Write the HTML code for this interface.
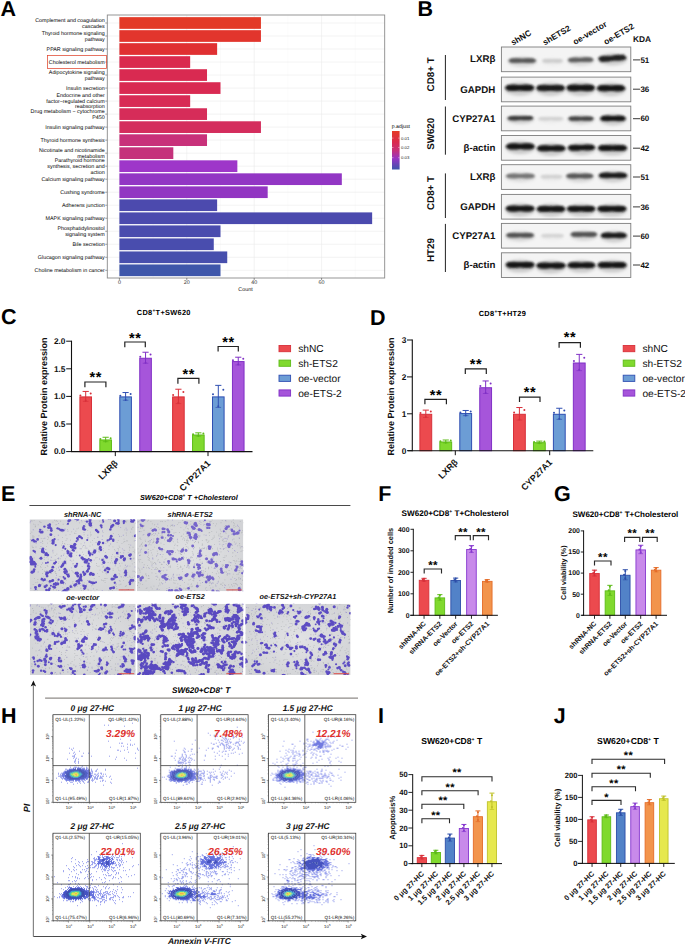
<!DOCTYPE html><html><head><meta charset="utf-8"><title>Figure</title><style>html,body{margin:0;padding:0;background:#fff;}svg{display:block;}text{font-family:"Liberation Sans",sans-serif;text-rendering:geometricPrecision;}</style></head><body>
<svg width="685" height="946" viewBox="0 0 685 946" font-family="Liberation Sans, sans-serif">
<defs><filter id="blur1" x="-20%" y="-100%" width="140%" height="300%"><feGaussianBlur stdDeviation="1.1"/></filter><filter id="blur2" x="-20%" y="-100%" width="140%" height="300%"><feGaussianBlur stdDeviation="1.0"/></filter><filter id="blurh" x="-20%" y="-100%" width="140%" height="300%"><feGaussianBlur stdDeviation="1.8"/></filter><filter id="blurf" x="-5%" y="-5%" width="110%" height="110%"><feGaussianBlur stdDeviation="0.3"/></filter><filter id="blurm" x="-10%" y="-10%" width="120%" height="120%"><feGaussianBlur stdDeviation="2"/></filter><filter id="blurc" x="-50%" y="-50%" width="200%" height="200%"><feGaussianBlur stdDeviation="0.4"/></filter><linearGradient id="padj" x1="0" y1="0" x2="0" y2="1"><stop offset="0" stop-color="#E53A26"/><stop offset="0.3" stop-color="#D92A4F"/><stop offset="0.5" stop-color="#C73178"/><stop offset="0.72" stop-color="#9535C4"/><stop offset="1" stop-color="#3D55AA"/></linearGradient><radialGradient id="mbg" cx="0.5" cy="0.5" r="0.6"><stop offset="0" stop-color="#e1e2e4"/><stop offset="1" stop-color="#d2d3d6"/></radialGradient><radialGradient id="core"><stop offset="0" stop-color="#f0e040"/><stop offset="0.25" stop-color="#90e040"/><stop offset="0.5" stop-color="#20c0a0"/><stop offset="0.75" stop-color="#2050e0"/><stop offset="1" stop-color="#3040e0" stop-opacity="0"/></radialGradient><radialGradient id="core2"><stop offset="0" stop-color="#40b0c0"/><stop offset="0.4" stop-color="#2848d8"/><stop offset="1" stop-color="#3040e0" stop-opacity="0"/></radialGradient></defs>
<text x="0.5" y="15.8" font-size="21.5" font-weight="bold">A</text>
<rect x="107.3" y="15" width="277.4" height="263" fill="#fff"/>
<line x1="119.4" y1="15" x2="119.4" y2="278" stroke="#ebebeb" stroke-width="0.6"/>
<line x1="153.1" y1="15" x2="153.1" y2="278" stroke="#f4f4f4" stroke-width="0.4"/>
<line x1="186.8" y1="15" x2="186.8" y2="278" stroke="#ebebeb" stroke-width="0.6"/>
<line x1="220.5" y1="15" x2="220.5" y2="278" stroke="#f4f4f4" stroke-width="0.4"/>
<line x1="254.2" y1="15" x2="254.2" y2="278" stroke="#ebebeb" stroke-width="0.6"/>
<line x1="287.9" y1="15" x2="287.9" y2="278" stroke="#f4f4f4" stroke-width="0.4"/>
<line x1="321.6" y1="15" x2="321.6" y2="278" stroke="#ebebeb" stroke-width="0.6"/>
<line x1="355.3" y1="15" x2="355.3" y2="278" stroke="#f4f4f4" stroke-width="0.4"/>
<line x1="107.3" y1="23" x2="384.7" y2="23" stroke="#ebebeb" stroke-width="0.6"/>
<line x1="107.3" y1="36.02" x2="384.7" y2="36.02" stroke="#ebebeb" stroke-width="0.6"/>
<line x1="107.3" y1="49.03" x2="384.7" y2="49.03" stroke="#ebebeb" stroke-width="0.6"/>
<line x1="107.3" y1="62.05" x2="384.7" y2="62.05" stroke="#ebebeb" stroke-width="0.6"/>
<line x1="107.3" y1="75.06" x2="384.7" y2="75.06" stroke="#ebebeb" stroke-width="0.6"/>
<line x1="107.3" y1="88.08" x2="384.7" y2="88.08" stroke="#ebebeb" stroke-width="0.6"/>
<line x1="107.3" y1="101.1" x2="384.7" y2="101.1" stroke="#ebebeb" stroke-width="0.6"/>
<line x1="107.3" y1="114.11" x2="384.7" y2="114.11" stroke="#ebebeb" stroke-width="0.6"/>
<line x1="107.3" y1="127.13" x2="384.7" y2="127.13" stroke="#ebebeb" stroke-width="0.6"/>
<line x1="107.3" y1="140.14" x2="384.7" y2="140.14" stroke="#ebebeb" stroke-width="0.6"/>
<line x1="107.3" y1="153.16" x2="384.7" y2="153.16" stroke="#ebebeb" stroke-width="0.6"/>
<line x1="107.3" y1="166.18" x2="384.7" y2="166.18" stroke="#ebebeb" stroke-width="0.6"/>
<line x1="107.3" y1="179.19" x2="384.7" y2="179.19" stroke="#ebebeb" stroke-width="0.6"/>
<line x1="107.3" y1="192.21" x2="384.7" y2="192.21" stroke="#ebebeb" stroke-width="0.6"/>
<line x1="107.3" y1="205.22" x2="384.7" y2="205.22" stroke="#ebebeb" stroke-width="0.6"/>
<line x1="107.3" y1="218.24" x2="384.7" y2="218.24" stroke="#ebebeb" stroke-width="0.6"/>
<line x1="107.3" y1="231.26" x2="384.7" y2="231.26" stroke="#ebebeb" stroke-width="0.6"/>
<line x1="107.3" y1="244.27" x2="384.7" y2="244.27" stroke="#ebebeb" stroke-width="0.6"/>
<line x1="107.3" y1="257.29" x2="384.7" y2="257.29" stroke="#ebebeb" stroke-width="0.6"/>
<line x1="107.3" y1="270.3" x2="384.7" y2="270.3" stroke="#ebebeb" stroke-width="0.6"/>
<rect x="119.4" y="17.15" width="141.54" height="11.7" fill="#E33A27"/>
<line x1="105.3" y1="23" x2="107.3" y2="23" stroke="#333" stroke-width="0.5"/>
<text x="104.7" y="22.07" font-size="5.35" text-anchor="end">Complement and coagulation</text>
<text x="104.7" y="27.62" font-size="5.35" text-anchor="end">cascades</text>
<rect x="119.4" y="30.17" width="141.54" height="11.7" fill="#E2352D"/>
<line x1="105.3" y1="36.02" x2="107.3" y2="36.02" stroke="#333" stroke-width="0.5"/>
<text x="104.7" y="35.09" font-size="5.35" text-anchor="end">Thyroid hormone signaling</text>
<text x="104.7" y="40.64" font-size="5.35" text-anchor="end">pathway</text>
<rect x="119.4" y="43.18" width="97.73" height="11.7" fill="#E03032"/>
<line x1="105.3" y1="49.03" x2="107.3" y2="49.03" stroke="#333" stroke-width="0.5"/>
<text x="104.7" y="50.88" font-size="5.35" text-anchor="end">PPAR signaling pathway</text>
<rect x="119.4" y="56.2" width="70.77" height="11.7" fill="#DA2A4E"/>
<line x1="105.3" y1="62.05" x2="107.3" y2="62.05" stroke="#333" stroke-width="0.5"/>
<text x="104.7" y="63.89" font-size="5.35" text-anchor="end">Cholesterol metabolism</text>
<rect x="119.4" y="69.21" width="87.62" height="11.7" fill="#D92A51"/>
<line x1="105.3" y1="75.06" x2="107.3" y2="75.06" stroke="#333" stroke-width="0.5"/>
<text x="104.7" y="74.13" font-size="5.35" text-anchor="end">Adipocytokine signaling</text>
<text x="104.7" y="79.68" font-size="5.35" text-anchor="end">pathway</text>
<rect x="119.4" y="82.23" width="101.1" height="11.7" fill="#D92A52"/>
<line x1="105.3" y1="88.08" x2="107.3" y2="88.08" stroke="#333" stroke-width="0.5"/>
<text x="104.7" y="89.93" font-size="5.35" text-anchor="end">Insulin secretion</text>
<rect x="119.4" y="95.25" width="70.77" height="11.7" fill="#D82B55"/>
<line x1="105.3" y1="101.1" x2="107.3" y2="101.1" stroke="#333" stroke-width="0.5"/>
<text x="104.7" y="97.39" font-size="5.35" text-anchor="end">Endocrine and other</text>
<text x="104.7" y="102.94" font-size="5.35" text-anchor="end">factor−regulated calcium</text>
<text x="104.7" y="108.49" font-size="5.35" text-anchor="end">reabsorption</text>
<rect x="119.4" y="108.26" width="87.62" height="11.7" fill="#D62C59"/>
<line x1="105.3" y1="114.11" x2="107.3" y2="114.11" stroke="#333" stroke-width="0.5"/>
<text x="104.7" y="113.18" font-size="5.35" text-anchor="end">Drug metabolism − cytochrome</text>
<text x="104.7" y="118.73" font-size="5.35" text-anchor="end">P450</text>
<rect x="119.4" y="121.28" width="141.54" height="11.7" fill="#D42D5D"/>
<line x1="105.3" y1="127.13" x2="107.3" y2="127.13" stroke="#333" stroke-width="0.5"/>
<text x="104.7" y="128.97" font-size="5.35" text-anchor="end">Insulin signaling pathway</text>
<rect x="119.4" y="134.29" width="87.62" height="11.7" fill="#C8317A"/>
<line x1="105.3" y1="140.14" x2="107.3" y2="140.14" stroke="#333" stroke-width="0.5"/>
<text x="104.7" y="141.99" font-size="5.35" text-anchor="end">Thyroid hormone synthesis</text>
<rect x="119.4" y="147.31" width="53.92" height="11.7" fill="#C5327B"/>
<line x1="105.3" y1="153.16" x2="107.3" y2="153.16" stroke="#333" stroke-width="0.5"/>
<text x="104.7" y="152.23" font-size="5.35" text-anchor="end">Nicotinate and nicotinamide</text>
<text x="104.7" y="157.78" font-size="5.35" text-anchor="end">metabolism</text>
<rect x="119.4" y="160.33" width="117.95" height="11.7" fill="#9E36C9"/>
<line x1="105.3" y1="166.18" x2="107.3" y2="166.18" stroke="#333" stroke-width="0.5"/>
<text x="104.7" y="162.47" font-size="5.35" text-anchor="end">Parathyroid hormone</text>
<text x="104.7" y="168.02" font-size="5.35" text-anchor="end">synthesis, secretion and</text>
<text x="104.7" y="173.57" font-size="5.35" text-anchor="end">action</text>
<rect x="119.4" y="173.34" width="222.42" height="11.7" fill="#9236C4"/>
<line x1="105.3" y1="179.19" x2="107.3" y2="179.19" stroke="#333" stroke-width="0.5"/>
<text x="104.7" y="181.04" font-size="5.35" text-anchor="end">Calcium signaling pathway</text>
<rect x="119.4" y="186.36" width="148.28" height="11.7" fill="#9236C2"/>
<line x1="105.3" y1="192.21" x2="107.3" y2="192.21" stroke="#333" stroke-width="0.5"/>
<text x="104.7" y="194.05" font-size="5.35" text-anchor="end">Cushing syndrome</text>
<rect x="119.4" y="199.37" width="97.73" height="11.7" fill="#4C4AAE"/>
<line x1="105.3" y1="205.22" x2="107.3" y2="205.22" stroke="#333" stroke-width="0.5"/>
<text x="104.7" y="207.07" font-size="5.35" text-anchor="end">Adherens junction</text>
<rect x="119.4" y="212.39" width="252.75" height="11.7" fill="#4B4AAE"/>
<line x1="105.3" y1="218.24" x2="107.3" y2="218.24" stroke="#333" stroke-width="0.5"/>
<text x="104.7" y="220.09" font-size="5.35" text-anchor="end">MAPK signaling pathway</text>
<rect x="119.4" y="225.41" width="101.1" height="11.7" fill="#4A4CAE"/>
<line x1="105.3" y1="231.26" x2="107.3" y2="231.26" stroke="#333" stroke-width="0.5"/>
<text x="104.7" y="230.33" font-size="5.35" text-anchor="end">Phosphatidylinositol</text>
<text x="104.7" y="235.88" font-size="5.35" text-anchor="end">signaling system</text>
<rect x="119.4" y="238.42" width="94.36" height="11.7" fill="#494DAE"/>
<line x1="105.3" y1="244.27" x2="107.3" y2="244.27" stroke="#333" stroke-width="0.5"/>
<text x="104.7" y="246.12" font-size="5.35" text-anchor="end">Bile secretion</text>
<rect x="119.4" y="251.44" width="107.84" height="11.7" fill="#474FAD"/>
<line x1="105.3" y1="257.29" x2="107.3" y2="257.29" stroke="#333" stroke-width="0.5"/>
<text x="104.7" y="259.13" font-size="5.35" text-anchor="end">Glucagon signaling pathway</text>
<rect x="119.4" y="264.45" width="101.1" height="11.7" fill="#3E56AA"/>
<line x1="105.3" y1="270.3" x2="107.3" y2="270.3" stroke="#333" stroke-width="0.5"/>
<text x="104.7" y="272.15" font-size="5.35" text-anchor="end">Choline metabolism in cancer</text>
<rect x="107.3" y="15" width="277.4" height="263" fill="none" stroke="#8a8a8a" stroke-width="0.9"/>
<line x1="119.4" y1="278" x2="119.4" y2="280" stroke="#333" stroke-width="0.5"/>
<text x="119.4" y="284.45" font-size="5.35" text-anchor="middle" fill="#333">0</text>
<line x1="186.8" y1="278" x2="186.8" y2="280" stroke="#333" stroke-width="0.5"/>
<text x="186.8" y="284.45" font-size="5.35" text-anchor="middle" fill="#333">20</text>
<line x1="254.2" y1="278" x2="254.2" y2="280" stroke="#333" stroke-width="0.5"/>
<text x="254.2" y="284.45" font-size="5.35" text-anchor="middle" fill="#333">40</text>
<line x1="321.6" y1="278" x2="321.6" y2="280" stroke="#333" stroke-width="0.5"/>
<text x="321.6" y="284.45" font-size="5.35" text-anchor="middle" fill="#333">60</text>
<text x="245.5" y="291.45" font-size="5.35" text-anchor="middle" fill="#111">Count</text>
<text x="391.8" y="128.19" font-size="5.2">p.adjust</text>
<rect x="392" y="131" width="7.6" height="38.5" fill="url(#padj)"/>
<line x1="392" y1="138.1" x2="393.5" y2="138.1" stroke="#fff" stroke-width="0.4"/>
<line x1="398.1" y1="138.1" x2="399.6" y2="138.1" stroke="#fff" stroke-width="0.4"/>
<text x="401" y="139.58" font-size="4.3" fill="#222">0.01</text>
<line x1="392" y1="147.5" x2="393.5" y2="147.5" stroke="#fff" stroke-width="0.4"/>
<line x1="398.1" y1="147.5" x2="399.6" y2="147.5" stroke="#fff" stroke-width="0.4"/>
<text x="401" y="148.98" font-size="4.3" fill="#222">0.02</text>
<line x1="392" y1="157.7" x2="393.5" y2="157.7" stroke="#fff" stroke-width="0.4"/>
<line x1="398.1" y1="157.7" x2="399.6" y2="157.7" stroke="#fff" stroke-width="0.4"/>
<text x="401" y="159.18" font-size="4.3" fill="#222">0.03</text>
<rect x="47.4" y="55.6" width="59.2" height="13" fill="none" stroke="#E0452F" stroke-width="0.75"/>
<text x="417.6" y="15.8" font-size="21.5" font-weight="bold">B</text>
<text transform="translate(513 45.6) rotate(-30.5)" x="0" y="0" font-size="8.4" font-weight="bold" fill="#111">shNC</text>
<text transform="translate(544.8 45.4) rotate(-30.5)" x="0" y="0" font-size="8.4" font-weight="bold" fill="#111">shETS2</text>
<text transform="translate(575 45) rotate(-30.5)" x="0" y="0" font-size="8.4" font-weight="bold" fill="#111">oe-vector</text>
<text transform="translate(605.8 45) rotate(-30.5)" x="0" y="0" font-size="8.4" font-weight="bold" fill="#111">oe-ETS2</text>
<text x="633" y="42.1" font-size="8.4" font-weight="bold" fill="#111">KDA</text>
<rect x="501.4" y="47" width="129.4" height="24.7" fill="#f4f4f4"/>
<g filter="url(#blurh)">
<ellipse cx="522.3" cy="61.8" rx="14.5" ry="5.06" fill="#d7d7d7"/>
<ellipse cx="552.5" cy="62" rx="11" ry="3.96" fill="#ececec"/>
<ellipse cx="580.7" cy="61" rx="13.4" ry="5.06" fill="#d9d9d9"/>
<ellipse cx="612.45" cy="59.4" rx="14.65" ry="6.16" fill="#cdcdcd"/>
</g>
<g filter="url(#blur2)">
<ellipse cx="516.14" cy="60.6" rx="7.84" ry="2.42" fill="#585858"/>
<ellipse cx="528.46" cy="60.6" rx="7.84" ry="2.42" fill="#585858"/>
<path d="M510.54 58.48L534.06 58.48L534.06 62.72L510.54 62.72Z" fill="#585858"/>
<ellipse cx="547.88" cy="60.8" rx="5.88" ry="1.89" fill="#cdcdcd"/>
<ellipse cx="557.12" cy="60.8" rx="5.88" ry="1.89" fill="#cdcdcd"/>
<path d="M543.68 59.14L561.32 59.14L561.32 62.46L543.68 62.46Z" fill="#cdcdcd"/>
<ellipse cx="575.02" cy="59.93" rx="7.22" ry="2.42" fill="#5f5f5f"/>
<ellipse cx="586.38" cy="59.67" rx="7.22" ry="2.42" fill="#5f5f5f"/>
<path d="M569.86 57.98L591.54 57.38L591.54 61.62L569.86 62.22Z" fill="#5f5f5f"/>
<ellipse cx="606.22" cy="58.68" rx="7.92" ry="2.94" fill="#202020"/>
<ellipse cx="618.68" cy="57.72" rx="7.92" ry="2.94" fill="#202020"/>
<path d="M600.56 56.72L624.34 54.52L624.34 59.68L600.56 61.88Z" fill="#202020"/>
</g>
<rect x="501.4" y="47" width="129.4" height="24.7" fill="none" stroke="#7d7d7d" stroke-width="0.9"/>
<rect x="501.4" y="77.1" width="129.4" height="24.7" fill="#f4f4f4"/>
<g filter="url(#blurh)">
<ellipse cx="519.7" cy="89" rx="15.2" ry="6.82" fill="#cccccc"/>
<ellipse cx="550.6" cy="89.2" rx="14.9" ry="6.82" fill="#cccccc"/>
<ellipse cx="580.7" cy="89" rx="14.8" ry="7.04" fill="#cbcbcb"/>
<ellipse cx="611.1" cy="89.4" rx="14.8" ry="6.82" fill="#cccccc"/>
</g>
<g filter="url(#blur2)">
<ellipse cx="513.23" cy="87.8" rx="8.23" ry="3.26" fill="#161616"/>
<ellipse cx="526.17" cy="87.8" rx="8.23" ry="3.26" fill="#161616"/>
<path d="M507.35 84.95L532.05 84.95L532.05 90.65L507.35 90.65Z" fill="#161616"/>
<ellipse cx="544.26" cy="88" rx="8.06" ry="3.26" fill="#1a1a1a"/>
<ellipse cx="556.94" cy="88" rx="8.06" ry="3.26" fill="#1a1a1a"/>
<path d="M538.5 85.15L562.7 85.15L562.7 90.85L538.5 90.85Z" fill="#1a1a1a"/>
<ellipse cx="574.41" cy="87.8" rx="8.01" ry="3.36" fill="#121212"/>
<ellipse cx="586.99" cy="87.8" rx="8.01" ry="3.36" fill="#121212"/>
<path d="M568.69 84.86L592.71 84.86L592.71 90.74L568.69 90.74Z" fill="#121212"/>
<ellipse cx="604.81" cy="88.2" rx="8.01" ry="3.26" fill="#181818"/>
<ellipse cx="617.39" cy="88.2" rx="8.01" ry="3.26" fill="#181818"/>
<path d="M599.09 85.35L623.11 85.35L623.11 91.05L599.09 91.05Z" fill="#181818"/>
</g>
<rect x="501.4" y="77.1" width="129.4" height="24.7" fill="none" stroke="#7d7d7d" stroke-width="0.9"/>
<rect x="501.4" y="106.1" width="129.4" height="24.7" fill="#f4f4f4"/>
<g filter="url(#blurh)">
<ellipse cx="520.4" cy="119.4" rx="13.7" ry="4.62" fill="#d2d2d2"/>
<ellipse cx="550.75" cy="119.9" rx="13.25" ry="3.74" fill="#ededed"/>
<ellipse cx="581" cy="119.8" rx="13.5" ry="4.62" fill="#d4d4d4"/>
<ellipse cx="613" cy="119.6" rx="13.5" ry="5.94" fill="#cccccc"/>
</g>
<g filter="url(#blur2)">
<ellipse cx="514.59" cy="118.29" rx="7.39" ry="2.21" fill="#3a3a3a"/>
<ellipse cx="526.21" cy="118.11" rx="7.39" ry="2.21" fill="#3a3a3a"/>
<path d="M509.31 116.47L531.49 116.07L531.49 119.93L509.31 120.33Z" fill="#3a3a3a"/>
<ellipse cx="545.14" cy="118.7" rx="7.14" ry="1.78" fill="#d2d2d2"/>
<ellipse cx="556.36" cy="118.7" rx="7.14" ry="1.78" fill="#d2d2d2"/>
<path d="M540.04 117.14L561.46 117.14L561.46 120.26L540.04 120.26Z" fill="#d2d2d2"/>
<ellipse cx="575.28" cy="118.6" rx="7.28" ry="2.21" fill="#444444"/>
<ellipse cx="586.72" cy="118.6" rx="7.28" ry="2.21" fill="#444444"/>
<path d="M570.08 116.67L591.92 116.67L591.92 120.53L570.08 120.53Z" fill="#444444"/>
<ellipse cx="607.28" cy="118.4" rx="7.28" ry="2.84" fill="#181818"/>
<ellipse cx="618.72" cy="118.4" rx="7.28" ry="2.84" fill="#181818"/>
<path d="M602.08 115.92L623.92 115.92L623.92 120.88L602.08 120.88Z" fill="#181818"/>
</g>
<rect x="501.4" y="106.1" width="129.4" height="24.7" fill="none" stroke="#7d7d7d" stroke-width="0.9"/>
<rect x="501.4" y="135.5" width="129.4" height="24.7" fill="#f4f4f4"/>
<g filter="url(#blurh)">
<ellipse cx="520.3" cy="147.6" rx="15" ry="6.6" fill="#cbcbcb"/>
<ellipse cx="551.2" cy="149.5" rx="14.9" ry="6.38" fill="#cbcbcb"/>
<ellipse cx="581.5" cy="148.8" rx="14.2" ry="6.38" fill="#cbcbcb"/>
<ellipse cx="612.5" cy="149.2" rx="15.2" ry="6.38" fill="#cbcbcb"/>
</g>
<g filter="url(#blur2)">
<ellipse cx="513.92" cy="146.4" rx="8.12" ry="3.15" fill="#141414"/>
<ellipse cx="526.68" cy="146.4" rx="8.12" ry="3.15" fill="#141414"/>
<path d="M508.12 143.64L532.48 143.64L532.48 149.16L508.12 149.16Z" fill="#141414"/>
<ellipse cx="544.86" cy="148.3" rx="8.06" ry="3.04" fill="#121212"/>
<ellipse cx="557.54" cy="148.3" rx="8.06" ry="3.04" fill="#121212"/>
<path d="M539.1 145.63L563.3 145.63L563.3 150.97L539.1 150.97Z" fill="#121212"/>
<ellipse cx="575.47" cy="147.73" rx="7.67" ry="3.04" fill="#141414"/>
<ellipse cx="587.53" cy="147.47" rx="7.67" ry="3.04" fill="#141414"/>
<path d="M569.99 145.23L593.01 144.63L593.01 149.97L569.99 150.57Z" fill="#141414"/>
<ellipse cx="606.03" cy="148" rx="8.23" ry="3.04" fill="#141414"/>
<ellipse cx="618.97" cy="148" rx="8.23" ry="3.04" fill="#141414"/>
<path d="M600.15 145.33L624.85 145.33L624.85 150.67L600.15 150.67Z" fill="#141414"/>
</g>
<rect x="501.4" y="135.5" width="129.4" height="24.7" fill="none" stroke="#7d7d7d" stroke-width="0.9"/>
<rect x="501.4" y="164.7" width="129.4" height="24.7" fill="#f4f4f4"/>
<g filter="url(#blurh)">
<ellipse cx="520.4" cy="177.2" rx="15.1" ry="5.06" fill="#dddddd"/>
<ellipse cx="551.5" cy="177.9" rx="11.5" ry="3.96" fill="#ededed"/>
<ellipse cx="579.75" cy="177.2" rx="14.25" ry="5.28" fill="#d7d7d7"/>
<ellipse cx="613" cy="176.6" rx="15" ry="5.94" fill="#cdcdcd"/>
</g>
<g filter="url(#blur2)">
<ellipse cx="513.98" cy="176" rx="8.18" ry="2.42" fill="#767676"/>
<ellipse cx="526.82" cy="176" rx="8.18" ry="2.42" fill="#767676"/>
<path d="M508.14 173.88L532.66 173.88L532.66 178.12L508.14 178.12Z" fill="#767676"/>
<ellipse cx="546.66" cy="176.7" rx="6.16" ry="1.89" fill="#d2d2d2"/>
<ellipse cx="556.34" cy="176.7" rx="6.16" ry="1.89" fill="#d2d2d2"/>
<path d="M542.26 175.04L560.74 175.04L560.74 178.36L542.26 178.36Z" fill="#d2d2d2"/>
<ellipse cx="573.7" cy="176" rx="7.7" ry="2.52" fill="#585858"/>
<ellipse cx="585.8" cy="176" rx="7.7" ry="2.52" fill="#585858"/>
<path d="M568.2 173.79L591.3 173.79L591.3 178.21L568.2 178.21Z" fill="#585858"/>
<ellipse cx="606.62" cy="175.4" rx="8.12" ry="2.84" fill="#1e1e1e"/>
<ellipse cx="619.38" cy="175.4" rx="8.12" ry="2.84" fill="#1e1e1e"/>
<path d="M600.82 172.92L625.18 172.92L625.18 177.88L600.82 177.88Z" fill="#1e1e1e"/>
</g>
<rect x="501.4" y="164.7" width="129.4" height="24.7" fill="none" stroke="#7d7d7d" stroke-width="0.9"/>
<rect x="501.4" y="194.4" width="129.4" height="24.7" fill="#f4f4f4"/>
<g filter="url(#blurh)">
<ellipse cx="520.1" cy="209.8" rx="15" ry="6.6" fill="#cbcbcb"/>
<ellipse cx="551" cy="210.1" rx="14.9" ry="6.6" fill="#cbcbcb"/>
<ellipse cx="581.1" cy="210" rx="14.8" ry="6.6" fill="#cccccc"/>
<ellipse cx="611.9" cy="210" rx="15.2" ry="6.6" fill="#cccccc"/>
</g>
<g filter="url(#blur2)">
<ellipse cx="513.72" cy="208.6" rx="8.12" ry="3.15" fill="#141414"/>
<ellipse cx="526.48" cy="208.6" rx="8.12" ry="3.15" fill="#141414"/>
<path d="M507.92 205.84L532.28 205.84L532.28 211.36L507.92 211.36Z" fill="#141414"/>
<ellipse cx="544.66" cy="208.9" rx="8.06" ry="3.15" fill="#141414"/>
<ellipse cx="557.34" cy="208.9" rx="8.06" ry="3.15" fill="#141414"/>
<path d="M538.9 206.14L563.1 206.14L563.1 211.66L538.9 211.66Z" fill="#141414"/>
<ellipse cx="574.81" cy="208.8" rx="8.01" ry="3.15" fill="#161616"/>
<ellipse cx="587.39" cy="208.8" rx="8.01" ry="3.15" fill="#161616"/>
<path d="M569.09 206.04L593.11 206.04L593.11 211.56L569.09 211.56Z" fill="#161616"/>
<ellipse cx="605.43" cy="208.8" rx="8.23" ry="3.15" fill="#161616"/>
<ellipse cx="618.37" cy="208.8" rx="8.23" ry="3.15" fill="#161616"/>
<path d="M599.55 206.04L624.25 206.04L624.25 211.56L599.55 211.56Z" fill="#161616"/>
</g>
<rect x="501.4" y="194.4" width="129.4" height="24.7" fill="none" stroke="#7d7d7d" stroke-width="0.9"/>
<rect x="501.4" y="223.4" width="129.4" height="24.7" fill="#f4f4f4"/>
<g filter="url(#blurh)">
<ellipse cx="520.1" cy="236.4" rx="14.6" ry="5.06" fill="#d6d6d6"/>
<ellipse cx="552.5" cy="237" rx="12" ry="3.74" fill="#eeeeee"/>
<ellipse cx="583.9" cy="235.6" rx="13.8" ry="5.28" fill="#d6d6d6"/>
<ellipse cx="613.8" cy="236.6" rx="13.7" ry="5.94" fill="#cdcdcd"/>
</g>
<g filter="url(#blur2)">
<ellipse cx="513.9" cy="235.2" rx="7.9" ry="2.42" fill="#525252"/>
<ellipse cx="526.3" cy="235.2" rx="7.9" ry="2.42" fill="#525252"/>
<path d="M508.26 233.08L531.94 233.08L531.94 237.32L508.26 237.32Z" fill="#525252"/>
<ellipse cx="547.44" cy="235.8" rx="6.44" ry="1.78" fill="#d4d4d4"/>
<ellipse cx="557.56" cy="235.8" rx="6.44" ry="1.78" fill="#d4d4d4"/>
<path d="M542.84 234.24L562.16 234.24L562.16 237.36L542.84 237.36Z" fill="#d4d4d4"/>
<ellipse cx="578.05" cy="234.4" rx="7.45" ry="2.52" fill="#525252"/>
<ellipse cx="589.75" cy="234.4" rx="7.45" ry="2.52" fill="#525252"/>
<path d="M572.73 232.19L595.07 232.19L595.07 236.61L572.73 236.61Z" fill="#525252"/>
<ellipse cx="607.99" cy="235.4" rx="7.39" ry="2.84" fill="#1e1e1e"/>
<ellipse cx="619.61" cy="235.4" rx="7.39" ry="2.84" fill="#1e1e1e"/>
<path d="M602.71 232.92L624.89 232.92L624.89 237.88L602.71 237.88Z" fill="#1e1e1e"/>
</g>
<rect x="501.4" y="223.4" width="129.4" height="24.7" fill="none" stroke="#7d7d7d" stroke-width="0.9"/>
<rect x="501.4" y="252.8" width="129.4" height="24.7" fill="#f4f4f4"/>
<g filter="url(#blurh)">
<ellipse cx="520.1" cy="266" rx="15" ry="6.6" fill="#cbcbcb"/>
<ellipse cx="551" cy="266.8" rx="15.1" ry="6.6" fill="#cbcbcb"/>
<ellipse cx="581.4" cy="266.4" rx="14.5" ry="6.38" fill="#cbcbcb"/>
<ellipse cx="612.1" cy="266.2" rx="15.2" ry="6.38" fill="#cbcbcb"/>
</g>
<g filter="url(#blur2)">
<ellipse cx="513.72" cy="264.8" rx="8.12" ry="3.15" fill="#141414"/>
<ellipse cx="526.48" cy="264.8" rx="8.12" ry="3.15" fill="#141414"/>
<path d="M507.92 262.04L532.28 262.04L532.28 267.56L507.92 267.56Z" fill="#141414"/>
<ellipse cx="544.58" cy="265.6" rx="8.18" ry="3.15" fill="#121212"/>
<ellipse cx="557.42" cy="265.6" rx="8.18" ry="3.15" fill="#121212"/>
<path d="M538.74 262.84L563.26 262.84L563.26 268.36L538.74 268.36Z" fill="#121212"/>
<ellipse cx="575.24" cy="265.2" rx="7.84" ry="3.04" fill="#141414"/>
<ellipse cx="587.56" cy="265.2" rx="7.84" ry="3.04" fill="#141414"/>
<path d="M569.64 262.53L593.16 262.53L593.16 267.87L569.64 267.87Z" fill="#141414"/>
<ellipse cx="605.63" cy="265" rx="8.23" ry="3.04" fill="#141414"/>
<ellipse cx="618.57" cy="265" rx="8.23" ry="3.04" fill="#141414"/>
<path d="M599.75 262.33L624.45 262.33L624.45 267.67L599.75 267.67Z" fill="#141414"/>
</g>
<rect x="501.4" y="252.8" width="129.4" height="24.7" fill="none" stroke="#7d7d7d" stroke-width="0.9"/>
<text x="495.3" y="62.4" font-size="9.7" font-weight="bold" text-anchor="end" fill="#111">LXRβ</text>
<line x1="633" y1="59.9" x2="640.2" y2="59.9" stroke="#222" stroke-width="0.9"/>
<text x="640.4" y="62.66" font-size="8" font-weight="bold" fill="#111">51</text>
<text x="495.3" y="92.5" font-size="9.7" font-weight="bold" text-anchor="end" fill="#111">GAPDH</text>
<line x1="633" y1="89.2" x2="640.2" y2="89.2" stroke="#222" stroke-width="0.9"/>
<text x="640.4" y="91.96" font-size="8" font-weight="bold" fill="#111">36</text>
<text x="495.3" y="121.5" font-size="9.7" font-weight="bold" text-anchor="end" fill="#111">CYP27A1</text>
<line x1="633" y1="118.7" x2="640.2" y2="118.7" stroke="#222" stroke-width="0.9"/>
<text x="640.4" y="121.46" font-size="8" font-weight="bold" fill="#111">60</text>
<text x="495.3" y="150.9" font-size="9.7" font-weight="bold" text-anchor="end" fill="#111">β-actin</text>
<line x1="633" y1="148.2" x2="640.2" y2="148.2" stroke="#222" stroke-width="0.9"/>
<text x="640.4" y="150.96" font-size="8" font-weight="bold" fill="#111">42</text>
<text x="495.3" y="180.1" font-size="9.7" font-weight="bold" text-anchor="end" fill="#111">LXRβ</text>
<line x1="633" y1="177" x2="640.2" y2="177" stroke="#222" stroke-width="0.9"/>
<text x="640.4" y="179.76" font-size="8" font-weight="bold" fill="#111">51</text>
<text x="495.3" y="209.8" font-size="9.7" font-weight="bold" text-anchor="end" fill="#111">GAPDH</text>
<line x1="633" y1="206.9" x2="640.2" y2="206.9" stroke="#222" stroke-width="0.9"/>
<text x="640.4" y="209.66" font-size="8" font-weight="bold" fill="#111">36</text>
<text x="495.3" y="238.8" font-size="9.7" font-weight="bold" text-anchor="end" fill="#111">CYP27A1</text>
<line x1="633" y1="236.1" x2="640.2" y2="236.1" stroke="#222" stroke-width="0.9"/>
<text x="640.4" y="238.86" font-size="8" font-weight="bold" fill="#111">60</text>
<text x="495.3" y="268.2" font-size="9.7" font-weight="bold" text-anchor="end" fill="#111">β-actin</text>
<line x1="633" y1="265" x2="640.2" y2="265" stroke="#222" stroke-width="0.9"/>
<text x="640.4" y="267.76" font-size="8" font-weight="bold" fill="#111">42</text>
<line x1="445.4" y1="55" x2="445.4" y2="100" stroke="#222" stroke-width="1"/>
<line x1="445.4" y1="106.5" x2="445.4" y2="154.7" stroke="#222" stroke-width="1"/>
<line x1="445.4" y1="173.4" x2="445.4" y2="218" stroke="#222" stroke-width="1"/>
<line x1="445.4" y1="223.9" x2="445.4" y2="272" stroke="#222" stroke-width="1"/>
<text transform="translate(430.2 74.4) rotate(-90)" x="0" y="3.38" font-size="9.8" font-weight="bold" text-anchor="middle" fill="#111">CD8+ T</text>
<text transform="translate(430.2 133.8) rotate(-90)" x="0" y="3.38" font-size="9.8" font-weight="bold" text-anchor="middle" fill="#111">SW620</text>
<text transform="translate(430.2 193) rotate(-90)" x="0" y="3.38" font-size="9.8" font-weight="bold" text-anchor="middle" fill="#111">CD8+ T</text>
<text transform="translate(430.2 250) rotate(-90)" x="0" y="3.38" font-size="9.8" font-weight="bold" text-anchor="middle" fill="#111">HT29</text>
<text x="1.1" y="324.4" font-size="21.5" font-weight="bold">C</text>
<text x="136.8" y="315.15" font-size="7.4" font-weight="bold" letter-spacing="0.3">CD8<tspan font-size="4.8" dy="-2.7">+</tspan><tspan dy="2.7">T+SW620</tspan></text>
<rect x="79.9" y="396.9" width="11.6" height="54.7" fill="#EC4A4E" stroke="#D8303A" stroke-width="1"/>
<line x1="85.7" y1="391.43" x2="85.7" y2="401.37" stroke="#D8303A" stroke-width="1"/>
<line x1="82.6" y1="391.43" x2="88.8" y2="391.43" stroke="#D8303A" stroke-width="1"/>
<line x1="82.91" y1="401.37" x2="88.49" y2="401.37" stroke="#D8303A" stroke-width="0.9" stroke-opacity="0.75"/>
<circle cx="80.4" cy="395.41" r="1" fill="#D8303A"/>
<circle cx="90.7" cy="393.42" r="1" fill="#D8303A"/>
<circle cx="85.7" cy="400.87" r="1" fill="#D8303A"/>
<rect x="99.85" y="439.96" width="11.6" height="11.64" fill="#80D92E" stroke="#5DBB17" stroke-width="1"/>
<line x1="105.65" y1="437.25" x2="105.65" y2="441.66" stroke="#5DBB17" stroke-width="1"/>
<line x1="102.55" y1="437.25" x2="108.75" y2="437.25" stroke="#5DBB17" stroke-width="1"/>
<line x1="102.86" y1="441.66" x2="108.44" y2="441.66" stroke="#5DBB17" stroke-width="0.9" stroke-opacity="0.75"/>
<circle cx="100.35" cy="439.01" r="1" fill="#5DBB17"/>
<circle cx="110.65" cy="438.13" r="1" fill="#5DBB17"/>
<circle cx="105.65" cy="441.44" r="1" fill="#5DBB17"/>
<rect x="119.8" y="396.9" width="11.6" height="54.7" fill="#6C9DD5" stroke="#2F4FB2" stroke-width="1"/>
<line x1="125.6" y1="392.54" x2="125.6" y2="400.26" stroke="#2F4FB2" stroke-width="1"/>
<line x1="122.5" y1="392.54" x2="128.7" y2="392.54" stroke="#2F4FB2" stroke-width="1"/>
<line x1="122.81" y1="400.26" x2="128.39" y2="400.26" stroke="#2F4FB2" stroke-width="0.9" stroke-opacity="0.75"/>
<circle cx="120.3" cy="395.63" r="1" fill="#2F4FB2"/>
<circle cx="130.6" cy="394.08" r="1" fill="#2F4FB2"/>
<circle cx="125.6" cy="399.88" r="1" fill="#2F4FB2"/>
<rect x="139.75" y="358.26" width="11.6" height="93.34" fill="#A655DA" stroke="#8030C6" stroke-width="1"/>
<line x1="145.55" y1="352.24" x2="145.55" y2="363.28" stroke="#8030C6" stroke-width="1"/>
<line x1="142.45" y1="352.24" x2="148.65" y2="352.24" stroke="#8030C6" stroke-width="1"/>
<line x1="142.76" y1="363.28" x2="148.34" y2="363.28" stroke="#8030C6" stroke-width="0.9" stroke-opacity="0.75"/>
<circle cx="140.25" cy="356.66" r="1" fill="#8030C6"/>
<circle cx="150.55" cy="354.45" r="1" fill="#8030C6"/>
<circle cx="145.55" cy="362.73" r="1" fill="#8030C6"/>
<rect x="172.6" y="396.9" width="11.6" height="54.7" fill="#EC4A4E" stroke="#D8303A" stroke-width="1"/>
<line x1="178.4" y1="389.22" x2="178.4" y2="403.58" stroke="#D8303A" stroke-width="1"/>
<line x1="175.3" y1="389.22" x2="181.5" y2="389.22" stroke="#D8303A" stroke-width="1"/>
<line x1="175.61" y1="403.58" x2="181.19" y2="403.58" stroke="#D8303A" stroke-width="0.9" stroke-opacity="0.75"/>
<circle cx="173.1" cy="394.96" r="1" fill="#D8303A"/>
<circle cx="183.4" cy="392.09" r="1" fill="#D8303A"/>
<circle cx="178.4" cy="402.86" r="1" fill="#D8303A"/>
<rect x="192.55" y="434.99" width="11.6" height="16.61" fill="#80D92E" stroke="#5DBB17" stroke-width="1"/>
<line x1="198.35" y1="432.83" x2="198.35" y2="436.14" stroke="#5DBB17" stroke-width="1"/>
<line x1="195.25" y1="432.83" x2="201.45" y2="432.83" stroke="#5DBB17" stroke-width="1"/>
<line x1="195.56" y1="436.14" x2="201.14" y2="436.14" stroke="#5DBB17" stroke-width="0.9" stroke-opacity="0.75"/>
<circle cx="193.05" cy="434.16" r="1" fill="#5DBB17"/>
<circle cx="203.35" cy="433.49" r="1" fill="#5DBB17"/>
<circle cx="198.35" cy="435.98" r="1" fill="#5DBB17"/>
<rect x="212.5" y="396.9" width="11.6" height="54.7" fill="#6C9DD5" stroke="#2F4FB2" stroke-width="1"/>
<line x1="218.3" y1="385.36" x2="218.3" y2="407.44" stroke="#2F4FB2" stroke-width="1"/>
<line x1="215.2" y1="385.36" x2="221.4" y2="385.36" stroke="#2F4FB2" stroke-width="1"/>
<line x1="215.51" y1="407.44" x2="221.09" y2="407.44" stroke="#2F4FB2" stroke-width="0.9" stroke-opacity="0.75"/>
<circle cx="213" cy="394.19" r="1" fill="#2F4FB2"/>
<circle cx="223.3" cy="389.78" r="1" fill="#2F4FB2"/>
<circle cx="218.3" cy="406.34" r="1" fill="#2F4FB2"/>
<rect x="232.45" y="361.57" width="11.6" height="90.03" fill="#A655DA" stroke="#8030C6" stroke-width="1"/>
<line x1="238.25" y1="357.21" x2="238.25" y2="364.94" stroke="#8030C6" stroke-width="1"/>
<line x1="235.15" y1="357.21" x2="241.35" y2="357.21" stroke="#8030C6" stroke-width="1"/>
<line x1="235.46" y1="364.94" x2="241.04" y2="364.94" stroke="#8030C6" stroke-width="0.9" stroke-opacity="0.75"/>
<circle cx="232.95" cy="360.3" r="1" fill="#8030C6"/>
<circle cx="243.25" cy="358.75" r="1" fill="#8030C6"/>
<circle cx="238.25" cy="364.55" r="1" fill="#8030C6"/>
<line x1="71.5" y1="452.1" x2="71.5" y2="340.7" stroke="#111" stroke-width="1.1"/>
<line x1="71.5" y1="451.6" x2="252.5" y2="451.6" stroke="#111" stroke-width="1.1"/>
<line x1="66.2" y1="451.6" x2="71.5" y2="451.6" stroke="#111" stroke-width="1"/>
<text x="65.5" y="454.46" font-size="8.3" font-weight="bold" text-anchor="end" fill="#111">0.0</text>
<line x1="66.2" y1="424" x2="71.5" y2="424" stroke="#111" stroke-width="1"/>
<text x="65.5" y="426.86" font-size="8.3" font-weight="bold" text-anchor="end" fill="#111">0.5</text>
<line x1="66.2" y1="396.4" x2="71.5" y2="396.4" stroke="#111" stroke-width="1"/>
<text x="65.5" y="399.26" font-size="8.3" font-weight="bold" text-anchor="end" fill="#111">1.0</text>
<line x1="66.2" y1="368.8" x2="71.5" y2="368.8" stroke="#111" stroke-width="1"/>
<text x="65.5" y="371.66" font-size="8.3" font-weight="bold" text-anchor="end" fill="#111">1.5</text>
<line x1="66.2" y1="341.2" x2="71.5" y2="341.2" stroke="#111" stroke-width="1"/>
<text x="65.5" y="344.06" font-size="8.3" font-weight="bold" text-anchor="end" fill="#111">2.0</text>
<line x1="115.3" y1="451.6" x2="115.3" y2="456.1" stroke="#111" stroke-width="1"/>
<line x1="208" y1="451.6" x2="208" y2="456.1" stroke="#111" stroke-width="1"/>
<text transform="translate(118.3 463.9) rotate(-45)" x="0" y="0" font-size="8.9" font-weight="bold" text-anchor="end" fill="#111">LXRβ</text>
<text transform="translate(211 463.9) rotate(-45)" x="0" y="0" font-size="8.9" font-weight="bold" text-anchor="end" fill="#111">CYP27A1</text>
<text transform="translate(44 396.5) rotate(-90)" x="0" y="3.1" font-size="9" font-weight="bold" text-anchor="middle" fill="#111">Relative Protein expression</text>
<path d="M84.9 387.2V382H105.9V387.2" stroke="#222" stroke-width="1.2" fill="none"/>
<text x="95.7" y="382.29" font-size="14.5" font-weight="bold" text-anchor="middle" letter-spacing="0.6">**</text>
<path d="M124.8 347.3V342H145.3V347.3" stroke="#222" stroke-width="1.2" fill="none"/>
<text x="135.35" y="342.89" font-size="14.5" font-weight="bold" text-anchor="middle" letter-spacing="0.6">**</text>
<path d="M177.9 383.8V378.3H198.9V383.8" stroke="#222" stroke-width="1.2" fill="none"/>
<text x="188.7" y="379.39" font-size="14.5" font-weight="bold" text-anchor="middle" letter-spacing="0.6">**</text>
<path d="M218.1 351.4V346.5H238.3V351.4" stroke="#222" stroke-width="1.2" fill="none"/>
<text x="228.5" y="346.79" font-size="14.5" font-weight="bold" text-anchor="middle" letter-spacing="0.6">**</text>
<rect x="279" y="345.5" width="11.6" height="6.2" fill="#EC4A4E" stroke="#D8303A" stroke-width="0.9"/>
<text x="298.2" y="352.12" font-size="10.2" fill="#111">shNC</text>
<rect x="279" y="360.1" width="11.6" height="6.2" fill="#80D92E" stroke="#5DBB17" stroke-width="0.9"/>
<text x="298.2" y="366.72" font-size="10.2" fill="#111">sh-ETS2</text>
<rect x="279" y="375.2" width="11.6" height="6.2" fill="#6C9DD5" stroke="#2F4FB2" stroke-width="0.9"/>
<text x="298.2" y="381.82" font-size="10.2" fill="#111">oe-vector</text>
<rect x="279" y="389.9" width="11.6" height="6.2" fill="#A655DA" stroke="#8030C6" stroke-width="0.9"/>
<text x="298.2" y="396.52" font-size="10.2" fill="#111">oe-ETS-2</text>
<text x="370" y="324.5" font-size="21.5" font-weight="bold">D</text>
<text x="478.7" y="315.55" font-size="7.4" font-weight="bold" letter-spacing="0.3">CD8<tspan font-size="4.8" dy="-2.7">+</tspan><tspan dy="2.7">T+HT29</tspan></text>
<rect x="419.9" y="414.3" width="11.8" height="36.4" fill="#EC4A4E" stroke="#D8303A" stroke-width="1"/>
<line x1="425.8" y1="410.11" x2="425.8" y2="417.49" stroke="#D8303A" stroke-width="1"/>
<line x1="422.7" y1="410.11" x2="428.9" y2="410.11" stroke="#D8303A" stroke-width="1"/>
<line x1="423.01" y1="417.49" x2="428.59" y2="417.49" stroke="#D8303A" stroke-width="0.9" stroke-opacity="0.75"/>
<circle cx="420.5" cy="413.06" r="1" fill="#D8303A"/>
<circle cx="430.8" cy="411.59" r="1" fill="#D8303A"/>
<circle cx="425.8" cy="417.12" r="1" fill="#D8303A"/>
<rect x="439.85" y="441.97" width="11.8" height="8.73" fill="#80D92E" stroke="#5DBB17" stroke-width="1"/>
<line x1="445.75" y1="440" x2="445.75" y2="442.95" stroke="#5DBB17" stroke-width="1"/>
<line x1="442.65" y1="440" x2="448.85" y2="440" stroke="#5DBB17" stroke-width="1"/>
<line x1="442.96" y1="442.95" x2="448.54" y2="442.95" stroke="#5DBB17" stroke-width="0.9" stroke-opacity="0.75"/>
<circle cx="440.45" cy="441.18" r="1" fill="#5DBB17"/>
<circle cx="450.75" cy="440.59" r="1" fill="#5DBB17"/>
<circle cx="445.75" cy="442.8" r="1" fill="#5DBB17"/>
<rect x="459.8" y="413.56" width="11.8" height="37.14" fill="#6C9DD5" stroke="#2F4FB2" stroke-width="1"/>
<line x1="465.7" y1="410.48" x2="465.7" y2="415.64" stroke="#2F4FB2" stroke-width="1"/>
<line x1="462.6" y1="410.48" x2="468.8" y2="410.48" stroke="#2F4FB2" stroke-width="1"/>
<line x1="462.91" y1="415.64" x2="468.49" y2="415.64" stroke="#2F4FB2" stroke-width="0.9" stroke-opacity="0.75"/>
<circle cx="460.4" cy="412.55" r="1" fill="#2F4FB2"/>
<circle cx="470.7" cy="411.51" r="1" fill="#2F4FB2"/>
<circle cx="465.7" cy="415.39" r="1" fill="#2F4FB2"/>
<rect x="479.75" y="387.73" width="11.8" height="62.97" fill="#A655DA" stroke="#8030C6" stroke-width="1"/>
<line x1="485.65" y1="380.96" x2="485.65" y2="393.5" stroke="#8030C6" stroke-width="1"/>
<line x1="482.55" y1="380.96" x2="488.75" y2="380.96" stroke="#8030C6" stroke-width="1"/>
<line x1="482.86" y1="393.5" x2="488.44" y2="393.5" stroke="#8030C6" stroke-width="0.9" stroke-opacity="0.75"/>
<circle cx="480.35" cy="385.98" r="1" fill="#8030C6"/>
<circle cx="490.65" cy="383.47" r="1" fill="#8030C6"/>
<circle cx="485.65" cy="392.88" r="1" fill="#8030C6"/>
<rect x="513.5" y="414.3" width="11.8" height="36.4" fill="#EC4A4E" stroke="#D8303A" stroke-width="1"/>
<line x1="519.4" y1="407.53" x2="519.4" y2="420.07" stroke="#D8303A" stroke-width="1"/>
<line x1="516.3" y1="407.53" x2="522.5" y2="407.53" stroke="#D8303A" stroke-width="1"/>
<line x1="516.61" y1="420.07" x2="522.19" y2="420.07" stroke="#D8303A" stroke-width="0.9" stroke-opacity="0.75"/>
<circle cx="514.1" cy="412.55" r="1" fill="#D8303A"/>
<circle cx="524.4" cy="410.04" r="1" fill="#D8303A"/>
<circle cx="519.4" cy="419.45" r="1" fill="#D8303A"/>
<rect x="533.45" y="442.71" width="11.8" height="7.99" fill="#80D92E" stroke="#5DBB17" stroke-width="1"/>
<line x1="539.35" y1="441.11" x2="539.35" y2="443.32" stroke="#5DBB17" stroke-width="1"/>
<line x1="536.25" y1="441.11" x2="542.45" y2="441.11" stroke="#5DBB17" stroke-width="1"/>
<line x1="536.56" y1="443.32" x2="542.14" y2="443.32" stroke="#5DBB17" stroke-width="0.9" stroke-opacity="0.75"/>
<circle cx="534.05" cy="441.99" r="1" fill="#5DBB17"/>
<circle cx="544.35" cy="441.55" r="1" fill="#5DBB17"/>
<circle cx="539.35" cy="443.21" r="1" fill="#5DBB17"/>
<rect x="553.4" y="414.3" width="11.8" height="36.4" fill="#6C9DD5" stroke="#2F4FB2" stroke-width="1"/>
<line x1="559.3" y1="408.26" x2="559.3" y2="419.33" stroke="#2F4FB2" stroke-width="1"/>
<line x1="556.2" y1="408.26" x2="562.4" y2="408.26" stroke="#2F4FB2" stroke-width="1"/>
<line x1="556.51" y1="419.33" x2="562.09" y2="419.33" stroke="#2F4FB2" stroke-width="0.9" stroke-opacity="0.75"/>
<circle cx="554" cy="412.69" r="1" fill="#2F4FB2"/>
<circle cx="564.3" cy="410.48" r="1" fill="#2F4FB2"/>
<circle cx="559.3" cy="418.78" r="1" fill="#2F4FB2"/>
<rect x="573.35" y="363.01" width="11.8" height="87.69" fill="#A655DA" stroke="#8030C6" stroke-width="1"/>
<line x1="579.25" y1="354.39" x2="579.25" y2="370.63" stroke="#8030C6" stroke-width="1"/>
<line x1="576.15" y1="354.39" x2="582.35" y2="354.39" stroke="#8030C6" stroke-width="1"/>
<line x1="576.46" y1="370.63" x2="582.04" y2="370.63" stroke="#8030C6" stroke-width="0.9" stroke-opacity="0.75"/>
<circle cx="573.95" cy="360.89" r="1" fill="#8030C6"/>
<circle cx="584.25" cy="357.64" r="1" fill="#8030C6"/>
<circle cx="579.25" cy="369.82" r="1" fill="#8030C6"/>
<line x1="412.3" y1="451.2" x2="412.3" y2="339.5" stroke="#111" stroke-width="1.1"/>
<line x1="408" y1="450.7" x2="593.3" y2="450.7" stroke="#111" stroke-width="1.1"/>
<line x1="407" y1="450.7" x2="412.3" y2="450.7" stroke="#111" stroke-width="1"/>
<text x="406.3" y="453.56" font-size="8.3" font-weight="bold" text-anchor="end" fill="#111">0</text>
<line x1="407" y1="413.8" x2="412.3" y2="413.8" stroke="#111" stroke-width="1"/>
<text x="406.3" y="416.66" font-size="8.3" font-weight="bold" text-anchor="end" fill="#111">1</text>
<line x1="407" y1="376.9" x2="412.3" y2="376.9" stroke="#111" stroke-width="1"/>
<text x="406.3" y="379.76" font-size="8.3" font-weight="bold" text-anchor="end" fill="#111">2</text>
<line x1="407" y1="340" x2="412.3" y2="340" stroke="#111" stroke-width="1"/>
<text x="406.3" y="342.86" font-size="8.3" font-weight="bold" text-anchor="end" fill="#111">3</text>
<line x1="455.3" y1="450.7" x2="455.3" y2="455.2" stroke="#111" stroke-width="1"/>
<line x1="549.7" y1="450.7" x2="549.7" y2="455.2" stroke="#111" stroke-width="1"/>
<text transform="translate(458.3 463) rotate(-45)" x="0" y="0" font-size="8.9" font-weight="bold" text-anchor="end" fill="#111">LXRβ</text>
<text transform="translate(552.7 463) rotate(-45)" x="0" y="0" font-size="8.9" font-weight="bold" text-anchor="end" fill="#111">CYP27A1</text>
<text transform="translate(391.2 396.5) rotate(-90)" x="0" y="3.1" font-size="9" font-weight="bold" text-anchor="middle" fill="#111">Relative Protein expression</text>
<path d="M424.9 404.3V399.3H446.4V404.3" stroke="#222" stroke-width="1.2" fill="none"/>
<text x="435.95" y="399.89" font-size="14.5" font-weight="bold" text-anchor="middle" letter-spacing="0.6">**</text>
<path d="M465.3 374V368.8H486.3V374" stroke="#222" stroke-width="1.2" fill="none"/>
<text x="476.1" y="369.09" font-size="14.5" font-weight="bold" text-anchor="middle" letter-spacing="0.6">**</text>
<path d="M519.5 402V397.2H540V402" stroke="#222" stroke-width="1.2" fill="none"/>
<text x="530.05" y="396.69" font-size="14.5" font-weight="bold" text-anchor="middle" letter-spacing="0.6">**</text>
<path d="M559.1 347.8V342.6H580.4V347.8" stroke="#222" stroke-width="1.2" fill="none"/>
<text x="570.05" y="342.39" font-size="14.5" font-weight="bold" text-anchor="middle" letter-spacing="0.6">**</text>
<rect x="623.2" y="345.5" width="11.6" height="6.2" fill="#EC4A4E" stroke="#D8303A" stroke-width="0.9"/>
<text x="642.4" y="352.12" font-size="10.2" fill="#111">shNC</text>
<rect x="623.2" y="360.1" width="11.6" height="6.2" fill="#80D92E" stroke="#5DBB17" stroke-width="0.9"/>
<text x="642.4" y="366.72" font-size="10.2" fill="#111">sh-ETS2</text>
<rect x="623.2" y="375.2" width="11.6" height="6.2" fill="#6C9DD5" stroke="#2F4FB2" stroke-width="0.9"/>
<text x="642.4" y="381.82" font-size="10.2" fill="#111">oe-vector</text>
<rect x="623.2" y="389.9" width="11.6" height="6.2" fill="#A655DA" stroke="#8030C6" stroke-width="0.9"/>
<text x="642.4" y="396.52" font-size="10.2" fill="#111">oe-ETS-2</text>
<text x="0.9" y="500.8" font-size="21.5" font-weight="bold">E</text>
<text x="188.9" y="500" font-size="7.25" font-weight="bold" font-style="italic" text-anchor="middle">SW620+CD8<tspan font-size="4.6" dy="-2.6">+</tspan><tspan dy="2.6"> T +Cholesterol</tspan></text>
<line x1="29.4" y1="505.5" x2="350.4" y2="505.5" stroke="#4a4a4a" stroke-width="1.1"/>
<text x="82.6" y="516.72" font-size="7.3" font-weight="bold" font-style="italic" text-anchor="middle" fill="#111">shRNA-NC</text>
<text x="190.1" y="516.72" font-size="7.3" font-weight="bold" font-style="italic" text-anchor="middle" fill="#111">shRNA-ETS2</text>
<text x="82.8" y="599.52" font-size="7.3" font-weight="bold" font-style="italic" text-anchor="middle" fill="#111">oe-vector</text>
<text x="190.2" y="599.02" font-size="7.3" font-weight="bold" font-style="italic" text-anchor="middle" fill="#111">oe-ETS2</text>
<text x="298" y="598.82" font-size="7.3" font-weight="bold" font-style="italic" text-anchor="middle" fill="#111">oe-ETS2+sh-CYP27A1</text>
<svg x="29.5" y="519.3" width="106.2" height="72" viewBox="0 0 106.2 72">
<rect width="106.2" height="72" fill="url(#mbg)"/>
<path d="M14.27 61.02h0.8v0.8h-0.8zM81.11 18.36h0.8v0.8h-0.8zM52.62 32.36h0.8v0.8h-0.8zM69.2 56.79h0.8v0.8h-0.8zM9.97 2.04h0.8v0.8h-0.8zM88.76 31.16h0.8v0.8h-0.8zM80.95 0.15h0.8v0.8h-0.8zM47.3 51.95h0.8v0.8h-0.8zM24.29 68.06h0.8v0.8h-0.8zM95.73 2.2h0.8v0.8h-0.8zM2.7 38.98h0.8v0.8h-0.8zM99.74 27.45h0.8v0.8h-0.8zM23 30.39h0.8v0.8h-0.8zM3.08 15.96h0.8v0.8h-0.8zM46.5 35.7h0.8v0.8h-0.8zM24.75 16.62h0.8v0.8h-0.8zM23.23 33.09h0.8v0.8h-0.8zM30.77 1.55h0.8v0.8h-0.8zM88.95 40.06h0.8v0.8h-0.8zM68.21 13.39h0.8v0.8h-0.8zM105.41 61.92h0.8v0.8h-0.8zM12.84 23.95h0.8v0.8h-0.8zM76.62 51.21h0.8v0.8h-0.8zM99.45 30.39h0.8v0.8h-0.8zM88.15 48.26h0.8v0.8h-0.8zM32.22 42.31h0.8v0.8h-0.8zM93.72 60.93h0.8v0.8h-0.8zM53.66 42.41h0.8v0.8h-0.8zM3.67 17.48h0.8v0.8h-0.8zM84.68 29.83h0.8v0.8h-0.8zM18.37 39.51h0.8v0.8h-0.8zM74.66 48.56h0.8v0.8h-0.8zM39.79 31.61h0.8v0.8h-0.8zM53.99 56.05h0.8v0.8h-0.8zM55.32 28.31h0.8v0.8h-0.8zM52.01 2.13h0.8v0.8h-0.8zM4.62 50.64h0.8v0.8h-0.8zM104.41 42.71h0.8v0.8h-0.8zM41.8 12.27h0.8v0.8h-0.8zM53.34 70.71h0.8v0.8h-0.8zM81.83 38.85h0.8v0.8h-0.8zM91.36 16.72h0.8v0.8h-0.8zM54.56 68.58h0.8v0.8h-0.8zM61.36 33.06h0.8v0.8h-0.8zM28.6 39.46h0.8v0.8h-0.8zM101.65 0.41h0.8v0.8h-0.8zM83.22 59.07h0.8v0.8h-0.8zM94.11 53.32h0.8v0.8h-0.8zM85.93 37.34h0.8v0.8h-0.8zM59.62 30.68h0.8v0.8h-0.8zM5.96 62.64h0.8v0.8h-0.8zM60.53 14.39h0.8v0.8h-0.8zM53.6 34.91h0.8v0.8h-0.8zM37.89 24.92h0.8v0.8h-0.8zM57.19 44.89h0.8v0.8h-0.8zM65.04 32.99h0.8v0.8h-0.8zM2.97 16.53h0.8v0.8h-0.8zM18.82 42.08h0.8v0.8h-0.8zM91.44 57.49h0.8v0.8h-0.8zM84.65 58.78h0.8v0.8h-0.8zM27.11 60.61h0.8v0.8h-0.8zM71.48 5.99h0.8v0.8h-0.8zM1.77 1.05h0.8v0.8h-0.8zM80.24 17.97h0.8v0.8h-0.8zM11.63 44.99h0.8v0.8h-0.8zM36.58 5.01h0.8v0.8h-0.8zM16.95 37.97h0.8v0.8h-0.8zM17.86 19.65h0.8v0.8h-0.8zM75.57 32.74h0.8v0.8h-0.8zM34.2 34.11h0.8v0.8h-0.8zM2.51 27.83h0.8v0.8h-0.8zM44.7 13.54h0.8v0.8h-0.8zM11.55 64.79h0.8v0.8h-0.8zM54.17 15.05h0.8v0.8h-0.8zM64.32 58.83h0.8v0.8h-0.8zM2.21 1.29h0.8v0.8h-0.8zM15.55 51.76h0.8v0.8h-0.8zM17.02 50.73h0.8v0.8h-0.8zM72.02 39.22h0.8v0.8h-0.8zM23.43 70.24h0.8v0.8h-0.8zM84.73 37.2h0.8v0.8h-0.8zM23.7 46.69h0.8v0.8h-0.8zM41.94 41.46h0.8v0.8h-0.8zM34.12 45.43h0.8v0.8h-0.8zM6.24 21.5h0.8v0.8h-0.8zM102.79 63.04h0.8v0.8h-0.8zM32.54 61.81h0.8v0.8h-0.8zM32.96 67.63h0.8v0.8h-0.8zM79 29.96h0.8v0.8h-0.8zM26.8 0.61h0.8v0.8h-0.8zM93.32 2.73h0.8v0.8h-0.8zM87.02 69.28h0.8v0.8h-0.8zM60.56 12.35h0.8v0.8h-0.8zM92.16 70.11h0.8v0.8h-0.8zM74.77 36.64h0.8v0.8h-0.8zM40.14 24.98h0.8v0.8h-0.8zM21.85 48.54h0.8v0.8h-0.8zM45.98 13.98h0.8v0.8h-0.8zM11.09 47.95h0.8v0.8h-0.8zM31.44 35.99h0.8v0.8h-0.8zM34.55 62.76h0.8v0.8h-0.8zM95.55 1.3h0.8v0.8h-0.8zM21.33 23.6h0.8v0.8h-0.8zM104.82 56.35h0.8v0.8h-0.8zM36.01 15.34h0.8v0.8h-0.8zM71.63 60.31h0.8v0.8h-0.8zM99 24.76h0.8v0.8h-0.8zM93.71 49.47h0.8v0.8h-0.8zM51.45 70.96h0.8v0.8h-0.8zM24.92 52.23h0.8v0.8h-0.8zM8.99 12.22h0.8v0.8h-0.8zM96.75 15.33h0.8v0.8h-0.8zM80.62 43.22h0.8v0.8h-0.8zM89.33 26.5h0.8v0.8h-0.8zM36.14 20.97h0.8v0.8h-0.8zM92.12 43.49h0.8v0.8h-0.8zM101.35 63.88h0.8v0.8h-0.8zM14.37 39.68h0.8v0.8h-0.8zM11.07 2.82h0.8v0.8h-0.8zM7.77 62.36h0.8v0.8h-0.8zM83.7 59.65h0.8v0.8h-0.8zM36.2 44.29h0.8v0.8h-0.8zM83.04 27.22h0.8v0.8h-0.8zM60.62 16.11h0.8v0.8h-0.8zM8.68 19.2h0.8v0.8h-0.8zM94.6 40.64h0.8v0.8h-0.8zM98.24 32.96h0.8v0.8h-0.8zM29.44 56.67h0.8v0.8h-0.8zM87.91 0.89h0.8v0.8h-0.8zM71.2 6.6h0.8v0.8h-0.8zM12.22 63.72h0.8v0.8h-0.8zM4.25 17.25h0.8v0.8h-0.8zM104.94 30.31h0.8v0.8h-0.8zM12.27 12.05h0.8v0.8h-0.8zM25.64 53.57h0.8v0.8h-0.8zM10.92 65.58h0.8v0.8h-0.8zM40.17 69.86h0.8v0.8h-0.8zM96.56 21.17h0.8v0.8h-0.8zM26.91 34.34h0.8v0.8h-0.8zM10.63 46.95h0.8v0.8h-0.8zM4.21 0.76h0.8v0.8h-0.8zM104.35 21.28h0.8v0.8h-0.8zM63.36 32.39h0.8v0.8h-0.8zM33.27 4.53h0.8v0.8h-0.8zM97 69.83h0.8v0.8h-0.8zM102.99 8.02h0.8v0.8h-0.8zM22.85 44.48h0.8v0.8h-0.8zM104.07 39.09h0.8v0.8h-0.8zM73.09 47.65h0.8v0.8h-0.8zM27.51 39h0.8v0.8h-0.8zM32.64 17.74h0.8v0.8h-0.8zM8.64 20.22h0.8v0.8h-0.8zM104.43 32.25h0.8v0.8h-0.8zM69.24 46.33h0.8v0.8h-0.8zM99.91 28.11h0.8v0.8h-0.8zM32.58 23.56h0.8v0.8h-0.8zM33.64 60.99h0.8v0.8h-0.8zM94.89 21.8h0.8v0.8h-0.8zM35.51 39.18h0.8v0.8h-0.8zM61.49 42.91h0.8v0.8h-0.8zM26.03 1.47h0.8v0.8h-0.8zM25.89 5.21h0.8v0.8h-0.8zM58.54 5.11h0.8v0.8h-0.8zM7.98 45.75h0.8v0.8h-0.8zM30.89 57.04h0.8v0.8h-0.8zM52.38 62.11h0.8v0.8h-0.8zM16.37 36.1h0.8v0.8h-0.8zM84.43 5.55h0.8v0.8h-0.8zM100.81 12.47h0.8v0.8h-0.8zM82.43 70.91h0.8v0.8h-0.8zM87.25 23.02h0.8v0.8h-0.8zM11.35 37.03h0.8v0.8h-0.8zM97.64 21.13h0.8v0.8h-0.8zM94.92 10.2h0.8v0.8h-0.8zM96.69 2.29h0.8v0.8h-0.8zM33.57 65.02h0.8v0.8h-0.8zM85.37 65.32h0.8v0.8h-0.8zM89.28 53.73h0.8v0.8h-0.8zM73.24 12.83h0.8v0.8h-0.8zM45.95 11.37h0.8v0.8h-0.8zM75.91 48.08h0.8v0.8h-0.8zM26.82 4.64h0.8v0.8h-0.8zM102.31 58.19h0.8v0.8h-0.8zM58.33 38.98h0.8v0.8h-0.8zM90.41 32.64h0.8v0.8h-0.8zM42.02 24.38h0.8v0.8h-0.8zM27.4 1.76h0.8v0.8h-0.8zM68.65 30h0.8v0.8h-0.8zM60.6 4.49h0.8v0.8h-0.8zM37.69 9.96h0.8v0.8h-0.8zM13.29 18.66h0.8v0.8h-0.8zM88.03 28.64h0.8v0.8h-0.8zM42.59 44.1h0.8v0.8h-0.8zM24.8 0.54h0.8v0.8h-0.8zM56.15 36.06h0.8v0.8h-0.8zM68.91 31.56h0.8v0.8h-0.8zM72.91 52.66h0.8v0.8h-0.8zM25.32 35.65h0.8v0.8h-0.8zM50.85 16.2h0.8v0.8h-0.8zM43.78 40.35h0.8v0.8h-0.8zM96.32 66.07h0.8v0.8h-0.8zM29.23 46.54h0.8v0.8h-0.8zM5.12 5.15h0.8v0.8h-0.8zM54.34 63.17h0.8v0.8h-0.8zM16.94 55.15h0.8v0.8h-0.8zM93.78 22.45h0.8v0.8h-0.8zM73.55 61.13h0.8v0.8h-0.8zM39.47 50.49h0.8v0.8h-0.8zM78.21 42.81h0.8v0.8h-0.8zM90.94 64.56h0.8v0.8h-0.8zM101.96 41.13h0.8v0.8h-0.8zM18.72 18.04h0.8v0.8h-0.8zM23.11 41.01h0.8v0.8h-0.8zM80.47 3.75h0.8v0.8h-0.8zM72.39 51.64h0.8v0.8h-0.8zM36.96 37.08h0.8v0.8h-0.8zM17.5 52.55h0.8v0.8h-0.8zM4.32 70.65h0.8v0.8h-0.8zM85.8 45.25h0.8v0.8h-0.8zM28.41 65.73h0.8v0.8h-0.8zM101.89 10.02h0.8v0.8h-0.8zM82.39 60.62h0.8v0.8h-0.8zM70.06 50.43h0.8v0.8h-0.8zM47.27 66.55h0.8v0.8h-0.8zM103.14 27.53h0.8v0.8h-0.8zM85.25 31.17h0.8v0.8h-0.8zM17.5 23.43h0.8v0.8h-0.8zM13.42 65.44h0.8v0.8h-0.8zM101.89 8.58h0.8v0.8h-0.8zM63.79 29.39h0.8v0.8h-0.8zM12.54 21.27h0.8v0.8h-0.8zM26.36 53.97h0.8v0.8h-0.8zM0.43 13.67h0.8v0.8h-0.8zM46.6 1.51h0.8v0.8h-0.8zM66.64 43.61h0.8v0.8h-0.8zM88.71 14.88h0.8v0.8h-0.8zM30.24 39.05h0.8v0.8h-0.8zM29.02 42.17h0.8v0.8h-0.8zM26.64 49.21h0.8v0.8h-0.8zM84.01 58.22h0.8v0.8h-0.8zM103.4 39.27h0.8v0.8h-0.8zM52.12 61.61h0.8v0.8h-0.8zM81.67 41.08h0.8v0.8h-0.8zM40.7 20.45h0.8v0.8h-0.8zM11.48 58.14h0.8v0.8h-0.8zM12.54 53.8h0.8v0.8h-0.8zM57.91 69.48h0.8v0.8h-0.8zM80.83 70.09h0.8v0.8h-0.8zM14.51 36.03h0.8v0.8h-0.8zM60.81 22.41h0.8v0.8h-0.8zM53.42 25.69h0.8v0.8h-0.8zM56.12 0.06h0.8v0.8h-0.8zM46.97 32.37h0.8v0.8h-0.8zM32.37 28.76h0.8v0.8h-0.8zM83.16 49.21h0.8v0.8h-0.8zM52.28 46.63h0.8v0.8h-0.8zM40.1 14.68h0.8v0.8h-0.8zM0.41 19.99h0.8v0.8h-0.8zM63.53 63.48h0.8v0.8h-0.8zM88.08 36.79h0.8v0.8h-0.8zM104.82 33.23h0.8v0.8h-0.8zM88.63 29.45h0.8v0.8h-0.8zM79.08 71.11h0.8v0.8h-0.8zM32.43 12.26h0.8v0.8h-0.8zM65.85 38.23h0.8v0.8h-0.8zM38.17 0.25h0.8v0.8h-0.8zM41.33 30.66h0.8v0.8h-0.8zM43.04 62.01h0.8v0.8h-0.8zM62.07 52.84h0.8v0.8h-0.8zM95.36 53.91h0.8v0.8h-0.8zM52.32 53.7h0.8v0.8h-0.8zM68.01 46.71h0.8v0.8h-0.8zM66.87 29.3h0.8v0.8h-0.8zM66.83 45.63h0.8v0.8h-0.8zM99.52 56.34h0.8v0.8h-0.8zM89.87 55.26h0.8v0.8h-0.8zM86.59 43.59h0.8v0.8h-0.8zM37.11 19.05h0.8v0.8h-0.8zM75.19 62.92h0.8v0.8h-0.8zM57.8 10.95h0.8v0.8h-0.8zM88.46 34.89h0.8v0.8h-0.8zM49.61 3.27h0.8v0.8h-0.8zM54.19 53.62h0.8v0.8h-0.8zM44.88 25.57h0.8v0.8h-0.8zM69.76 1.42h0.8v0.8h-0.8zM53.86 68.12h0.8v0.8h-0.8zM73.33 28.94h0.8v0.8h-0.8zM73.16 43.56h0.8v0.8h-0.8zM22.18 14.95h0.8v0.8h-0.8zM94.1 19.37h0.8v0.8h-0.8zM7.95 59.81h0.8v0.8h-0.8zM55.56 26.51h0.8v0.8h-0.8zM54.32 53.04h0.8v0.8h-0.8zM17.9 47.02h0.8v0.8h-0.8zM75.77 58.68h0.8v0.8h-0.8zM28.65 43.9h0.8v0.8h-0.8zM24.65 40.4h0.8v0.8h-0.8zM18.3 56.86h0.8v0.8h-0.8zM92.05 23.73h0.8v0.8h-0.8zM23.61 69.39h0.8v0.8h-0.8zM75.05 60.75h0.8v0.8h-0.8zM3.24 64.76h0.8v0.8h-0.8zM66.1 22.79h0.8v0.8h-0.8zM45.85 54.83h0.8v0.8h-0.8zM83.41 13.67h0.8v0.8h-0.8zM66.47 11.93h0.8v0.8h-0.8zM103.34 31.94h0.8v0.8h-0.8zM96.98 52.43h0.8v0.8h-0.8zM64.38 18.86h0.8v0.8h-0.8zM55.92 9.98h0.8v0.8h-0.8zM14.67 51.53h0.8v0.8h-0.8zM38.35 54.1h0.8v0.8h-0.8zM25.54 51.71h0.8v0.8h-0.8zM76.3 22h0.8v0.8h-0.8zM11.3 28.58h0.8v0.8h-0.8zM52.29 7.2h0.8v0.8h-0.8zM19.83 3.98h0.8v0.8h-0.8zM63.46 64h0.8v0.8h-0.8zM23 2.5h0.8v0.8h-0.8zM74.76 58.67h0.8v0.8h-0.8zM102.39 44.15h0.8v0.8h-0.8zM36.37 60.33h0.8v0.8h-0.8zM12.54 49.87h0.8v0.8h-0.8zM10.11 28.78h0.8v0.8h-0.8zM52.57 27.21h0.8v0.8h-0.8zM17.91 16.68h0.8v0.8h-0.8zM87.1 33.31h0.8v0.8h-0.8zM61.59 15.26h0.8v0.8h-0.8zM75.93 23.77h0.8v0.8h-0.8zM63.04 65.48h0.8v0.8h-0.8zM105.6 3.33h0.8v0.8h-0.8zM84.69 61.75h0.8v0.8h-0.8zM33.94 27.59h0.8v0.8h-0.8zM61.62 66.16h0.8v0.8h-0.8zM42.47 63.36h0.8v0.8h-0.8zM80.56 10.96h0.8v0.8h-0.8zM97.03 1.09h0.8v0.8h-0.8zM15.42 47.87h0.8v0.8h-0.8zM6.07 27.32h0.8v0.8h-0.8zM13.8 33.33h0.8v0.8h-0.8zM89.21 65.24h0.8v0.8h-0.8zM3.77 4.38h0.8v0.8h-0.8zM89.27 3.08h0.8v0.8h-0.8zM29.06 8.46h0.8v0.8h-0.8zM9.67 1.99h0.8v0.8h-0.8zM67.7 53.61h0.8v0.8h-0.8zM72.94 60.88h0.8v0.8h-0.8zM70.41 28.06h0.8v0.8h-0.8zM67.02 69.81h0.8v0.8h-0.8zM68.14 17.5h0.8v0.8h-0.8zM6.39 67.33h0.8v0.8h-0.8zM62.71 25.17h0.8v0.8h-0.8zM64.29 40.34h0.8v0.8h-0.8zM55.45 4.38h0.8v0.8h-0.8zM37.51 29.71h0.8v0.8h-0.8zM21.17 63.37h0.8v0.8h-0.8zM45.04 47.69h0.8v0.8h-0.8zM75.78 53.52h0.8v0.8h-0.8zM76.58 54.16h0.8v0.8h-0.8zM26.72 70.3h0.8v0.8h-0.8zM16.04 66.14h0.8v0.8h-0.8zM90.76 61.36h0.8v0.8h-0.8zM5.61 6.57h0.8v0.8h-0.8zM86.35 33.78h0.8v0.8h-0.8zM39.32 70.9h0.8v0.8h-0.8zM4.26 38.27h0.8v0.8h-0.8zM47.08 9.23h0.8v0.8h-0.8zM41.97 50.95h0.8v0.8h-0.8zM93.7 1.77h0.8v0.8h-0.8zM55.7 6.51h0.8v0.8h-0.8zM85 6.18h0.8v0.8h-0.8zM3.63 27.67h0.8v0.8h-0.8zM77.8 22.55h0.8v0.8h-0.8zM13.81 57.21h0.8v0.8h-0.8zM85.69 61.62h0.8v0.8h-0.8zM32.26 30.59h0.8v0.8h-0.8zM26.06 40.12h0.8v0.8h-0.8zM35.06 24.38h0.8v0.8h-0.8zM83.22 68.85h0.8v0.8h-0.8zM62.04 7.54h0.8v0.8h-0.8zM69.3 32.3h0.8v0.8h-0.8zM104.93 51.8h0.8v0.8h-0.8zM88.65 50.49h0.8v0.8h-0.8zM56.88 64.57h0.8v0.8h-0.8zM88.32 20.98h0.8v0.8h-0.8zM16.68 26.67h0.8v0.8h-0.8zM55.34 7.01h0.8v0.8h-0.8zM36.68 41.39h0.8v0.8h-0.8zM4.63 58.68h0.8v0.8h-0.8zM69.15 22.58h0.8v0.8h-0.8zM31.68 25.39h0.8v0.8h-0.8zM34.55 53.89h0.8v0.8h-0.8zM53.21 37.88h0.8v0.8h-0.8zM15.8 65.84h0.8v0.8h-0.8zM34.58 23.58h0.8v0.8h-0.8zM7.31 70.52h0.8v0.8h-0.8zM50.94 65.73h0.8v0.8h-0.8zM98.51 69.82h0.8v0.8h-0.8zM86.62 66.63h0.8v0.8h-0.8zM97.95 57.7h0.8v0.8h-0.8zM14.29 37.71h0.8v0.8h-0.8zM61.13 71.46h0.8v0.8h-0.8zM83.26 50.61h0.8v0.8h-0.8zM79.29 26.03h0.8v0.8h-0.8zM100.07 46.33h0.8v0.8h-0.8zM42.75 33.45h0.8v0.8h-0.8zM104.05 38.31h0.8v0.8h-0.8zM17.82 10.68h0.8v0.8h-0.8zM72.99 40.52h0.8v0.8h-0.8zM96.3 13.29h0.8v0.8h-0.8zM43.66 52.41h0.8v0.8h-0.8zM5.32 7.14h0.8v0.8h-0.8zM57.95 19.13h0.8v0.8h-0.8zM11.36 18.84h0.8v0.8h-0.8zM67.13 37.9h0.8v0.8h-0.8zM8.34 5.24h0.8v0.8h-0.8zM90.34 46.31h0.8v0.8h-0.8zM18.41 62.05h0.8v0.8h-0.8zM2.32 26.5h0.8v0.8h-0.8zM90.02 51.14h0.8v0.8h-0.8zM30.13 64.17h0.8v0.8h-0.8zM63.52 62.32h0.8v0.8h-0.8zM94.81 30.63h0.8v0.8h-0.8zM71.75 39.2h0.8v0.8h-0.8zM100.33 57.47h0.8v0.8h-0.8zM77.08 58.61h0.8v0.8h-0.8zM106 18.47h0.8v0.8h-0.8zM21.38 53.77h0.8v0.8h-0.8zM81.81 37.03h0.8v0.8h-0.8zM51.73 29.07h0.8v0.8h-0.8zM93.74 57.33h0.8v0.8h-0.8zM62.08 2.89h0.8v0.8h-0.8zM90.39 33.01h0.8v0.8h-0.8zM20.15 21.55h0.8v0.8h-0.8zM73.42 0.4h0.8v0.8h-0.8zM12.75 21.79h0.8v0.8h-0.8zM94.22 53.77h0.8v0.8h-0.8zM103.1 39.1h0.8v0.8h-0.8zM60.74 39.7h0.8v0.8h-0.8zM55.82 39.03h0.8v0.8h-0.8zM86.93 68.64h0.8v0.8h-0.8zM43.36 45.36h0.8v0.8h-0.8zM32.68 21.74h0.8v0.8h-0.8zM53.77 42.21h0.8v0.8h-0.8zM58.41 70.31h0.8v0.8h-0.8zM17.31 45.84h0.8v0.8h-0.8zM105.62 53h0.8v0.8h-0.8zM60.1 26.52h0.8v0.8h-0.8zM42.71 67.43h0.8v0.8h-0.8zM95.08 48.22h0.8v0.8h-0.8zM95.45 66.61h0.8v0.8h-0.8zM89.88 27.61h0.8v0.8h-0.8zM49.32 57.31h0.8v0.8h-0.8zM39.57 53.95h0.8v0.8h-0.8zM51.13 24.23h0.8v0.8h-0.8zM48.44 8.39h0.8v0.8h-0.8zM37.65 29.89h0.8v0.8h-0.8zM1.93 12.39h0.8v0.8h-0.8zM27.64 61.77h0.8v0.8h-0.8zM62.61 20.67h0.8v0.8h-0.8zM105.96 18.57h0.8v0.8h-0.8zM54.56 53.25h0.8v0.8h-0.8zM73.42 31.21h0.8v0.8h-0.8zM82.52 34.98h0.8v0.8h-0.8zM75.98 35.38h0.8v0.8h-0.8zM103.17 51.56h0.8v0.8h-0.8zM9.7 9.32h0.8v0.8h-0.8zM102.64 16.5h0.8v0.8h-0.8zM2.78 18.23h0.8v0.8h-0.8zM50.95 68.56h0.8v0.8h-0.8zM42.39 52.09h0.8v0.8h-0.8zM88.61 6.42h0.8v0.8h-0.8zM64.98 71.7h0.8v0.8h-0.8zM58.37 38.48h0.8v0.8h-0.8zM36.82 68.12h0.8v0.8h-0.8zM102.97 7.43h0.8v0.8h-0.8zM58.71 30.21h0.8v0.8h-0.8z" fill="#8e9298" opacity="0.5"/>
<path d="M71.33 8.54h0.9v0.9h-0.9zM28.18 20.07h0.9v0.9h-0.9zM50.95 57.12h0.9v0.9h-0.9zM91.1 56.62h0.9v0.9h-0.9zM71.88 6.28h0.9v0.9h-0.9zM41.39 48.15h0.9v0.9h-0.9zM31.25 36.56h0.9v0.9h-0.9zM96.12 8.36h0.9v0.9h-0.9zM90.68 7.62h0.9v0.9h-0.9zM41.03 65.19h0.9v0.9h-0.9zM21.37 37.49h0.9v0.9h-0.9zM44.24 63.93h0.9v0.9h-0.9zM105.36 20.78h0.9v0.9h-0.9zM52.3 64.44h0.9v0.9h-0.9zM57.86 15.45h0.9v0.9h-0.9zM80.68 24.27h0.9v0.9h-0.9zM51.61 0.62h0.9v0.9h-0.9zM105.03 47.32h0.9v0.9h-0.9zM98.32 69.75h0.9v0.9h-0.9zM28.41 38.92h0.9v0.9h-0.9zM46.75 54.71h0.9v0.9h-0.9zM89.46 16.46h0.9v0.9h-0.9zM29.16 50.85h0.9v0.9h-0.9zM43.72 9.37h0.9v0.9h-0.9zM20.74 40.38h0.9v0.9h-0.9zM63.56 69.13h0.9v0.9h-0.9zM56.58 43.85h0.9v0.9h-0.9zM15.81 29.79h0.9v0.9h-0.9zM29.71 50.07h0.9v0.9h-0.9zM28.36 15.44h0.9v0.9h-0.9zM39.05 33.88h0.9v0.9h-0.9zM35.94 43.61h0.9v0.9h-0.9zM19.24 63.35h0.9v0.9h-0.9zM73.72 38.5h0.9v0.9h-0.9zM6.18 23.47h0.9v0.9h-0.9zM73.29 46.44h0.9v0.9h-0.9zM86.23 64.19h0.9v0.9h-0.9zM33.49 35.55h0.9v0.9h-0.9zM35.05 9.21h0.9v0.9h-0.9zM14.88 18.47h0.9v0.9h-0.9zM9.35 38.8h0.9v0.9h-0.9zM74.65 40.54h0.9v0.9h-0.9zM72.72 16.29h0.9v0.9h-0.9zM21.18 40.87h0.9v0.9h-0.9zM93.91 30.4h0.9v0.9h-0.9zM0.45 1.44h0.9v0.9h-0.9zM32.42 44.31h0.9v0.9h-0.9zM8.98 16.16h0.9v0.9h-0.9zM72.29 70.92h0.9v0.9h-0.9zM36.22 43.28h0.9v0.9h-0.9zM55.06 1.66h0.9v0.9h-0.9zM35.03 10.04h0.9v0.9h-0.9zM26.64 55.44h0.9v0.9h-0.9zM72.34 2.95h0.9v0.9h-0.9zM8.22 52.19h0.9v0.9h-0.9zM10.96 22.83h0.9v0.9h-0.9zM28.6 3.58h0.9v0.9h-0.9zM3.31 10.01h0.9v0.9h-0.9zM42.41 67.23h0.9v0.9h-0.9zM67.8 17.43h0.9v0.9h-0.9zM72.18 19.7h0.9v0.9h-0.9zM54.72 23.17h0.9v0.9h-0.9zM100.75 25.37h0.9v0.9h-0.9zM85.34 46.17h0.9v0.9h-0.9zM89.56 43.64h0.9v0.9h-0.9zM92.43 29.17h0.9v0.9h-0.9zM72.11 44.69h0.9v0.9h-0.9zM56.05 40.64h0.9v0.9h-0.9zM56.9 28.35h0.9v0.9h-0.9zM95.4 45.56h0.9v0.9h-0.9zM58.32 3.88h0.9v0.9h-0.9zM54.01 12.61h0.9v0.9h-0.9zM22.84 31.29h0.9v0.9h-0.9zM57.98 18.03h0.9v0.9h-0.9zM28.77 38.17h0.9v0.9h-0.9zM50.26 29.04h0.9v0.9h-0.9zM11.02 26.89h0.9v0.9h-0.9zM69.5 39.18h0.9v0.9h-0.9zM57.85 60.75h0.9v0.9h-0.9zM76.8 49.29h0.9v0.9h-0.9zM3.23 22.19h0.9v0.9h-0.9zM72.47 11.22h0.9v0.9h-0.9zM97.01 10.22h0.9v0.9h-0.9zM93.36 15.57h0.9v0.9h-0.9zM89.38 61.07h0.9v0.9h-0.9zM35.63 63.98h0.9v0.9h-0.9zM16.97 61.14h0.9v0.9h-0.9zM40.54 31.66h0.9v0.9h-0.9zM12.52 43.27h0.9v0.9h-0.9zM28.65 48.02h0.9v0.9h-0.9zM84.89 43.47h0.9v0.9h-0.9zM0.87 68.57h0.9v0.9h-0.9zM97.67 46.29h0.9v0.9h-0.9zM40.3 40.46h0.9v0.9h-0.9zM93.75 33.09h0.9v0.9h-0.9zM82.75 43.1h0.9v0.9h-0.9zM44.85 67.21h0.9v0.9h-0.9zM43.38 43.62h0.9v0.9h-0.9zM5.66 33.89h0.9v0.9h-0.9zM3.97 50.7h0.9v0.9h-0.9zM0.06 3.03h0.9v0.9h-0.9zM11.8 10.05h0.9v0.9h-0.9zM53.96 25.65h0.9v0.9h-0.9zM28.77 70.82h0.9v0.9h-0.9zM96.54 47.15h0.9v0.9h-0.9zM85.18 59.02h0.9v0.9h-0.9zM26.04 58.2h0.9v0.9h-0.9zM25.47 40.49h0.9v0.9h-0.9zM37.99 11.42h0.9v0.9h-0.9z" fill="#8478cc" opacity="0.6"/>
<g fill="#5d4dc3" filter="url(#blurc)"><circle cx="84.16" cy="68.47" r="1.42"/><circle cx="82.3" cy="68.63" r="1.11"/><circle cx="80.92" cy="69.15" r="1.35"/><circle cx="35.29" cy="59.26" r="1.29"/><circle cx="33.99" cy="57.63" r="0.99"/><circle cx="35.26" cy="52.41" r="1.53"/><circle cx="35.74" cy="53.66" r="1.2"/><circle cx="37.24" cy="54.87" r="1.01"/><circle cx="38.56" cy="55.68" r="1.46"/><circle cx="38.96" cy="56.97" r="1.45"/><circle cx="57.82" cy="41.57" r="1.05"/><circle cx="59.07" cy="44.37" r="1.19"/><circle cx="61.13" cy="40.98" r="1.38"/><circle cx="103.23" cy="-1.53" r="1.41"/><circle cx="102.42" cy="-3.06" r="1.47"/><circle cx="104.37" cy="0.86" r="1.3"/><circle cx="102.96" cy="-1.27" r="1"/><circle cx="21.33" cy="15.38" r="1.42"/><circle cx="75.57" cy="50.87" r="1.21"/><circle cx="78.31" cy="52.72" r="1.25"/><circle cx="76.85" cy="49.31" r="0.98"/><circle cx="78.09" cy="48.91" r="1.42"/><circle cx="79.51" cy="49.8" r="1.49"/><circle cx="87.1" cy="40.2" r="1.48"/><circle cx="86.9" cy="41.3" r="1.27"/><circle cx="85.87" cy="42.34" r="1.42"/><circle cx="85.89" cy="43.83" r="1.12"/><circle cx="-1.49" cy="71.4" r="1"/><circle cx="-1.85" cy="72.97" r="1.33"/><circle cx="-0.62" cy="73.89" r="1.11"/><circle cx="6.26" cy="69.91" r="0.99"/><circle cx="6.01" cy="68.22" r="1.44"/><circle cx="11.49" cy="39" r="1.5"/><circle cx="12.64" cy="12.79" r="1.5"/><circle cx="11.22" cy="13.12" r="1.1"/><circle cx="10.29" cy="12.13" r="1.01"/><circle cx="10.68" cy="10.53" r="1.14"/><circle cx="81.68" cy="16.88" r="1.46"/><circle cx="14.94" cy="7.32" r="1.23"/><circle cx="62.81" cy="55.08" r="1.03"/><circle cx="61.43" cy="53.9" r="1.54"/><circle cx="63.72" cy="55.11" r="1.55"/><circle cx="62.34" cy="54.55" r="1.08"/><circle cx="60.77" cy="55.14" r="1.35"/><circle cx="100.38" cy="36.22" r="1.45"/><circle cx="101.14" cy="35.2" r="1.22"/><circle cx="101.12" cy="39.49" r="1.03"/><circle cx="100.15" cy="35.75" r="1.3"/><circle cx="44.42" cy="31.46" r="1.07"/><circle cx="43.37" cy="30.62" r="1.28"/><circle cx="95.45" cy="73.55" r="0.98"/><circle cx="1.96" cy="44.63" r="1.56"/><circle cx="2.95" cy="43.87" r="1.25"/><circle cx="60.44" cy="4.17" r="1.5"/><circle cx="60.36" cy="2.3" r="1.37"/><circle cx="60.59" cy="0.43" r="1.56"/><circle cx="57.47" cy="2.31" r="1.23"/><circle cx="28.17" cy="64.47" r="1.6"/><circle cx="26.94" cy="64.84" r="1.46"/><circle cx="26.15" cy="63.62" r="0.96"/><circle cx="58.81" cy="46.72" r="1.53"/><circle cx="60.01" cy="47.53" r="1"/><circle cx="59.32" cy="49.28" r="1.3"/><circle cx="58.36" cy="50.61" r="1.04"/><circle cx="57.81" cy="51.98" r="1.51"/><circle cx="26.15" cy="25.74" r="1.11"/><circle cx="85.69" cy="55.86" r="1.32"/><circle cx="85.02" cy="57.01" r="1.35"/><circle cx="86.04" cy="57.98" r="1.12"/><circle cx="87.43" cy="57.76" r="1.12"/><circle cx="79.75" cy="20.5" r="1"/><circle cx="78.15" cy="21.11" r="1.16"/><circle cx="80.87" cy="-0.76" r="1.06"/><circle cx="79.16" cy="-1.01" r="1.31"/><circle cx="76.72" cy="-3.3" r="1.29"/><circle cx="53.8" cy="53.28" r="0.99"/><circle cx="55.26" cy="54.53" r="1.58"/><circle cx="54.67" cy="55.58" r="1.09"/><circle cx="53.87" cy="52.53" r="0.97"/><circle cx="88.68" cy="-0.26" r="1.24"/><circle cx="89.1" cy="1.12" r="1.11"/><circle cx="89.08" cy="2.46" r="1"/><circle cx="88.64" cy="4.06" r="1.57"/><circle cx="86.95" cy="3.94" r="1.27"/><circle cx="66.54" cy="62.98" r="1"/><circle cx="64.84" cy="63.58" r="1.22"/><circle cx="63.24" cy="63.79" r="1.49"/><circle cx="61.76" cy="63.09" r="1.26"/><circle cx="60.05" cy="62.47" r="1.24"/><circle cx="55.84" cy="40.95" r="1.12"/><circle cx="55.19" cy="39.9" r="1.15"/><circle cx="53.67" cy="39.67" r="1.53"/><circle cx="52.48" cy="38.5" r="1.55"/><circle cx="46.07" cy="47.07" r="1.55"/><circle cx="47.04" cy="46.3" r="1.12"/><circle cx="47.56" cy="44.51" r="1.16"/><circle cx="2.58" cy="52.89" r="1.59"/><circle cx="4.14" cy="52.17" r="1.37"/><circle cx="4.67" cy="50.32" r="1.34"/><circle cx="17.53" cy="56.76" r="1.37"/><circle cx="16.81" cy="55.01" r="1.15"/><circle cx="18.11" cy="53.62" r="1.48"/><circle cx="17.13" cy="55.05" r="1.1"/><circle cx="17.12" cy="53.63" r="1.35"/><circle cx="37.4" cy="52.59" r="1.06"/><circle cx="36.88" cy="51.15" r="1.05"/><circle cx="35.4" cy="49.98" r="1.47"/><circle cx="71.35" cy="30.5" r="1.37"/><circle cx="70.08" cy="29.45" r="1.02"/><circle cx="70.79" cy="28.1" r="1.58"/><circle cx="3.08" cy="43.56" r="1.03"/><circle cx="5.78" cy="44.67" r="1.55"/><circle cx="4.61" cy="44.41" r="1.5"/><circle cx="3.55" cy="44.99" r="1.17"/><circle cx="4.09" cy="42.69" r="1.31"/><circle cx="59.31" cy="32.31" r="1.03"/><circle cx="59.55" cy="33.82" r="1.32"/><circle cx="60.68" cy="34.7" r="1.47"/><circle cx="4.05" cy="31.57" r="1.14"/><circle cx="5.35" cy="32.38" r="1.17"/><circle cx="71.59" cy="6.3" r="1.42"/><circle cx="72.13" cy="7.97" r="1.01"/><circle cx="77.12" cy="38.12" r="1.42"/><circle cx="76.14" cy="37.03" r="1.45"/><circle cx="100.49" cy="64.65" r="1.2"/><circle cx="100.31" cy="62.83" r="1.23"/><circle cx="101.6" cy="61.06" r="1.54"/><circle cx="103.49" cy="61.09" r="1.3"/><circle cx="38.58" cy="32.59" r="1.57"/><circle cx="38.58" cy="34.02" r="1.28"/><circle cx="37.94" cy="31.78" r="1.03"/><circle cx="15.08" cy="60.39" r="1.37"/><circle cx="13.84" cy="61.1" r="1.06"/><circle cx="12.41" cy="59.87" r="1.31"/><circle cx="73.8" cy="2.4" r="0.97"/><circle cx="73.4" cy="0.76" r="0.98"/><circle cx="38.07" cy="69.88" r="1.46"/><circle cx="38.51" cy="69.74" r="1.36"/><circle cx="38.14" cy="73.38" r="1.13"/><circle cx="33.7" cy="28.43" r="1.1"/><circle cx="34.17" cy="27.17" r="1.14"/><circle cx="35.79" cy="29.5" r="1.09"/><circle cx="54.14" cy="66.39" r="1.3"/><circle cx="55.51" cy="67.29" r="1.23"/><circle cx="54.99" cy="69.32" r="1.28"/><circle cx="55.9" cy="68.36" r="1.04"/><circle cx="56.4" cy="66.79" r="0.98"/><circle cx="94.32" cy="3.79" r="1.06"/><circle cx="94.56" cy="2.08" r="1.4"/><circle cx="21.41" cy="66.39" r="0.98"/><circle cx="20.17" cy="69.08" r="1.19"/><circle cx="19.47" cy="70.58" r="1.32"/><circle cx="23.85" cy="67.41" r="1.32"/><circle cx="25.07" cy="67.94" r="1.51"/><circle cx="32.13" cy="62.07" r="1.57"/><circle cx="33.55" cy="63.34" r="1.22"/><circle cx="31.78" cy="63.25" r="1.35"/><circle cx="52.44" cy="18.94" r="1.16"/><circle cx="51.3" cy="17.83" r="1.18"/><circle cx="49.91" cy="17.18" r="1.52"/><circle cx="105.95" cy="15.95" r="1"/><circle cx="107.39" cy="16.56" r="1.29"/><circle cx="55.39" cy="10.29" r="1.2"/><circle cx="53.98" cy="9.67" r="1.42"/><circle cx="53.89" cy="8.2" r="1.19"/><circle cx="54.51" cy="6.72" r="1.1"/><circle cx="46.58" cy="64.99" r="1.24"/><circle cx="45.31" cy="66" r="1.49"/><circle cx="16.46" cy="35.25" r="1.52"/><circle cx="65.38" cy="31.64" r="1.59"/><circle cx="64.8" cy="32.91" r="1.6"/><circle cx="34.02" cy="11.08" r="1.1"/><circle cx="32.44" cy="10.94" r="1.41"/><circle cx="31.02" cy="10.78" r="1.29"/><circle cx="29.67" cy="9.72" r="1.08"/><circle cx="28.1" cy="9" r="1.17"/><circle cx="17.07" cy="66.22" r="1.24"/><circle cx="15.59" cy="67.49" r="1.49"/><circle cx="18.77" cy="70.83" r="1.07"/><circle cx="16.88" cy="70.76" r="1.24"/><circle cx="16.47" cy="43.64" r="0.97"/><circle cx="18.35" cy="43.21" r="0.99"/><circle cx="47" cy="21.88" r="1.02"/><circle cx="48.33" cy="20.52" r="0.98"/><circle cx="47.84" cy="18.99" r="1.28"/><circle cx="96.62" cy="54.79" r="1.16"/><circle cx="96.05" cy="56.01" r="1.18"/><circle cx="96.03" cy="53" r="1.59"/><circle cx="96.2" cy="51.38" r="1.24"/><circle cx="41.66" cy="27.23" r="1.41"/><circle cx="42.57" cy="27.9" r="1.37"/><circle cx="43.82" cy="28.24" r="1.05"/><circle cx="45.47" cy="28.67" r="1.6"/><circle cx="35.26" cy="42.35" r="1.25"/><circle cx="35.33" cy="43.55" r="1.26"/><circle cx="33.83" cy="44.52" r="1.34"/><circle cx="33.01" cy="46.24" r="1.44"/><circle cx="31.85" cy="47.47" r="1.19"/><circle cx="85.26" cy="63.57" r="1.15"/><circle cx="82.52" cy="59.72" r="1.6"/><circle cx="84.18" cy="59.65" r="1.18"/><circle cx="23.24" cy="61.18" r="1.41"/><circle cx="22.38" cy="61.75" r="1.14"/><circle cx="20.47" cy="62.12" r="1.3"/><circle cx="13.18" cy="31.09" r="1.56"/><circle cx="14.33" cy="33.01" r="1.29"/><circle cx="12.97" cy="32.29" r="1.58"/><circle cx="13.04" cy="30.64" r="1.23"/><circle cx="13.44" cy="29.49" r="1.39"/><circle cx="22.39" cy="51.06" r="1.55"/><circle cx="21.76" cy="51.81" r="1.01"/><circle cx="20.64" cy="52.35" r="1.53"/><circle cx="22.54" cy="50.96" r="1.29"/><circle cx="23.36" cy="47.9" r="1.4"/><circle cx="83.56" cy="5.59" r="1.24"/><circle cx="82.37" cy="6.85" r="1.55"/><circle cx="81.5" cy="8.29" r="1.13"/><circle cx="80.87" cy="10.11" r="1.2"/><circle cx="18.95" cy="8.3" r="1.39"/><circle cx="20.27" cy="5.24" r="1.25"/><circle cx="-2.15" cy="30.55" r="1.51"/><circle cx="-4.03" cy="30.59" r="1.4"/><circle cx="-4.19" cy="32.12" r="1.33"/><circle cx="55.7" cy="42.61" r="1.51"/><circle cx="57.41" cy="41.75" r="1.36"/><circle cx="57.39" cy="40.53" r="1.19"/><circle cx="51.2" cy="55.52" r="1.26"/><circle cx="51.45" cy="57.1" r="1.34"/><circle cx="50.96" cy="58.64" r="1.56"/><circle cx="50.38" cy="60.08" r="1.54"/><circle cx="51.77" cy="60.96" r="1.23"/><circle cx="38.44" cy="4.5" r="1.08"/><circle cx="74.38" cy="43.09" r="1.54"/><circle cx="23.31" cy="20.98" r="1.23"/><circle cx="25.03" cy="19.86" r="1.14"/><circle cx="24.09" cy="21.45" r="1.09"/><circle cx="23.66" cy="22.62" r="1.57"/><circle cx="23.45" cy="24.03" r="1.43"/><circle cx="33.01" cy="72.93" r="1.38"/><circle cx="34.02" cy="71.62" r="1.22"/><circle cx="36.76" cy="72.28" r="1.36"/><circle cx="35.53" cy="70.93" r="1.49"/><circle cx="57.72" cy="20.63" r="1.04"/><circle cx="48.06" cy="-0.04" r="1.54"/><circle cx="46.19" cy="-0.5" r="1.3"/><circle cx="45.18" cy="-1.24" r="1.45"/><circle cx="43.28" cy="-1.02" r="0.96"/><circle cx="60.47" cy="5.74" r="1.36"/><circle cx="61.15" cy="4.36" r="1.4"/><circle cx="61.31" cy="6.05" r="1.29"/><circle cx="1.79" cy="40.3" r="1.08"/><circle cx="0.77" cy="39.4" r="1.3"/><circle cx="1.13" cy="37.92" r="1.53"/><circle cx="29.08" cy="60.36" r="1.12"/><circle cx="101.69" cy="-1.3" r="1.5"/><circle cx="99.9" cy="-5.06" r="1.22"/><circle cx="99.66" cy="-3.16" r="1.59"/><circle cx="102.19" cy="1.94" r="1.56"/><circle cx="103.63" cy="2.46" r="0.99"/><circle cx="21.58" cy="9.09" r="1.26"/><circle cx="20.24" cy="8.11" r="1.43"/><circle cx="20.23" cy="6.69" r="1.12"/><circle cx="18.68" cy="6.05" r="1.09"/><circle cx="21.82" cy="11.17" r="1.46"/><circle cx="8.12" cy="20.09" r="1.29"/><circle cx="6.49" cy="22.1" r="1.01"/><circle cx="4.97" cy="22.04" r="1.34"/><circle cx="3.86" cy="20.79" r="1.22"/><circle cx="2.53" cy="21.27" r="1.04"/><circle cx="68.64" cy="12.72" r="1.22"/><circle cx="67.56" cy="11.77" r="1.28"/><circle cx="66.63" cy="10.73" r="1.31"/><circle cx="73" cy="40.8" r="1.25"/><circle cx="81.18" cy="19.16" r="1.58"/><circle cx="0.13" cy="42.45" r="1.31"/><circle cx="1.73" cy="41.68" r="1.2"/><circle cx="39.19" cy="1.82" r="1.39"/><circle cx="40.34" cy="0.63" r="1.54"/><circle cx="39.64" cy="-0.39" r="0.98"/><circle cx="38.87" cy="-1.87" r="1.15"/><circle cx="37.2" cy="-1.93" r="1.51"/><circle cx="25.04" cy="44.03" r="1.41"/><circle cx="26.41" cy="42.83" r="1.15"/><circle cx="30.86" cy="-2.63" r="1.38"/><circle cx="30.07" cy="-2.04" r="1.1"/><circle cx="29.85" cy="-3.83" r="1.48"/><circle cx="29.14" cy="-2.02" r="1"/><circle cx="9.64" cy="66.93" r="1.14"/><circle cx="10.04" cy="66.11" r="1.59"/><circle cx="49.01" cy="61.59" r="1.57"/><circle cx="49.56" cy="63.98" r="1.25"/><circle cx="49.27" cy="61.63" r="1.54"/><circle cx="47.55" cy="62.04" r="1.46"/><circle cx="24.67" cy="64.84" r="1.36"/><circle cx="26.31" cy="65.73" r="1.04"/><circle cx="46.39" cy="53.83" r="1.26"/><circle cx="47.37" cy="53.93" r="1.49"/><circle cx="47.85" cy="53.91" r="1.54"/><circle cx="47.66" cy="55.75" r="1.12"/><circle cx="48.41" cy="56.85" r="1.3"/><circle cx="41.2" cy="67.33" r="1.29"/><circle cx="38.34" cy="69.19" r="1.5"/><circle cx="50.27" cy="36.2" r="0.97"/><circle cx="59.31" cy="39.58" r="0.98"/><circle cx="57.94" cy="40.92" r="1.08"/><circle cx="56.8" cy="41.63" r="0.96"/><circle cx="56.88" cy="42.89" r="1.3"/><circle cx="60.39" cy="36.32" r="0.98"/><circle cx="1.46" cy="42.8" r="1.56"/><circle cx="2.66" cy="41.42" r="1.09"/><circle cx="2.66" cy="39.84" r="1.1"/><circle cx="2.79" cy="42.38" r="1.38"/><circle cx="42.34" cy="27.13" r="1.54"/><circle cx="44.03" cy="27.88" r="1.51"/><circle cx="44.87" cy="26.22" r="1.17"/><circle cx="45.3" cy="25.01" r="1.59"/><circle cx="42.09" cy="27.55" r="1.57"/><circle cx="91.54" cy="37.87" r="1.03"/><circle cx="93.15" cy="37.23" r="1.06"/><circle cx="91.45" cy="38.26" r="1.27"/><circle cx="91.47" cy="36.77" r="1"/><circle cx="93.25" cy="36.93" r="1.19"/><circle cx="87.7" cy="33.82" r="1.32"/><circle cx="101.67" cy="-0.35" r="1.12"/><circle cx="16.78" cy="34.23" r="1.52"/><circle cx="16.74" cy="35.69" r="1.1"/><circle cx="18.32" cy="35.81" r="1.41"/><circle cx="108.46" cy="15.09" r="1.16"/><circle cx="105.53" cy="16.64" r="1.25"/><circle cx="111.81" cy="15.97" r="1.12"/><circle cx="112.63" cy="17.25" r="1.2"/><circle cx="60.37" cy="-1.13" r="1.44"/><circle cx="60.9" cy="-2.88" r="1.06"/><circle cx="61.3" cy="-4.15" r="1.28"/><circle cx="60.75" cy="-5.51" r="1.44"/><circle cx="94.63" cy="40.02" r="1.3"/><circle cx="95.05" cy="39.46" r="1.48"/><circle cx="94.66" cy="40.8" r="1.41"/><circle cx="62.96" cy="35.27" r="1.02"/><circle cx="60.46" cy="34.47" r="1.05"/><circle cx="85.11" cy="1.52" r="1.53"/><circle cx="68.99" cy="24.75" r="1.53"/><circle cx="69.79" cy="22.98" r="1.52"/><circle cx="69.3" cy="24.64" r="1.18"/><circle cx="73.57" cy="23.64" r="1.23"/><circle cx="4.55" cy="43.25" r="1.58"/><circle cx="5.78" cy="47.43" r="1.04"/><circle cx="5.75" cy="45.55" r="1.1"/><circle cx="83.74" cy="20.33" r="1.23"/><circle cx="83.75" cy="21.57" r="1.18"/><circle cx="41.45" cy="36.79" r="1.51"/><circle cx="40.59" cy="35.87" r="1.55"/><circle cx="41.48" cy="34.52" r="1.46"/></g>
<line x1="89.2" y1="70.6" x2="104.7" y2="70.6" stroke="#e0403a" stroke-width="0.9"/>
</svg>
<svg x="137" y="519.3" width="106.3" height="72" viewBox="0 0 106.3 72">
<rect width="106.3" height="72" fill="url(#mbg)"/>
<path d="M101.63 68.24h0.8v0.8h-0.8zM6.01 6.11h0.8v0.8h-0.8zM88.81 52.99h0.8v0.8h-0.8zM71.19 22.19h0.8v0.8h-0.8zM64.41 43.69h0.8v0.8h-0.8zM61.78 11.4h0.8v0.8h-0.8zM45.78 28.33h0.8v0.8h-0.8zM76.86 71.63h0.8v0.8h-0.8zM100.92 39.18h0.8v0.8h-0.8zM47.29 19.31h0.8v0.8h-0.8zM3.82 1.98h0.8v0.8h-0.8zM49.42 22.93h0.8v0.8h-0.8zM40.4 64.21h0.8v0.8h-0.8zM55.89 40.36h0.8v0.8h-0.8zM25.1 1.72h0.8v0.8h-0.8zM34.56 9.84h0.8v0.8h-0.8zM54.24 71.91h0.8v0.8h-0.8zM71.7 13.09h0.8v0.8h-0.8zM94.99 57.37h0.8v0.8h-0.8zM78.07 65.27h0.8v0.8h-0.8zM81.09 56.86h0.8v0.8h-0.8zM37.61 70.63h0.8v0.8h-0.8zM102.25 11.61h0.8v0.8h-0.8zM80.15 51.49h0.8v0.8h-0.8zM49.05 38.19h0.8v0.8h-0.8zM52.09 66.59h0.8v0.8h-0.8zM53.24 59.87h0.8v0.8h-0.8zM37.62 63.57h0.8v0.8h-0.8zM95.64 33.19h0.8v0.8h-0.8zM60.35 66.26h0.8v0.8h-0.8zM76.94 35.04h0.8v0.8h-0.8zM23.58 23.38h0.8v0.8h-0.8zM74.36 11.96h0.8v0.8h-0.8zM96.51 19.31h0.8v0.8h-0.8zM96.88 22.29h0.8v0.8h-0.8zM101.77 50.85h0.8v0.8h-0.8zM53.6 37.28h0.8v0.8h-0.8zM69.25 42.33h0.8v0.8h-0.8zM33.15 14.96h0.8v0.8h-0.8zM54.41 67.26h0.8v0.8h-0.8zM66.25 5.43h0.8v0.8h-0.8zM87.21 52.27h0.8v0.8h-0.8zM96.48 13.78h0.8v0.8h-0.8zM79.17 4.23h0.8v0.8h-0.8zM69.4 19.66h0.8v0.8h-0.8zM24.09 63.04h0.8v0.8h-0.8zM11.3 37.61h0.8v0.8h-0.8zM90.77 17.63h0.8v0.8h-0.8zM22.37 63.4h0.8v0.8h-0.8zM44.96 51.62h0.8v0.8h-0.8zM3.39 26.09h0.8v0.8h-0.8zM18.27 48.44h0.8v0.8h-0.8zM8.81 68.73h0.8v0.8h-0.8zM2.69 52.52h0.8v0.8h-0.8zM2.25 18.41h0.8v0.8h-0.8zM86.46 11.31h0.8v0.8h-0.8zM19.53 49.79h0.8v0.8h-0.8zM40.99 3.11h0.8v0.8h-0.8zM105.24 10.9h0.8v0.8h-0.8zM3.86 24.78h0.8v0.8h-0.8zM65.4 53.46h0.8v0.8h-0.8zM12.02 24.28h0.8v0.8h-0.8zM3.28 32.3h0.8v0.8h-0.8zM81.42 53.28h0.8v0.8h-0.8zM95.88 54.41h0.8v0.8h-0.8zM91.68 50.78h0.8v0.8h-0.8zM50.26 16.24h0.8v0.8h-0.8zM70.25 22.77h0.8v0.8h-0.8zM10.85 32.24h0.8v0.8h-0.8zM92.99 9.18h0.8v0.8h-0.8zM62.18 28.29h0.8v0.8h-0.8zM54.72 10.36h0.8v0.8h-0.8zM102.02 18.65h0.8v0.8h-0.8zM64.43 30.22h0.8v0.8h-0.8zM1.92 40.17h0.8v0.8h-0.8zM14.94 4.09h0.8v0.8h-0.8zM3.57 11.6h0.8v0.8h-0.8zM10.19 45.73h0.8v0.8h-0.8zM54.03 70.81h0.8v0.8h-0.8zM99.3 71.61h0.8v0.8h-0.8zM24.71 32.02h0.8v0.8h-0.8zM26.66 42.57h0.8v0.8h-0.8zM66.35 57.61h0.8v0.8h-0.8zM75.42 18.48h0.8v0.8h-0.8zM44.97 37.89h0.8v0.8h-0.8zM0.51 2.56h0.8v0.8h-0.8zM43.45 8h0.8v0.8h-0.8zM76.94 17.34h0.8v0.8h-0.8zM10.61 13.09h0.8v0.8h-0.8zM24.61 15.65h0.8v0.8h-0.8zM55.35 33.44h0.8v0.8h-0.8zM32.92 46.21h0.8v0.8h-0.8zM22.58 65.27h0.8v0.8h-0.8zM102.38 52.48h0.8v0.8h-0.8zM46.11 36.83h0.8v0.8h-0.8zM61.77 3.69h0.8v0.8h-0.8zM44.44 37.8h0.8v0.8h-0.8zM19.26 6.75h0.8v0.8h-0.8zM85.32 26.37h0.8v0.8h-0.8zM55.19 66.34h0.8v0.8h-0.8zM64.9 20.85h0.8v0.8h-0.8zM104.55 26.8h0.8v0.8h-0.8zM2.03 49.34h0.8v0.8h-0.8zM10.75 22.03h0.8v0.8h-0.8zM89.36 48.43h0.8v0.8h-0.8zM1.67 32.5h0.8v0.8h-0.8zM43.65 34.98h0.8v0.8h-0.8zM22.14 42.39h0.8v0.8h-0.8zM7.84 20.47h0.8v0.8h-0.8zM39.64 67.34h0.8v0.8h-0.8zM8.14 54.36h0.8v0.8h-0.8zM20.45 41.15h0.8v0.8h-0.8zM41.65 33.35h0.8v0.8h-0.8zM80.11 28.44h0.8v0.8h-0.8zM12.94 8.77h0.8v0.8h-0.8zM8.56 61.21h0.8v0.8h-0.8zM68.14 69.1h0.8v0.8h-0.8zM73.63 1.78h0.8v0.8h-0.8zM70.07 55.96h0.8v0.8h-0.8zM76.91 35.85h0.8v0.8h-0.8zM38.01 32.91h0.8v0.8h-0.8zM84.9 19.36h0.8v0.8h-0.8zM55.95 34.38h0.8v0.8h-0.8zM101.48 57.91h0.8v0.8h-0.8zM99.08 60.19h0.8v0.8h-0.8zM31.55 16.68h0.8v0.8h-0.8zM51.96 18.68h0.8v0.8h-0.8zM45.46 48.9h0.8v0.8h-0.8zM97.65 42.18h0.8v0.8h-0.8zM86.94 6.91h0.8v0.8h-0.8zM37.85 71.84h0.8v0.8h-0.8zM15.57 30.01h0.8v0.8h-0.8zM7.11 6.2h0.8v0.8h-0.8zM95.19 71.18h0.8v0.8h-0.8zM68.89 9.25h0.8v0.8h-0.8zM31.51 16.68h0.8v0.8h-0.8zM71.3 49.04h0.8v0.8h-0.8zM46.65 37.73h0.8v0.8h-0.8zM11.91 38.94h0.8v0.8h-0.8zM100.98 54.42h0.8v0.8h-0.8zM10.22 37.19h0.8v0.8h-0.8zM76.04 18.52h0.8v0.8h-0.8zM95.13 33.19h0.8v0.8h-0.8zM74.75 29.1h0.8v0.8h-0.8zM105.78 56.36h0.8v0.8h-0.8zM60.96 10.42h0.8v0.8h-0.8zM46.9 2.12h0.8v0.8h-0.8zM63.27 63.49h0.8v0.8h-0.8zM19.18 36.73h0.8v0.8h-0.8zM51.29 29.15h0.8v0.8h-0.8zM75.52 67.44h0.8v0.8h-0.8zM74.98 34.02h0.8v0.8h-0.8zM102.26 23.81h0.8v0.8h-0.8zM79.26 47.41h0.8v0.8h-0.8zM80.96 61.35h0.8v0.8h-0.8zM23.92 44.73h0.8v0.8h-0.8zM42.81 48.02h0.8v0.8h-0.8zM103.88 45.71h0.8v0.8h-0.8zM1.23 33.45h0.8v0.8h-0.8zM75.64 63.59h0.8v0.8h-0.8zM69.1 58.76h0.8v0.8h-0.8zM1.82 67.91h0.8v0.8h-0.8zM77.54 43.66h0.8v0.8h-0.8zM96.24 63.7h0.8v0.8h-0.8zM10.68 58.72h0.8v0.8h-0.8zM81.53 14.37h0.8v0.8h-0.8zM79.11 42.21h0.8v0.8h-0.8zM20.36 57.9h0.8v0.8h-0.8zM14.66 44.09h0.8v0.8h-0.8zM46.18 18.27h0.8v0.8h-0.8zM60.18 33.63h0.8v0.8h-0.8zM21.79 69.61h0.8v0.8h-0.8zM7.74 0.22h0.8v0.8h-0.8zM51.6 60.28h0.8v0.8h-0.8zM69.99 54.34h0.8v0.8h-0.8zM51.56 48.59h0.8v0.8h-0.8zM35.6 19.22h0.8v0.8h-0.8zM53.46 1.98h0.8v0.8h-0.8zM8.48 54.29h0.8v0.8h-0.8zM18.46 54.02h0.8v0.8h-0.8zM83.38 29.12h0.8v0.8h-0.8zM71.75 56.69h0.8v0.8h-0.8zM91.85 9.71h0.8v0.8h-0.8zM17.28 27.48h0.8v0.8h-0.8zM49.39 21.23h0.8v0.8h-0.8zM1.11 40.13h0.8v0.8h-0.8zM102.78 26.39h0.8v0.8h-0.8zM57.19 27.53h0.8v0.8h-0.8zM47.07 62.68h0.8v0.8h-0.8zM32.79 46.73h0.8v0.8h-0.8zM51.43 38.78h0.8v0.8h-0.8zM97.23 5.52h0.8v0.8h-0.8zM87.63 21.9h0.8v0.8h-0.8zM68.7 57.3h0.8v0.8h-0.8zM69.46 28.29h0.8v0.8h-0.8zM89.37 6.69h0.8v0.8h-0.8zM67.32 28.16h0.8v0.8h-0.8zM56.39 61.27h0.8v0.8h-0.8zM84.81 45.28h0.8v0.8h-0.8zM32.75 16.77h0.8v0.8h-0.8zM48.64 16.71h0.8v0.8h-0.8zM29.5 68.96h0.8v0.8h-0.8zM11.9 58.94h0.8v0.8h-0.8zM40.31 26.25h0.8v0.8h-0.8zM33.85 5.57h0.8v0.8h-0.8zM48.62 11.99h0.8v0.8h-0.8zM46.99 21.02h0.8v0.8h-0.8zM95.09 66.37h0.8v0.8h-0.8zM46.98 46.05h0.8v0.8h-0.8zM98.82 23.49h0.8v0.8h-0.8zM10.58 17.12h0.8v0.8h-0.8zM20.15 48.85h0.8v0.8h-0.8zM39.73 25.64h0.8v0.8h-0.8zM84.52 16.79h0.8v0.8h-0.8zM85.95 45.57h0.8v0.8h-0.8zM42.55 59.29h0.8v0.8h-0.8zM36.38 63.26h0.8v0.8h-0.8zM98.43 36.19h0.8v0.8h-0.8zM73.35 68.31h0.8v0.8h-0.8zM78.93 54.07h0.8v0.8h-0.8zM92.41 67.36h0.8v0.8h-0.8zM80.1 70.49h0.8v0.8h-0.8zM31 44.82h0.8v0.8h-0.8zM71.29 26.46h0.8v0.8h-0.8zM42.01 12.58h0.8v0.8h-0.8zM101.8 25.49h0.8v0.8h-0.8zM50.67 64.34h0.8v0.8h-0.8zM19.82 69.17h0.8v0.8h-0.8zM13.51 2.02h0.8v0.8h-0.8zM37.29 25.86h0.8v0.8h-0.8zM97.55 63.59h0.8v0.8h-0.8zM80.95 31.42h0.8v0.8h-0.8zM57.69 17.05h0.8v0.8h-0.8zM88.6 28.07h0.8v0.8h-0.8zM30.26 45.92h0.8v0.8h-0.8zM16.01 22.78h0.8v0.8h-0.8zM98.45 6.84h0.8v0.8h-0.8zM15.12 14.71h0.8v0.8h-0.8zM26.68 30.27h0.8v0.8h-0.8zM26.59 24.67h0.8v0.8h-0.8zM26.2 17.29h0.8v0.8h-0.8zM64.91 24.22h0.8v0.8h-0.8zM39.63 55.28h0.8v0.8h-0.8zM6.56 10.37h0.8v0.8h-0.8zM90.44 30.94h0.8v0.8h-0.8zM82.79 9.56h0.8v0.8h-0.8zM55.59 60.87h0.8v0.8h-0.8zM35.93 55.31h0.8v0.8h-0.8zM64.88 28.41h0.8v0.8h-0.8zM106.02 28.25h0.8v0.8h-0.8zM50.36 44.6h0.8v0.8h-0.8zM33.68 60.31h0.8v0.8h-0.8zM63.52 42.34h0.8v0.8h-0.8zM57.25 70.92h0.8v0.8h-0.8zM105.12 60.54h0.8v0.8h-0.8zM48.32 29.65h0.8v0.8h-0.8zM55.78 3.32h0.8v0.8h-0.8zM11.51 71.66h0.8v0.8h-0.8zM13.63 67.49h0.8v0.8h-0.8zM72.26 65.89h0.8v0.8h-0.8zM8.22 22.02h0.8v0.8h-0.8zM84.82 0.64h0.8v0.8h-0.8zM11.26 25.25h0.8v0.8h-0.8zM18.4 10.57h0.8v0.8h-0.8zM71.2 6.62h0.8v0.8h-0.8zM103.27 46.75h0.8v0.8h-0.8zM5.29 64.71h0.8v0.8h-0.8zM25.67 34.67h0.8v0.8h-0.8zM59.4 9.98h0.8v0.8h-0.8zM53.38 4.34h0.8v0.8h-0.8zM21.22 66.14h0.8v0.8h-0.8zM87.38 37.65h0.8v0.8h-0.8zM72.48 63.04h0.8v0.8h-0.8zM14.88 35.43h0.8v0.8h-0.8zM14.01 8.39h0.8v0.8h-0.8zM11.51 15.25h0.8v0.8h-0.8zM5.65 15.5h0.8v0.8h-0.8zM40.3 44.83h0.8v0.8h-0.8zM91.27 65.1h0.8v0.8h-0.8zM76.28 36.51h0.8v0.8h-0.8zM97.48 11.74h0.8v0.8h-0.8zM11.21 58.88h0.8v0.8h-0.8zM66.66 15.14h0.8v0.8h-0.8zM40.11 21.41h0.8v0.8h-0.8zM45.8 30.8h0.8v0.8h-0.8zM42.32 57.44h0.8v0.8h-0.8zM86.26 40.5h0.8v0.8h-0.8zM50.26 20.48h0.8v0.8h-0.8zM81.36 71.06h0.8v0.8h-0.8zM24.35 50.62h0.8v0.8h-0.8zM74.31 47.39h0.8v0.8h-0.8zM3.25 39.72h0.8v0.8h-0.8zM21.47 13.99h0.8v0.8h-0.8zM61.63 46.45h0.8v0.8h-0.8zM66.48 53.44h0.8v0.8h-0.8zM74.69 34.21h0.8v0.8h-0.8zM5.08 55.6h0.8v0.8h-0.8zM87.49 60.15h0.8v0.8h-0.8zM63.58 2.75h0.8v0.8h-0.8zM20.82 7.8h0.8v0.8h-0.8zM67.59 39.19h0.8v0.8h-0.8zM19.82 68.82h0.8v0.8h-0.8zM103.96 64.75h0.8v0.8h-0.8zM49.31 21.01h0.8v0.8h-0.8zM22.2 59.34h0.8v0.8h-0.8zM74.51 19.97h0.8v0.8h-0.8zM95.93 40.96h0.8v0.8h-0.8zM43.87 29.91h0.8v0.8h-0.8zM76.58 32.79h0.8v0.8h-0.8zM70.08 8.79h0.8v0.8h-0.8zM74.66 19.6h0.8v0.8h-0.8zM96.78 15.44h0.8v0.8h-0.8zM35.42 38.74h0.8v0.8h-0.8zM41.71 37.83h0.8v0.8h-0.8zM98.2 14.48h0.8v0.8h-0.8zM82.08 49.92h0.8v0.8h-0.8zM83.58 32.23h0.8v0.8h-0.8zM48.31 24.9h0.8v0.8h-0.8zM50.31 18.33h0.8v0.8h-0.8zM20.29 34.28h0.8v0.8h-0.8zM20.42 33.79h0.8v0.8h-0.8zM60.94 22.28h0.8v0.8h-0.8zM18.12 43.57h0.8v0.8h-0.8zM91.44 16h0.8v0.8h-0.8zM65.45 47.43h0.8v0.8h-0.8zM94.06 49.11h0.8v0.8h-0.8zM32.72 14.93h0.8v0.8h-0.8zM88.96 21.54h0.8v0.8h-0.8zM1.34 62.67h0.8v0.8h-0.8zM21.04 22.54h0.8v0.8h-0.8zM33.9 18.42h0.8v0.8h-0.8zM76.98 24.68h0.8v0.8h-0.8zM46.83 30.19h0.8v0.8h-0.8zM88.6 1.31h0.8v0.8h-0.8zM61.63 9.49h0.8v0.8h-0.8zM16 43.69h0.8v0.8h-0.8zM39.94 4.67h0.8v0.8h-0.8zM62.52 65.83h0.8v0.8h-0.8zM68.58 35.68h0.8v0.8h-0.8zM85.12 65.94h0.8v0.8h-0.8zM16.08 21.55h0.8v0.8h-0.8zM102.56 66.67h0.8v0.8h-0.8zM21.57 50.66h0.8v0.8h-0.8zM92.94 42.58h0.8v0.8h-0.8zM74.65 37.73h0.8v0.8h-0.8zM24.95 15.34h0.8v0.8h-0.8zM6.58 47.93h0.8v0.8h-0.8zM14.71 44.74h0.8v0.8h-0.8zM41.59 31.4h0.8v0.8h-0.8zM103.16 28.21h0.8v0.8h-0.8zM50.47 27.35h0.8v0.8h-0.8zM22.87 16.13h0.8v0.8h-0.8zM56.62 58.85h0.8v0.8h-0.8zM9.62 68.09h0.8v0.8h-0.8zM71.7 3.88h0.8v0.8h-0.8zM75.16 28.91h0.8v0.8h-0.8zM54.71 7.27h0.8v0.8h-0.8zM54.24 37.43h0.8v0.8h-0.8zM83.17 41.82h0.8v0.8h-0.8zM74.92 52.89h0.8v0.8h-0.8zM23.51 1.78h0.8v0.8h-0.8zM50.87 9.31h0.8v0.8h-0.8zM15.07 23.16h0.8v0.8h-0.8zM57.16 44.33h0.8v0.8h-0.8zM68.71 67.87h0.8v0.8h-0.8zM10.85 40.17h0.8v0.8h-0.8zM9.21 48.24h0.8v0.8h-0.8zM46.49 10.09h0.8v0.8h-0.8zM33.01 47.56h0.8v0.8h-0.8zM50.3 68h0.8v0.8h-0.8zM37.76 24.48h0.8v0.8h-0.8zM98.07 43.63h0.8v0.8h-0.8zM11.38 56.46h0.8v0.8h-0.8zM38.63 68.22h0.8v0.8h-0.8zM67.59 57.95h0.8v0.8h-0.8zM95.24 36.67h0.8v0.8h-0.8zM102.82 1.84h0.8v0.8h-0.8zM36.18 60.32h0.8v0.8h-0.8zM0.87 48.42h0.8v0.8h-0.8zM106.21 51.5h0.8v0.8h-0.8zM91.65 5.52h0.8v0.8h-0.8zM57.44 43.89h0.8v0.8h-0.8zM46.3 30.2h0.8v0.8h-0.8zM84.04 11.71h0.8v0.8h-0.8zM4.78 42.7h0.8v0.8h-0.8zM102.74 59.55h0.8v0.8h-0.8zM71.56 21.22h0.8v0.8h-0.8zM96.13 2.9h0.8v0.8h-0.8zM26.22 56.74h0.8v0.8h-0.8zM95.11 29h0.8v0.8h-0.8zM96.65 7.98h0.8v0.8h-0.8zM63.46 4.87h0.8v0.8h-0.8zM24.81 13.67h0.8v0.8h-0.8zM0.67 29.18h0.8v0.8h-0.8zM53.17 20.23h0.8v0.8h-0.8zM69.27 3.77h0.8v0.8h-0.8zM55 38h0.8v0.8h-0.8zM42.85 65.87h0.8v0.8h-0.8zM13.46 30.74h0.8v0.8h-0.8zM48.88 26.84h0.8v0.8h-0.8zM103.5 41.17h0.8v0.8h-0.8zM54.89 31.68h0.8v0.8h-0.8zM46.5 68.47h0.8v0.8h-0.8zM84.95 46.62h0.8v0.8h-0.8zM17.26 42.81h0.8v0.8h-0.8zM13.59 25.27h0.8v0.8h-0.8zM2.45 50.77h0.8v0.8h-0.8zM103.9 45.92h0.8v0.8h-0.8zM60.57 18.03h0.8v0.8h-0.8zM47.03 33.44h0.8v0.8h-0.8zM44.96 19.4h0.8v0.8h-0.8zM23.32 54.05h0.8v0.8h-0.8zM101.25 59.13h0.8v0.8h-0.8zM66.07 2.01h0.8v0.8h-0.8zM32.13 60.48h0.8v0.8h-0.8zM103.4 39.45h0.8v0.8h-0.8zM60.48 49.42h0.8v0.8h-0.8zM26.27 51.27h0.8v0.8h-0.8zM38.8 60.99h0.8v0.8h-0.8zM49.08 47.76h0.8v0.8h-0.8zM59.11 38.5h0.8v0.8h-0.8zM48.99 68.56h0.8v0.8h-0.8zM80.24 30.23h0.8v0.8h-0.8zM53.72 64.64h0.8v0.8h-0.8zM79.41 47.02h0.8v0.8h-0.8zM101.92 8.44h0.8v0.8h-0.8zM63.57 44.94h0.8v0.8h-0.8zM48.33 69.35h0.8v0.8h-0.8zM102.84 28.12h0.8v0.8h-0.8zM65.51 55.13h0.8v0.8h-0.8zM74 26.12h0.8v0.8h-0.8zM84.85 25.11h0.8v0.8h-0.8zM15.62 47.85h0.8v0.8h-0.8zM69.01 29.41h0.8v0.8h-0.8zM53.03 71.13h0.8v0.8h-0.8zM85.9 29.3h0.8v0.8h-0.8zM96.91 41.06h0.8v0.8h-0.8zM43.04 46.57h0.8v0.8h-0.8zM83.29 64.53h0.8v0.8h-0.8zM71.25 48.05h0.8v0.8h-0.8zM42.61 2.9h0.8v0.8h-0.8zM48.34 8.23h0.8v0.8h-0.8zM100.16 26.1h0.8v0.8h-0.8zM64.31 52.79h0.8v0.8h-0.8zM18.99 60.01h0.8v0.8h-0.8zM34.62 5.79h0.8v0.8h-0.8zM63.76 28.97h0.8v0.8h-0.8zM97.7 32.02h0.8v0.8h-0.8zM10.04 1.33h0.8v0.8h-0.8zM3.23 35.53h0.8v0.8h-0.8zM75.92 3.69h0.8v0.8h-0.8zM35.06 34.45h0.8v0.8h-0.8zM95.41 69.88h0.8v0.8h-0.8zM93.02 46h0.8v0.8h-0.8zM61.13 16.05h0.8v0.8h-0.8zM65.08 11.95h0.8v0.8h-0.8zM32.23 59.77h0.8v0.8h-0.8zM60.39 52.29h0.8v0.8h-0.8zM49.47 20.12h0.8v0.8h-0.8zM53.54 41.27h0.8v0.8h-0.8zM25.7 60.87h0.8v0.8h-0.8zM104.3 13.05h0.8v0.8h-0.8zM25.74 58.42h0.8v0.8h-0.8zM76.73 16.2h0.8v0.8h-0.8zM62.29 17.15h0.8v0.8h-0.8zM91.72 42.3h0.8v0.8h-0.8zM54.3 11.64h0.8v0.8h-0.8zM43.13 34.05h0.8v0.8h-0.8zM38.46 12.95h0.8v0.8h-0.8zM21.07 50.42h0.8v0.8h-0.8zM98.32 60.76h0.8v0.8h-0.8zM65.4 56.95h0.8v0.8h-0.8zM14.2 15.12h0.8v0.8h-0.8zM74.81 0.1h0.8v0.8h-0.8zM8.92 56.07h0.8v0.8h-0.8zM20.93 13.31h0.8v0.8h-0.8zM42.04 60.25h0.8v0.8h-0.8zM1.11 63.18h0.8v0.8h-0.8zM32.41 41.11h0.8v0.8h-0.8zM50.24 8.76h0.8v0.8h-0.8zM101.87 12.66h0.8v0.8h-0.8zM85.57 63.28h0.8v0.8h-0.8zM48.25 69.13h0.8v0.8h-0.8zM6.68 10.64h0.8v0.8h-0.8zM51.42 5.38h0.8v0.8h-0.8zM85.87 37.91h0.8v0.8h-0.8zM84.92 20.63h0.8v0.8h-0.8zM2.89 64.1h0.8v0.8h-0.8zM22.15 30.02h0.8v0.8h-0.8zM13.36 42.25h0.8v0.8h-0.8zM49.32 14.26h0.8v0.8h-0.8zM4.16 24.31h0.8v0.8h-0.8zM83.29 11.09h0.8v0.8h-0.8zM24.28 44.54h0.8v0.8h-0.8zM67.51 57.91h0.8v0.8h-0.8zM68.57 61.19h0.8v0.8h-0.8zM16.52 66.39h0.8v0.8h-0.8zM3.06 8.57h0.8v0.8h-0.8zM11.01 55.8h0.8v0.8h-0.8zM53.64 66.34h0.8v0.8h-0.8zM103.63 68.56h0.8v0.8h-0.8zM65.28 25.3h0.8v0.8h-0.8zM101.74 52.75h0.8v0.8h-0.8zM20.84 39.83h0.8v0.8h-0.8zM2.16 1.26h0.8v0.8h-0.8zM67.91 51.8h0.8v0.8h-0.8zM91.53 54.23h0.8v0.8h-0.8zM14.55 53.14h0.8v0.8h-0.8zM104.3 48.73h0.8v0.8h-0.8zM51.09 21.23h0.8v0.8h-0.8zM6.77 45.03h0.8v0.8h-0.8zM102.24 8.27h0.8v0.8h-0.8zM87.26 64.64h0.8v0.8h-0.8zM37.44 60.9h0.8v0.8h-0.8zM16.56 21.65h0.8v0.8h-0.8zM60.21 63.32h0.8v0.8h-0.8zM56.95 6.43h0.8v0.8h-0.8zM98.85 41.15h0.8v0.8h-0.8zM82.8 16.54h0.8v0.8h-0.8zM35.59 6.49h0.8v0.8h-0.8zM19.85 31.47h0.8v0.8h-0.8zM43.69 47.29h0.8v0.8h-0.8zM88.61 24.06h0.8v0.8h-0.8zM98.38 47.03h0.8v0.8h-0.8zM36.66 13.3h0.8v0.8h-0.8zM101.62 47.29h0.8v0.8h-0.8zM4.57 49.29h0.8v0.8h-0.8zM40.18 30.32h0.8v0.8h-0.8zM81.38 16.07h0.8v0.8h-0.8zM28.52 38.9h0.8v0.8h-0.8zM96.16 6.2h0.8v0.8h-0.8zM88.66 51.88h0.8v0.8h-0.8zM18.85 47.65h0.8v0.8h-0.8zM66.03 51.1h0.8v0.8h-0.8zM57.1 22.59h0.8v0.8h-0.8zM53.43 17.12h0.8v0.8h-0.8zM48.4 29.24h0.8v0.8h-0.8zM11.34 16.71h0.8v0.8h-0.8zM36.61 28.34h0.8v0.8h-0.8zM59.88 53.77h0.8v0.8h-0.8zM27.54 39.94h0.8v0.8h-0.8zM35.91 16.32h0.8v0.8h-0.8zM14.86 69.11h0.8v0.8h-0.8zM99.1 59.82h0.8v0.8h-0.8zM18.24 10.87h0.8v0.8h-0.8zM11.09 21.63h0.8v0.8h-0.8zM45.31 0.53h0.8v0.8h-0.8zM44.87 49.62h0.8v0.8h-0.8zM88.65 13.67h0.8v0.8h-0.8zM0.19 57.24h0.8v0.8h-0.8zM40.41 22.59h0.8v0.8h-0.8zM16.44 19.32h0.8v0.8h-0.8zM28.3 18.5h0.8v0.8h-0.8zM24.75 37.26h0.8v0.8h-0.8zM86.45 22.25h0.8v0.8h-0.8zM44.26 34.82h0.8v0.8h-0.8zM89.54 55.19h0.8v0.8h-0.8zM104.75 12.47h0.8v0.8h-0.8zM85.62 21.21h0.8v0.8h-0.8zM61.29 37.95h0.8v0.8h-0.8zM61.09 23.17h0.8v0.8h-0.8zM7.66 0.57h0.8v0.8h-0.8zM98.59 63.82h0.8v0.8h-0.8zM48.9 6.46h0.8v0.8h-0.8zM89.09 36.12h0.8v0.8h-0.8zM49.99 46.01h0.8v0.8h-0.8zM16.75 15.73h0.8v0.8h-0.8zM86.61 52.89h0.8v0.8h-0.8zM104.57 31.2h0.8v0.8h-0.8zM103.29 64.01h0.8v0.8h-0.8zM53.96 64.23h0.8v0.8h-0.8zM17.28 5.06h0.8v0.8h-0.8zM86.54 10.18h0.8v0.8h-0.8zM54.79 53.06h0.8v0.8h-0.8zM72.21 15.85h0.8v0.8h-0.8zM83.65 3.07h0.8v0.8h-0.8zM59.74 64.63h0.8v0.8h-0.8zM58.08 21.78h0.8v0.8h-0.8zM106.01 52.34h0.8v0.8h-0.8zM84.14 64.52h0.8v0.8h-0.8zM99.39 41.33h0.8v0.8h-0.8zM87.63 36.14h0.8v0.8h-0.8zM27.11 20.03h0.8v0.8h-0.8zM27.83 1.84h0.8v0.8h-0.8zM65.9 28.82h0.8v0.8h-0.8zM96.77 3.68h0.8v0.8h-0.8zM83.24 14.04h0.8v0.8h-0.8zM34.43 21.07h0.8v0.8h-0.8zM101.76 46.51h0.8v0.8h-0.8zM49.69 13.27h0.8v0.8h-0.8zM5.07 26.45h0.8v0.8h-0.8zM103.54 32h0.8v0.8h-0.8zM71.8 63.39h0.8v0.8h-0.8zM5.05 23.11h0.8v0.8h-0.8zM44.42 16.28h0.8v0.8h-0.8zM40.71 49.07h0.8v0.8h-0.8zM14.32 49.99h0.8v0.8h-0.8zM31.53 47.32h0.8v0.8h-0.8zM18.46 56.83h0.8v0.8h-0.8zM44.56 59.93h0.8v0.8h-0.8zM102.85 41.85h0.8v0.8h-0.8zM2.26 26.36h0.8v0.8h-0.8zM103.74 46.95h0.8v0.8h-0.8zM80.63 34.29h0.8v0.8h-0.8zM99.98 65.3h0.8v0.8h-0.8zM65.13 42.46h0.8v0.8h-0.8zM10.96 0.53h0.8v0.8h-0.8zM21.84 51.89h0.8v0.8h-0.8zM90.07 55.42h0.8v0.8h-0.8zM94.29 2.19h0.8v0.8h-0.8zM3.04 18.38h0.8v0.8h-0.8zM1.92 42.19h0.8v0.8h-0.8zM98.82 64.72h0.8v0.8h-0.8zM11.3 47.82h0.8v0.8h-0.8zM71.33 47.33h0.8v0.8h-0.8zM43.75 17.02h0.8v0.8h-0.8zM94.2 65.06h0.8v0.8h-0.8zM76.16 39.15h0.8v0.8h-0.8zM3.5 19.92h0.8v0.8h-0.8zM25.47 17.47h0.8v0.8h-0.8zM22.96 48.1h0.8v0.8h-0.8zM72.27 12.67h0.8v0.8h-0.8zM95.86 0.04h0.8v0.8h-0.8zM101.58 41.98h0.8v0.8h-0.8zM68.59 20.27h0.8v0.8h-0.8zM73.5 63.1h0.8v0.8h-0.8zM21.82 9.49h0.8v0.8h-0.8zM83.75 17.95h0.8v0.8h-0.8zM11.22 35.42h0.8v0.8h-0.8zM19.86 15.37h0.8v0.8h-0.8zM30.16 6.08h0.8v0.8h-0.8zM87.05 40.7h0.8v0.8h-0.8zM69.44 21.03h0.8v0.8h-0.8zM82.41 69.19h0.8v0.8h-0.8zM106.26 3.06h0.8v0.8h-0.8zM33 6.45h0.8v0.8h-0.8zM50.47 47.34h0.8v0.8h-0.8zM64.66 25.52h0.8v0.8h-0.8zM102.43 44.91h0.8v0.8h-0.8zM105.94 30.64h0.8v0.8h-0.8zM68.54 7.14h0.8v0.8h-0.8zM56.96 46.54h0.8v0.8h-0.8zM24.76 44.95h0.8v0.8h-0.8zM14.06 33.23h0.8v0.8h-0.8zM64.53 34.55h0.8v0.8h-0.8zM16.09 13.69h0.8v0.8h-0.8zM39.86 46.95h0.8v0.8h-0.8zM46.03 14.46h0.8v0.8h-0.8zM35.92 22.21h0.8v0.8h-0.8zM14.63 42.41h0.8v0.8h-0.8zM50.07 23.44h0.8v0.8h-0.8zM0.17 65.8h0.8v0.8h-0.8zM4.82 8.29h0.8v0.8h-0.8zM31.23 56.83h0.8v0.8h-0.8zM99.55 54.66h0.8v0.8h-0.8zM21.93 60.43h0.8v0.8h-0.8zM3.45 8.08h0.8v0.8h-0.8zM11.88 40.56h0.8v0.8h-0.8zM63.1 45.12h0.8v0.8h-0.8zM100.78 54.16h0.8v0.8h-0.8zM79.06 12.45h0.8v0.8h-0.8zM96.78 66.16h0.8v0.8h-0.8zM88.05 5.81h0.8v0.8h-0.8zM75.9 37.4h0.8v0.8h-0.8zM57.09 19.28h0.8v0.8h-0.8zM82.17 58.08h0.8v0.8h-0.8zM81.82 21.74h0.8v0.8h-0.8zM78.26 6.22h0.8v0.8h-0.8zM72.35 2.19h0.8v0.8h-0.8z" fill="#8e9298" opacity="0.5"/>
<path d="M0.65 7.51h0.9v0.9h-0.9zM69.39 70.83h0.9v0.9h-0.9zM49.7 46.4h0.9v0.9h-0.9zM62.32 60.58h0.9v0.9h-0.9zM103.07 58.89h0.9v0.9h-0.9zM35.25 5.18h0.9v0.9h-0.9zM94.95 20.09h0.9v0.9h-0.9zM80.65 62.28h0.9v0.9h-0.9zM17.86 13.97h0.9v0.9h-0.9zM44.92 60.78h0.9v0.9h-0.9zM90.56 71.49h0.9v0.9h-0.9zM29.03 44.85h0.9v0.9h-0.9zM92.8 27.12h0.9v0.9h-0.9zM62.4 16.17h0.9v0.9h-0.9zM91.07 31.88h0.9v0.9h-0.9zM51.69 47.23h0.9v0.9h-0.9zM33.92 58.53h0.9v0.9h-0.9zM48.82 30.93h0.9v0.9h-0.9zM77.14 48.01h0.9v0.9h-0.9zM75.44 63h0.9v0.9h-0.9zM86.01 29.35h0.9v0.9h-0.9zM68.44 62.19h0.9v0.9h-0.9zM5.92 47.46h0.9v0.9h-0.9zM56.07 29.03h0.9v0.9h-0.9zM12.65 20.75h0.9v0.9h-0.9zM79.72 63.67h0.9v0.9h-0.9zM104.88 54.32h0.9v0.9h-0.9zM93.56 59.48h0.9v0.9h-0.9zM17.52 49.71h0.9v0.9h-0.9zM92.39 54.15h0.9v0.9h-0.9zM29.39 50.4h0.9v0.9h-0.9zM41.44 31.15h0.9v0.9h-0.9zM77.68 48.68h0.9v0.9h-0.9zM14.46 46.14h0.9v0.9h-0.9zM6.35 14.9h0.9v0.9h-0.9zM87.68 65.73h0.9v0.9h-0.9zM27.02 55.04h0.9v0.9h-0.9zM19.39 35.86h0.9v0.9h-0.9zM37.04 6.05h0.9v0.9h-0.9zM46.05 39.74h0.9v0.9h-0.9zM90.49 7.4h0.9v0.9h-0.9zM30.57 0.29h0.9v0.9h-0.9zM22.17 19.18h0.9v0.9h-0.9zM87.17 67.59h0.9v0.9h-0.9zM22.86 34.73h0.9v0.9h-0.9zM55.67 35.34h0.9v0.9h-0.9zM101.97 68.41h0.9v0.9h-0.9zM4.09 29.38h0.9v0.9h-0.9zM56.14 46.8h0.9v0.9h-0.9zM56.37 59.05h0.9v0.9h-0.9zM10.48 33.21h0.9v0.9h-0.9zM88.27 12.29h0.9v0.9h-0.9zM18.46 44.39h0.9v0.9h-0.9zM15.42 39.26h0.9v0.9h-0.9zM13.22 13.45h0.9v0.9h-0.9zM35.53 56.38h0.9v0.9h-0.9zM64.97 43.8h0.9v0.9h-0.9zM66.73 28.57h0.9v0.9h-0.9zM103.77 42.86h0.9v0.9h-0.9zM66.82 4.84h0.9v0.9h-0.9zM26.55 42.18h0.9v0.9h-0.9zM101.61 50.66h0.9v0.9h-0.9zM5.78 58.16h0.9v0.9h-0.9zM22.57 42.87h0.9v0.9h-0.9zM20.31 4.42h0.9v0.9h-0.9zM82.14 34.98h0.9v0.9h-0.9zM64.3 50.74h0.9v0.9h-0.9zM63.13 29.99h0.9v0.9h-0.9zM34.21 38.16h0.9v0.9h-0.9zM26.15 18.89h0.9v0.9h-0.9zM86.19 24.64h0.9v0.9h-0.9zM76.64 48.92h0.9v0.9h-0.9zM49.47 56.56h0.9v0.9h-0.9zM35.12 0.26h0.9v0.9h-0.9zM90.19 53.96h0.9v0.9h-0.9zM78.48 66.24h0.9v0.9h-0.9zM43.39 30.69h0.9v0.9h-0.9zM65.12 62.8h0.9v0.9h-0.9zM29.88 54.61h0.9v0.9h-0.9zM101.74 18.31h0.9v0.9h-0.9zM1.85 11.68h0.9v0.9h-0.9zM68.6 15.56h0.9v0.9h-0.9zM100.8 6.64h0.9v0.9h-0.9zM95.12 25.49h0.9v0.9h-0.9zM97.81 24.41h0.9v0.9h-0.9zM11.8 48.63h0.9v0.9h-0.9zM31.8 67.67h0.9v0.9h-0.9zM87.45 18.45h0.9v0.9h-0.9zM52.11 39.63h0.9v0.9h-0.9zM82.16 19h0.9v0.9h-0.9zM60.18 37.35h0.9v0.9h-0.9zM62.5 39.99h0.9v0.9h-0.9zM45.95 27.87h0.9v0.9h-0.9zM42 71.6h0.9v0.9h-0.9zM55.52 7.67h0.9v0.9h-0.9zM41.85 55.15h0.9v0.9h-0.9zM72.52 5.81h0.9v0.9h-0.9zM43.93 32.54h0.9v0.9h-0.9zM89.86 19.25h0.9v0.9h-0.9zM97.39 58.59h0.9v0.9h-0.9zM2.1 35.82h0.9v0.9h-0.9zM56.63 45.43h0.9v0.9h-0.9zM94.35 14.52h0.9v0.9h-0.9zM88.06 0.64h0.9v0.9h-0.9zM88.56 18.85h0.9v0.9h-0.9zM2.79 58.53h0.9v0.9h-0.9zM103.21 47.35h0.9v0.9h-0.9zM82.72 28.59h0.9v0.9h-0.9zM26.34 47.85h0.9v0.9h-0.9zM85.95 19.33h0.9v0.9h-0.9zM39.92 19.48h0.9v0.9h-0.9zM28.15 62.37h0.9v0.9h-0.9zM0.73 1.58h0.9v0.9h-0.9zM19.56 56.5h0.9v0.9h-0.9zM60.6 54.53h0.9v0.9h-0.9zM73.96 63.95h0.9v0.9h-0.9zM62.37 1.57h0.9v0.9h-0.9zM10.88 29.65h0.9v0.9h-0.9zM12.59 22.32h0.9v0.9h-0.9zM29.2 70.8h0.9v0.9h-0.9zM102.54 48.45h0.9v0.9h-0.9zM44.77 29.74h0.9v0.9h-0.9zM7.48 32.6h0.9v0.9h-0.9zM15.25 38.31h0.9v0.9h-0.9zM86.78 28.86h0.9v0.9h-0.9zM75.08 58.64h0.9v0.9h-0.9zM97.24 30.74h0.9v0.9h-0.9zM25.2 64.05h0.9v0.9h-0.9zM53.06 19.65h0.9v0.9h-0.9zM72.64 62.16h0.9v0.9h-0.9zM104.52 27.12h0.9v0.9h-0.9zM28.16 18.01h0.9v0.9h-0.9zM31.71 15.66h0.9v0.9h-0.9zM97.75 45.66h0.9v0.9h-0.9zM5.33 6.77h0.9v0.9h-0.9zM19.68 69.72h0.9v0.9h-0.9zM36.38 58.06h0.9v0.9h-0.9zM23.89 14.09h0.9v0.9h-0.9zM100.17 5.43h0.9v0.9h-0.9zM53.23 38.11h0.9v0.9h-0.9zM35.89 54.44h0.9v0.9h-0.9zM90.81 16.51h0.9v0.9h-0.9zM32.07 35.01h0.9v0.9h-0.9zM50.99 45.53h0.9v0.9h-0.9zM82.31 24.42h0.9v0.9h-0.9zM99.98 32.86h0.9v0.9h-0.9zM3.03 30.38h0.9v0.9h-0.9zM56.32 13.17h0.9v0.9h-0.9zM93.5 42.95h0.9v0.9h-0.9zM55.29 20.48h0.9v0.9h-0.9zM14.14 19.86h0.9v0.9h-0.9zM68.18 49.16h0.9v0.9h-0.9zM72.65 2.3h0.9v0.9h-0.9z" fill="#8478cc" opacity="0.6"/>
<g fill="#7666cb" filter="url(#blurc)"><circle cx="84.37" cy="51.2" r="1.3"/><circle cx="84.22" cy="49.5" r="1.38"/><circle cx="31.71" cy="43.96" r="1.05"/><circle cx="31.56" cy="42.15" r="1.48"/><circle cx="-2.16" cy="39.41" r="1.45"/><circle cx="16.07" cy="11.02" r="1.23"/><circle cx="17.62" cy="10.28" r="1.41"/><circle cx="18.66" cy="10.9" r="1.33"/><circle cx="15.76" cy="11.21" r="1.24"/><circle cx="5.79" cy="1.01" r="1.68"/><circle cx="4.48" cy="0.68" r="1.07"/><circle cx="6.2" cy="0.39" r="1.17"/><circle cx="96.96" cy="12.13" r="1.25"/><circle cx="95.22" cy="11.82" r="1.2"/><circle cx="94.83" cy="10.66" r="1.38"/><circle cx="33.91" cy="16.01" r="1.29"/><circle cx="31.37" cy="16.01" r="1.3"/><circle cx="109.27" cy="71.82" r="1.41"/><circle cx="109.19" cy="70.1" r="1.65"/><circle cx="110.29" cy="68.52" r="1.26"/><circle cx="106.77" cy="72.89" r="1.33"/><circle cx="75.24" cy="58.49" r="1.52"/><circle cx="76.24" cy="59.82" r="1.28"/><circle cx="63.66" cy="55.7" r="1.29"/><circle cx="62.21" cy="56.77" r="1.49"/><circle cx="64.34" cy="55.92" r="1.13"/><circle cx="65.49" cy="55.75" r="1.38"/><circle cx="64.57" cy="11.54" r="1.07"/><circle cx="63.63" cy="10.58" r="1.13"/><circle cx="62.11" cy="10.15" r="1.55"/><circle cx="72.26" cy="8.62" r="1.2"/><circle cx="11.7" cy="15.53" r="1.69"/><circle cx="12.62" cy="14.44" r="1.03"/><circle cx="102.45" cy="11.24" r="1.02"/><circle cx="101.07" cy="13.65" r="1.55"/><circle cx="8.61" cy="33.16" r="1.45"/><circle cx="57.06" cy="9.06" r="1.66"/><circle cx="55.23" cy="7.55" r="1.43"/><circle cx="59.23" cy="6.08" r="1.65"/><circle cx="56.15" cy="8.59" r="1.52"/><circle cx="69.21" cy="62.75" r="1.43"/><circle cx="71.69" cy="60.51" r="1.58"/><circle cx="63.45" cy="52.73" r="1.06"/><circle cx="62.82" cy="53.9" r="1.35"/><circle cx="61.48" cy="54.23" r="1.41"/><circle cx="60.4" cy="53.44" r="1.49"/><circle cx="48.23" cy="3.27" r="1.61"/><circle cx="49.41" cy="4.51" r="1.05"/><circle cx="49.97" cy="3.44" r="1.2"/><circle cx="107.42" cy="51.95" r="1.64"/><circle cx="105.17" cy="53.92" r="1.1"/><circle cx="107.12" cy="46.02" r="1.67"/><circle cx="109.94" cy="47.35" r="1.18"/><circle cx="104.88" cy="42.47" r="1.46"/><circle cx="59.55" cy="17.52" r="1.44"/><circle cx="57.56" cy="18.16" r="1.52"/><circle cx="57.5" cy="16.55" r="1.01"/><circle cx="58.77" cy="15.33" r="1.68"/><circle cx="55.96" cy="56.89" r="1.58"/><circle cx="56.16" cy="55.36" r="1.14"/><circle cx="57.42" cy="55.36" r="1.2"/><circle cx="25.07" cy="18.24" r="1.4"/><circle cx="55.65" cy="26.62" r="1.47"/><circle cx="35.94" cy="16.75" r="1.01"/><circle cx="108.09" cy="15.6" r="1.32"/><circle cx="74.6" cy="40.36" r="1.31"/><circle cx="74.84" cy="42.14" r="1.54"/><circle cx="74.82" cy="43.76" r="1.11"/><circle cx="73.24" cy="43.7" r="1.19"/><circle cx="44.15" cy="39.91" r="1.05"/><circle cx="42.55" cy="40.17" r="1.64"/><circle cx="45.19" cy="38.86" r="1.35"/><circle cx="72.79" cy="59.18" r="1.61"/><circle cx="72.8" cy="57.33" r="1.42"/><circle cx="70.64" cy="57.86" r="1.69"/><circle cx="33.17" cy="72.33" r="1.33"/><circle cx="32.41" cy="71.4" r="1.68"/><circle cx="34.79" cy="71.22" r="1.46"/><circle cx="103.96" cy="44.86" r="1.27"/><circle cx="105.35" cy="45.38" r="1.37"/><circle cx="73.35" cy="27.71" r="1.27"/><circle cx="72.12" cy="27.37" r="1.44"/><circle cx="72.51" cy="29.23" r="1.52"/><circle cx="98.78" cy="50.84" r="1.53"/><circle cx="99.59" cy="49.42" r="1.16"/><circle cx="100.22" cy="47.69" r="1.35"/><circle cx="99.7" cy="47.25" r="1.14"/><circle cx="45.74" cy="30.5" r="1.44"/><circle cx="45.18" cy="31.66" r="1.51"/><circle cx="44.07" cy="32.27" r="1.01"/><circle cx="71.93" cy="42.64" r="1.57"/><circle cx="36.22" cy="39.61" r="1.69"/><circle cx="38.05" cy="39.95" r="1.14"/><circle cx="39.56" cy="40.32" r="1.1"/><circle cx="39.83" cy="42.1" r="1.12"/><circle cx="3.84" cy="60.81" r="1.36"/><circle cx="3.88" cy="59.21" r="1.39"/><circle cx="75.93" cy="71.64" r="1.61"/><circle cx="106.98" cy="72.76" r="1.41"/><circle cx="49.06" cy="31.2" r="1.41"/><circle cx="32.95" cy="34.89" r="1.37"/><circle cx="31.91" cy="33.76" r="1.14"/><circle cx="30.32" cy="32.94" r="1.13"/><circle cx="76.61" cy="42.38" r="1.02"/><circle cx="31.23" cy="21.36" r="1.46"/><circle cx="32.59" cy="21.44" r="1.54"/><circle cx="33.41" cy="20.14" r="1.69"/><circle cx="33.97" cy="18.96" r="1.6"/><circle cx="69.59" cy="39.51" r="1.51"/><circle cx="60.33" cy="66.97" r="1.43"/><circle cx="7.32" cy="-1.39" r="1.01"/><circle cx="6.88" cy="0.1" r="1.39"/><circle cx="22.3" cy="28.69" r="1.29"/><circle cx="23.08" cy="29.89" r="1.11"/><circle cx="24.88" cy="29.9" r="1.3"/><circle cx="81.55" cy="72.72" r="1.51"/><circle cx="79.81" cy="72.11" r="1.15"/><circle cx="51.56" cy="69.05" r="1.34"/><circle cx="70.36" cy="8.48" r="1.24"/><circle cx="72.16" cy="5.35" r="1.64"/><circle cx="70.53" cy="5.08" r="1.63"/><circle cx="61.46" cy="49.8" r="1.06"/><circle cx="61.07" cy="48.05" r="1.15"/><circle cx="61.94" cy="47.16" r="1.1"/><circle cx="62.82" cy="48.65" r="1.28"/><circle cx="102.07" cy="70.41" r="1.23"/><circle cx="102.26" cy="69.07" r="1.42"/><circle cx="102.85" cy="70.92" r="1.28"/><circle cx="39.57" cy="74.56" r="1.21"/><circle cx="40.74" cy="75.9" r="1.34"/><circle cx="41.95" cy="76.04" r="1.2"/><circle cx="25.87" cy="57.46" r="1.67"/><circle cx="27.91" cy="58.76" r="1.47"/><circle cx="29.14" cy="59.78" r="1.57"/><circle cx="30.44" cy="59.82" r="1.08"/><circle cx="58.41" cy="4.1" r="1.65"/><circle cx="57.34" cy="5.33" r="1.11"/><circle cx="5.31" cy="58.31" r="1.67"/><circle cx="1.52" cy="57.15" r="1.43"/><circle cx="-0.08" cy="57.19" r="1.58"/><circle cx="-1.37" cy="58.62" r="1.55"/><circle cx="51.81" cy="43.69" r="1.37"/><circle cx="20.5" cy="21.92" r="1.25"/><circle cx="19.84" cy="23.28" r="1.31"/><circle cx="20.56" cy="19.77" r="1.5"/><circle cx="63.35" cy="31.59" r="1.4"/><circle cx="62.75" cy="33.1" r="1.04"/><circle cx="62.88" cy="34.66" r="1.44"/><circle cx="86.8" cy="11.97" r="1.13"/><circle cx="89.12" cy="9.22" r="1.64"/><circle cx="89.9" cy="7.63" r="1.39"/><circle cx="91.71" cy="7.16" r="1.23"/><circle cx="93.51" cy="25.19" r="1.3"/><circle cx="92.18" cy="24.79" r="1.55"/><circle cx="91.78" cy="26.09" r="1.56"/><circle cx="91.96" cy="27.57" r="1.49"/><circle cx="50.86" cy="40.86" r="1.08"/><circle cx="51.92" cy="41.66" r="1.69"/><circle cx="84.72" cy="52.91" r="1.42"/><circle cx="85.84" cy="53.36" r="1.03"/><circle cx="62.18" cy="45.94" r="1.57"/><circle cx="60.35" cy="45.37" r="1.43"/><circle cx="25.52" cy="12.84" r="1.13"/><circle cx="27.26" cy="12.7" r="1.27"/><circle cx="26.02" cy="9.55" r="1.51"/><circle cx="27.54" cy="9.65" r="1.16"/><circle cx="5.43" cy="6.68" r="1.29"/><circle cx="4.12" cy="6.55" r="1.12"/><circle cx="3.66" cy="5.3" r="1.06"/><circle cx="22.49" cy="51.95" r="1.17"/><circle cx="52.69" cy="16.09" r="1.26"/><circle cx="52.77" cy="15.24" r="1.29"/><circle cx="52.3" cy="13.81" r="1.32"/><circle cx="50.88" cy="13.63" r="1.32"/><circle cx="42.73" cy="69.33" r="1.13"/><circle cx="43.87" cy="70.5" r="1.55"/><circle cx="76.37" cy="35.55" r="1.03"/><circle cx="77.13" cy="34.58" r="1.67"/><circle cx="50.32" cy="55.12" r="1.32"/><circle cx="49.13" cy="56.21" r="1.64"/><circle cx="35.19" cy="32.26" r="1.65"/><circle cx="30.85" cy="31.82" r="1.21"/><circle cx="34.4" cy="32.05" r="1.08"/><circle cx="32.98" cy="32.05" r="1.23"/><circle cx="28.73" cy="55.69" r="1.16"/><circle cx="27.31" cy="55.99" r="1.07"/><circle cx="27.24" cy="57.44" r="1.08"/><circle cx="79.87" cy="46.3" r="1.41"/><circle cx="79.07" cy="45.2" r="1.45"/><circle cx="79.33" cy="46.64" r="1.52"/><circle cx="53.39" cy="18.28" r="1.47"/><circle cx="54.2" cy="18.22" r="1.29"/><circle cx="58.86" cy="19.48" r="1.28"/><circle cx="30.57" cy="10.26" r="1.34"/><circle cx="31.22" cy="11.28" r="1.15"/><circle cx="31.77" cy="12.63" r="1.56"/><circle cx="41.18" cy="72.4" r="1.56"/><circle cx="40.09" cy="71.03" r="1.17"/><circle cx="38.68" cy="71.42" r="1.45"/><circle cx="61.08" cy="36.61" r="1.1"/><circle cx="62.58" cy="37.02" r="1.28"/><circle cx="64.24" cy="36.3" r="1.06"/><circle cx="67.85" cy="0.88" r="1"/><circle cx="57.08" cy="48" r="1.07"/><circle cx="43.98" cy="58.51" r="1.65"/><circle cx="43.02" cy="59.29" r="1.55"/><circle cx="41.87" cy="58.46" r="1.1"/><circle cx="8.83" cy="26.25" r="1.24"/><circle cx="108.7" cy="33.34" r="1.07"/><circle cx="80.06" cy="35.39" r="1.01"/><circle cx="79.2" cy="33.88" r="1.5"/><circle cx="77.95" cy="34.52" r="1.44"/><circle cx="76.87" cy="35.4" r="1.63"/><circle cx="79.43" cy="73.69" r="1.03"/><circle cx="89.1" cy="45.67" r="1.09"/><circle cx="90.7" cy="45.89" r="1.19"/><circle cx="89.36" cy="47.44" r="1.63"/><circle cx="99.84" cy="13.98" r="1.54"/><circle cx="100.87" cy="12.92" r="1.03"/><circle cx="96.92" cy="14.75" r="1.49"/><circle cx="98.06" cy="14.35" r="1.09"/></g>
<line x1="89.3" y1="70.6" x2="104.8" y2="70.6" stroke="#e0403a" stroke-width="0.9"/>
</svg>
<svg x="29.9" y="603.8" width="105.8" height="71.3" viewBox="0 0 105.8 71.3">
<rect width="105.8" height="71.3" fill="url(#mbg)"/>
<path d="M25.18 38.8h0.8v0.8h-0.8zM39.14 43.06h0.8v0.8h-0.8zM66.2 4.67h0.8v0.8h-0.8zM1.39 59.71h0.8v0.8h-0.8zM27.44 16.71h0.8v0.8h-0.8zM105.34 33.53h0.8v0.8h-0.8zM88.5 33.96h0.8v0.8h-0.8zM67.61 10.74h0.8v0.8h-0.8zM67.17 61.89h0.8v0.8h-0.8zM55.35 52.85h0.8v0.8h-0.8zM71.04 4.57h0.8v0.8h-0.8zM80.22 42.15h0.8v0.8h-0.8zM31.87 2.21h0.8v0.8h-0.8zM91.57 33.71h0.8v0.8h-0.8zM76.05 62.66h0.8v0.8h-0.8zM75.55 65.67h0.8v0.8h-0.8zM41.79 57.1h0.8v0.8h-0.8zM47.04 66.71h0.8v0.8h-0.8zM92.98 6.95h0.8v0.8h-0.8zM14.39 15.47h0.8v0.8h-0.8zM102.15 31.1h0.8v0.8h-0.8zM66.3 21.46h0.8v0.8h-0.8zM53.67 27.51h0.8v0.8h-0.8zM37.13 41.72h0.8v0.8h-0.8zM61.81 64.47h0.8v0.8h-0.8zM72.15 66.23h0.8v0.8h-0.8zM90.61 70.66h0.8v0.8h-0.8zM71.02 11.63h0.8v0.8h-0.8zM91.06 68.78h0.8v0.8h-0.8zM95.72 40.58h0.8v0.8h-0.8zM75.52 15.05h0.8v0.8h-0.8zM87.98 40.89h0.8v0.8h-0.8zM30.15 4.52h0.8v0.8h-0.8zM90.35 70.57h0.8v0.8h-0.8zM9.37 57.08h0.8v0.8h-0.8zM43.43 10.75h0.8v0.8h-0.8zM31.09 54.81h0.8v0.8h-0.8zM92.34 3.15h0.8v0.8h-0.8zM65.02 3.2h0.8v0.8h-0.8zM76.01 23.6h0.8v0.8h-0.8zM93.2 69.92h0.8v0.8h-0.8zM53.47 71.19h0.8v0.8h-0.8zM32.76 5.49h0.8v0.8h-0.8zM63.45 2.24h0.8v0.8h-0.8zM20.88 29.09h0.8v0.8h-0.8zM64.59 11.14h0.8v0.8h-0.8zM4.49 61.87h0.8v0.8h-0.8zM33.2 68.35h0.8v0.8h-0.8zM94.87 26.94h0.8v0.8h-0.8zM48.71 37.08h0.8v0.8h-0.8zM68.12 42.47h0.8v0.8h-0.8zM59.17 44.21h0.8v0.8h-0.8zM99.52 36.15h0.8v0.8h-0.8zM45.62 51.36h0.8v0.8h-0.8zM25.14 21.47h0.8v0.8h-0.8zM103.45 37.16h0.8v0.8h-0.8zM58.02 0.82h0.8v0.8h-0.8zM43.93 41.35h0.8v0.8h-0.8zM2.12 43.91h0.8v0.8h-0.8zM66.88 4.28h0.8v0.8h-0.8zM66.37 33.24h0.8v0.8h-0.8zM71.87 25.14h0.8v0.8h-0.8zM74.8 52.62h0.8v0.8h-0.8zM2.35 4.32h0.8v0.8h-0.8zM71.52 68.68h0.8v0.8h-0.8zM26.57 32.54h0.8v0.8h-0.8zM62.7 22.82h0.8v0.8h-0.8zM38.51 22.29h0.8v0.8h-0.8zM39.06 42.47h0.8v0.8h-0.8zM31.78 26.89h0.8v0.8h-0.8zM81.71 1.92h0.8v0.8h-0.8zM60.23 52.42h0.8v0.8h-0.8zM32.8 15.87h0.8v0.8h-0.8zM85.04 17.02h0.8v0.8h-0.8zM19.83 31.03h0.8v0.8h-0.8zM73.86 7.26h0.8v0.8h-0.8zM34.06 23.8h0.8v0.8h-0.8zM88.19 31.26h0.8v0.8h-0.8zM90.52 12.07h0.8v0.8h-0.8zM35.62 46.36h0.8v0.8h-0.8zM93.62 32.16h0.8v0.8h-0.8zM23.81 8.62h0.8v0.8h-0.8zM56.03 13.6h0.8v0.8h-0.8zM85.36 59.78h0.8v0.8h-0.8zM19.42 19.86h0.8v0.8h-0.8zM85.4 45.77h0.8v0.8h-0.8zM85.3 24.62h0.8v0.8h-0.8zM13.72 20.82h0.8v0.8h-0.8zM83.99 19.33h0.8v0.8h-0.8zM36.64 29.73h0.8v0.8h-0.8zM44.41 29.2h0.8v0.8h-0.8zM97.4 11.12h0.8v0.8h-0.8zM0.49 67.25h0.8v0.8h-0.8zM93.1 70.37h0.8v0.8h-0.8zM45.95 67.75h0.8v0.8h-0.8zM98.12 15.84h0.8v0.8h-0.8zM78.88 59.66h0.8v0.8h-0.8zM70.14 37.01h0.8v0.8h-0.8zM30.58 24.32h0.8v0.8h-0.8zM24.07 4.85h0.8v0.8h-0.8zM62.28 20.46h0.8v0.8h-0.8zM85.72 3.21h0.8v0.8h-0.8zM95.6 49.46h0.8v0.8h-0.8zM97.74 63.93h0.8v0.8h-0.8zM95.19 41.14h0.8v0.8h-0.8zM1.39 53.14h0.8v0.8h-0.8zM18.18 21.38h0.8v0.8h-0.8zM70.13 37.43h0.8v0.8h-0.8zM43.77 66.95h0.8v0.8h-0.8zM64.77 24.34h0.8v0.8h-0.8zM26.71 61.44h0.8v0.8h-0.8zM50.49 55.78h0.8v0.8h-0.8zM37.22 14.07h0.8v0.8h-0.8zM56.56 58.24h0.8v0.8h-0.8zM18.12 56.45h0.8v0.8h-0.8zM97.52 57.47h0.8v0.8h-0.8zM87.13 0.54h0.8v0.8h-0.8zM66.51 61.5h0.8v0.8h-0.8zM5.28 19.35h0.8v0.8h-0.8zM28.42 37.59h0.8v0.8h-0.8zM44.75 33.72h0.8v0.8h-0.8zM82.15 0.13h0.8v0.8h-0.8zM5.8 9.05h0.8v0.8h-0.8zM13.19 4.88h0.8v0.8h-0.8zM103.12 60.92h0.8v0.8h-0.8zM9.11 35.8h0.8v0.8h-0.8zM33.42 22.43h0.8v0.8h-0.8zM37.17 46.12h0.8v0.8h-0.8zM62.06 25.73h0.8v0.8h-0.8zM20.22 23.44h0.8v0.8h-0.8zM13.09 39.61h0.8v0.8h-0.8zM75.76 27.11h0.8v0.8h-0.8zM8.45 12.73h0.8v0.8h-0.8zM39.49 43.1h0.8v0.8h-0.8zM82.8 27.11h0.8v0.8h-0.8zM84.76 44.41h0.8v0.8h-0.8zM45.66 26.55h0.8v0.8h-0.8zM52.49 50.12h0.8v0.8h-0.8zM44.49 49.49h0.8v0.8h-0.8zM48.76 17.47h0.8v0.8h-0.8zM56.69 49.57h0.8v0.8h-0.8zM7.57 30.29h0.8v0.8h-0.8zM45.06 62.72h0.8v0.8h-0.8zM99.08 26.68h0.8v0.8h-0.8zM94.99 56.39h0.8v0.8h-0.8zM27.74 33.09h0.8v0.8h-0.8zM13.03 57.98h0.8v0.8h-0.8zM70.07 63.27h0.8v0.8h-0.8zM83.84 47.6h0.8v0.8h-0.8zM77.63 40.2h0.8v0.8h-0.8zM10.91 41.91h0.8v0.8h-0.8zM0.52 10.23h0.8v0.8h-0.8zM81.92 3.16h0.8v0.8h-0.8zM9.71 7.08h0.8v0.8h-0.8zM93.15 12.77h0.8v0.8h-0.8zM2.48 60h0.8v0.8h-0.8zM12.83 60.17h0.8v0.8h-0.8zM71.26 59.62h0.8v0.8h-0.8zM100.77 41.29h0.8v0.8h-0.8zM84.51 2.59h0.8v0.8h-0.8zM81.19 36.46h0.8v0.8h-0.8zM75.66 7.61h0.8v0.8h-0.8zM79.24 66.63h0.8v0.8h-0.8zM6.47 23.12h0.8v0.8h-0.8zM59.67 59.04h0.8v0.8h-0.8zM25.62 12.82h0.8v0.8h-0.8zM26.45 43.92h0.8v0.8h-0.8zM79.72 28.07h0.8v0.8h-0.8zM38.88 28.28h0.8v0.8h-0.8zM37.06 29.82h0.8v0.8h-0.8zM8.81 35.67h0.8v0.8h-0.8zM102.95 29.43h0.8v0.8h-0.8zM79.08 11.45h0.8v0.8h-0.8zM73.09 53.91h0.8v0.8h-0.8zM71.29 36.87h0.8v0.8h-0.8zM51.18 45.84h0.8v0.8h-0.8zM94.95 10.65h0.8v0.8h-0.8zM10.14 53.34h0.8v0.8h-0.8zM96.98 36.88h0.8v0.8h-0.8zM46.88 51.26h0.8v0.8h-0.8zM19.69 19.06h0.8v0.8h-0.8zM21.07 41.75h0.8v0.8h-0.8zM33.31 16.56h0.8v0.8h-0.8zM73.12 67.98h0.8v0.8h-0.8zM31.3 50.29h0.8v0.8h-0.8zM43.72 60.86h0.8v0.8h-0.8zM61.86 19.05h0.8v0.8h-0.8zM23.02 1.65h0.8v0.8h-0.8zM50.73 27.29h0.8v0.8h-0.8zM18.22 25.7h0.8v0.8h-0.8zM34.07 55.2h0.8v0.8h-0.8zM15.19 70.67h0.8v0.8h-0.8zM50.74 42.71h0.8v0.8h-0.8zM49.52 59.51h0.8v0.8h-0.8zM86.93 39.72h0.8v0.8h-0.8zM50.92 51.39h0.8v0.8h-0.8zM90.63 28.54h0.8v0.8h-0.8zM77.61 68.47h0.8v0.8h-0.8zM49.45 16.37h0.8v0.8h-0.8zM24.84 51.17h0.8v0.8h-0.8zM71.45 68.36h0.8v0.8h-0.8zM90.34 17.26h0.8v0.8h-0.8zM20.06 18.44h0.8v0.8h-0.8zM19.8 50.25h0.8v0.8h-0.8zM90.84 64.15h0.8v0.8h-0.8zM26.98 61.68h0.8v0.8h-0.8zM33.16 30.18h0.8v0.8h-0.8zM77.12 6.13h0.8v0.8h-0.8zM9.8 59.46h0.8v0.8h-0.8zM30.87 25.43h0.8v0.8h-0.8zM61.4 48.16h0.8v0.8h-0.8zM0.73 23.87h0.8v0.8h-0.8zM46.15 34.64h0.8v0.8h-0.8zM22.23 41.72h0.8v0.8h-0.8zM101.07 27.87h0.8v0.8h-0.8zM57.59 8.5h0.8v0.8h-0.8zM29.07 47.45h0.8v0.8h-0.8zM11.91 63.26h0.8v0.8h-0.8zM96.15 6.91h0.8v0.8h-0.8zM99.59 26.68h0.8v0.8h-0.8zM81.72 54h0.8v0.8h-0.8zM31.27 48.19h0.8v0.8h-0.8zM69.2 57.47h0.8v0.8h-0.8zM28.1 53.77h0.8v0.8h-0.8zM101.71 47.97h0.8v0.8h-0.8zM56.73 8.08h0.8v0.8h-0.8zM52.25 25.11h0.8v0.8h-0.8zM75.97 48.38h0.8v0.8h-0.8zM59.92 12.98h0.8v0.8h-0.8zM68.31 44.98h0.8v0.8h-0.8zM18.95 63.45h0.8v0.8h-0.8zM69.34 8.78h0.8v0.8h-0.8zM98.59 10.08h0.8v0.8h-0.8zM35.08 51.37h0.8v0.8h-0.8zM63.21 39.57h0.8v0.8h-0.8zM68.5 32.63h0.8v0.8h-0.8zM33.06 12.58h0.8v0.8h-0.8zM7.26 51.04h0.8v0.8h-0.8zM79.82 38.73h0.8v0.8h-0.8zM78.25 25.61h0.8v0.8h-0.8zM28.13 27.33h0.8v0.8h-0.8zM92.31 3h0.8v0.8h-0.8zM53.4 17.63h0.8v0.8h-0.8zM81.35 25.25h0.8v0.8h-0.8zM35.22 28.76h0.8v0.8h-0.8zM57.29 55.02h0.8v0.8h-0.8zM37.34 60.38h0.8v0.8h-0.8zM11.86 19.29h0.8v0.8h-0.8zM10.54 8.03h0.8v0.8h-0.8zM82.42 51.86h0.8v0.8h-0.8zM19.56 13.49h0.8v0.8h-0.8zM44.08 53h0.8v0.8h-0.8zM86.31 53.38h0.8v0.8h-0.8zM62.62 10.44h0.8v0.8h-0.8zM42.15 13.81h0.8v0.8h-0.8zM55.82 40.52h0.8v0.8h-0.8zM21.38 17.84h0.8v0.8h-0.8zM82.7 2.15h0.8v0.8h-0.8zM84.97 63.54h0.8v0.8h-0.8zM100.44 27.32h0.8v0.8h-0.8zM58.47 41.57h0.8v0.8h-0.8zM67.04 69.66h0.8v0.8h-0.8zM72.65 21.35h0.8v0.8h-0.8zM90.99 34.51h0.8v0.8h-0.8zM63.62 51.82h0.8v0.8h-0.8zM0.25 54.93h0.8v0.8h-0.8zM70.03 35.07h0.8v0.8h-0.8zM55.4 32.84h0.8v0.8h-0.8zM20.47 37.76h0.8v0.8h-0.8zM3.92 35.68h0.8v0.8h-0.8zM68.34 31.67h0.8v0.8h-0.8zM59.88 68.38h0.8v0.8h-0.8zM94.38 9.67h0.8v0.8h-0.8zM83.83 44.44h0.8v0.8h-0.8zM5.35 25.66h0.8v0.8h-0.8zM24.7 5.55h0.8v0.8h-0.8zM57.01 66.3h0.8v0.8h-0.8zM34.19 62.07h0.8v0.8h-0.8zM73.49 9.58h0.8v0.8h-0.8zM90.81 42.86h0.8v0.8h-0.8zM98.07 51.05h0.8v0.8h-0.8zM78.26 24.5h0.8v0.8h-0.8zM85.35 66.43h0.8v0.8h-0.8zM91.14 31.16h0.8v0.8h-0.8zM80.07 34.58h0.8v0.8h-0.8zM11.55 3.04h0.8v0.8h-0.8zM8.25 14.28h0.8v0.8h-0.8zM17.01 35.45h0.8v0.8h-0.8zM73.98 38.32h0.8v0.8h-0.8zM44.66 46.29h0.8v0.8h-0.8zM32.23 33.11h0.8v0.8h-0.8zM80.1 28.62h0.8v0.8h-0.8zM19.11 64.13h0.8v0.8h-0.8zM76.14 26.16h0.8v0.8h-0.8zM39.25 37.74h0.8v0.8h-0.8zM63.11 15.96h0.8v0.8h-0.8zM0.29 14.9h0.8v0.8h-0.8zM82.86 10.23h0.8v0.8h-0.8zM48.67 13.92h0.8v0.8h-0.8zM22.14 12.18h0.8v0.8h-0.8zM42.72 12h0.8v0.8h-0.8zM2.91 7.85h0.8v0.8h-0.8zM17.8 34.96h0.8v0.8h-0.8zM6.32 1.6h0.8v0.8h-0.8zM47.4 29.07h0.8v0.8h-0.8zM74.42 3.64h0.8v0.8h-0.8zM42.67 28.28h0.8v0.8h-0.8zM2.82 68.84h0.8v0.8h-0.8zM23.16 6.72h0.8v0.8h-0.8zM50.21 11.75h0.8v0.8h-0.8zM65.86 24.7h0.8v0.8h-0.8zM13.11 3.7h0.8v0.8h-0.8zM76.99 19.61h0.8v0.8h-0.8zM83.35 33.18h0.8v0.8h-0.8zM98.7 21.43h0.8v0.8h-0.8zM26.45 18.95h0.8v0.8h-0.8zM86.19 44.86h0.8v0.8h-0.8zM36.47 6.68h0.8v0.8h-0.8zM72.2 69.11h0.8v0.8h-0.8zM62.66 0.26h0.8v0.8h-0.8zM3.21 6.46h0.8v0.8h-0.8zM18.02 2.61h0.8v0.8h-0.8zM5.71 46.65h0.8v0.8h-0.8zM95.25 14.31h0.8v0.8h-0.8zM103.03 34h0.8v0.8h-0.8zM85.02 65.41h0.8v0.8h-0.8zM99.46 2.44h0.8v0.8h-0.8zM32.24 43.27h0.8v0.8h-0.8zM100.14 6.26h0.8v0.8h-0.8zM31.05 60.6h0.8v0.8h-0.8zM12.13 27.8h0.8v0.8h-0.8zM35.36 48.49h0.8v0.8h-0.8zM98.24 12.45h0.8v0.8h-0.8zM78.27 52.33h0.8v0.8h-0.8zM88.41 39.45h0.8v0.8h-0.8zM97.71 25.87h0.8v0.8h-0.8zM43.88 16.36h0.8v0.8h-0.8zM82.47 34.27h0.8v0.8h-0.8zM28.51 12.1h0.8v0.8h-0.8zM76.24 43.19h0.8v0.8h-0.8zM75.18 27.58h0.8v0.8h-0.8zM51.54 10.97h0.8v0.8h-0.8zM75.19 1.64h0.8v0.8h-0.8zM49.4 54.08h0.8v0.8h-0.8zM71.66 6.92h0.8v0.8h-0.8zM25.09 60.15h0.8v0.8h-0.8zM67.96 62.64h0.8v0.8h-0.8zM92.28 32.08h0.8v0.8h-0.8zM94.89 52.25h0.8v0.8h-0.8zM35.31 26.39h0.8v0.8h-0.8zM7.62 28.47h0.8v0.8h-0.8zM101.11 7.49h0.8v0.8h-0.8zM60.19 7.85h0.8v0.8h-0.8zM8.56 46.28h0.8v0.8h-0.8zM25.46 3.48h0.8v0.8h-0.8zM16.15 45.96h0.8v0.8h-0.8zM61.95 0.83h0.8v0.8h-0.8zM24.33 68.96h0.8v0.8h-0.8zM23.28 40.1h0.8v0.8h-0.8zM44.4 55.7h0.8v0.8h-0.8zM63.94 56.23h0.8v0.8h-0.8zM56.63 13.42h0.8v0.8h-0.8zM18.79 5.64h0.8v0.8h-0.8zM87.34 8.02h0.8v0.8h-0.8zM2.54 68.91h0.8v0.8h-0.8zM21.08 63.69h0.8v0.8h-0.8zM9.07 33.17h0.8v0.8h-0.8zM23.57 59.14h0.8v0.8h-0.8zM65.11 45.76h0.8v0.8h-0.8zM80.56 62.15h0.8v0.8h-0.8zM36.61 43h0.8v0.8h-0.8zM47.14 7.91h0.8v0.8h-0.8zM88.38 42.38h0.8v0.8h-0.8zM86.21 14.69h0.8v0.8h-0.8zM57.05 33.1h0.8v0.8h-0.8zM77.02 5.51h0.8v0.8h-0.8zM36.62 34.55h0.8v0.8h-0.8zM7.57 39.41h0.8v0.8h-0.8zM77.8 30.15h0.8v0.8h-0.8zM68.6 43.2h0.8v0.8h-0.8zM22.66 24.99h0.8v0.8h-0.8zM105.35 23.9h0.8v0.8h-0.8zM45.58 6h0.8v0.8h-0.8zM23.05 11.78h0.8v0.8h-0.8zM98.49 51.79h0.8v0.8h-0.8zM92.55 70.34h0.8v0.8h-0.8zM64.76 66.4h0.8v0.8h-0.8zM56.68 29.86h0.8v0.8h-0.8zM100.3 64.39h0.8v0.8h-0.8zM100.47 34.52h0.8v0.8h-0.8zM81.83 29.02h0.8v0.8h-0.8zM105.51 65.62h0.8v0.8h-0.8zM30.9 66.61h0.8v0.8h-0.8zM19.53 6.84h0.8v0.8h-0.8zM76.43 20.98h0.8v0.8h-0.8zM54.96 45.58h0.8v0.8h-0.8zM4.29 53.13h0.8v0.8h-0.8zM29.2 30.83h0.8v0.8h-0.8zM36.48 52.91h0.8v0.8h-0.8zM79.01 20.48h0.8v0.8h-0.8zM10.94 21.34h0.8v0.8h-0.8zM43.49 5.53h0.8v0.8h-0.8zM16.21 54.38h0.8v0.8h-0.8zM74.1 69.62h0.8v0.8h-0.8zM103.65 62.47h0.8v0.8h-0.8zM39.42 11.5h0.8v0.8h-0.8zM33 33.02h0.8v0.8h-0.8zM55.64 38.65h0.8v0.8h-0.8zM38.06 60.8h0.8v0.8h-0.8zM30.17 33.02h0.8v0.8h-0.8zM93.82 57.55h0.8v0.8h-0.8zM31.46 17.3h0.8v0.8h-0.8zM85.35 0.72h0.8v0.8h-0.8zM13.91 37.85h0.8v0.8h-0.8zM56.69 11.82h0.8v0.8h-0.8zM5.32 14.54h0.8v0.8h-0.8zM81.47 33.21h0.8v0.8h-0.8zM103.61 56.01h0.8v0.8h-0.8zM103.6 2.5h0.8v0.8h-0.8zM19.58 0.94h0.8v0.8h-0.8zM45.74 24.12h0.8v0.8h-0.8zM5.42 38.93h0.8v0.8h-0.8zM9.93 22.22h0.8v0.8h-0.8zM26.16 57.19h0.8v0.8h-0.8zM44.25 18.56h0.8v0.8h-0.8zM4.66 30.63h0.8v0.8h-0.8zM66.39 48.14h0.8v0.8h-0.8zM96.55 57.65h0.8v0.8h-0.8zM26.17 9.67h0.8v0.8h-0.8zM80.23 56.29h0.8v0.8h-0.8zM53.83 59.25h0.8v0.8h-0.8zM58.39 19.94h0.8v0.8h-0.8zM17.85 1.22h0.8v0.8h-0.8zM68.04 63.95h0.8v0.8h-0.8zM95.87 33.33h0.8v0.8h-0.8zM70.41 66.21h0.8v0.8h-0.8zM86.12 42.97h0.8v0.8h-0.8zM43.85 36.96h0.8v0.8h-0.8zM18.07 13.04h0.8v0.8h-0.8zM72.34 70.74h0.8v0.8h-0.8zM57.88 29.1h0.8v0.8h-0.8zM37.23 32.43h0.8v0.8h-0.8zM84.95 32.26h0.8v0.8h-0.8zM101.49 11.07h0.8v0.8h-0.8zM33.32 37.22h0.8v0.8h-0.8zM43.58 60.68h0.8v0.8h-0.8zM87.56 66.4h0.8v0.8h-0.8zM64.8 2.18h0.8v0.8h-0.8zM60.78 39.2h0.8v0.8h-0.8zM51.59 19.95h0.8v0.8h-0.8zM75.05 65h0.8v0.8h-0.8zM10.84 47.68h0.8v0.8h-0.8zM39.28 36.7h0.8v0.8h-0.8zM94.77 68.47h0.8v0.8h-0.8zM68.09 13.91h0.8v0.8h-0.8zM97.41 12.91h0.8v0.8h-0.8zM40.55 59.05h0.8v0.8h-0.8zM33.45 19.31h0.8v0.8h-0.8zM100.5 67.29h0.8v0.8h-0.8zM33.58 27.99h0.8v0.8h-0.8zM29.83 9.38h0.8v0.8h-0.8zM26.47 69.89h0.8v0.8h-0.8zM8.39 16.38h0.8v0.8h-0.8zM21.16 5.67h0.8v0.8h-0.8zM55.68 52.98h0.8v0.8h-0.8zM88.69 45h0.8v0.8h-0.8zM86.52 0.38h0.8v0.8h-0.8zM29.86 68.53h0.8v0.8h-0.8zM7.34 19.08h0.8v0.8h-0.8zM51.08 19.1h0.8v0.8h-0.8zM57.78 3.36h0.8v0.8h-0.8z" fill="#8e9298" opacity="0.5"/>
<path d="M24.96 68.27h0.9v0.9h-0.9zM15.26 64.56h0.9v0.9h-0.9zM18.82 70.79h0.9v0.9h-0.9zM71.37 46.13h0.9v0.9h-0.9zM15.05 3.89h0.9v0.9h-0.9zM80.35 12.56h0.9v0.9h-0.9zM20.06 58.66h0.9v0.9h-0.9zM92.56 3.48h0.9v0.9h-0.9zM101.65 38.13h0.9v0.9h-0.9zM40.46 7.63h0.9v0.9h-0.9zM41.25 70.41h0.9v0.9h-0.9zM29.71 9.36h0.9v0.9h-0.9zM15.37 9.05h0.9v0.9h-0.9zM37.29 65.24h0.9v0.9h-0.9zM8.14 13.69h0.9v0.9h-0.9zM99.38 71.08h0.9v0.9h-0.9zM103.68 17.54h0.9v0.9h-0.9zM37.49 67.79h0.9v0.9h-0.9zM51.32 50.15h0.9v0.9h-0.9zM33.14 1.52h0.9v0.9h-0.9zM36.54 53.34h0.9v0.9h-0.9zM82.73 40.56h0.9v0.9h-0.9zM49.1 38.37h0.9v0.9h-0.9zM46.79 38.11h0.9v0.9h-0.9zM88.13 14.29h0.9v0.9h-0.9zM62.88 66.51h0.9v0.9h-0.9zM89.75 12.8h0.9v0.9h-0.9zM101.93 59.9h0.9v0.9h-0.9zM17.77 18.96h0.9v0.9h-0.9zM21.41 3.78h0.9v0.9h-0.9zM103.51 29.18h0.9v0.9h-0.9zM92.33 8.17h0.9v0.9h-0.9zM1.47 62.02h0.9v0.9h-0.9zM84.01 70.7h0.9v0.9h-0.9zM72.52 37.45h0.9v0.9h-0.9zM81.05 6.6h0.9v0.9h-0.9zM57.17 31.46h0.9v0.9h-0.9zM15.48 42.81h0.9v0.9h-0.9zM34.19 36.11h0.9v0.9h-0.9zM39.52 22.68h0.9v0.9h-0.9zM37.92 42.85h0.9v0.9h-0.9zM103.74 66.75h0.9v0.9h-0.9zM91.22 59.55h0.9v0.9h-0.9zM30.34 69.64h0.9v0.9h-0.9zM28.54 8.78h0.9v0.9h-0.9zM52.99 52.21h0.9v0.9h-0.9zM36.08 46.01h0.9v0.9h-0.9zM29.88 68.94h0.9v0.9h-0.9zM47.92 34.07h0.9v0.9h-0.9zM56.23 62.38h0.9v0.9h-0.9zM104.37 37.68h0.9v0.9h-0.9zM46.72 44.05h0.9v0.9h-0.9zM7.33 30.34h0.9v0.9h-0.9zM89.66 55.43h0.9v0.9h-0.9zM6.28 60.92h0.9v0.9h-0.9zM40.63 69.96h0.9v0.9h-0.9zM38.79 15.3h0.9v0.9h-0.9zM58.05 63.02h0.9v0.9h-0.9zM45.61 61.85h0.9v0.9h-0.9zM75.26 25.78h0.9v0.9h-0.9zM31.8 36.03h0.9v0.9h-0.9zM42.22 26.56h0.9v0.9h-0.9zM68.95 62.4h0.9v0.9h-0.9zM61.83 10.42h0.9v0.9h-0.9zM23.27 26.45h0.9v0.9h-0.9zM65.03 9.95h0.9v0.9h-0.9zM8.63 22.86h0.9v0.9h-0.9zM29.94 2.1h0.9v0.9h-0.9zM57 65.69h0.9v0.9h-0.9zM56.54 52.58h0.9v0.9h-0.9zM87.65 59.73h0.9v0.9h-0.9zM96.6 31.47h0.9v0.9h-0.9zM72.2 8.61h0.9v0.9h-0.9zM93.1 26.97h0.9v0.9h-0.9zM50.29 63.48h0.9v0.9h-0.9zM30.34 13.54h0.9v0.9h-0.9zM87.14 42.7h0.9v0.9h-0.9zM8.98 2h0.9v0.9h-0.9zM37.16 0.53h0.9v0.9h-0.9zM88.07 13.09h0.9v0.9h-0.9zM29.01 27.72h0.9v0.9h-0.9zM54.14 30.83h0.9v0.9h-0.9zM66.51 47.05h0.9v0.9h-0.9zM46.15 6.92h0.9v0.9h-0.9zM103.59 49.28h0.9v0.9h-0.9zM8.84 31.49h0.9v0.9h-0.9zM79.73 70.71h0.9v0.9h-0.9zM6.98 0.68h0.9v0.9h-0.9zM50.78 30.1h0.9v0.9h-0.9zM94.63 58.93h0.9v0.9h-0.9zM35.08 29.86h0.9v0.9h-0.9zM61.67 63.04h0.9v0.9h-0.9zM21.36 27.94h0.9v0.9h-0.9zM9.36 45.72h0.9v0.9h-0.9zM2.81 66.67h0.9v0.9h-0.9zM55.41 40.92h0.9v0.9h-0.9zM9.02 16.56h0.9v0.9h-0.9zM49.6 61.13h0.9v0.9h-0.9zM57.03 20.29h0.9v0.9h-0.9zM103.9 47.16h0.9v0.9h-0.9zM55.9 14.43h0.9v0.9h-0.9zM31.59 64.16h0.9v0.9h-0.9zM14.06 37.9h0.9v0.9h-0.9zM65.59 25.3h0.9v0.9h-0.9zM81.33 64.88h0.9v0.9h-0.9zM90.73 52.62h0.9v0.9h-0.9zM21.54 4.27h0.9v0.9h-0.9z" fill="#8478cc" opacity="0.6"/>
<g fill="#5d4dc3" filter="url(#blurc)"><circle cx="45.39" cy="21.12" r="1.5"/><circle cx="44.99" cy="22.61" r="1.07"/><circle cx="53.04" cy="62.1" r="0.97"/><circle cx="54.32" cy="63.42" r="1.27"/><circle cx="53.03" cy="63.51" r="0.99"/><circle cx="74.6" cy="23.3" r="1.15"/><circle cx="16.33" cy="10.01" r="1.09"/><circle cx="16.38" cy="8.68" r="1.39"/><circle cx="16.64" cy="7.05" r="1.21"/><circle cx="14.93" cy="6.51" r="1.24"/><circle cx="51.8" cy="41.76" r="1.22"/><circle cx="50.27" cy="42.12" r="1.27"/><circle cx="48.66" cy="43.51" r="1.21"/><circle cx="13.13" cy="21.84" r="1.5"/><circle cx="11.36" cy="21.29" r="1.26"/><circle cx="15.66" cy="23.53" r="1.27"/><circle cx="58.78" cy="20.4" r="1.59"/><circle cx="57.51" cy="17.76" r="1.49"/><circle cx="58.03" cy="18.21" r="1.18"/><circle cx="40.1" cy="5.47" r="1.54"/><circle cx="40.73" cy="6.89" r="1.27"/><circle cx="42.04" cy="8.04" r="1.31"/><circle cx="39.25" cy="5.18" r="1.41"/><circle cx="37.39" cy="5.82" r="1.2"/><circle cx="22.76" cy="17.16" r="1.26"/><circle cx="20.82" cy="16.23" r="1.23"/><circle cx="19.31" cy="14.23" r="1.43"/><circle cx="17.83" cy="13.34" r="1.54"/><circle cx="16.05" cy="12.58" r="1.1"/><circle cx="82.23" cy="9.78" r="1.28"/><circle cx="80.53" cy="10.23" r="1.19"/><circle cx="79.93" cy="9.12" r="1.4"/><circle cx="80.42" cy="10.36" r="1.2"/><circle cx="20.63" cy="55.6" r="1.08"/><circle cx="21.08" cy="54.29" r="1.4"/><circle cx="21.54" cy="60" r="1.32"/><circle cx="18.91" cy="58.43" r="1"/><circle cx="20.29" cy="54.87" r="1.42"/><circle cx="75.02" cy="45.62" r="1.25"/><circle cx="73.7" cy="46.08" r="1.6"/><circle cx="77.15" cy="46.07" r="0.95"/><circle cx="76.02" cy="45.48" r="1.16"/><circle cx="75.84" cy="43.95" r="1.2"/><circle cx="33.52" cy="14.36" r="0.95"/><circle cx="34.9" cy="14.93" r="1.09"/><circle cx="35.03" cy="15.41" r="1.59"/><circle cx="34.79" cy="13.89" r="1.33"/><circle cx="68.56" cy="73.22" r="1.43"/><circle cx="69.15" cy="71.18" r="1.29"/><circle cx="70.04" cy="69.81" r="1.01"/><circle cx="63.97" cy="78.35" r="1.24"/><circle cx="10.65" cy="35.61" r="1.43"/><circle cx="9.51" cy="35.18" r="1.45"/><circle cx="9.81" cy="36.86" r="0.99"/><circle cx="8.14" cy="36.23" r="1.48"/><circle cx="31.55" cy="40.54" r="0.98"/><circle cx="31.99" cy="39.35" r="1.58"/><circle cx="33.47" cy="38.81" r="1.3"/><circle cx="35.03" cy="39.13" r="1"/><circle cx="-2.31" cy="2.28" r="1.22"/><circle cx="-0.87" cy="1.88" r="1.41"/><circle cx="-1.16" cy="0.48" r="1.34"/><circle cx="-1.57" cy="-0.85" r="1.12"/><circle cx="69.73" cy="54.49" r="1.08"/><circle cx="69.71" cy="55.87" r="1.17"/><circle cx="70.65" cy="56.4" r="1.35"/><circle cx="70" cy="57.89" r="1.12"/><circle cx="45.19" cy="0.09" r="1.42"/><circle cx="43.16" cy="-1.5" r="1.13"/><circle cx="44.93" cy="-1.29" r="1.42"/><circle cx="43.14" cy="1.68" r="1.2"/><circle cx="76.96" cy="67.73" r="1.39"/><circle cx="75.79" cy="69.12" r="1.58"/><circle cx="54.32" cy="5.96" r="1.57"/><circle cx="29.76" cy="63.11" r="1.04"/><circle cx="28.55" cy="62.2" r="1.09"/><circle cx="31.25" cy="62.62" r="1.24"/><circle cx="30.78" cy="62.24" r="1.2"/><circle cx="21.77" cy="69.48" r="1.01"/><circle cx="21.76" cy="69.38" r="1.31"/><circle cx="69.05" cy="60.09" r="1.44"/><circle cx="71.72" cy="64" r="1.48"/><circle cx="98.21" cy="67.66" r="1.25"/><circle cx="98.65" cy="66.24" r="1.11"/><circle cx="97.76" cy="68.29" r="1.49"/><circle cx="99.41" cy="67.76" r="1.22"/><circle cx="100.13" cy="66.16" r="1.46"/><circle cx="10.66" cy="10.39" r="1.06"/><circle cx="11.53" cy="11.54" r="1.16"/><circle cx="12.84" cy="12.08" r="1.21"/><circle cx="84.06" cy="30.84" r="1.03"/><circle cx="83.22" cy="29.52" r="1.06"/><circle cx="54.65" cy="62.41" r="1.4"/><circle cx="54.15" cy="61.05" r="1.43"/><circle cx="52.97" cy="61.48" r="1.3"/><circle cx="54.27" cy="57.82" r="1.1"/><circle cx="32.09" cy="25.04" r="1.5"/><circle cx="95.05" cy="72.73" r="1.06"/><circle cx="68.64" cy="35.8" r="1.47"/><circle cx="69.58" cy="34.2" r="1.6"/><circle cx="69.35" cy="34.53" r="1"/><circle cx="71.06" cy="-0.79" r="1.24"/><circle cx="71.08" cy="0.95" r="1.03"/><circle cx="46.76" cy="72.7" r="1.4"/><circle cx="45.52" cy="71.69" r="0.96"/><circle cx="44.78" cy="70.62" r="1.09"/><circle cx="46.77" cy="37.35" r="1.42"/><circle cx="48.73" cy="40.67" r="1.47"/><circle cx="48.6" cy="42.25" r="1.23"/><circle cx="49.35" cy="43.86" r="1.16"/><circle cx="30.09" cy="2.69" r="1.34"/><circle cx="31.44" cy="3.68" r="1.21"/><circle cx="32.94" cy="2.5" r="1.34"/><circle cx="34.58" cy="2.26" r="1.25"/><circle cx="52.37" cy="37.43" r="1.43"/><circle cx="53.61" cy="37.67" r="1.5"/><circle cx="54.1" cy="35.17" r="1.48"/><circle cx="53.07" cy="36.11" r="1.57"/><circle cx="101.73" cy="45.32" r="1.32"/><circle cx="99.96" cy="44.91" r="1.14"/><circle cx="-2.84" cy="30.97" r="1.54"/><circle cx="-2.9" cy="29.64" r="1.36"/><circle cx="-4.07" cy="28.1" r="1.32"/><circle cx="-5.29" cy="28.14" r="1.11"/><circle cx="5.29" cy="60.53" r="1.05"/><circle cx="4.66" cy="58.05" r="1.01"/><circle cx="3.93" cy="55.07" r="1.16"/><circle cx="3.56" cy="53.66" r="1.32"/><circle cx="36.03" cy="26.11" r="1.41"/><circle cx="34.89" cy="24.68" r="0.99"/><circle cx="35.71" cy="26.98" r="1.4"/><circle cx="36.49" cy="25.98" r="1.07"/><circle cx="41.3" cy="64.84" r="1.5"/><circle cx="39.96" cy="64.23" r="0.98"/><circle cx="71.94" cy="64.96" r="1.4"/><circle cx="36.85" cy="36.26" r="1.18"/><circle cx="35.62" cy="34.59" r="1.35"/><circle cx="35.45" cy="36.13" r="1.08"/><circle cx="34.75" cy="37.85" r="1.53"/><circle cx="15.47" cy="60.96" r="1.44"/><circle cx="15.57" cy="58.61" r="1.2"/><circle cx="15.74" cy="57.19" r="1.49"/><circle cx="71.07" cy="26.24" r="1.05"/><circle cx="69.25" cy="25.55" r="1.17"/><circle cx="70.45" cy="24.53" r="1.34"/><circle cx="72.04" cy="25.22" r="1.48"/><circle cx="73.32" cy="25.14" r="1.11"/><circle cx="54.4" cy="70.97" r="1.33"/><circle cx="92.36" cy="-0.58" r="1.56"/><circle cx="93.31" cy="-1.16" r="1.15"/><circle cx="92.53" cy="2.12" r="1.59"/><circle cx="89.08" cy="3.66" r="1.33"/><circle cx="90.6" cy="3.1" r="1.39"/><circle cx="9.97" cy="27.26" r="1.18"/><circle cx="10.07" cy="26.01" r="1.53"/><circle cx="6.54" cy="26.29" r="1"/><circle cx="4.9" cy="25.63" r="1.33"/><circle cx="61.77" cy="45.46" r="0.98"/><circle cx="62.84" cy="44.71" r="1"/><circle cx="62.41" cy="43.31" r="1.38"/><circle cx="6.62" cy="27.51" r="1.53"/><circle cx="6.01" cy="29.19" r="1.48"/><circle cx="7.54" cy="29.98" r="1.09"/><circle cx="7.59" cy="31.32" r="1.15"/><circle cx="8.51" cy="32.95" r="1.01"/><circle cx="14.17" cy="15.29" r="1.53"/><circle cx="12.54" cy="15.64" r="0.99"/><circle cx="12.57" cy="16.97" r="1.18"/><circle cx="14.28" cy="17.5" r="0.97"/><circle cx="92.71" cy="61.73" r="1.16"/><circle cx="90.75" cy="62.54" r="1.09"/><circle cx="92.5" cy="63.09" r="1.1"/><circle cx="93.71" cy="61.9" r="1.34"/><circle cx="92.96" cy="60.53" r="1.29"/><circle cx="96.84" cy="72.95" r="1.02"/><circle cx="23.22" cy="29.38" r="1.55"/><circle cx="22.57" cy="30.59" r="0.97"/><circle cx="88.46" cy="70.78" r="1.25"/><circle cx="89.76" cy="72.02" r="1"/><circle cx="88.85" cy="71.6" r="1.32"/><circle cx="90.49" cy="71.31" r="1.51"/><circle cx="-2.24" cy="69.03" r="1.2"/><circle cx="-2.34" cy="67.45" r="1.11"/><circle cx="-2.34" cy="71.78" r="1.33"/><circle cx="-3.47" cy="70.22" r="1.09"/><circle cx="104.51" cy="44.48" r="1.15"/><circle cx="103.07" cy="45.46" r="1.11"/><circle cx="101.67" cy="45.7" r="1.57"/><circle cx="101.18" cy="47.34" r="1.57"/><circle cx="101.98" cy="48.7" r="1.32"/><circle cx="79.49" cy="29.03" r="1.28"/><circle cx="78.98" cy="27.63" r="1.15"/><circle cx="80.04" cy="26.35" r="1"/><circle cx="81.38" cy="26.99" r="1.02"/><circle cx="76.07" cy="19.96" r="1.32"/><circle cx="74.33" cy="20.58" r="1.35"/><circle cx="77" cy="13.35" r="1.43"/><circle cx="76.03" cy="12.71" r="1.33"/><circle cx="76.71" cy="14.15" r="0.98"/><circle cx="81.58" cy="13.49" r="1.19"/><circle cx="42.96" cy="5.11" r="1.39"/><circle cx="41.91" cy="3.87" r="1.37"/><circle cx="98.77" cy="68" r="1.15"/><circle cx="98.28" cy="66.43" r="1.37"/><circle cx="96.63" cy="65.88" r="1.44"/><circle cx="1.01" cy="16.49" r="1.48"/><circle cx="61.95" cy="2.38" r="1.5"/><circle cx="61.1" cy="2.97" r="1.15"/><circle cx="62.81" cy="1.32" r="1.44"/><circle cx="64.42" cy="1.22" r="1.16"/><circle cx="102.89" cy="23.33" r="1.41"/><circle cx="104.5" cy="22.8" r="1.2"/><circle cx="105.84" cy="25.07" r="1.31"/><circle cx="106.68" cy="23.34" r="1.18"/><circle cx="31.05" cy="32.86" r="1.21"/><circle cx="30.1" cy="31.25" r="1.07"/><circle cx="28.66" cy="30.45" r="1.11"/><circle cx="60.98" cy="5.48" r="1.36"/><circle cx="59.8" cy="6.18" r="1.16"/><circle cx="16.39" cy="52.54" r="1.55"/><circle cx="16.57" cy="50.67" r="0.98"/><circle cx="30.87" cy="57.21" r="1.54"/><circle cx="29.14" cy="57.37" r="1.01"/><circle cx="28.77" cy="56.06" r="1.12"/><circle cx="29.42" cy="54.24" r="1.41"/><circle cx="50.25" cy="6.03" r="1.17"/><circle cx="51.56" cy="5.22" r="1.05"/><circle cx="51.55" cy="7.79" r="1.53"/><circle cx="50.27" cy="8.24" r="1.19"/><circle cx="32.98" cy="66.44" r="1.1"/><circle cx="106.49" cy="6.6" r="1.02"/><circle cx="106.5" cy="5.07" r="1.04"/><circle cx="109.13" cy="6.89" r="1.13"/><circle cx="108.4" cy="5.8" r="1.01"/><circle cx="107.45" cy="4.77" r="1.5"/><circle cx="75.28" cy="1.4" r="1.49"/><circle cx="75.46" cy="1.11" r="1.31"/><circle cx="79.66" cy="10.38" r="1"/><circle cx="78.07" cy="9.73" r="0.96"/><circle cx="49.85" cy="4.12" r="1.28"/><circle cx="49.17" cy="2.65" r="0.97"/><circle cx="49" cy="0.97" r="1.34"/><circle cx="49.99" cy="-0.25" r="1.44"/><circle cx="50.19" cy="-1.5" r="1.06"/><circle cx="25.09" cy="38.15" r="1.01"/><circle cx="25.09" cy="39.93" r="1.32"/><circle cx="24.98" cy="38.74" r="1.14"/><circle cx="45.03" cy="67.25" r="1.11"/><circle cx="43.14" cy="67.37" r="1.08"/><circle cx="43.08" cy="68.87" r="1.38"/><circle cx="27.4" cy="32.12" r="1.28"/><circle cx="28.48" cy="31.25" r="1.28"/><circle cx="28.34" cy="29.84" r="1.18"/><circle cx="24.97" cy="32.05" r="1.21"/><circle cx="24.57" cy="30.68" r="1.01"/><circle cx="101.87" cy="7.15" r="1.02"/><circle cx="94.9" cy="67.21" r="1.31"/><circle cx="96.63" cy="67.85" r="1.39"/><circle cx="97.97" cy="66.96" r="1.15"/><circle cx="99.52" cy="67.95" r="1.18"/><circle cx="100.01" cy="69.2" r="1.3"/><circle cx="11.23" cy="66.84" r="1.22"/><circle cx="13.9" cy="67.09" r="1.18"/><circle cx="15.16" cy="68.06" r="1.24"/><circle cx="100.39" cy="24.77" r="1.54"/><circle cx="101.66" cy="24.16" r="0.98"/><circle cx="102.23" cy="21.72" r="1.25"/><circle cx="19.86" cy="41.84" r="1.44"/><circle cx="18.97" cy="42.98" r="1.19"/><circle cx="19.48" cy="44.67" r="1.46"/><circle cx="21.3" cy="45.21" r="1.1"/><circle cx="11.51" cy="56.95" r="1.25"/><circle cx="9.77" cy="56.43" r="1.38"/><circle cx="7.73" cy="57.28" r="1.22"/><circle cx="5.36" cy="15.49" r="1.44"/><circle cx="6.36" cy="13.87" r="1.04"/><circle cx="8.09" cy="13.87" r="1.59"/><circle cx="9.29" cy="13.61" r="1.54"/><circle cx="-1.52" cy="18.08" r="1.56"/><circle cx="-2.93" cy="19.27" r="1.39"/><circle cx="-4.29" cy="18.52" r="1.51"/><circle cx="0" cy="17.76" r="1.19"/><circle cx="0.32" cy="16.36" r="1.16"/><circle cx="12.42" cy="25.29" r="1.42"/><circle cx="13.73" cy="25.94" r="1.25"/><circle cx="15.06" cy="27.21" r="1.19"/><circle cx="16.89" cy="27.46" r="1.47"/><circle cx="17.12" cy="26.21" r="1.29"/><circle cx="93.98" cy="52.99" r="1.35"/><circle cx="94.85" cy="54.48" r="1.57"/><circle cx="96.03" cy="55.62" r="1.27"/><circle cx="95.41" cy="57.39" r="1.43"/><circle cx="94.38" cy="55" r="1"/><circle cx="81.8" cy="25.75" r="0.98"/><circle cx="81.07" cy="24.6" r="0.99"/><circle cx="80.61" cy="23.06" r="1.07"/><circle cx="92.56" cy="30.81" r="1.34"/><circle cx="93.33" cy="29.65" r="1.58"/><circle cx="90.45" cy="31.63" r="1.21"/><circle cx="90.42" cy="29.8" r="1.02"/><circle cx="90.91" cy="28.06" r="1.12"/><circle cx="7.87" cy="33.95" r="1.44"/><circle cx="6.22" cy="34.12" r="1.58"/><circle cx="5.63" cy="33.06" r="1.27"/><circle cx="6.8" cy="32.16" r="1.11"/><circle cx="7.03" cy="34.81" r="1.24"/><circle cx="15.6" cy="-2.98" r="1.01"/><circle cx="16.31" cy="-4.57" r="1"/><circle cx="14.38" cy="-5.96" r="1.41"/><circle cx="15.27" cy="-4.38" r="1.41"/><circle cx="93.82" cy="39.09" r="1.34"/><circle cx="80.16" cy="13.45" r="1.26"/><circle cx="53.78" cy="2.96" r="1.09"/><circle cx="55.71" cy="2.81" r="1.34"/><circle cx="0.43" cy="30.86" r="1.04"/><circle cx="-1.07" cy="31.89" r="1.56"/><circle cx="-2.31" cy="31.23" r="1.16"/><circle cx="68.48" cy="73.84" r="1.25"/><circle cx="68.11" cy="76.84" r="1.57"/><circle cx="66.84" cy="77.43" r="1.07"/><circle cx="66.34" cy="78.94" r="1.4"/><circle cx="27.09" cy="38.13" r="1.13"/><circle cx="28.69" cy="37.73" r="1.06"/><circle cx="99.06" cy="12.59" r="1.44"/><circle cx="97.92" cy="14.36" r="1.12"/><circle cx="98.77" cy="10.46" r="1.29"/><circle cx="99.97" cy="11.6" r="1.08"/><circle cx="99.69" cy="11.7" r="1.09"/><circle cx="5.32" cy="18.77" r="1.56"/><circle cx="4.85" cy="20.45" r="1.59"/><circle cx="65.63" cy="40.86" r="1.46"/><circle cx="64.09" cy="40.37" r="1.15"/><circle cx="63.66" cy="41.81" r="1.18"/><circle cx="16.55" cy="45.42" r="1"/><circle cx="16.99" cy="46.72" r="1.56"/><circle cx="8.42" cy="62.39" r="1.44"/><circle cx="81.49" cy="43.07" r="1.34"/><circle cx="82.31" cy="44.55" r="0.98"/><circle cx="81.86" cy="45.8" r="1.25"/><circle cx="82.75" cy="47.01" r="1.07"/><circle cx="83.67" cy="48.31" r="1.42"/><circle cx="14.75" cy="55.15" r="1.54"/><circle cx="14.89" cy="56.37" r="1.26"/><circle cx="22.54" cy="18.45" r="0.97"/><circle cx="21.13" cy="19.59" r="1.08"/><circle cx="19.87" cy="18.75" r="1.3"/><circle cx="32.49" cy="14.69" r="1.08"/><circle cx="31.04" cy="14.88" r="1.44"/><circle cx="29.7" cy="13.57" r="0.99"/><circle cx="31.59" cy="13.95" r="1.02"/><circle cx="21.4" cy="-0.83" r="1.47"/><circle cx="23.29" cy="-3.68" r="1.09"/><circle cx="25.04" cy="-3.86" r="1.15"/><circle cx="53.57" cy="49.85" r="1.12"/><circle cx="52.42" cy="48.55" r="1.06"/><circle cx="68.65" cy="66.33" r="1.43"/><circle cx="67.8" cy="67.35" r="1.38"/><circle cx="66.38" cy="67.45" r="1.42"/><circle cx="64.88" cy="67.08" r="1"/><circle cx="93.25" cy="1.06" r="1.58"/><circle cx="107.16" cy="14.15" r="1.15"/><circle cx="107.69" cy="12.84" r="1.07"/><circle cx="108.53" cy="10.91" r="1.47"/><circle cx="77.02" cy="60.97" r="1.26"/><circle cx="77.7" cy="59.58" r="1.22"/><circle cx="77.03" cy="58.55" r="1.02"/><circle cx="91.88" cy="43.36" r="1.14"/><circle cx="92.62" cy="42.2" r="1.09"/><circle cx="93.65" cy="45.77" r="1"/><circle cx="95.3" cy="45.66" r="1.08"/><circle cx="56.51" cy="34.8" r="1.51"/><circle cx="55.04" cy="33.6" r="1.3"/><circle cx="55.94" cy="33.99" r="0.97"/><circle cx="32.4" cy="-1.28" r="1.28"/><circle cx="30.28" cy="-2.44" r="0.99"/><circle cx="6.95" cy="30.22" r="1.42"/><circle cx="23.11" cy="74.16" r="0.96"/><circle cx="23.16" cy="75.7" r="1.18"/><circle cx="13.16" cy="18.91" r="1.33"/><circle cx="12.74" cy="20.08" r="1.08"/><circle cx="13.91" cy="19.98" r="1.22"/><circle cx="12.39" cy="19.49" r="1.24"/><circle cx="12.5" cy="17.74" r="1.15"/><circle cx="0.35" cy="17.02" r="1.03"/><circle cx="105.64" cy="35.2" r="1.34"/><circle cx="105.9" cy="33.51" r="1.5"/><circle cx="105.06" cy="35.2" r="1.46"/><circle cx="105.09" cy="33.49" r="1.43"/><circle cx="49.85" cy="42.55" r="1.44"/><circle cx="49.16" cy="43.95" r="1.3"/><circle cx="47.73" cy="45.23" r="1.28"/><circle cx="51.37" cy="46.66" r="1.15"/><circle cx="101.82" cy="56.84" r="1.28"/><circle cx="103.06" cy="56.96" r="1.27"/><circle cx="102.85" cy="59.72" r="1.41"/><circle cx="103.9" cy="57.09" r="1.1"/><circle cx="102.96" cy="58.52" r="1.29"/><circle cx="2.93" cy="68.67" r="1.06"/><circle cx="3.19" cy="66.75" r="1.37"/></g>
<line x1="88.8" y1="69.9" x2="104.3" y2="69.9" stroke="#e0403a" stroke-width="0.9"/>
</svg>
<svg x="137.2" y="603.8" width="106.1" height="71.3" viewBox="0 0 106.1 71.3">
<rect width="106.1" height="71.3" fill="url(#mbg)"/>
<path d="M25.04 7.36h0.8v0.8h-0.8zM42.02 11.05h0.8v0.8h-0.8zM7.06 28.63h0.8v0.8h-0.8zM97.4 57.07h0.8v0.8h-0.8zM81.18 15.82h0.8v0.8h-0.8zM56.94 19.73h0.8v0.8h-0.8zM18.32 7.57h0.8v0.8h-0.8zM22.75 66.13h0.8v0.8h-0.8zM87.95 57.51h0.8v0.8h-0.8zM84.93 13.79h0.8v0.8h-0.8zM32.88 44.7h0.8v0.8h-0.8zM77.65 60.94h0.8v0.8h-0.8zM93.37 6.18h0.8v0.8h-0.8zM64.28 47.89h0.8v0.8h-0.8zM53.68 12.68h0.8v0.8h-0.8zM50.25 6.37h0.8v0.8h-0.8zM99.16 61.71h0.8v0.8h-0.8zM58.1 21.41h0.8v0.8h-0.8zM96.43 40.81h0.8v0.8h-0.8zM93.61 60.47h0.8v0.8h-0.8zM53.94 29.51h0.8v0.8h-0.8zM63.54 30.73h0.8v0.8h-0.8zM17.12 21.75h0.8v0.8h-0.8zM86.22 3.08h0.8v0.8h-0.8zM4.91 44.66h0.8v0.8h-0.8zM29.75 38.12h0.8v0.8h-0.8zM50 24.44h0.8v0.8h-0.8zM105.81 13.94h0.8v0.8h-0.8zM43.8 14.45h0.8v0.8h-0.8zM67.13 19.7h0.8v0.8h-0.8zM37.75 53.26h0.8v0.8h-0.8zM34.02 39.82h0.8v0.8h-0.8zM95.95 7.2h0.8v0.8h-0.8zM6.54 16.32h0.8v0.8h-0.8zM81.18 43.88h0.8v0.8h-0.8zM25.19 23.61h0.8v0.8h-0.8zM18.84 32.73h0.8v0.8h-0.8zM4.54 49.72h0.8v0.8h-0.8zM95.06 68.07h0.8v0.8h-0.8zM77.97 68.44h0.8v0.8h-0.8zM1.93 20.61h0.8v0.8h-0.8zM102.49 55.27h0.8v0.8h-0.8zM43.55 67.26h0.8v0.8h-0.8zM65.84 58.32h0.8v0.8h-0.8zM31.13 13.65h0.8v0.8h-0.8zM47.12 9.73h0.8v0.8h-0.8zM40.49 68.58h0.8v0.8h-0.8zM35.15 0.67h0.8v0.8h-0.8zM4.75 12.09h0.8v0.8h-0.8zM83.16 25.86h0.8v0.8h-0.8zM30.8 6.92h0.8v0.8h-0.8zM104.16 30.23h0.8v0.8h-0.8zM22.06 4.23h0.8v0.8h-0.8zM5.86 12.03h0.8v0.8h-0.8zM71.81 10.67h0.8v0.8h-0.8zM4.34 34.98h0.8v0.8h-0.8zM26.43 71.13h0.8v0.8h-0.8zM12.97 37.73h0.8v0.8h-0.8zM82.1 29.18h0.8v0.8h-0.8zM104.79 34.06h0.8v0.8h-0.8zM25.66 29.28h0.8v0.8h-0.8zM3.91 30.03h0.8v0.8h-0.8zM26.37 63.41h0.8v0.8h-0.8zM88.17 35.55h0.8v0.8h-0.8zM3.36 18.14h0.8v0.8h-0.8zM25.72 14.84h0.8v0.8h-0.8zM24.56 62.01h0.8v0.8h-0.8zM15.03 3.66h0.8v0.8h-0.8zM98.46 40.31h0.8v0.8h-0.8zM105.1 28.73h0.8v0.8h-0.8zM95.59 46.63h0.8v0.8h-0.8zM83.91 53.1h0.8v0.8h-0.8zM52.44 6.62h0.8v0.8h-0.8zM22.38 62.3h0.8v0.8h-0.8zM95.46 65.92h0.8v0.8h-0.8zM35.71 46.84h0.8v0.8h-0.8zM84.83 45.81h0.8v0.8h-0.8zM86.45 37.65h0.8v0.8h-0.8zM69.47 48.91h0.8v0.8h-0.8zM28.47 65.8h0.8v0.8h-0.8zM101.46 5.3h0.8v0.8h-0.8zM103.03 68.57h0.8v0.8h-0.8zM70.91 3.18h0.8v0.8h-0.8zM95.38 9.1h0.8v0.8h-0.8zM102.76 47.57h0.8v0.8h-0.8zM6.42 11.93h0.8v0.8h-0.8zM67.39 40.58h0.8v0.8h-0.8zM79.2 66.13h0.8v0.8h-0.8zM23.19 0.23h0.8v0.8h-0.8zM97.86 0.93h0.8v0.8h-0.8zM92.99 8.26h0.8v0.8h-0.8zM85.93 55.83h0.8v0.8h-0.8zM93.14 39.26h0.8v0.8h-0.8zM93.23 14.38h0.8v0.8h-0.8zM71.24 23.57h0.8v0.8h-0.8zM94.61 55.16h0.8v0.8h-0.8zM50.03 37.53h0.8v0.8h-0.8zM2.8 2.44h0.8v0.8h-0.8zM63.08 34.85h0.8v0.8h-0.8zM91.75 43.36h0.8v0.8h-0.8zM14.72 25.85h0.8v0.8h-0.8zM81.44 37.29h0.8v0.8h-0.8zM1.12 59.73h0.8v0.8h-0.8zM87.8 6.07h0.8v0.8h-0.8zM57.65 27.18h0.8v0.8h-0.8zM83.54 22.19h0.8v0.8h-0.8zM24.8 34.7h0.8v0.8h-0.8zM102.52 6.78h0.8v0.8h-0.8zM12.14 44.27h0.8v0.8h-0.8zM93.93 36.54h0.8v0.8h-0.8zM46.04 61.16h0.8v0.8h-0.8zM82.4 4.77h0.8v0.8h-0.8zM93.51 13.96h0.8v0.8h-0.8zM32.07 59.64h0.8v0.8h-0.8zM44.82 56.92h0.8v0.8h-0.8zM17.76 62.34h0.8v0.8h-0.8zM18.71 10.65h0.8v0.8h-0.8zM52.44 24.14h0.8v0.8h-0.8zM57.49 64.46h0.8v0.8h-0.8zM75.39 0.4h0.8v0.8h-0.8zM33.08 38.85h0.8v0.8h-0.8zM51.62 51.02h0.8v0.8h-0.8zM51.38 5.4h0.8v0.8h-0.8zM26.04 60.43h0.8v0.8h-0.8zM37.86 54.66h0.8v0.8h-0.8zM104.59 44.68h0.8v0.8h-0.8zM71.8 43.46h0.8v0.8h-0.8zM33.24 65.08h0.8v0.8h-0.8zM49.55 64.98h0.8v0.8h-0.8zM32.43 61.85h0.8v0.8h-0.8zM83.48 43.71h0.8v0.8h-0.8zM46.9 10.03h0.8v0.8h-0.8zM81.81 25.82h0.8v0.8h-0.8zM70.25 9.5h0.8v0.8h-0.8zM8.76 10.26h0.8v0.8h-0.8zM85.84 12.67h0.8v0.8h-0.8zM95.69 26.52h0.8v0.8h-0.8zM61.11 24.99h0.8v0.8h-0.8zM65.87 6.66h0.8v0.8h-0.8zM42.71 66.75h0.8v0.8h-0.8zM19.06 46.65h0.8v0.8h-0.8zM34.66 21.43h0.8v0.8h-0.8zM2.46 1.43h0.8v0.8h-0.8zM100.73 59.16h0.8v0.8h-0.8zM85 57.56h0.8v0.8h-0.8zM101.15 11.3h0.8v0.8h-0.8zM61.98 35.31h0.8v0.8h-0.8zM60.89 66.87h0.8v0.8h-0.8zM80.66 69.05h0.8v0.8h-0.8zM12.4 46.46h0.8v0.8h-0.8zM71.66 53.13h0.8v0.8h-0.8zM65.56 59.27h0.8v0.8h-0.8zM32.13 66.15h0.8v0.8h-0.8zM43.09 42.71h0.8v0.8h-0.8zM95.16 50.17h0.8v0.8h-0.8zM32.86 16.43h0.8v0.8h-0.8zM34.65 44.69h0.8v0.8h-0.8zM105.72 64.1h0.8v0.8h-0.8zM42.46 28.57h0.8v0.8h-0.8zM86.74 20.23h0.8v0.8h-0.8zM43.67 0.94h0.8v0.8h-0.8zM19.51 38.52h0.8v0.8h-0.8zM73.56 43.83h0.8v0.8h-0.8zM38.65 67.81h0.8v0.8h-0.8zM66.12 11.13h0.8v0.8h-0.8zM7.18 69.43h0.8v0.8h-0.8zM104.81 65.59h0.8v0.8h-0.8zM64.06 22.26h0.8v0.8h-0.8zM9.69 18.39h0.8v0.8h-0.8zM23.57 66.18h0.8v0.8h-0.8zM94.7 55.47h0.8v0.8h-0.8zM15.78 16.99h0.8v0.8h-0.8zM31.75 67.59h0.8v0.8h-0.8zM17.33 56.36h0.8v0.8h-0.8zM72.22 39.01h0.8v0.8h-0.8zM101.78 18.7h0.8v0.8h-0.8zM55.64 11.23h0.8v0.8h-0.8zM10.27 2.26h0.8v0.8h-0.8zM33.58 8.68h0.8v0.8h-0.8zM6.5 70.77h0.8v0.8h-0.8zM30.67 63.47h0.8v0.8h-0.8zM74.48 52.14h0.8v0.8h-0.8zM69.51 67.92h0.8v0.8h-0.8zM93.21 51.3h0.8v0.8h-0.8zM59.41 49.47h0.8v0.8h-0.8zM76.79 39.38h0.8v0.8h-0.8zM53.32 10.99h0.8v0.8h-0.8zM89.58 34.52h0.8v0.8h-0.8zM7.19 11.98h0.8v0.8h-0.8zM92.81 18.26h0.8v0.8h-0.8zM41.52 48.64h0.8v0.8h-0.8zM91.42 23.42h0.8v0.8h-0.8zM41.04 30.17h0.8v0.8h-0.8zM2.98 62.51h0.8v0.8h-0.8zM2.02 68.45h0.8v0.8h-0.8zM16.18 11.17h0.8v0.8h-0.8zM90.04 58.71h0.8v0.8h-0.8zM24.62 39.47h0.8v0.8h-0.8zM50.58 51.23h0.8v0.8h-0.8zM19.64 58.86h0.8v0.8h-0.8zM105.72 50.37h0.8v0.8h-0.8zM97.74 66.82h0.8v0.8h-0.8zM40.26 60.43h0.8v0.8h-0.8zM88.46 41.87h0.8v0.8h-0.8zM11.37 44.15h0.8v0.8h-0.8zM96.74 21.76h0.8v0.8h-0.8zM68.63 63.97h0.8v0.8h-0.8zM63.67 2.65h0.8v0.8h-0.8zM67.05 18.23h0.8v0.8h-0.8zM91.03 47.2h0.8v0.8h-0.8zM32.61 63.86h0.8v0.8h-0.8zM66.32 24.18h0.8v0.8h-0.8zM88.51 63.57h0.8v0.8h-0.8zM94.77 62.98h0.8v0.8h-0.8zM69.85 49.82h0.8v0.8h-0.8zM64.16 37.58h0.8v0.8h-0.8zM104.77 25.17h0.8v0.8h-0.8zM8.65 50.87h0.8v0.8h-0.8zM52.85 38.9h0.8v0.8h-0.8zM63.43 17.82h0.8v0.8h-0.8zM21.31 5.09h0.8v0.8h-0.8zM82.93 64.77h0.8v0.8h-0.8zM73.92 8.33h0.8v0.8h-0.8zM103.82 58.94h0.8v0.8h-0.8zM54.04 0.06h0.8v0.8h-0.8zM89.53 44.45h0.8v0.8h-0.8zM66.02 1.3h0.8v0.8h-0.8zM77.77 2.45h0.8v0.8h-0.8zM50.72 10.33h0.8v0.8h-0.8zM38.18 63.47h0.8v0.8h-0.8zM79.4 58.17h0.8v0.8h-0.8zM31.63 27.7h0.8v0.8h-0.8zM64.17 2.43h0.8v0.8h-0.8zM43.74 69.51h0.8v0.8h-0.8zM80 61.51h0.8v0.8h-0.8zM31.7 49.25h0.8v0.8h-0.8zM83.7 50.24h0.8v0.8h-0.8zM46.41 12.47h0.8v0.8h-0.8zM1.9 63.24h0.8v0.8h-0.8zM98.87 19.67h0.8v0.8h-0.8zM80.19 29.03h0.8v0.8h-0.8zM66.58 60.03h0.8v0.8h-0.8zM34.08 44.21h0.8v0.8h-0.8zM27.16 36.44h0.8v0.8h-0.8zM3.19 18.79h0.8v0.8h-0.8zM30.47 65.2h0.8v0.8h-0.8zM14.05 54.07h0.8v0.8h-0.8zM9.2 70.33h0.8v0.8h-0.8zM17.61 6.57h0.8v0.8h-0.8zM22.45 66.53h0.8v0.8h-0.8zM70.96 63.5h0.8v0.8h-0.8zM52.97 8.13h0.8v0.8h-0.8zM36.13 32.49h0.8v0.8h-0.8zM105.07 11.87h0.8v0.8h-0.8zM25.91 60.12h0.8v0.8h-0.8zM12.1 69.26h0.8v0.8h-0.8zM31.47 40.45h0.8v0.8h-0.8zM70.09 64.67h0.8v0.8h-0.8zM8.03 60.38h0.8v0.8h-0.8zM19.02 51.21h0.8v0.8h-0.8zM2.89 54.66h0.8v0.8h-0.8zM19.21 14.7h0.8v0.8h-0.8zM3.7 23.13h0.8v0.8h-0.8zM34.82 70.08h0.8v0.8h-0.8zM64.38 25.97h0.8v0.8h-0.8zM105.05 12.25h0.8v0.8h-0.8zM22.81 68.17h0.8v0.8h-0.8zM100.95 48.78h0.8v0.8h-0.8zM103.83 4.1h0.8v0.8h-0.8zM95.87 50.22h0.8v0.8h-0.8zM70.88 60.11h0.8v0.8h-0.8zM11.06 14.23h0.8v0.8h-0.8zM14.62 34.14h0.8v0.8h-0.8zM57.95 38.55h0.8v0.8h-0.8zM38.43 53.03h0.8v0.8h-0.8zM88.96 54.08h0.8v0.8h-0.8zM4.02 10.9h0.8v0.8h-0.8zM23.26 16.99h0.8v0.8h-0.8zM60.88 13.87h0.8v0.8h-0.8zM66.28 24.53h0.8v0.8h-0.8zM38.59 50.49h0.8v0.8h-0.8zM100.2 13.59h0.8v0.8h-0.8zM36.95 69.99h0.8v0.8h-0.8zM22.56 1.92h0.8v0.8h-0.8zM20.28 58.85h0.8v0.8h-0.8zM77.59 66.91h0.8v0.8h-0.8zM52.77 2.95h0.8v0.8h-0.8zM32.49 51.28h0.8v0.8h-0.8zM41.68 9.95h0.8v0.8h-0.8zM39.86 33.07h0.8v0.8h-0.8zM37.76 31.83h0.8v0.8h-0.8zM14.46 2.12h0.8v0.8h-0.8zM83.15 52.21h0.8v0.8h-0.8zM44.39 8.19h0.8v0.8h-0.8zM31.36 39.81h0.8v0.8h-0.8zM94.92 34.34h0.8v0.8h-0.8zM103.31 37.57h0.8v0.8h-0.8zM19.21 43.85h0.8v0.8h-0.8zM63.67 42.72h0.8v0.8h-0.8zM76.88 1.63h0.8v0.8h-0.8zM46.36 57.06h0.8v0.8h-0.8zM14.67 3.04h0.8v0.8h-0.8zM19.41 20.36h0.8v0.8h-0.8zM46.17 22.41h0.8v0.8h-0.8zM67.31 12.13h0.8v0.8h-0.8zM36.66 48.18h0.8v0.8h-0.8zM57.75 68.36h0.8v0.8h-0.8zM99.33 18.4h0.8v0.8h-0.8zM35.55 38.33h0.8v0.8h-0.8zM57.73 26.08h0.8v0.8h-0.8zM91.53 14.04h0.8v0.8h-0.8zM49.99 8.51h0.8v0.8h-0.8zM93.7 42.47h0.8v0.8h-0.8zM104.8 10.21h0.8v0.8h-0.8zM75.45 42.56h0.8v0.8h-0.8zM5.46 58.47h0.8v0.8h-0.8zM92.75 5.74h0.8v0.8h-0.8zM99.91 55.97h0.8v0.8h-0.8zM64.14 38.77h0.8v0.8h-0.8zM27.92 4.08h0.8v0.8h-0.8zM50.45 61.74h0.8v0.8h-0.8zM22.19 33.69h0.8v0.8h-0.8zM29.97 49.26h0.8v0.8h-0.8zM101.82 63.32h0.8v0.8h-0.8zM30.54 29.73h0.8v0.8h-0.8zM0.28 37.74h0.8v0.8h-0.8zM90.56 60.23h0.8v0.8h-0.8zM7.64 30.9h0.8v0.8h-0.8zM8.49 30.26h0.8v0.8h-0.8zM96.85 20.22h0.8v0.8h-0.8zM89.73 68.11h0.8v0.8h-0.8zM86.83 14.4h0.8v0.8h-0.8zM97.42 65.8h0.8v0.8h-0.8zM105.95 0.76h0.8v0.8h-0.8zM0.38 20.78h0.8v0.8h-0.8zM54.92 30.24h0.8v0.8h-0.8zM9.81 45.67h0.8v0.8h-0.8zM70.85 44.94h0.8v0.8h-0.8zM54.18 39.16h0.8v0.8h-0.8zM73.19 4.6h0.8v0.8h-0.8zM46.29 9.66h0.8v0.8h-0.8zM11.04 54.33h0.8v0.8h-0.8zM34.41 24.2h0.8v0.8h-0.8zM29.4 41.87h0.8v0.8h-0.8zM12.54 45.71h0.8v0.8h-0.8zM7.47 68.11h0.8v0.8h-0.8zM16.66 54.73h0.8v0.8h-0.8zM57.85 30.3h0.8v0.8h-0.8zM32.28 25.62h0.8v0.8h-0.8zM80.52 37.41h0.8v0.8h-0.8zM56.91 17.65h0.8v0.8h-0.8zM66.3 12.16h0.8v0.8h-0.8zM51.19 46.45h0.8v0.8h-0.8zM57.74 41.4h0.8v0.8h-0.8zM60.49 13.82h0.8v0.8h-0.8zM101.61 48.76h0.8v0.8h-0.8zM76.99 68.09h0.8v0.8h-0.8zM47.92 23.72h0.8v0.8h-0.8zM32.26 22.55h0.8v0.8h-0.8zM31.85 22.54h0.8v0.8h-0.8zM22.18 34.51h0.8v0.8h-0.8zM30.99 26.27h0.8v0.8h-0.8zM70.41 22.47h0.8v0.8h-0.8zM91.6 56.86h0.8v0.8h-0.8zM34.86 59.49h0.8v0.8h-0.8zM18.73 6.83h0.8v0.8h-0.8zM105.55 2.35h0.8v0.8h-0.8zM0.6 61.82h0.8v0.8h-0.8zM0.28 46.71h0.8v0.8h-0.8zM58.97 15.89h0.8v0.8h-0.8zM26.05 68.96h0.8v0.8h-0.8zM41.75 17.24h0.8v0.8h-0.8zM46.84 52.2h0.8v0.8h-0.8zM30.84 6.35h0.8v0.8h-0.8zM83.89 6.85h0.8v0.8h-0.8zM5.88 0.34h0.8v0.8h-0.8zM105.41 30.96h0.8v0.8h-0.8zM78.22 39.77h0.8v0.8h-0.8zM103.43 24.47h0.8v0.8h-0.8zM37.07 48.64h0.8v0.8h-0.8zM0.06 25.92h0.8v0.8h-0.8zM80.56 40.84h0.8v0.8h-0.8zM51.98 66.8h0.8v0.8h-0.8zM45.92 52.11h0.8v0.8h-0.8zM41.64 6.16h0.8v0.8h-0.8zM41.12 15.02h0.8v0.8h-0.8zM2.9 20.39h0.8v0.8h-0.8zM13.39 32.55h0.8v0.8h-0.8zM78.27 54.04h0.8v0.8h-0.8zM93.74 22.65h0.8v0.8h-0.8zM71.04 63.4h0.8v0.8h-0.8zM42 65.15h0.8v0.8h-0.8zM10.92 65.65h0.8v0.8h-0.8zM93.49 69.87h0.8v0.8h-0.8zM88.15 50.68h0.8v0.8h-0.8zM46.16 51.15h0.8v0.8h-0.8zM93.21 41.06h0.8v0.8h-0.8zM65.97 65.91h0.8v0.8h-0.8zM30.2 23.9h0.8v0.8h-0.8zM3.77 62.59h0.8v0.8h-0.8zM66.79 47.97h0.8v0.8h-0.8zM25.26 13.16h0.8v0.8h-0.8zM50.79 62.53h0.8v0.8h-0.8zM37.63 30.09h0.8v0.8h-0.8zM44.34 60.21h0.8v0.8h-0.8zM13.15 61.72h0.8v0.8h-0.8zM1.25 49.85h0.8v0.8h-0.8zM81.01 33.48h0.8v0.8h-0.8zM78.71 20h0.8v0.8h-0.8zM14.97 25.66h0.8v0.8h-0.8zM28.13 51.12h0.8v0.8h-0.8zM59.86 47.11h0.8v0.8h-0.8zM103.53 55.13h0.8v0.8h-0.8zM83.99 69.16h0.8v0.8h-0.8zM98.54 52.88h0.8v0.8h-0.8zM36.91 36.24h0.8v0.8h-0.8zM80.18 56.09h0.8v0.8h-0.8zM95.48 52.93h0.8v0.8h-0.8zM70.97 18.13h0.8v0.8h-0.8zM65.95 13.33h0.8v0.8h-0.8zM68.64 12.55h0.8v0.8h-0.8zM1.87 68.12h0.8v0.8h-0.8zM92.29 21.73h0.8v0.8h-0.8zM4.77 58.37h0.8v0.8h-0.8zM81.84 11.04h0.8v0.8h-0.8zM86.69 59.78h0.8v0.8h-0.8zM60.94 19.53h0.8v0.8h-0.8zM5.99 4.52h0.8v0.8h-0.8zM46.79 51.44h0.8v0.8h-0.8zM67.72 16.03h0.8v0.8h-0.8zM84.68 4.5h0.8v0.8h-0.8zM65.15 12.41h0.8v0.8h-0.8zM0.58 13.8h0.8v0.8h-0.8zM84.43 15.67h0.8v0.8h-0.8zM1.49 34.41h0.8v0.8h-0.8zM37.03 40.92h0.8v0.8h-0.8zM61.25 50.47h0.8v0.8h-0.8zM97.13 24.12h0.8v0.8h-0.8zM67.37 8.45h0.8v0.8h-0.8zM26.66 6.85h0.8v0.8h-0.8zM91.47 24.07h0.8v0.8h-0.8zM75.39 62.55h0.8v0.8h-0.8zM40.81 14.75h0.8v0.8h-0.8zM26.32 34.9h0.8v0.8h-0.8zM41.1 5h0.8v0.8h-0.8zM90.24 45.59h0.8v0.8h-0.8zM92.53 60.27h0.8v0.8h-0.8zM76.97 58.75h0.8v0.8h-0.8zM74.68 30.52h0.8v0.8h-0.8zM86.87 65.45h0.8v0.8h-0.8zM11.41 10.29h0.8v0.8h-0.8zM18.02 32.49h0.8v0.8h-0.8zM91.71 37.55h0.8v0.8h-0.8zM90.74 26.13h0.8v0.8h-0.8zM60.01 17.61h0.8v0.8h-0.8zM67.92 19.26h0.8v0.8h-0.8zM0.79 28.4h0.8v0.8h-0.8zM59.8 62.83h0.8v0.8h-0.8zM30.38 66.07h0.8v0.8h-0.8zM86.11 11.23h0.8v0.8h-0.8zM82.62 66.7h0.8v0.8h-0.8zM102.07 49.33h0.8v0.8h-0.8zM41.42 38.77h0.8v0.8h-0.8zM69.05 43.71h0.8v0.8h-0.8zM20.06 63.07h0.8v0.8h-0.8zM57.37 5.08h0.8v0.8h-0.8zM32.49 5.75h0.8v0.8h-0.8zM48.9 6.7h0.8v0.8h-0.8zM56.2 19.87h0.8v0.8h-0.8zM87.76 54.81h0.8v0.8h-0.8zM19.91 57.86h0.8v0.8h-0.8zM61.76 19.24h0.8v0.8h-0.8z" fill="#8e9298" opacity="0.5"/>
<path d="M96.68 0.45h0.9v0.9h-0.9zM42.33 42.69h0.9v0.9h-0.9zM17.26 35.04h0.9v0.9h-0.9zM93.82 24.5h0.9v0.9h-0.9zM75.19 13.57h0.9v0.9h-0.9zM103.5 68.74h0.9v0.9h-0.9zM17.5 54.51h0.9v0.9h-0.9zM35.42 2.27h0.9v0.9h-0.9zM22.38 51.96h0.9v0.9h-0.9zM49.36 37.76h0.9v0.9h-0.9zM13.57 12.24h0.9v0.9h-0.9zM38.75 36.63h0.9v0.9h-0.9zM87.05 32.03h0.9v0.9h-0.9zM34.79 65.14h0.9v0.9h-0.9zM73.24 53.9h0.9v0.9h-0.9zM85.47 34.55h0.9v0.9h-0.9zM27.6 7.99h0.9v0.9h-0.9zM69.76 53.37h0.9v0.9h-0.9zM95.73 65.55h0.9v0.9h-0.9zM53.43 34.86h0.9v0.9h-0.9zM102.38 6.12h0.9v0.9h-0.9zM39.76 38.89h0.9v0.9h-0.9zM63.83 43.57h0.9v0.9h-0.9zM16.8 36.24h0.9v0.9h-0.9zM18.66 27.37h0.9v0.9h-0.9zM19 22.8h0.9v0.9h-0.9zM66.52 28.44h0.9v0.9h-0.9zM17.82 33.42h0.9v0.9h-0.9zM71.08 21.48h0.9v0.9h-0.9zM28.86 31.1h0.9v0.9h-0.9zM73.81 2.59h0.9v0.9h-0.9zM71.4 3.92h0.9v0.9h-0.9zM94.42 13.63h0.9v0.9h-0.9zM87.46 2.42h0.9v0.9h-0.9zM52.34 18.31h0.9v0.9h-0.9zM82.33 54.97h0.9v0.9h-0.9zM13.45 3.67h0.9v0.9h-0.9zM77.49 29.87h0.9v0.9h-0.9zM39.55 24.84h0.9v0.9h-0.9zM38.92 41.11h0.9v0.9h-0.9zM41.19 9.19h0.9v0.9h-0.9zM50.02 70.48h0.9v0.9h-0.9zM81.35 51.22h0.9v0.9h-0.9zM98.42 31.7h0.9v0.9h-0.9zM38.44 56.53h0.9v0.9h-0.9zM10.9 54.66h0.9v0.9h-0.9zM15.71 44.44h0.9v0.9h-0.9zM54.52 55.03h0.9v0.9h-0.9zM6.67 47.88h0.9v0.9h-0.9zM87.75 2.77h0.9v0.9h-0.9zM72.53 19.96h0.9v0.9h-0.9zM78.97 69.78h0.9v0.9h-0.9zM0.29 29h0.9v0.9h-0.9zM52.98 69.96h0.9v0.9h-0.9zM98.05 2.05h0.9v0.9h-0.9zM14.48 29.07h0.9v0.9h-0.9zM85.31 56.3h0.9v0.9h-0.9zM58.96 65.69h0.9v0.9h-0.9zM87.03 62.59h0.9v0.9h-0.9zM67.3 18.49h0.9v0.9h-0.9zM77.92 51.08h0.9v0.9h-0.9zM98.44 12.19h0.9v0.9h-0.9zM2.35 24.33h0.9v0.9h-0.9zM27.15 27.6h0.9v0.9h-0.9zM6.34 43.53h0.9v0.9h-0.9zM45.34 18.9h0.9v0.9h-0.9zM10.77 40.93h0.9v0.9h-0.9zM10.54 61.35h0.9v0.9h-0.9zM29.38 64.02h0.9v0.9h-0.9zM13.15 27.78h0.9v0.9h-0.9zM82.59 37.18h0.9v0.9h-0.9zM47.51 62.81h0.9v0.9h-0.9zM17.4 60.69h0.9v0.9h-0.9zM54.61 20.36h0.9v0.9h-0.9zM37.13 19.86h0.9v0.9h-0.9zM67.11 31.43h0.9v0.9h-0.9zM54.97 46.29h0.9v0.9h-0.9zM91.2 49.79h0.9v0.9h-0.9zM31.38 47.46h0.9v0.9h-0.9zM73.45 64.75h0.9v0.9h-0.9zM40.97 37.94h0.9v0.9h-0.9zM80.27 23.86h0.9v0.9h-0.9zM34.61 44.27h0.9v0.9h-0.9zM39.64 60.42h0.9v0.9h-0.9zM36.84 15.7h0.9v0.9h-0.9zM64.7 42.66h0.9v0.9h-0.9zM105.08 67.19h0.9v0.9h-0.9zM44.72 31.99h0.9v0.9h-0.9zM69.15 35.99h0.9v0.9h-0.9zM62.35 28.61h0.9v0.9h-0.9zM91.24 63.61h0.9v0.9h-0.9zM83.87 53.42h0.9v0.9h-0.9zM94.2 18.24h0.9v0.9h-0.9zM99.92 14.39h0.9v0.9h-0.9zM10.74 35.29h0.9v0.9h-0.9zM16.77 18.25h0.9v0.9h-0.9zM64.28 10.59h0.9v0.9h-0.9zM42.2 26.14h0.9v0.9h-0.9zM100.08 5.6h0.9v0.9h-0.9zM54.09 33.37h0.9v0.9h-0.9zM17.19 24.71h0.9v0.9h-0.9zM38.55 25.53h0.9v0.9h-0.9zM59.09 39.68h0.9v0.9h-0.9zM49.46 31.4h0.9v0.9h-0.9zM64.64 34.56h0.9v0.9h-0.9zM13.31 46.79h0.9v0.9h-0.9zM43.39 60.81h0.9v0.9h-0.9zM14.02 38.92h0.9v0.9h-0.9z" fill="#8478cc" opacity="0.6"/>
<g fill="#5a4ac0" filter="url(#blurc)"><circle cx="30.59" cy="45.9" r="1.24"/><circle cx="31.84" cy="46.13" r="1.7"/><circle cx="28.18" cy="41.94" r="1.43"/><circle cx="30.35" cy="41.71" r="1.52"/><circle cx="1.46" cy="36.46" r="1.16"/><circle cx="0.49" cy="38.21" r="1.27"/><circle cx="4.21" cy="35.28" r="1.42"/><circle cx="4.09" cy="36.96" r="1.61"/><circle cx="-2.04" cy="37.06" r="1.13"/><circle cx="0.44" cy="34.91" r="1.17"/><circle cx="55.64" cy="38.3" r="1.57"/><circle cx="53.92" cy="37.13" r="1.6"/><circle cx="52.21" cy="35.63" r="1.14"/><circle cx="50.78" cy="36.74" r="1.57"/><circle cx="49.09" cy="35.93" r="1.43"/><circle cx="48.03" cy="34.28" r="1.41"/><circle cx="49.02" cy="32.82" r="1.27"/><circle cx="50.38" cy="33.73" r="1.26"/><circle cx="55.78" cy="41.86" r="1.32"/><circle cx="47.06" cy="10.92" r="1.53"/><circle cx="47.52" cy="8.88" r="1.5"/><circle cx="45.51" cy="7.75" r="1.34"/><circle cx="108.03" cy="54.87" r="1.26"/><circle cx="109.67" cy="55.36" r="1.55"/><circle cx="110.3" cy="57.49" r="1.44"/><circle cx="109.48" cy="53.27" r="1.15"/><circle cx="101" cy="2.44" r="1.55"/><circle cx="99.42" cy="1.84" r="1.41"/><circle cx="96.94" cy="1.02" r="1.69"/><circle cx="100.66" cy="7.77" r="1.29"/><circle cx="101.73" cy="2.43" r="1.39"/><circle cx="101.46" cy="4.55" r="1.48"/><circle cx="100.64" cy="5.97" r="1.12"/><circle cx="101.95" cy="1.96" r="1.19"/><circle cx="100.52" cy="2.25" r="1.58"/><circle cx="13.32" cy="64.35" r="1.53"/><circle cx="15.11" cy="65.55" r="1.44"/><circle cx="13.83" cy="63.2" r="1.6"/><circle cx="10.63" cy="66.53" r="1.17"/><circle cx="13.26" cy="61.27" r="1.22"/><circle cx="11.97" cy="62.83" r="1.46"/><circle cx="9.79" cy="63.57" r="1.69"/><circle cx="8.94" cy="61.95" r="1.51"/><circle cx="9.52" cy="59.85" r="1.36"/><circle cx="14.61" cy="62.02" r="1.58"/><circle cx="33.71" cy="7" r="1.32"/><circle cx="31.36" cy="10.3" r="1.43"/><circle cx="32.85" cy="9.84" r="1.25"/><circle cx="34.42" cy="7.64" r="1.54"/><circle cx="33.41" cy="7.95" r="1.57"/><circle cx="31.15" cy="7.73" r="1.59"/><circle cx="29.2" cy="7.78" r="1.44"/><circle cx="28.24" cy="9.06" r="1.68"/><circle cx="74.12" cy="45.82" r="1.54"/><circle cx="72.43" cy="47.09" r="1.67"/><circle cx="73.08" cy="49.14" r="1.44"/><circle cx="71.82" cy="51.02" r="1.31"/><circle cx="69.77" cy="49.96" r="1.42"/><circle cx="67.81" cy="49.37" r="1.19"/><circle cx="66.19" cy="49.97" r="1.61"/><circle cx="75.39" cy="46.69" r="1.56"/><circle cx="73.29" cy="46.07" r="1.55"/><circle cx="3.42" cy="30.89" r="1.3"/><circle cx="3.32" cy="32.84" r="1.39"/><circle cx="106.14" cy="53.71" r="1.51"/><circle cx="108.18" cy="53.52" r="1.57"/><circle cx="108.95" cy="55.42" r="1.67"/><circle cx="110.49" cy="57.13" r="1.35"/><circle cx="110.79" cy="58.63" r="1.58"/><circle cx="108.8" cy="59.18" r="1.31"/><circle cx="107.75" cy="57.58" r="1.41"/><circle cx="104.28" cy="50.01" r="1.32"/><circle cx="108.56" cy="37.87" r="1.58"/><circle cx="110.12" cy="37.94" r="1.62"/><circle cx="111.39" cy="39.07" r="1.16"/><circle cx="111.31" cy="37.86" r="1.48"/><circle cx="104.57" cy="6.24" r="1.24"/><circle cx="103.7" cy="4.58" r="1.45"/><circle cx="4.08" cy="16.8" r="1.48"/><circle cx="4.68" cy="16.93" r="1.65"/><circle cx="3.16" cy="16.13" r="1.29"/><circle cx="5.38" cy="15.74" r="1.2"/><circle cx="4.17" cy="18.14" r="1.21"/><circle cx="88.52" cy="2.95" r="1.15"/><circle cx="89.54" cy="4.16" r="1.59"/><circle cx="89.62" cy="6.17" r="1.66"/><circle cx="90.99" cy="6.71" r="1.66"/><circle cx="90.49" cy="8.68" r="1.22"/><circle cx="92.08" cy="16.69" r="1.56"/><circle cx="90.98" cy="15.6" r="1.53"/><circle cx="94.54" cy="38.07" r="1.23"/><circle cx="95.82" cy="38.82" r="1.14"/><circle cx="97.62" cy="38.71" r="1.47"/><circle cx="93.65" cy="41.59" r="1.48"/><circle cx="91.83" cy="39.22" r="1.18"/><circle cx="97.4" cy="39.61" r="1.51"/><circle cx="96.67" cy="37.84" r="1.61"/><circle cx="8.35" cy="71.56" r="1.29"/><circle cx="9.52" cy="72.8" r="1.21"/><circle cx="11.23" cy="72.83" r="1.66"/><circle cx="13.19" cy="72.9" r="1.15"/><circle cx="14.84" cy="73.97" r="1.54"/><circle cx="11.72" cy="69.04" r="1.19"/><circle cx="13.25" cy="67.44" r="1.64"/><circle cx="83.13" cy="62.33" r="1.3"/><circle cx="85.05" cy="62.66" r="1.25"/><circle cx="84.85" cy="64.23" r="1.26"/><circle cx="80.34" cy="60.82" r="1.29"/><circle cx="83.85" cy="63.76" r="1.26"/><circle cx="61.06" cy="33.24" r="1.45"/><circle cx="59.72" cy="33.85" r="1.35"/><circle cx="62.06" cy="32.36" r="1.39"/><circle cx="60.8" cy="31.65" r="1.19"/><circle cx="60.24" cy="30.2" r="1.61"/><circle cx="58.65" cy="29.13" r="1.57"/><circle cx="56.4" cy="28.75" r="1.19"/><circle cx="55.31" cy="29.98" r="1.36"/><circle cx="15.29" cy="69.32" r="1.66"/><circle cx="13.37" cy="69.64" r="1.24"/><circle cx="11.74" cy="68.44" r="1.53"/><circle cx="16.57" cy="67.88" r="1.61"/><circle cx="66.8" cy="36.15" r="1.55"/><circle cx="67.1" cy="34.16" r="1.13"/><circle cx="65.22" cy="33.89" r="1.6"/><circle cx="59.46" cy="20.65" r="1.18"/><circle cx="59.89" cy="16.57" r="1.59"/><circle cx="60.67" cy="24.1" r="1.26"/><circle cx="60.9" cy="25.66" r="1.13"/><circle cx="60.11" cy="27.43" r="1.56"/><circle cx="59.33" cy="28.69" r="1.51"/><circle cx="57.83" cy="28.73" r="1.63"/><circle cx="56.65" cy="29.7" r="1.44"/><circle cx="33.41" cy="15.04" r="1.26"/><circle cx="32.63" cy="16.57" r="1.68"/><circle cx="33.55" cy="17.94" r="1.16"/><circle cx="35.54" cy="18.08" r="1.37"/><circle cx="37.02" cy="19.36" r="1.65"/><circle cx="35.86" cy="20.84" r="1.44"/><circle cx="31.39" cy="18.07" r="1.58"/><circle cx="31.06" cy="19.89" r="1.4"/><circle cx="33.1" cy="20.63" r="1.41"/><circle cx="28.58" cy="49.83" r="1.61"/><circle cx="28.23" cy="51.96" r="1.17"/><circle cx="25.32" cy="48.03" r="1.46"/><circle cx="23.77" cy="47.43" r="1.21"/><circle cx="28.21" cy="55.41" r="1.4"/><circle cx="28.52" cy="53.79" r="1.48"/><circle cx="62.34" cy="57.1" r="1.55"/><circle cx="60.9" cy="58.04" r="1.18"/><circle cx="65.24" cy="55.88" r="1.29"/><circle cx="59.06" cy="56.58" r="1.35"/><circle cx="56.98" cy="56.46" r="1.28"/><circle cx="55.26" cy="54.98" r="1.57"/><circle cx="58.5" cy="54.45" r="1.28"/><circle cx="60.02" cy="61.24" r="1.31"/><circle cx="58.05" cy="61.48" r="1.14"/><circle cx="56.28" cy="61.13" r="1.51"/><circle cx="-0.12" cy="71.25" r="1.22"/><circle cx="1.35" cy="71" r="1.46"/><circle cx="2.68" cy="69.35" r="1.2"/><circle cx="9.13" cy="52.44" r="1.66"/><circle cx="7.24" cy="53.34" r="1.41"/><circle cx="7.7" cy="54.91" r="1.31"/><circle cx="8.07" cy="56.9" r="1.38"/><circle cx="7.33" cy="58.15" r="1.56"/><circle cx="6.15" cy="60.09" r="1.12"/><circle cx="4.65" cy="59.53" r="1.28"/><circle cx="3.91" cy="61.03" r="1.56"/><circle cx="4.98" cy="62.55" r="1.7"/><circle cx="4.04" cy="64.44" r="1.2"/><circle cx="35.38" cy="43.7" r="1.52"/><circle cx="36.81" cy="42.06" r="1.16"/><circle cx="38.76" cy="41.15" r="1.15"/><circle cx="40.63" cy="41.47" r="1.33"/><circle cx="75.96" cy="51.18" r="1.23"/><circle cx="76.67" cy="49.55" r="1.57"/><circle cx="28.6" cy="36.31" r="1.33"/><circle cx="29.14" cy="34.8" r="1.52"/><circle cx="27.83" cy="33.6" r="1.63"/><circle cx="26.66" cy="32.34" r="1.15"/><circle cx="25.02" cy="32.07" r="1.36"/><circle cx="23.22" cy="32.51" r="1.57"/><circle cx="27.66" cy="35.82" r="1.32"/><circle cx="26.63" cy="34.16" r="1.12"/><circle cx="92.14" cy="21.9" r="1.67"/><circle cx="95.38" cy="23.13" r="1.28"/><circle cx="95.13" cy="21.61" r="1.52"/><circle cx="94.78" cy="19.59" r="1.25"/><circle cx="96.36" cy="18.32" r="1.31"/><circle cx="97.93" cy="18.66" r="1.13"/><circle cx="98.79" cy="20.48" r="1.49"/><circle cx="98.96" cy="22.11" r="1.42"/><circle cx="45.4" cy="5.27" r="1.26"/><circle cx="47.81" cy="2.13" r="1.12"/><circle cx="44.22" cy="3.44" r="1.64"/><circle cx="45.97" cy="2.13" r="1.24"/><circle cx="46" cy="0.05" r="1.48"/><circle cx="49.79" cy="8.01" r="1.58"/><circle cx="48.54" cy="10.58" r="1.47"/><circle cx="46.68" cy="1.96" r="1.52"/><circle cx="59.13" cy="24.99" r="1.48"/><circle cx="61.14" cy="25.49" r="1.12"/><circle cx="62.62" cy="26.6" r="1.65"/><circle cx="61.24" cy="18.05" r="1.36"/><circle cx="54.84" cy="25.7" r="1.63"/><circle cx="54.31" cy="27.63" r="1.28"/><circle cx="53.84" cy="29.3" r="1.18"/><circle cx="31.55" cy="72.8" r="1.41"/><circle cx="34.63" cy="68.96" r="1.34"/><circle cx="95.29" cy="66.24" r="1.52"/><circle cx="93.76" cy="66.26" r="1.68"/><circle cx="92.36" cy="68" r="1.26"/><circle cx="92.93" cy="70.06" r="1.59"/><circle cx="93.38" cy="62.27" r="1.62"/><circle cx="92.22" cy="63.97" r="1.5"/><circle cx="94.73" cy="66.8" r="1.7"/><circle cx="94.34" cy="68.54" r="1.61"/><circle cx="96.32" cy="62.56" r="1.31"/><circle cx="107.69" cy="16.34" r="1.12"/><circle cx="106.09" cy="20.11" r="1.33"/><circle cx="108.12" cy="16.2" r="1.64"/><circle cx="108.13" cy="18.1" r="1.4"/><circle cx="109.58" cy="18.62" r="1.46"/><circle cx="111.72" cy="18.56" r="1.11"/><circle cx="105.54" cy="17.03" r="1.7"/><circle cx="107.74" cy="17.34" r="1.53"/><circle cx="108.66" cy="15.44" r="1.35"/><circle cx="49.03" cy="48.1" r="1.11"/><circle cx="50.04" cy="49.33" r="1.18"/><circle cx="49.94" cy="51.3" r="1.26"/><circle cx="45.66" cy="50.27" r="1.6"/><circle cx="44.08" cy="49.9" r="1.12"/><circle cx="43.43" cy="47.68" r="1.5"/><circle cx="41.76" cy="47.29" r="1.15"/><circle cx="40.29" cy="46.38" r="1.31"/><circle cx="40.73" cy="44.6" r="1.23"/><circle cx="46.87" cy="48.19" r="1.27"/><circle cx="71.12" cy="65.76" r="1.54"/><circle cx="71.06" cy="67.94" r="1.45"/><circle cx="68.88" cy="63.6" r="1.55"/><circle cx="95.28" cy="69.35" r="1.57"/><circle cx="97.02" cy="69.06" r="1.26"/><circle cx="94.64" cy="67.36" r="1.61"/><circle cx="95.85" cy="68.39" r="1.6"/><circle cx="95.23" cy="68.41" r="1.5"/><circle cx="55.47" cy="57.27" r="1.44"/><circle cx="51.37" cy="55.45" r="1.18"/><circle cx="50.72" cy="54.06" r="1.41"/><circle cx="49.18" cy="52.38" r="1.16"/><circle cx="56.74" cy="58.93" r="1.58"/><circle cx="26.49" cy="20.23" r="1.64"/><circle cx="24.96" cy="21.03" r="1.35"/><circle cx="23.69" cy="22.47" r="1.4"/><circle cx="26.45" cy="22.9" r="1.66"/><circle cx="23.02" cy="23.22" r="1.17"/><circle cx="24.27" cy="24.85" r="1.27"/><circle cx="25.2" cy="26.17" r="1.68"/><circle cx="25.93" cy="23.11" r="1.18"/><circle cx="27.79" cy="21.76" r="1.63"/><circle cx="24.18" cy="22.77" r="1.27"/><circle cx="56.67" cy="15.44" r="1.26"/><circle cx="54.97" cy="16.69" r="1.33"/><circle cx="74.36" cy="48.09" r="1.51"/><circle cx="75.32" cy="49.42" r="1.62"/><circle cx="73.88" cy="52.82" r="1.48"/><circle cx="75.69" cy="52.4" r="1.52"/><circle cx="72.83" cy="48.95" r="1.38"/><circle cx="72.38" cy="46.73" r="1.5"/><circle cx="71.45" cy="45.25" r="1.55"/><circle cx="69.62" cy="46.37" r="1.52"/><circle cx="68.89" cy="47.79" r="1.38"/><circle cx="75.07" cy="-0.46" r="1.34"/><circle cx="76.75" cy="0.61" r="1.35"/><circle cx="78.47" cy="0.39" r="1.27"/><circle cx="99.37" cy="12.74" r="1.35"/><circle cx="97.25" cy="11.74" r="1.46"/><circle cx="98.9" cy="11.36" r="1.27"/><circle cx="99.94" cy="12.53" r="1.56"/><circle cx="99.64" cy="13.95" r="1.22"/><circle cx="101.26" cy="14.44" r="1.63"/><circle cx="100.9" cy="16.11" r="1.23"/><circle cx="100.16" cy="17.44" r="1.34"/><circle cx="97.78" cy="12.91" r="1.43"/><circle cx="55.02" cy="43.93" r="1.31"/><circle cx="54.46" cy="41.95" r="1.46"/><circle cx="53.41" cy="47.08" r="1.35"/><circle cx="58.04" cy="47.83" r="1.4"/><circle cx="56.18" cy="48.08" r="1.43"/><circle cx="6.49" cy="32.71" r="1.27"/><circle cx="6.04" cy="30.02" r="1.69"/><circle cx="6.26" cy="9.55" r="1.17"/><circle cx="8.36" cy="9.6" r="1.45"/><circle cx="9.4" cy="8.16" r="1.49"/><circle cx="10.98" cy="8.42" r="1.44"/><circle cx="12.07" cy="6.48" r="1.4"/><circle cx="14.29" cy="6.82" r="1.68"/><circle cx="53.25" cy="46.47" r="1.41"/><circle cx="52.31" cy="43.82" r="1.41"/><circle cx="50.01" cy="45.36" r="1.14"/><circle cx="48.43" cy="45.61" r="1.64"/><circle cx="47.47" cy="46.85" r="1.66"/><circle cx="45.8" cy="46.84" r="1.67"/><circle cx="44.31" cy="46.54" r="1.57"/><circle cx="74.24" cy="23.42" r="1.25"/><circle cx="73.83" cy="23.49" r="1.22"/><circle cx="74" cy="24.38" r="1.21"/><circle cx="76.14" cy="24.26" r="1.48"/><circle cx="51.6" cy="57.96" r="1.24"/><circle cx="53.45" cy="59.2" r="1.63"/><circle cx="55.01" cy="59.95" r="1.44"/><circle cx="19.58" cy="74.25" r="1.32"/><circle cx="18.33" cy="76.08" r="1.36"/><circle cx="16.2" cy="75.84" r="1.33"/><circle cx="43.45" cy="-1.05" r="1.46"/><circle cx="46.15" cy="-1.21" r="1.29"/><circle cx="45.15" cy="0.82" r="1.67"/><circle cx="47.02" cy="1.99" r="1.3"/><circle cx="48.46" cy="1.06" r="1.28"/><circle cx="44" cy="0.16" r="1.6"/><circle cx="43.64" cy="0.46" r="1.13"/><circle cx="40.47" cy="-4.83" r="1.1"/><circle cx="75.9" cy="39.02" r="1.56"/><circle cx="74.35" cy="39.04" r="1.35"/><circle cx="39.82" cy="41.9" r="1.54"/><circle cx="42.06" cy="40.55" r="1.21"/><circle cx="40.72" cy="43.16" r="1.16"/><circle cx="42.14" cy="41.47" r="1.64"/><circle cx="44.27" cy="41.55" r="1.46"/><circle cx="44.81" cy="40.11" r="1.11"/><circle cx="40.8" cy="47.1" r="1.68"/><circle cx="41.71" cy="49.22" r="1.59"/><circle cx="40.16" cy="50.18" r="1.19"/><circle cx="106.04" cy="62.49" r="1.64"/><circle cx="107.04" cy="60.98" r="1.69"/><circle cx="105.34" cy="60.27" r="1.45"/><circle cx="86.12" cy="59.86" r="1.1"/><circle cx="84.57" cy="58.21" r="1.17"/><circle cx="89.46" cy="60.84" r="1.2"/><circle cx="87.96" cy="61.06" r="1.54"/><circle cx="86.27" cy="62.21" r="1.33"/><circle cx="87.3" cy="64.28" r="1.12"/><circle cx="86.09" cy="65.91" r="1.52"/><circle cx="87.98" cy="58.1" r="1.44"/><circle cx="81.32" cy="60.93" r="1.5"/><circle cx="81.43" cy="63.12" r="1.64"/><circle cx="77.47" cy="43.61" r="1.24"/><circle cx="78.68" cy="42.72" r="1.56"/><circle cx="79.39" cy="45.17" r="1.13"/><circle cx="80.13" cy="47.24" r="1.6"/><circle cx="76.46" cy="41.26" r="1.13"/><circle cx="78.11" cy="39.64" r="1.14"/><circle cx="79.28" cy="40.5" r="1.55"/><circle cx="80.84" cy="40.57" r="1.58"/><circle cx="77.01" cy="41.16" r="1.59"/><circle cx="50.14" cy="5.75" r="1.32"/><circle cx="49.24" cy="3.96" r="1.35"/><circle cx="49.89" cy="6.64" r="1.42"/><circle cx="54.74" cy="2.1" r="1.35"/><circle cx="56.11" cy="1.57" r="1.18"/><circle cx="57.37" cy="3.38" r="1.22"/><circle cx="59.17" cy="4.36" r="1.47"/><circle cx="76.21" cy="15.81" r="1.1"/><circle cx="76.8" cy="14.91" r="1.53"/><circle cx="75.52" cy="15.73" r="1.66"/><circle cx="74.4" cy="17.22" r="1.32"/><circle cx="72.39" cy="17.17" r="1.3"/><circle cx="77.59" cy="15.12" r="1.61"/><circle cx="77.14" cy="12.93" r="1.67"/><circle cx="78.51" cy="11.6" r="1.52"/><circle cx="77.04" cy="9.8" r="1.61"/><circle cx="79.33" cy="16.32" r="1.45"/><circle cx="-0.74" cy="50.32" r="1.65"/><circle cx="-2.38" cy="51.59" r="1.21"/><circle cx="-2.6" cy="53.69" r="1.14"/><circle cx="-3.92" cy="54.67" r="1.31"/><circle cx="0.05" cy="49.32" r="1.11"/><circle cx="0.36" cy="47.48" r="1.23"/><circle cx="1.38" cy="45.9" r="1.29"/><circle cx="3.78" cy="52.15" r="1.44"/><circle cx="2.05" cy="52.75" r="1.15"/><circle cx="1.29" cy="54.87" r="1.66"/><circle cx="35.71" cy="-0.92" r="1.16"/><circle cx="35.78" cy="-0.13" r="1.38"/><circle cx="65.75" cy="31.89" r="1.31"/><circle cx="67.18" cy="33.73" r="1.42"/><circle cx="51.91" cy="33.04" r="1.53"/><circle cx="52.13" cy="34.75" r="1.27"/><circle cx="53.95" cy="34.69" r="1.38"/><circle cx="54.01" cy="36.26" r="1.17"/><circle cx="53.1" cy="35.69" r="1.51"/><circle cx="51.37" cy="33.52" r="1.35"/><circle cx="52.32" cy="31.86" r="1.19"/><circle cx="54.42" cy="31.19" r="1.32"/><circle cx="55.65" cy="32.09" r="1.29"/><circle cx="53.64" cy="30.38" r="1.57"/><circle cx="67.73" cy="29.78" r="1.44"/><circle cx="66.27" cy="29.68" r="1.54"/><circle cx="64.54" cy="31.15" r="1.13"/><circle cx="69.15" cy="26.32" r="1.34"/><circle cx="93.37" cy="54.21" r="1.19"/><circle cx="94.91" cy="54.73" r="1.37"/><circle cx="96.89" cy="54.23" r="1.47"/><circle cx="97.15" cy="51.94" r="1.64"/><circle cx="97.93" cy="49.98" r="1.35"/><circle cx="98.96" cy="47.91" r="1.29"/><circle cx="92.45" cy="40.1" r="1.25"/><circle cx="92.43" cy="42.4" r="1.22"/><circle cx="26.56" cy="67.38" r="1.56"/><circle cx="25.57" cy="65.29" r="1.16"/><circle cx="24.98" cy="63.4" r="1.12"/><circle cx="27.72" cy="69.41" r="1.12"/><circle cx="30.3" cy="65.26" r="1.49"/><circle cx="30.83" cy="63.87" r="1.57"/><circle cx="2.27" cy="21.62" r="1.36"/><circle cx="0.16" cy="18.58" r="1.3"/><circle cx="50.61" cy="8.03" r="1.21"/><circle cx="48.75" cy="8.12" r="1.42"/><circle cx="48.13" cy="6.62" r="1.63"/><circle cx="48.2" cy="4.65" r="1.48"/><circle cx="47.94" cy="9.67" r="1.21"/><circle cx="47.86" cy="7.61" r="1.68"/><circle cx="49.22" cy="5.93" r="1.25"/><circle cx="50.29" cy="4.96" r="1.31"/><circle cx="78.98" cy="9.46" r="1.34"/><circle cx="80.49" cy="9.2" r="1.14"/><circle cx="81.54" cy="7.85" r="1.69"/><circle cx="83.14" cy="7.63" r="1.42"/><circle cx="77.1" cy="10.81" r="1.26"/><circle cx="47.36" cy="32.39" r="1.63"/><circle cx="46.33" cy="30.53" r="1.22"/><circle cx="17.59" cy="1.65" r="1.5"/><circle cx="15.61" cy="1.43" r="1.3"/><circle cx="14.89" cy="-0.43" r="1.16"/><circle cx="15.07" cy="-2.06" r="1.14"/><circle cx="13.48" cy="-2.38" r="1.61"/><circle cx="18.33" cy="-0.12" r="1.19"/><circle cx="18.26" cy="1.62" r="1.28"/><circle cx="18.83" cy="3.63" r="1.47"/><circle cx="19.91" cy="4.61" r="1.65"/><circle cx="22.21" cy="4.73" r="1.5"/><circle cx="30.61" cy="22.17" r="1.16"/><circle cx="31.58" cy="23.56" r="1.57"/><circle cx="33.78" cy="23.6" r="1.35"/><circle cx="35.21" cy="24.14" r="1.34"/><circle cx="36.65" cy="25.87" r="1.14"/><circle cx="38.26" cy="24.61" r="1.5"/><circle cx="39.64" cy="51.86" r="1.35"/><circle cx="40.92" cy="51.03" r="1.52"/><circle cx="42.23" cy="49.86" r="1.42"/><circle cx="44.18" cy="49.83" r="1.58"/><circle cx="45.56" cy="49.27" r="1.18"/><circle cx="86.95" cy="38.35" r="1.42"/><circle cx="85.8" cy="37.06" r="1.65"/><circle cx="85.3" cy="35.69" r="1.61"/><circle cx="86.7" cy="34.4" r="1.2"/><circle cx="88.2" cy="34.08" r="1.45"/><circle cx="89.95" cy="35.46" r="1.41"/><circle cx="31.15" cy="60.52" r="1.41"/><circle cx="29.55" cy="62.05" r="1.53"/><circle cx="29.83" cy="63.71" r="1.53"/><circle cx="32.23" cy="55.11" r="1.12"/><circle cx="28.85" cy="60.51" r="1.67"/><circle cx="29.52" cy="62.86" r="1.53"/><circle cx="28.7" cy="64.73" r="1.53"/><circle cx="26.9" cy="63.88" r="1.42"/><circle cx="32.37" cy="60.33" r="1.57"/><circle cx="27.98" cy="59.97" r="1.2"/><circle cx="107.19" cy="74" r="1.35"/><circle cx="107.85" cy="75.55" r="1.11"/><circle cx="105.12" cy="76.15" r="1.29"/><circle cx="105.38" cy="78.5" r="1.32"/><circle cx="104.55" cy="73.54" r="1.5"/><circle cx="106.49" cy="74.44" r="1.61"/><circle cx="108.23" cy="75.63" r="1.31"/><circle cx="106.97" cy="76.33" r="1.66"/><circle cx="79.92" cy="17.85" r="1.46"/><circle cx="82.42" cy="18.07" r="1.16"/><circle cx="68.18" cy="54.46" r="1.45"/><circle cx="71.48" cy="53.15" r="1.32"/><circle cx="26.16" cy="18" r="1.16"/><circle cx="29.37" cy="20.4" r="1.62"/><circle cx="30.64" cy="19.56" r="1.48"/><circle cx="32.05" cy="20.56" r="1.66"/><circle cx="32.35" cy="22.45" r="1.19"/><circle cx="31.35" cy="24.41" r="1.47"/><circle cx="24.2" cy="17.39" r="1.28"/><circle cx="24.74" cy="19.57" r="1.63"/><circle cx="2.78" cy="6.09" r="1.43"/><circle cx="2.89" cy="7.94" r="1.43"/><circle cx="3.29" cy="9.65" r="1.46"/><circle cx="104.22" cy="20.31" r="1.21"/><circle cx="103.35" cy="21.54" r="1.39"/><circle cx="31.06" cy="57.97" r="1.12"/><circle cx="31.1" cy="60.05" r="1.24"/><circle cx="30.97" cy="61.52" r="1.28"/><circle cx="32.77" cy="57.23" r="1.56"/><circle cx="34.52" cy="57.38" r="1.25"/><circle cx="-0.31" cy="7.11" r="1.55"/><circle cx="-1.72" cy="8.58" r="1.46"/><circle cx="-3.88" cy="8.22" r="1.14"/><circle cx="-1.07" cy="8.25" r="1.31"/><circle cx="-2.51" cy="9.29" r="1.12"/><circle cx="-2.11" cy="11.2" r="1.39"/><circle cx="26.41" cy="38.93" r="1.37"/><circle cx="27.08" cy="41.08" r="1.11"/><circle cx="25.52" cy="42.82" r="1.31"/><circle cx="30.35" cy="36.57" r="1.24"/><circle cx="52.2" cy="73.73" r="1.22"/><circle cx="50.68" cy="74.46" r="1.53"/><circle cx="53.63" cy="74.6" r="1.49"/><circle cx="77.14" cy="8.7" r="1.1"/><circle cx="75.15" cy="7.82" r="1.21"/><circle cx="77.69" cy="8.15" r="1.33"/><circle cx="71.86" cy="7.91" r="1.48"/><circle cx="71.52" cy="6.12" r="1.26"/><circle cx="73.22" cy="5.36" r="1.32"/><circle cx="74.24" cy="6.8" r="1.34"/><circle cx="70.66" cy="25.26" r="1.44"/><circle cx="72.36" cy="24.13" r="1.43"/><circle cx="72.17" cy="22.34" r="1.65"/><circle cx="70.19" cy="21.12" r="1.23"/><circle cx="67.86" cy="24.76" r="1.22"/><circle cx="67.59" cy="45.26" r="1.54"/><circle cx="67.85" cy="46.82" r="1.64"/><circle cx="65.1" cy="45.41" r="1.6"/><circle cx="64.81" cy="47.08" r="1.43"/><circle cx="64.73" cy="45.47" r="1.44"/><circle cx="63.88" cy="47.62" r="1.67"/><circle cx="67.73" cy="41.03" r="1.45"/><circle cx="67.09" cy="43.12" r="1.51"/><circle cx="51.14" cy="20.18" r="1.44"/><circle cx="51.76" cy="20.49" r="1.22"/><circle cx="50.93" cy="18.38" r="1.23"/><circle cx="39.94" cy="67.05" r="1.24"/><circle cx="41.58" cy="66.77" r="1.58"/><circle cx="43.22" cy="66.96" r="1.51"/><circle cx="44.84" cy="67.17" r="1.49"/><circle cx="46.88" cy="67.6" r="1.31"/><circle cx="47.84" cy="69.12" r="1.52"/><circle cx="108.11" cy="0.9" r="1.31"/><circle cx="106.72" cy="-0.23" r="1.57"/><circle cx="104.95" cy="-1.63" r="1.26"/><circle cx="103.3" cy="-2.89" r="1.2"/><circle cx="101.54" cy="-2.92" r="1.46"/><circle cx="100.11" cy="-4.57" r="1.16"/><circle cx="100.02" cy="-6.51" r="1.46"/><circle cx="101.54" cy="23.57" r="1.39"/><circle cx="102.13" cy="25.67" r="1.38"/><circle cx="101.21" cy="27.53" r="1.23"/><circle cx="100.02" cy="28.47" r="1.43"/><circle cx="101.97" cy="21.6" r="1.17"/><circle cx="100.34" cy="20.2" r="1.37"/><circle cx="100.79" cy="18.01" r="1.19"/><circle cx="99.38" cy="17.67" r="1.36"/><circle cx="84.39" cy="49.32" r="1.57"/><circle cx="83.57" cy="47.56" r="1.67"/><circle cx="85.4" cy="46.47" r="1.69"/><circle cx="82.02" cy="46.87" r="1.64"/><circle cx="84.31" cy="47.12" r="1.29"/><circle cx="85.72" cy="45.69" r="1.17"/><circle cx="85.53" cy="43.86" r="1.62"/><circle cx="85.44" cy="42.1" r="1.35"/><circle cx="83.38" cy="47.08" r="1.52"/><circle cx="81.81" cy="46.61" r="1.35"/><circle cx="55.17" cy="42.68" r="1.61"/><circle cx="55.96" cy="44.21" r="1.45"/><circle cx="52.85" cy="46.53" r="1.52"/><circle cx="53.94" cy="48.22" r="1.19"/><circle cx="56.18" cy="48.16" r="1.17"/><circle cx="57.26" cy="46.79" r="1.64"/><circle cx="55.99" cy="43.42" r="1.11"/><circle cx="46.06" cy="30.23" r="1.65"/><circle cx="46" cy="31.19" r="1.58"/><circle cx="45.33" cy="32.85" r="1.63"/><circle cx="43.66" cy="30.35" r="1.26"/><circle cx="41.88" cy="30.77" r="1.58"/><circle cx="54.67" cy="48.28" r="1.64"/><circle cx="60.72" cy="44.65" r="1.59"/><circle cx="-0.81" cy="17.38" r="1.2"/><circle cx="-0.35" cy="15.87" r="1.28"/><circle cx="-1.92" cy="14.86" r="1.33"/><circle cx="-1.04" cy="19.63" r="1.24"/><circle cx="-1.26" cy="17.57" r="1.43"/><circle cx="0.4" cy="17" r="1.21"/><circle cx="1.59" cy="15.53" r="1.64"/><circle cx="40.57" cy="2.53" r="1.19"/><circle cx="38.33" cy="3.17" r="1.67"/><circle cx="75.41" cy="36.69" r="1.2"/><circle cx="76.73" cy="36.61" r="1.16"/><circle cx="78.78" cy="37.58" r="1.1"/><circle cx="78.76" cy="39.14" r="1.48"/><circle cx="80.55" cy="39.24" r="1.66"/><circle cx="2.94" cy="46.88" r="1.49"/><circle cx="1.6" cy="46.09" r="1.2"/><circle cx="5.99" cy="45.06" r="1.14"/><circle cx="2.32" cy="48.18" r="1.3"/><circle cx="14.25" cy="4.36" r="1.25"/><circle cx="12.24" cy="3.34" r="1.2"/><circle cx="11.06" cy="4.65" r="1.45"/><circle cx="11.77" cy="6.04" r="1.64"/><circle cx="13.21" cy="7.06" r="1.22"/><circle cx="15.28" cy="62.59" r="1.2"/><circle cx="16.92" cy="63.66" r="1.48"/><circle cx="15.82" cy="62.22" r="1.69"/><circle cx="15.68" cy="63.11" r="1.1"/><circle cx="17.77" cy="62.14" r="1.19"/><circle cx="19.79" cy="62.77" r="1.44"/><circle cx="16.46" cy="64.42" r="1.26"/><circle cx="17.43" cy="62.67" r="1.35"/><circle cx="18.95" cy="62.03" r="1.44"/><circle cx="102.25" cy="33.88" r="1.12"/><circle cx="101.39" cy="35.11" r="1.45"/><circle cx="100.05" cy="35.76" r="1.64"/><circle cx="99.33" cy="37.16" r="1.43"/><circle cx="97.99" cy="37.85" r="1.17"/><circle cx="98.8" cy="39.9" r="1.12"/><circle cx="97.31" cy="41.22" r="1.7"/><circle cx="96.62" cy="42.86" r="1.46"/><circle cx="94.77" cy="43.93" r="1.63"/><circle cx="27.91" cy="63.41" r="1.62"/><circle cx="29.65" cy="63.86" r="1.4"/><circle cx="26.44" cy="59.89" r="1.22"/><circle cx="28.4" cy="58.93" r="1.67"/><circle cx="3.53" cy="56.06" r="1.45"/><circle cx="4.25" cy="54.34" r="1.68"/><circle cx="1.72" cy="55.05" r="1.31"/><circle cx="0.18" cy="53.68" r="1.25"/><circle cx="0.49" cy="51.94" r="1.14"/><circle cx="3.98" cy="55.88" r="1.49"/><circle cx="5.27" cy="53.94" r="1.57"/><circle cx="5.9" cy="52.55" r="1.7"/><circle cx="6.58" cy="50.34" r="1.15"/><circle cx="14.08" cy="13.21" r="1.5"/><circle cx="12.03" cy="12.09" r="1.5"/><circle cx="11.49" cy="14.56" r="1.38"/><circle cx="10.07" cy="13.72" r="1.67"/><circle cx="8.44" cy="15.11" r="1.52"/><circle cx="7.14" cy="13.56" r="1.43"/><circle cx="15.92" cy="8.42" r="1.45"/><circle cx="14.23" cy="9.62" r="1.16"/><circle cx="13.82" cy="11.19" r="1.56"/><circle cx="12.84" cy="13.18" r="1.18"/><circle cx="12.59" cy="14.64" r="1.29"/><circle cx="17.82" cy="10.91" r="1.59"/><circle cx="15.95" cy="9.32" r="1.27"/><circle cx="15.86" cy="10.82" r="1.57"/><circle cx="14.56" cy="10.12" r="1.13"/><circle cx="12.47" cy="9.34" r="1.32"/><circle cx="4.54" cy="33.5" r="1.34"/><circle cx="4.53" cy="35.42" r="1.12"/><circle cx="3.16" cy="37.14" r="1.37"/><circle cx="3.59" cy="38.61" r="1.4"/><circle cx="5.37" cy="40.06" r="1.2"/><circle cx="7.2" cy="35.48" r="1.34"/><circle cx="8.28" cy="34.42" r="1.43"/><circle cx="9.52" cy="33.32" r="1.28"/><circle cx="10.75" cy="32.35" r="1.24"/><circle cx="100.77" cy="32.28" r="1.64"/><circle cx="100.26" cy="34.1" r="1.62"/><circle cx="99.15" cy="35.21" r="1.51"/><circle cx="86.98" cy="23.32" r="1.66"/><circle cx="88.98" cy="22.22" r="1.23"/><circle cx="87.27" cy="24.56" r="1.48"/><circle cx="90.84" cy="25.15" r="1.62"/><circle cx="91.71" cy="23.99" r="1.28"/><circle cx="98.54" cy="15.67" r="1.27"/><circle cx="98.29" cy="13.84" r="1.1"/><circle cx="98.53" cy="12.11" r="1.54"/><circle cx="96.78" cy="11.82" r="1.56"/><circle cx="95.15" cy="13.22" r="1.13"/><circle cx="94.74" cy="15.51" r="1.22"/><circle cx="93.17" cy="16.5" r="1.27"/><circle cx="91.76" cy="14.77" r="1.69"/><circle cx="99.9" cy="15.06" r="1.5"/><circle cx="65.55" cy="57.59" r="1.16"/><circle cx="66.06" cy="55.34" r="1.16"/><circle cx="67.17" cy="54.2" r="1.3"/><circle cx="69.26" cy="58.35" r="1.41"/><circle cx="68.97" cy="54.66" r="1.17"/><circle cx="71.04" cy="55.19" r="1.62"/><circle cx="72.06" cy="53.62" r="1.22"/><circle cx="71.99" cy="51.65" r="1.53"/><circle cx="71.28" cy="50.06" r="1.57"/><circle cx="4.61" cy="51.95" r="1.31"/><circle cx="4.28" cy="54.09" r="1.63"/><circle cx="2.77" cy="52.1" r="1.65"/><circle cx="3.08" cy="53.73" r="1.13"/><circle cx="5.33" cy="53.74" r="1.7"/><circle cx="4.1" cy="52.75" r="1.19"/><circle cx="104.57" cy="20.37" r="1.31"/><circle cx="105.97" cy="19.81" r="1.34"/><circle cx="103.68" cy="54.76" r="1.64"/><circle cx="105.17" cy="54.72" r="1.61"/><circle cx="106.6" cy="56.38" r="1.37"/><circle cx="108.15" cy="56.3" r="1.57"/><circle cx="109.5" cy="58.08" r="1.69"/><circle cx="108.63" cy="59.77" r="1.11"/><circle cx="106.98" cy="59.48" r="1.59"/><circle cx="104.96" cy="58.9" r="1.14"/><circle cx="103.5" cy="60.35" r="1.69"/><circle cx="22.95" cy="11.26" r="1.36"/><circle cx="22.54" cy="14.26" r="1.58"/><circle cx="22.48" cy="12.7" r="1.59"/><circle cx="6.42" cy="50.57" r="1.39"/><circle cx="8.48" cy="51.19" r="1.2"/><circle cx="6.33" cy="51.5" r="1.49"/><circle cx="4.57" cy="51.85" r="1.45"/><circle cx="9.3" cy="67" r="1.13"/><circle cx="9.86" cy="68.84" r="1.24"/><circle cx="11.2" cy="70.7" r="1.28"/><circle cx="11.17" cy="72.73" r="1.17"/><circle cx="11.52" cy="74.84" r="1.51"/><circle cx="8.43" cy="64.74" r="1.67"/><circle cx="7.09" cy="63.22" r="1.47"/><circle cx="7.9" cy="68.64" r="1.61"/><circle cx="6.25" cy="69.23" r="1.3"/><circle cx="5.9" cy="70.83" r="1.22"/><circle cx="93.07" cy="53.1" r="1.26"/><circle cx="94.95" cy="53.17" r="1.4"/><circle cx="95.11" cy="50.88" r="1.16"/><circle cx="91.27" cy="51.62" r="1.55"/><circle cx="90.99" cy="49.69" r="1.69"/><circle cx="91.42" cy="48.25" r="1.31"/><circle cx="60.04" cy="17.02" r="1.68"/><circle cx="58.14" cy="18.22" r="1.23"/><circle cx="57.22" cy="16.82" r="1.28"/><circle cx="57.43" cy="15.06" r="1.18"/><circle cx="58.64" cy="13.18" r="1.34"/><circle cx="60.1" cy="12.74" r="1.11"/><circle cx="61.31" cy="14.05" r="1.17"/><circle cx="63.48" cy="13.94" r="1.37"/><circle cx="58.08" cy="13.18" r="1.42"/><circle cx="57.35" cy="11.18" r="1.25"/><circle cx="90.6" cy="16.53" r="1.1"/><circle cx="92.27" cy="16.46" r="1.52"/><circle cx="93.56" cy="14.92" r="1.14"/><circle cx="95.61" cy="15.51" r="1.33"/><circle cx="96.48" cy="14.07" r="1.25"/><circle cx="88.71" cy="16.42" r="1.49"/><circle cx="88.2" cy="14.94" r="1.49"/><circle cx="90.31" cy="14.51" r="1.6"/><circle cx="31.79" cy="58.5" r="1.24"/><circle cx="30.18" cy="60.17" r="1.66"/><circle cx="31.15" cy="62.08" r="1.22"/><circle cx="36.32" cy="58.32" r="1.19"/><circle cx="30.18" cy="59.64" r="1.57"/><circle cx="31.88" cy="59.4" r="1.52"/><circle cx="33.3" cy="58.67" r="1.39"/><circle cx="32.87" cy="56.41" r="1.56"/><circle cx="31.56" cy="57.37" r="1.18"/><circle cx="32.38" cy="55.99" r="1.62"/><circle cx="91.4" cy="35.24" r="1.6"/><circle cx="89.69" cy="37.21" r="1.14"/><circle cx="92.06" cy="32.88" r="1.21"/><circle cx="89.99" cy="31.8" r="1.64"/><circle cx="92.78" cy="35.07" r="1.31"/><circle cx="94.94" cy="34.84" r="1.6"/><circle cx="96.79" cy="34.59" r="1.29"/><circle cx="89.61" cy="35.24" r="1.17"/><circle cx="73.58" cy="5.72" r="1.69"/><circle cx="72.71" cy="7.55" r="1.36"/><circle cx="73.23" cy="9.35" r="1.6"/><circle cx="74.79" cy="10.91" r="1.12"/><circle cx="93.21" cy="-2.36" r="1.26"/><circle cx="91.75" cy="-3.01" r="1.31"/><circle cx="90.28" cy="-1.82" r="1.11"/><circle cx="91.33" cy="-0.08" r="1.33"/><circle cx="89.96" cy="0.77" r="1.18"/><circle cx="89.29" cy="2.42" r="1.22"/><circle cx="89.54" cy="3.94" r="1.46"/><circle cx="88.56" cy="5.78" r="1.28"/><circle cx="88.59" cy="7.82" r="1.25"/><circle cx="62.33" cy="71.82" r="1.37"/><circle cx="64.16" cy="70.41" r="1.19"/><circle cx="66.35" cy="70.64" r="1.37"/><circle cx="107.53" cy="40.04" r="1.14"/><circle cx="107.03" cy="38.67" r="1.2"/><circle cx="105.21" cy="38.38" r="1.37"/><circle cx="111.66" cy="44.84" r="1.52"/><circle cx="111.66" cy="43.39" r="1.2"/><circle cx="110.35" cy="41.62" r="1.29"/><circle cx="110.85" cy="39.6" r="1.61"/><circle cx="60.54" cy="11.42" r="1.64"/><circle cx="62.05" cy="12" r="1.39"/><circle cx="63.79" cy="12.5" r="1.12"/><circle cx="64.69" cy="14.33" r="1.14"/><circle cx="58.77" cy="13.78" r="1.67"/><circle cx="57.31" cy="14.53" r="1.34"/><circle cx="60.1" cy="5.4" r="1.63"/><circle cx="60.44" cy="7.52" r="1.46"/><circle cx="59.05" cy="8.59" r="1.69"/><circle cx="88.14" cy="33.76" r="1.26"/><circle cx="87.69" cy="33.78" r="1.69"/><circle cx="14.13" cy="59.96" r="1.13"/><circle cx="15.17" cy="61.75" r="1.51"/><circle cx="14.48" cy="57.9" r="1.26"/><circle cx="54.53" cy="32.12" r="1.32"/><circle cx="52.58" cy="31.06" r="1.13"/><circle cx="54.18" cy="30.93" r="1.5"/><circle cx="52.78" cy="30.33" r="1.12"/><circle cx="56.42" cy="29.82" r="1.11"/><circle cx="55.09" cy="30.44" r="1.43"/><circle cx="53.88" cy="32.09" r="1.66"/><circle cx="52.16" cy="31.06" r="1.15"/><circle cx="51.01" cy="29.78" r="1.3"/><circle cx="56.12" cy="35.36" r="1.32"/><circle cx="108.16" cy="26.27" r="1.6"/><circle cx="109.85" cy="26.4" r="1.27"/><circle cx="111.97" cy="27.06" r="1.59"/><circle cx="71.37" cy="44.93" r="1.17"/><circle cx="70.05" cy="43.45" r="1.61"/><circle cx="72" cy="43.93" r="1.57"/><circle cx="73.65" cy="44.29" r="1.57"/><circle cx="75.72" cy="44.27" r="1.16"/><circle cx="76.5" cy="45.99" r="1.34"/><circle cx="76.79" cy="47.67" r="1.26"/><circle cx="73.22" cy="43.67" r="1.58"/><circle cx="21.98" cy="31.54" r="1.13"/><circle cx="20.58" cy="32.88" r="1.27"/><circle cx="20.59" cy="34.78" r="1.69"/><circle cx="36.5" cy="15.16" r="1.16"/><circle cx="34.87" cy="15.94" r="1.3"/><circle cx="33.25" cy="15.66" r="1.19"/><circle cx="32.15" cy="16.65" r="1.53"/><circle cx="35.49" cy="15.11" r="1.66"/><circle cx="37.39" cy="16.53" r="1.61"/><circle cx="35.43" cy="15.74" r="1.34"/><circle cx="34.96" cy="13.67" r="1.48"/><circle cx="36.79" cy="12.25" r="1.55"/><circle cx="107.16" cy="6.14" r="1.65"/><circle cx="108.11" cy="5.09" r="1.6"/><circle cx="108.92" cy="3.01" r="1.58"/><circle cx="75.09" cy="31.75" r="1.56"/><circle cx="75.63" cy="33.65" r="1.41"/><circle cx="76.69" cy="34.68" r="1.54"/><circle cx="78.57" cy="34.1" r="1.27"/><circle cx="80.63" cy="35.01" r="1.57"/><circle cx="81" cy="36.99" r="1.57"/><circle cx="2.89" cy="2.22" r="1.25"/><circle cx="1" cy="3.11" r="1.46"/><circle cx="4.25" cy="7.6" r="1.54"/><circle cx="104.41" cy="28.69" r="1.16"/><circle cx="105.79" cy="29.74" r="1.24"/><circle cx="107.44" cy="29.29" r="1.68"/><circle cx="108.19" cy="30.65" r="1.64"/><circle cx="103.26" cy="28.42" r="1.42"/><circle cx="101.65" cy="27.78" r="1.32"/><circle cx="104.03" cy="28.99" r="1.65"/><circle cx="104.53" cy="30.99" r="1.47"/><circle cx="102.51" cy="31.82" r="1.25"/><circle cx="101.96" cy="24.46" r="1.52"/><circle cx="15.02" cy="11.63" r="1.41"/><circle cx="14.95" cy="13.4" r="1.29"/><circle cx="15.89" cy="14.55" r="1.53"/><circle cx="12.38" cy="11" r="1.68"/><circle cx="13.35" cy="12.73" r="1.61"/><circle cx="13.36" cy="13.72" r="1.17"/><circle cx="12.28" cy="14.78" r="1.44"/><circle cx="12.69" cy="16.31" r="1.39"/><circle cx="27.07" cy="37.12" r="1.68"/><circle cx="28.65" cy="37.15" r="1.58"/><circle cx="26.81" cy="36.5" r="1.46"/><circle cx="17.53" cy="16.68" r="1.61"/><circle cx="19.28" cy="15.14" r="1.32"/><circle cx="20.63" cy="16.2" r="1.16"/><circle cx="22.59" cy="17.23" r="1.17"/><circle cx="24.58" cy="18.07" r="1.57"/><circle cx="25.56" cy="16.13" r="1.58"/><circle cx="25.89" cy="14.27" r="1.6"/><circle cx="32.1" cy="16.1" r="1.27"/><circle cx="33.63" cy="16.17" r="1.46"/><circle cx="35.48" cy="14.84" r="1.43"/><circle cx="10.23" cy="32.31" r="1.63"/><circle cx="8.43" cy="32.26" r="1.43"/><circle cx="7.44" cy="33.33" r="1.56"/><circle cx="6.03" cy="33.64" r="1.25"/><circle cx="11.75" cy="34.54" r="1.57"/><circle cx="9.57" cy="33.77" r="1.39"/><circle cx="17.64" cy="65.46" r="1.47"/><circle cx="18.91" cy="64.82" r="1.43"/><circle cx="20.69" cy="64.74" r="1.5"/><circle cx="22.13" cy="64.86" r="1.61"/><circle cx="23.7" cy="65.84" r="1.29"/><circle cx="18.04" cy="61.54" r="1.65"/><circle cx="18.92" cy="63.42" r="1.31"/><circle cx="67.17" cy="59.57" r="1.69"/><circle cx="68.96" cy="58.96" r="1.25"/><circle cx="69.66" cy="60.86" r="1.14"/><circle cx="71.87" cy="61.2" r="1.27"/><circle cx="69.16" cy="62" r="1.2"/><circle cx="71.12" cy="62" r="1.18"/><circle cx="68.87" cy="59.35" r="1.29"/><circle cx="-2.18" cy="29.67" r="1.46"/><circle cx="-3.73" cy="29.78" r="1.58"/><circle cx="48.39" cy="37.76" r="1.19"/><circle cx="47.5" cy="35.81" r="1.36"/><circle cx="12.3" cy="9.14" r="1.61"/><circle cx="10.47" cy="8.99" r="1.14"/><circle cx="10.22" cy="6.69" r="1.68"/><circle cx="11.75" cy="4.94" r="1.49"/><circle cx="10.57" cy="6.15" r="1.57"/><circle cx="8.91" cy="4.89" r="1.39"/><circle cx="7.44" cy="5.68" r="1.47"/><circle cx="63.19" cy="60.67" r="1.58"/><circle cx="65.02" cy="59.5" r="1.43"/><circle cx="64.44" cy="58.02" r="1.12"/><circle cx="64.37" cy="56.56" r="1.12"/><circle cx="62.58" cy="56.49" r="1.41"/><circle cx="61.5" cy="57.5" r="1.53"/><circle cx="59.52" cy="58.3" r="1.62"/><circle cx="58.07" cy="58.14" r="1.17"/><circle cx="44.52" cy="33.09" r="1.38"/><circle cx="43.65" cy="34.51" r="1.64"/><circle cx="44.4" cy="36.58" r="1.61"/><circle cx="39.69" cy="43.81" r="1.63"/><circle cx="41.71" cy="43.42" r="1.18"/><circle cx="43.18" cy="42.67" r="1.38"/><circle cx="40.82" cy="46.25" r="1.57"/><circle cx="40.38" cy="44.1" r="1.25"/><circle cx="38.78" cy="42.75" r="1.64"/><circle cx="36.52" cy="42.28" r="1.51"/><circle cx="35.86" cy="44.41" r="1.68"/><circle cx="37.57" cy="45.63" r="1.11"/><circle cx="96.37" cy="51.68" r="1.37"/><circle cx="97.06" cy="50.07" r="1.28"/><circle cx="98.09" cy="48.24" r="1.58"/><circle cx="97.97" cy="52.82" r="1.28"/><circle cx="93.61" cy="48.07" r="1.46"/><circle cx="100.74" cy="48.93" r="1.52"/><circle cx="102.22" cy="48.34" r="1.26"/><circle cx="36.94" cy="11.18" r="1.38"/><circle cx="36.51" cy="13.18" r="1.38"/><circle cx="38.5" cy="13.95" r="1.31"/><circle cx="35.54" cy="11.82" r="1.48"/><circle cx="55.56" cy="38.62" r="1.27"/><circle cx="52.83" cy="38.96" r="1.13"/><circle cx="53.9" cy="40.65" r="1.59"/><circle cx="51.9" cy="40.95" r="1.63"/><circle cx="50.21" cy="40.37" r="1.17"/><circle cx="49.91" cy="38.81" r="1.7"/><circle cx="51.81" cy="37.67" r="1.46"/><circle cx="50.99" cy="36.29" r="1.7"/><circle cx="51.82" cy="35.02" r="1.13"/><circle cx="67.36" cy="12.3" r="1.59"/><circle cx="67.66" cy="10.22" r="1.64"/><circle cx="69.29" cy="9.05" r="1.13"/><circle cx="71.23" cy="9.23" r="1.16"/><circle cx="69.44" cy="16.93" r="1.46"/><circle cx="9.05" cy="46.36" r="1.1"/><circle cx="7.5" cy="46.91" r="1.51"/><circle cx="7.94" cy="48.51" r="1.69"/><circle cx="9.89" cy="49.13" r="1.46"/><circle cx="11.4" cy="49.47" r="1.19"/><circle cx="11.16" cy="51.15" r="1.61"/><circle cx="10.34" cy="52.49" r="1.52"/><circle cx="10.74" cy="54.54" r="1.26"/><circle cx="16.52" cy="40.8" r="1.41"/><circle cx="14.77" cy="40.87" r="1.63"/><circle cx="79.19" cy="36.17" r="1.37"/><circle cx="80.72" cy="35.18" r="1.33"/><circle cx="81.77" cy="33.23" r="1.17"/><circle cx="82.85" cy="32.21" r="1.13"/><circle cx="102.58" cy="-1.99" r="1.7"/><circle cx="100.23" cy="-2.11" r="1.3"/><circle cx="99.19" cy="-0.97" r="1.52"/><circle cx="78.16" cy="74.26" r="1.44"/><circle cx="79.4" cy="73.37" r="1.14"/><circle cx="81.28" cy="73.09" r="1.56"/><circle cx="83.02" cy="73.13" r="1.49"/><circle cx="79.92" cy="73.27" r="1.68"/><circle cx="78.51" cy="75.95" r="1.33"/><circle cx="77.81" cy="78.1" r="1.64"/><circle cx="78.32" cy="75" r="1.64"/><circle cx="102.93" cy="4.36" r="1.49"/><circle cx="103.23" cy="6.45" r="1.53"/><circle cx="102.07" cy="7.61" r="1.49"/><circle cx="100.71" cy="8.79" r="1.12"/><circle cx="11.1" cy="35" r="1.5"/><circle cx="11" cy="36.77" r="1.2"/><circle cx="38.79" cy="22.54" r="1.41"/><circle cx="34.51" cy="22.86" r="1.68"/><circle cx="35.18" cy="20.62" r="1.3"/><circle cx="35.16" cy="20.36" r="1.33"/><circle cx="39.02" cy="22.27" r="1.27"/><circle cx="38.98" cy="20.4" r="1.41"/><circle cx="40.17" cy="24.64" r="1.32"/><circle cx="40.85" cy="23.55" r="1.15"/><circle cx="38" cy="25.02" r="1.41"/><circle cx="8.07" cy="28.51" r="1.46"/><circle cx="8.84" cy="27.2" r="1.66"/><circle cx="4.88" cy="50.72" r="1.18"/><circle cx="4.32" cy="49.07" r="1.48"/><circle cx="3.59" cy="52.16" r="1.54"/><circle cx="16.45" cy="48.31" r="1.41"/><circle cx="14.34" cy="46.14" r="1.45"/><circle cx="13.69" cy="43.99" r="1.48"/><circle cx="7.85" cy="66.64" r="1.14"/><circle cx="9.95" cy="70.76" r="1.34"/><circle cx="8.23" cy="72.06" r="1.19"/><circle cx="9.91" cy="68.69" r="1.61"/><circle cx="8.54" cy="70.19" r="1.42"/><circle cx="51.32" cy="41.39" r="1.61"/><circle cx="53.31" cy="41.68" r="1.63"/><circle cx="54.42" cy="40.03" r="1.13"/><circle cx="55.8" cy="38.94" r="1.57"/><circle cx="56.94" cy="37.83" r="1.42"/><circle cx="55.65" cy="35.96" r="1.5"/><circle cx="53.61" cy="35.37" r="1.34"/></g>
<line x1="89.1" y1="69.9" x2="104.6" y2="69.9" stroke="#e0403a" stroke-width="0.9"/>
</svg>
<svg x="245.3" y="603.8" width="105.3" height="71.3" viewBox="0 0 105.3 71.3">
<rect width="105.3" height="71.3" fill="url(#mbg)"/>
<path d="M65.59 52.89h0.8v0.8h-0.8zM83.73 67.2h0.8v0.8h-0.8zM77.91 65.76h0.8v0.8h-0.8zM3.05 33.2h0.8v0.8h-0.8zM99.34 46.27h0.8v0.8h-0.8zM94.86 8.07h0.8v0.8h-0.8zM49.39 17.58h0.8v0.8h-0.8zM57.26 40.92h0.8v0.8h-0.8zM1.38 15.45h0.8v0.8h-0.8zM29.43 65.34h0.8v0.8h-0.8zM80.63 11.38h0.8v0.8h-0.8zM83.94 9.89h0.8v0.8h-0.8zM65.02 9.03h0.8v0.8h-0.8zM0.19 62.13h0.8v0.8h-0.8zM22.06 15.36h0.8v0.8h-0.8zM103.45 62.2h0.8v0.8h-0.8zM30.46 68.55h0.8v0.8h-0.8zM56.78 48.33h0.8v0.8h-0.8zM21.56 67.09h0.8v0.8h-0.8zM72.72 68.92h0.8v0.8h-0.8zM94.11 21.3h0.8v0.8h-0.8zM38.03 11.83h0.8v0.8h-0.8zM15.34 4.64h0.8v0.8h-0.8zM31.73 43h0.8v0.8h-0.8zM0.36 48.34h0.8v0.8h-0.8zM35.58 22.1h0.8v0.8h-0.8zM86.19 34.28h0.8v0.8h-0.8zM33.25 34.31h0.8v0.8h-0.8zM74.2 4.06h0.8v0.8h-0.8zM102.68 1.63h0.8v0.8h-0.8zM78.95 60.24h0.8v0.8h-0.8zM1.9 56.17h0.8v0.8h-0.8zM38.56 41.25h0.8v0.8h-0.8zM0.96 3.33h0.8v0.8h-0.8zM19.05 68.1h0.8v0.8h-0.8zM20.69 53.88h0.8v0.8h-0.8zM97.89 67.17h0.8v0.8h-0.8zM36.26 25.3h0.8v0.8h-0.8zM55.25 55.3h0.8v0.8h-0.8zM11.38 53.36h0.8v0.8h-0.8zM83.95 61.3h0.8v0.8h-0.8zM3.86 67.44h0.8v0.8h-0.8zM9.6 24.29h0.8v0.8h-0.8zM64.32 65.46h0.8v0.8h-0.8zM35.8 65.9h0.8v0.8h-0.8zM57.4 22.28h0.8v0.8h-0.8zM33.36 12.65h0.8v0.8h-0.8zM8.23 10.61h0.8v0.8h-0.8zM72.57 71.07h0.8v0.8h-0.8zM17.01 3.46h0.8v0.8h-0.8zM103.9 38.04h0.8v0.8h-0.8zM42.74 16.92h0.8v0.8h-0.8zM62.54 58.91h0.8v0.8h-0.8zM47.98 30.07h0.8v0.8h-0.8zM5.87 65.32h0.8v0.8h-0.8zM3.45 35.19h0.8v0.8h-0.8zM88.29 9.31h0.8v0.8h-0.8zM77.04 67.72h0.8v0.8h-0.8zM66.38 56.19h0.8v0.8h-0.8zM11.23 30.98h0.8v0.8h-0.8zM15.72 60.23h0.8v0.8h-0.8zM31.04 32.31h0.8v0.8h-0.8zM105.23 60.77h0.8v0.8h-0.8zM102.77 32.34h0.8v0.8h-0.8zM51.4 52.01h0.8v0.8h-0.8zM50.44 20.75h0.8v0.8h-0.8zM42.52 10.45h0.8v0.8h-0.8zM39.7 70.47h0.8v0.8h-0.8zM101.07 44.7h0.8v0.8h-0.8zM52.58 24.13h0.8v0.8h-0.8zM9.39 19.42h0.8v0.8h-0.8zM82.35 61.84h0.8v0.8h-0.8zM38.05 56.04h0.8v0.8h-0.8zM81.6 49.52h0.8v0.8h-0.8zM69.92 54.16h0.8v0.8h-0.8zM38.27 50.23h0.8v0.8h-0.8zM29.57 34.63h0.8v0.8h-0.8zM81.05 49.26h0.8v0.8h-0.8zM30.94 67.42h0.8v0.8h-0.8zM68.41 41.4h0.8v0.8h-0.8zM1.22 39h0.8v0.8h-0.8zM26.4 47.89h0.8v0.8h-0.8zM48.75 58.23h0.8v0.8h-0.8zM68.18 56.87h0.8v0.8h-0.8zM36.63 45.92h0.8v0.8h-0.8zM77.69 59.05h0.8v0.8h-0.8zM36.86 60.1h0.8v0.8h-0.8zM91.6 49.08h0.8v0.8h-0.8zM102.79 68.2h0.8v0.8h-0.8zM54.56 37.74h0.8v0.8h-0.8zM17.5 59.65h0.8v0.8h-0.8zM98.71 34.03h0.8v0.8h-0.8zM72.81 51.31h0.8v0.8h-0.8zM76.91 12.25h0.8v0.8h-0.8zM82.17 41.41h0.8v0.8h-0.8zM70.08 30h0.8v0.8h-0.8zM65.68 55.24h0.8v0.8h-0.8zM67.06 51.37h0.8v0.8h-0.8zM2.91 11.41h0.8v0.8h-0.8zM46.44 46.35h0.8v0.8h-0.8zM23.06 48.91h0.8v0.8h-0.8zM66.43 2.98h0.8v0.8h-0.8zM49.66 16.13h0.8v0.8h-0.8zM5.7 9.52h0.8v0.8h-0.8zM33.42 12.94h0.8v0.8h-0.8zM20.36 2.54h0.8v0.8h-0.8zM49 27.12h0.8v0.8h-0.8zM64.42 42.08h0.8v0.8h-0.8zM25.05 64.4h0.8v0.8h-0.8zM0.07 28.9h0.8v0.8h-0.8zM29.33 29.24h0.8v0.8h-0.8zM12.12 59.28h0.8v0.8h-0.8zM39.37 2.57h0.8v0.8h-0.8zM64.61 6.76h0.8v0.8h-0.8zM57.41 24.2h0.8v0.8h-0.8zM61.17 68.33h0.8v0.8h-0.8zM86.19 29.88h0.8v0.8h-0.8zM85.61 45.8h0.8v0.8h-0.8zM38.9 10.13h0.8v0.8h-0.8zM62.75 40.2h0.8v0.8h-0.8zM100.79 69.02h0.8v0.8h-0.8zM64.09 25.03h0.8v0.8h-0.8zM94.08 0.07h0.8v0.8h-0.8zM11.36 40.34h0.8v0.8h-0.8zM64.78 10.03h0.8v0.8h-0.8zM66.28 63.55h0.8v0.8h-0.8zM39.58 30.78h0.8v0.8h-0.8zM23.83 20.78h0.8v0.8h-0.8zM102.4 27.08h0.8v0.8h-0.8zM101.21 65.15h0.8v0.8h-0.8zM62.74 18.53h0.8v0.8h-0.8zM103.3 35.39h0.8v0.8h-0.8zM43.75 22.76h0.8v0.8h-0.8zM103.64 35.06h0.8v0.8h-0.8zM30.16 34.01h0.8v0.8h-0.8zM12.83 44.33h0.8v0.8h-0.8zM46.7 20.9h0.8v0.8h-0.8zM82.31 58.95h0.8v0.8h-0.8zM1.39 37.97h0.8v0.8h-0.8zM28.83 66.68h0.8v0.8h-0.8zM82.33 17.52h0.8v0.8h-0.8zM28.19 11.03h0.8v0.8h-0.8zM104.12 20.9h0.8v0.8h-0.8zM64.03 33.84h0.8v0.8h-0.8zM67.91 43.05h0.8v0.8h-0.8zM78.29 8.43h0.8v0.8h-0.8zM80.07 21.44h0.8v0.8h-0.8zM56.18 23.97h0.8v0.8h-0.8zM31.26 37.78h0.8v0.8h-0.8zM48.89 25.74h0.8v0.8h-0.8zM78.45 42.12h0.8v0.8h-0.8zM3.84 18h0.8v0.8h-0.8zM47.98 65.35h0.8v0.8h-0.8zM93.5 38.9h0.8v0.8h-0.8zM1.53 55.5h0.8v0.8h-0.8zM45.04 41.04h0.8v0.8h-0.8zM74.57 45.08h0.8v0.8h-0.8zM50.74 65.01h0.8v0.8h-0.8zM40.59 27.94h0.8v0.8h-0.8zM89.71 14.01h0.8v0.8h-0.8zM31.22 59.18h0.8v0.8h-0.8zM6.96 59.63h0.8v0.8h-0.8zM73.14 30.86h0.8v0.8h-0.8zM30.15 55.67h0.8v0.8h-0.8zM95.89 10.17h0.8v0.8h-0.8zM50.38 39.15h0.8v0.8h-0.8zM52.41 23.58h0.8v0.8h-0.8zM16.17 41.77h0.8v0.8h-0.8zM85.48 4.88h0.8v0.8h-0.8zM24.22 58.44h0.8v0.8h-0.8zM83.37 47.31h0.8v0.8h-0.8zM2.69 51.52h0.8v0.8h-0.8zM103.06 71.18h0.8v0.8h-0.8zM73.84 3.49h0.8v0.8h-0.8zM88.67 15.63h0.8v0.8h-0.8zM68 67.9h0.8v0.8h-0.8zM75.02 9.6h0.8v0.8h-0.8zM30.8 65.45h0.8v0.8h-0.8zM15.77 43.54h0.8v0.8h-0.8zM43.59 11.49h0.8v0.8h-0.8zM65.54 3.11h0.8v0.8h-0.8zM11.4 27.04h0.8v0.8h-0.8zM7.58 4.1h0.8v0.8h-0.8zM60.57 52.93h0.8v0.8h-0.8zM92.5 9.58h0.8v0.8h-0.8zM45.45 22.43h0.8v0.8h-0.8zM63.2 34.91h0.8v0.8h-0.8zM98.83 26.68h0.8v0.8h-0.8zM5.87 49.72h0.8v0.8h-0.8zM15.91 45.01h0.8v0.8h-0.8zM53.27 64.91h0.8v0.8h-0.8zM58.43 44.27h0.8v0.8h-0.8zM27.72 39.33h0.8v0.8h-0.8zM26.77 53.52h0.8v0.8h-0.8zM54.44 9.54h0.8v0.8h-0.8zM24.68 26.47h0.8v0.8h-0.8zM77.58 12.79h0.8v0.8h-0.8zM75.11 46.7h0.8v0.8h-0.8zM8.98 47.63h0.8v0.8h-0.8zM9.6 8.9h0.8v0.8h-0.8zM62.55 17.01h0.8v0.8h-0.8zM92.34 34.26h0.8v0.8h-0.8zM34.04 56.79h0.8v0.8h-0.8zM3.1 51.69h0.8v0.8h-0.8zM5.65 10.75h0.8v0.8h-0.8zM100.25 48.56h0.8v0.8h-0.8zM23.49 8.28h0.8v0.8h-0.8zM102.43 47.42h0.8v0.8h-0.8zM86.41 9.97h0.8v0.8h-0.8zM65.79 25.26h0.8v0.8h-0.8zM24.75 23.76h0.8v0.8h-0.8zM64.63 24.86h0.8v0.8h-0.8zM40.62 9.73h0.8v0.8h-0.8zM87.51 46.19h0.8v0.8h-0.8zM84.71 30.9h0.8v0.8h-0.8zM89.67 36.9h0.8v0.8h-0.8zM62.4 40.87h0.8v0.8h-0.8zM77.94 28.2h0.8v0.8h-0.8zM10.21 2.36h0.8v0.8h-0.8zM21.31 2.81h0.8v0.8h-0.8zM93.64 34.29h0.8v0.8h-0.8zM80.06 0.03h0.8v0.8h-0.8zM49.51 63.44h0.8v0.8h-0.8zM65.23 30.56h0.8v0.8h-0.8zM49.02 7.11h0.8v0.8h-0.8zM16.29 11.34h0.8v0.8h-0.8zM39.45 27.5h0.8v0.8h-0.8zM92.7 10.85h0.8v0.8h-0.8zM26.75 19.78h0.8v0.8h-0.8zM17.01 20.47h0.8v0.8h-0.8zM24.76 34.37h0.8v0.8h-0.8zM3.38 65.92h0.8v0.8h-0.8zM38.85 66.88h0.8v0.8h-0.8zM72.42 48.04h0.8v0.8h-0.8zM49.67 67.41h0.8v0.8h-0.8zM12.42 47.67h0.8v0.8h-0.8zM30.65 48.09h0.8v0.8h-0.8zM76.8 11.64h0.8v0.8h-0.8zM21.17 1.78h0.8v0.8h-0.8zM24.27 5.58h0.8v0.8h-0.8zM42.23 69.42h0.8v0.8h-0.8zM38.36 22.23h0.8v0.8h-0.8zM49.28 20.19h0.8v0.8h-0.8zM77.12 51.19h0.8v0.8h-0.8zM17.2 17.15h0.8v0.8h-0.8zM70.78 67.06h0.8v0.8h-0.8zM68.01 30.71h0.8v0.8h-0.8zM102.71 0.45h0.8v0.8h-0.8zM6.41 55.56h0.8v0.8h-0.8zM43.19 3.2h0.8v0.8h-0.8zM57.75 70.56h0.8v0.8h-0.8zM54.64 24.96h0.8v0.8h-0.8zM9.88 5.08h0.8v0.8h-0.8zM94.64 35.02h0.8v0.8h-0.8zM98.53 3.83h0.8v0.8h-0.8zM25.64 3.6h0.8v0.8h-0.8zM41.84 4.29h0.8v0.8h-0.8zM26.9 29.05h0.8v0.8h-0.8zM32.22 3.66h0.8v0.8h-0.8zM3.96 69.28h0.8v0.8h-0.8zM18.89 36.27h0.8v0.8h-0.8zM42.37 37.88h0.8v0.8h-0.8zM8.88 22.38h0.8v0.8h-0.8zM11.37 38.64h0.8v0.8h-0.8zM97.01 42.66h0.8v0.8h-0.8zM90.22 15.29h0.8v0.8h-0.8zM1.83 38.48h0.8v0.8h-0.8zM51.23 40.74h0.8v0.8h-0.8zM39.66 44.57h0.8v0.8h-0.8zM76.41 65.1h0.8v0.8h-0.8zM32.39 32.02h0.8v0.8h-0.8zM87.02 15.97h0.8v0.8h-0.8zM12.18 22.23h0.8v0.8h-0.8zM9.23 55.07h0.8v0.8h-0.8zM86.29 22.31h0.8v0.8h-0.8zM13.67 5.85h0.8v0.8h-0.8zM25.78 6.01h0.8v0.8h-0.8zM45.14 41.14h0.8v0.8h-0.8zM25.84 4.38h0.8v0.8h-0.8zM73.77 3.42h0.8v0.8h-0.8zM21.04 20.39h0.8v0.8h-0.8zM39.36 7.03h0.8v0.8h-0.8zM44.29 22.38h0.8v0.8h-0.8zM79.22 39.65h0.8v0.8h-0.8zM94.36 46.64h0.8v0.8h-0.8zM80 40.98h0.8v0.8h-0.8zM46.56 58.24h0.8v0.8h-0.8zM69.02 68.07h0.8v0.8h-0.8zM76.66 49.99h0.8v0.8h-0.8zM28.19 57.9h0.8v0.8h-0.8zM40.27 9.29h0.8v0.8h-0.8zM6.94 12.08h0.8v0.8h-0.8zM27.65 48.19h0.8v0.8h-0.8zM30.07 4.53h0.8v0.8h-0.8zM80.43 39.73h0.8v0.8h-0.8zM2.89 3.61h0.8v0.8h-0.8zM13.7 25.46h0.8v0.8h-0.8zM90.54 67.68h0.8v0.8h-0.8zM64.44 16.48h0.8v0.8h-0.8zM45.16 25.84h0.8v0.8h-0.8zM34.79 0.89h0.8v0.8h-0.8zM61.54 58.96h0.8v0.8h-0.8zM76.54 6.79h0.8v0.8h-0.8zM55.84 12.21h0.8v0.8h-0.8zM74.7 31.82h0.8v0.8h-0.8zM98.83 56.67h0.8v0.8h-0.8zM12.45 22.61h0.8v0.8h-0.8zM96.35 32.87h0.8v0.8h-0.8zM45.72 31.47h0.8v0.8h-0.8zM80.82 66.76h0.8v0.8h-0.8zM56.08 69.14h0.8v0.8h-0.8zM62.76 7.38h0.8v0.8h-0.8zM85.74 29.91h0.8v0.8h-0.8zM5.51 69.73h0.8v0.8h-0.8zM3.46 41.14h0.8v0.8h-0.8zM50.75 62.87h0.8v0.8h-0.8zM41.35 15.37h0.8v0.8h-0.8zM29.17 14.34h0.8v0.8h-0.8zM59.22 25.45h0.8v0.8h-0.8zM79.09 17.22h0.8v0.8h-0.8zM37.04 17.7h0.8v0.8h-0.8zM103.45 59.91h0.8v0.8h-0.8zM89.49 44.07h0.8v0.8h-0.8zM42.21 10.2h0.8v0.8h-0.8zM87.58 34.95h0.8v0.8h-0.8zM3.97 12.09h0.8v0.8h-0.8zM10.4 51.17h0.8v0.8h-0.8zM94.79 14.21h0.8v0.8h-0.8zM83.93 23.11h0.8v0.8h-0.8zM71.91 61.54h0.8v0.8h-0.8zM65.61 57.07h0.8v0.8h-0.8zM39.64 0.72h0.8v0.8h-0.8zM53.89 41.83h0.8v0.8h-0.8zM19.45 27.74h0.8v0.8h-0.8zM33.41 1.93h0.8v0.8h-0.8zM32.86 27.3h0.8v0.8h-0.8zM50.13 50.15h0.8v0.8h-0.8zM42.03 70.04h0.8v0.8h-0.8zM85.88 65.87h0.8v0.8h-0.8zM72.95 47.78h0.8v0.8h-0.8zM56.52 56.95h0.8v0.8h-0.8zM38.2 42.32h0.8v0.8h-0.8zM71.55 37.23h0.8v0.8h-0.8zM29.92 5.54h0.8v0.8h-0.8zM9.19 25.37h0.8v0.8h-0.8zM61.12 54.16h0.8v0.8h-0.8zM75.23 21.87h0.8v0.8h-0.8zM97.84 19.58h0.8v0.8h-0.8zM75.4 5.14h0.8v0.8h-0.8zM79.33 47.77h0.8v0.8h-0.8zM100.76 63.97h0.8v0.8h-0.8zM72.41 59.77h0.8v0.8h-0.8zM77.78 43.56h0.8v0.8h-0.8zM21.98 36.84h0.8v0.8h-0.8zM94.36 17.05h0.8v0.8h-0.8zM102.63 38.78h0.8v0.8h-0.8zM41.43 0.21h0.8v0.8h-0.8zM41.08 12.7h0.8v0.8h-0.8zM68.77 64.14h0.8v0.8h-0.8zM95.84 43.74h0.8v0.8h-0.8zM40.72 7.76h0.8v0.8h-0.8zM72.53 39.46h0.8v0.8h-0.8zM75.32 26.67h0.8v0.8h-0.8zM93.38 15.17h0.8v0.8h-0.8zM32.18 19.08h0.8v0.8h-0.8zM65.51 63.97h0.8v0.8h-0.8zM17.63 45.12h0.8v0.8h-0.8zM80.71 16.02h0.8v0.8h-0.8zM6.6 40.35h0.8v0.8h-0.8zM87.43 62.64h0.8v0.8h-0.8zM76.66 29.72h0.8v0.8h-0.8zM44.79 37.7h0.8v0.8h-0.8zM95.27 21.56h0.8v0.8h-0.8zM29.56 43.16h0.8v0.8h-0.8zM101.78 13.35h0.8v0.8h-0.8zM3.21 8.24h0.8v0.8h-0.8zM59.24 43.03h0.8v0.8h-0.8zM19.36 13.57h0.8v0.8h-0.8zM62.6 46.09h0.8v0.8h-0.8zM72.68 51.97h0.8v0.8h-0.8zM6.46 34.56h0.8v0.8h-0.8zM87.89 68.25h0.8v0.8h-0.8zM33.53 60.63h0.8v0.8h-0.8zM67.94 66.07h0.8v0.8h-0.8zM24.12 49.68h0.8v0.8h-0.8zM88.53 33.99h0.8v0.8h-0.8zM10.61 13.8h0.8v0.8h-0.8zM16.49 6.62h0.8v0.8h-0.8zM16 43.9h0.8v0.8h-0.8zM11.05 54.05h0.8v0.8h-0.8zM77.52 58.21h0.8v0.8h-0.8zM84.63 50.84h0.8v0.8h-0.8zM97.31 68.23h0.8v0.8h-0.8zM65.82 68.81h0.8v0.8h-0.8zM10.88 7.34h0.8v0.8h-0.8zM6.79 14.72h0.8v0.8h-0.8zM39.43 32.7h0.8v0.8h-0.8zM71.66 52.97h0.8v0.8h-0.8zM8.82 28.75h0.8v0.8h-0.8zM57.23 26.75h0.8v0.8h-0.8zM12.38 42.57h0.8v0.8h-0.8zM39.43 48.75h0.8v0.8h-0.8zM52.18 68.64h0.8v0.8h-0.8zM99.51 5.15h0.8v0.8h-0.8zM80.01 51.43h0.8v0.8h-0.8zM31.16 8.33h0.8v0.8h-0.8zM50.44 25.25h0.8v0.8h-0.8zM77.64 65.48h0.8v0.8h-0.8zM40.23 20.72h0.8v0.8h-0.8zM52.52 49.69h0.8v0.8h-0.8zM83.08 41.05h0.8v0.8h-0.8zM31.17 24.02h0.8v0.8h-0.8zM89.3 37.02h0.8v0.8h-0.8zM5.31 30h0.8v0.8h-0.8zM25.04 47.5h0.8v0.8h-0.8zM7.73 19.33h0.8v0.8h-0.8zM10.11 34.05h0.8v0.8h-0.8zM103.68 38.6h0.8v0.8h-0.8zM40.68 66.59h0.8v0.8h-0.8zM9.67 25.37h0.8v0.8h-0.8zM85.38 0.37h0.8v0.8h-0.8zM80.65 25.74h0.8v0.8h-0.8zM1.73 17.89h0.8v0.8h-0.8zM48.25 27.29h0.8v0.8h-0.8zM54.42 3.79h0.8v0.8h-0.8zM23.02 69.47h0.8v0.8h-0.8zM46.61 33.65h0.8v0.8h-0.8zM8.99 19.9h0.8v0.8h-0.8zM100.54 48.99h0.8v0.8h-0.8zM53.47 3.78h0.8v0.8h-0.8zM41.35 55.5h0.8v0.8h-0.8zM45.77 42.32h0.8v0.8h-0.8zM95.02 46h0.8v0.8h-0.8zM66.96 2.57h0.8v0.8h-0.8zM2.51 54.87h0.8v0.8h-0.8zM43.52 62.33h0.8v0.8h-0.8zM86.94 65.26h0.8v0.8h-0.8zM39.86 71.23h0.8v0.8h-0.8zM79.63 63.58h0.8v0.8h-0.8zM15.61 55.68h0.8v0.8h-0.8zM44.45 69.31h0.8v0.8h-0.8zM104.69 15.45h0.8v0.8h-0.8zM44.38 19.32h0.8v0.8h-0.8zM49.47 20.43h0.8v0.8h-0.8zM70.18 8.79h0.8v0.8h-0.8zM17.82 32.63h0.8v0.8h-0.8zM7.78 27.18h0.8v0.8h-0.8zM94.5 63.12h0.8v0.8h-0.8zM20.69 1.32h0.8v0.8h-0.8zM87.22 68.5h0.8v0.8h-0.8zM63.07 9.72h0.8v0.8h-0.8zM24.91 65.61h0.8v0.8h-0.8zM98.73 2.22h0.8v0.8h-0.8zM19.46 30.59h0.8v0.8h-0.8zM28.08 53.75h0.8v0.8h-0.8zM39.27 55.27h0.8v0.8h-0.8zM16 36.96h0.8v0.8h-0.8zM102.66 50.05h0.8v0.8h-0.8zM9.48 7.91h0.8v0.8h-0.8zM67.76 26.74h0.8v0.8h-0.8zM38.82 34.06h0.8v0.8h-0.8zM61.25 68.87h0.8v0.8h-0.8zM25.37 40.55h0.8v0.8h-0.8zM27.7 38.88h0.8v0.8h-0.8zM77.02 9.53h0.8v0.8h-0.8zM50.67 50.32h0.8v0.8h-0.8zM0.86 54.98h0.8v0.8h-0.8zM44.11 35.95h0.8v0.8h-0.8zM64.29 56.53h0.8v0.8h-0.8z" fill="#8e9298" opacity="0.5"/>
<path d="M5.9 35.69h0.9v0.9h-0.9zM4.03 27.49h0.9v0.9h-0.9zM36.41 1.53h0.9v0.9h-0.9zM31.35 32.09h0.9v0.9h-0.9zM68.96 65.94h0.9v0.9h-0.9zM39.01 37.79h0.9v0.9h-0.9zM75.1 66.83h0.9v0.9h-0.9zM100 70.45h0.9v0.9h-0.9zM31.78 11.88h0.9v0.9h-0.9zM98.13 5.52h0.9v0.9h-0.9zM47.25 52.49h0.9v0.9h-0.9zM55.68 27.72h0.9v0.9h-0.9zM97.35 21.33h0.9v0.9h-0.9zM58.1 59.16h0.9v0.9h-0.9zM14.53 25.02h0.9v0.9h-0.9zM52.05 40.35h0.9v0.9h-0.9zM21.84 32.37h0.9v0.9h-0.9zM6.3 6.27h0.9v0.9h-0.9zM36.02 10.25h0.9v0.9h-0.9zM101.88 18.77h0.9v0.9h-0.9zM29.04 55.88h0.9v0.9h-0.9zM78.04 18.69h0.9v0.9h-0.9zM87.31 44.61h0.9v0.9h-0.9zM40.92 44.83h0.9v0.9h-0.9zM25.87 18.78h0.9v0.9h-0.9zM92.3 31.28h0.9v0.9h-0.9zM94.48 12.62h0.9v0.9h-0.9zM14.46 3.7h0.9v0.9h-0.9zM77.89 40.01h0.9v0.9h-0.9zM1.02 3.09h0.9v0.9h-0.9zM86.77 35.25h0.9v0.9h-0.9zM91.75 2.84h0.9v0.9h-0.9zM62.01 8.37h0.9v0.9h-0.9zM75.93 43.59h0.9v0.9h-0.9zM64.45 15.79h0.9v0.9h-0.9zM99.93 7.92h0.9v0.9h-0.9zM6.74 48.77h0.9v0.9h-0.9zM9.77 4.77h0.9v0.9h-0.9zM48.47 46.26h0.9v0.9h-0.9zM93.93 51.4h0.9v0.9h-0.9zM7.3 45.85h0.9v0.9h-0.9zM88.83 8.59h0.9v0.9h-0.9zM79.45 18.44h0.9v0.9h-0.9zM31.45 0.11h0.9v0.9h-0.9zM79.84 36.77h0.9v0.9h-0.9zM94.98 33.19h0.9v0.9h-0.9zM16.37 15.43h0.9v0.9h-0.9zM27.73 67.5h0.9v0.9h-0.9zM21.61 6.29h0.9v0.9h-0.9zM37.14 5.64h0.9v0.9h-0.9zM44.77 44.32h0.9v0.9h-0.9zM68.51 12.46h0.9v0.9h-0.9zM14.62 35.02h0.9v0.9h-0.9zM72.36 31.88h0.9v0.9h-0.9zM60.37 65.03h0.9v0.9h-0.9zM15.27 19.1h0.9v0.9h-0.9zM51.99 38.22h0.9v0.9h-0.9zM94.79 39.59h0.9v0.9h-0.9zM69.75 29.92h0.9v0.9h-0.9zM82.58 59.6h0.9v0.9h-0.9zM30.92 7.69h0.9v0.9h-0.9zM27.29 25.49h0.9v0.9h-0.9zM93.68 18.87h0.9v0.9h-0.9zM66.27 45.68h0.9v0.9h-0.9zM100.69 8.3h0.9v0.9h-0.9zM81.07 23.99h0.9v0.9h-0.9zM10.84 45.06h0.9v0.9h-0.9zM88.91 41.53h0.9v0.9h-0.9zM5.25 69.31h0.9v0.9h-0.9zM40.45 45.37h0.9v0.9h-0.9zM76.24 18.59h0.9v0.9h-0.9zM43 23.48h0.9v0.9h-0.9zM10.1 4.59h0.9v0.9h-0.9zM75.49 29.27h0.9v0.9h-0.9zM91.58 4.47h0.9v0.9h-0.9zM31.74 12.84h0.9v0.9h-0.9zM99.34 56.37h0.9v0.9h-0.9zM94.38 36.1h0.9v0.9h-0.9zM10.97 29.67h0.9v0.9h-0.9zM23.82 1.92h0.9v0.9h-0.9zM59.49 20.68h0.9v0.9h-0.9zM11.36 36.47h0.9v0.9h-0.9zM98.26 67.45h0.9v0.9h-0.9zM49.08 7.33h0.9v0.9h-0.9zM80.94 8.19h0.9v0.9h-0.9zM56.59 5.97h0.9v0.9h-0.9zM103.95 38.7h0.9v0.9h-0.9zM46.07 19.41h0.9v0.9h-0.9zM58.01 69.37h0.9v0.9h-0.9zM45.06 14.92h0.9v0.9h-0.9zM54.19 65.47h0.9v0.9h-0.9zM40.2 45.19h0.9v0.9h-0.9zM96.74 23.22h0.9v0.9h-0.9zM85.39 37.72h0.9v0.9h-0.9zM14.69 3.82h0.9v0.9h-0.9zM98.88 33.23h0.9v0.9h-0.9zM46.67 65.42h0.9v0.9h-0.9zM60.44 35.66h0.9v0.9h-0.9zM29.92 53.06h0.9v0.9h-0.9zM26.98 33.55h0.9v0.9h-0.9zM79.87 43.13h0.9v0.9h-0.9zM14.13 14.45h0.9v0.9h-0.9zM73.18 51.98h0.9v0.9h-0.9zM10.81 71.12h0.9v0.9h-0.9zM14.05 11.96h0.9v0.9h-0.9zM9.45 31.83h0.9v0.9h-0.9zM65.25 61.13h0.9v0.9h-0.9z" fill="#8478cc" opacity="0.6"/>
<g fill="#5d4dc3" filter="url(#blurc)"><circle cx="15.16" cy="51.01" r="1.53"/><circle cx="66.87" cy="50.93" r="1.03"/><circle cx="65.8" cy="49.69" r="1.45"/><circle cx="65.01" cy="54.12" r="1.27"/><circle cx="65.36" cy="52.65" r="1.04"/><circle cx="66.54" cy="51.33" r="1.03"/><circle cx="-2.88" cy="69.94" r="1.22"/><circle cx="-1.74" cy="71.12" r="1.13"/><circle cx="-0.82" cy="72.24" r="1.54"/><circle cx="84.82" cy="-1.9" r="0.95"/><circle cx="82.82" cy="-2.35" r="1.46"/><circle cx="80.9" cy="-2.13" r="1.03"/><circle cx="79.9" cy="-3.49" r="1.1"/><circle cx="83.51" cy="-3.88" r="1.37"/><circle cx="79.74" cy="35.94" r="1.09"/><circle cx="78.51" cy="34.9" r="1.01"/><circle cx="78.24" cy="33.05" r="1.46"/><circle cx="80.15" cy="36.97" r="0.95"/><circle cx="95.96" cy="66.48" r="1.29"/><circle cx="94.72" cy="65.21" r="0.97"/><circle cx="94.03" cy="63.62" r="1.49"/><circle cx="92.3" cy="64.29" r="1.35"/><circle cx="19.41" cy="2.11" r="1.3"/><circle cx="20.49" cy="2.52" r="1.53"/><circle cx="18.54" cy="2.88" r="1.52"/><circle cx="11.68" cy="66.58" r="0.97"/><circle cx="10.03" cy="66.1" r="1.25"/><circle cx="73.01" cy="55.96" r="1.47"/><circle cx="74.7" cy="55.94" r="1.22"/><circle cx="76.42" cy="31.28" r="1.33"/><circle cx="75.47" cy="32.07" r="1.42"/><circle cx="104.95" cy="9.46" r="1.23"/><circle cx="87.76" cy="45.49" r="1.05"/><circle cx="88.17" cy="44.36" r="1.23"/><circle cx="103.6" cy="61.47" r="1.53"/><circle cx="102.55" cy="59.84" r="1.27"/><circle cx="103.41" cy="58.73" r="1.19"/><circle cx="95.62" cy="22.45" r="1.21"/><circle cx="94.95" cy="21.44" r="1.31"/><circle cx="94.02" cy="19.92" r="1.02"/><circle cx="95.12" cy="23.44" r="1"/><circle cx="96.01" cy="22.59" r="1.18"/><circle cx="83.74" cy="68.65" r="1.52"/><circle cx="72.86" cy="3.58" r="1.26"/><circle cx="72.14" cy="4.79" r="1.24"/><circle cx="74.14" cy="4.4" r="1"/><circle cx="73.61" cy="5.56" r="1.56"/><circle cx="102.18" cy="3.8" r="1.18"/><circle cx="102.54" cy="2.01" r="1.02"/><circle cx="104.26" cy="2.22" r="0.97"/><circle cx="63.22" cy="65.76" r="1.48"/><circle cx="63.83" cy="67.21" r="1.28"/><circle cx="64.72" cy="68.65" r="1.32"/><circle cx="42.13" cy="29.95" r="1.16"/><circle cx="42.52" cy="31.42" r="0.97"/><circle cx="9.04" cy="-2.28" r="0.98"/><circle cx="11.25" cy="-1.04" r="1.02"/><circle cx="28.67" cy="47.75" r="1.14"/><circle cx="74.32" cy="37.82" r="1.21"/><circle cx="73.14" cy="37.47" r="1.25"/><circle cx="72.93" cy="36.23" r="1.6"/><circle cx="74.27" cy="35.66" r="1.13"/><circle cx="76.31" cy="40.36" r="1.02"/><circle cx="57.36" cy="24.62" r="1.22"/><circle cx="58.35" cy="25.59" r="1.56"/><circle cx="45.68" cy="44.43" r="1.2"/><circle cx="47.14" cy="44.07" r="1.08"/><circle cx="44.9" cy="44.15" r="1.52"/><circle cx="45.83" cy="44.87" r="1.17"/><circle cx="49.91" cy="12.84" r="1.16"/><circle cx="50.99" cy="12.29" r="1.15"/><circle cx="81.48" cy="5.4" r="1.53"/><circle cx="81.38" cy="7.27" r="1.36"/><circle cx="81.98" cy="8.59" r="1.55"/><circle cx="83.48" cy="20.67" r="1.42"/><circle cx="84.76" cy="20.03" r="1.27"/><circle cx="86.45" cy="20.5" r="1.5"/><circle cx="84.84" cy="20.99" r="1.31"/><circle cx="47.93" cy="6.29" r="1.16"/><circle cx="23.84" cy="44.5" r="1.43"/><circle cx="62.93" cy="21.91" r="1.12"/><circle cx="61.32" cy="21.63" r="1.09"/><circle cx="60.11" cy="21.03" r="1.4"/><circle cx="59.2" cy="22.07" r="1.32"/><circle cx="68.96" cy="13.83" r="1.55"/><circle cx="68.92" cy="15.56" r="1.03"/><circle cx="51.22" cy="64.37" r="1"/><circle cx="51.14" cy="62.71" r="1.07"/><circle cx="50.41" cy="61.03" r="1.26"/><circle cx="59.3" cy="43.8" r="1.49"/><circle cx="56.88" cy="43.05" r="1.5"/><circle cx="55.05" cy="43.17" r="1.43"/><circle cx="17.11" cy="39.23" r="1.05"/><circle cx="15.86" cy="39.4" r="1.21"/><circle cx="74.35" cy="45.31" r="1.56"/><circle cx="86.72" cy="26.28" r="1.21"/><circle cx="88.58" cy="26.5" r="1.59"/><circle cx="89.13" cy="24.64" r="1.56"/><circle cx="63.58" cy="12.56" r="1.39"/><circle cx="62.3" cy="13.61" r="1.19"/><circle cx="60.57" cy="13.66" r="1.55"/><circle cx="22.66" cy="44.47" r="1.13"/><circle cx="21.51" cy="43.42" r="1.59"/><circle cx="21.77" cy="41.88" r="1.06"/><circle cx="20.92" cy="40.8" r="1.36"/><circle cx="19.66" cy="41.09" r="1.09"/><circle cx="49.11" cy="47.3" r="1.05"/><circle cx="51.15" cy="44.57" r="1.47"/><circle cx="51.03" cy="43.06" r="1.49"/><circle cx="102.3" cy="55.44" r="1.23"/><circle cx="102.83" cy="53.76" r="1.59"/><circle cx="101.73" cy="52.62" r="1.1"/><circle cx="96.46" cy="21.99" r="1.27"/><circle cx="95.47" cy="25.12" r="0.98"/><circle cx="95.51" cy="26.75" r="1.11"/><circle cx="96.26" cy="27.92" r="1.26"/><circle cx="97.54" cy="27.64" r="0.95"/><circle cx="82.52" cy="69.81" r="1.6"/><circle cx="82.91" cy="68.48" r="1.02"/><circle cx="81.34" cy="67.83" r="1.36"/><circle cx="8.25" cy="20.24" r="1.52"/><circle cx="8.41" cy="19.01" r="1.16"/><circle cx="44.22" cy="-2.76" r="1.29"/><circle cx="43.32" cy="-3.66" r="1.2"/><circle cx="41.7" cy="-3.02" r="1.31"/><circle cx="37.44" cy="71.48" r="1.23"/><circle cx="38.98" cy="71.74" r="1.58"/><circle cx="38.31" cy="71.43" r="1.59"/><circle cx="61.9" cy="46.59" r="1.29"/><circle cx="61.49" cy="45.05" r="1.39"/><circle cx="60.22" cy="45.3" r="1.05"/><circle cx="61.08" cy="48.53" r="0.96"/><circle cx="65.15" cy="48.52" r="1.09"/><circle cx="61.35" cy="19.52" r="1.53"/><circle cx="62.2" cy="20.42" r="1.56"/><circle cx="63.36" cy="20.37" r="1.49"/><circle cx="64.47" cy="21.88" r="1.07"/><circle cx="51.75" cy="57.6" r="1.06"/><circle cx="49.15" cy="58.23" r="1.19"/><circle cx="37.08" cy="43.94" r="1.13"/><circle cx="36.12" cy="45.3" r="1.38"/><circle cx="16.05" cy="14.39" r="1.34"/><circle cx="15.12" cy="10.49" r="1.22"/><circle cx="14.07" cy="11.93" r="1.17"/><circle cx="12.85" cy="13.34" r="1.23"/><circle cx="11.76" cy="12.35" r="1.02"/><circle cx="59.74" cy="26.23" r="1.18"/><circle cx="60.68" cy="24.71" r="1.22"/><circle cx="58.51" cy="26.55" r="1.06"/><circle cx="68.13" cy="24.73" r="1.05"/><circle cx="68.71" cy="26.43" r="1.16"/><circle cx="70.22" cy="27.18" r="1.59"/><circle cx="-0.1" cy="58.79" r="1.22"/><circle cx="1.53" cy="58.26" r="1.05"/><circle cx="1.21" cy="57.08" r="1.12"/><circle cx="0.44" cy="55.56" r="1.18"/><circle cx="-2.37" cy="57.54" r="1.41"/><circle cx="28.99" cy="65.72" r="1.05"/><circle cx="27.51" cy="66.99" r="1.34"/><circle cx="28.6" cy="67.48" r="1.25"/><circle cx="27.71" cy="66.43" r="1.35"/><circle cx="26.57" cy="67" r="1.47"/><circle cx="68.96" cy="5.25" r="1.27"/><circle cx="70.42" cy="4.99" r="1.22"/><circle cx="70.78" cy="3.11" r="1.32"/><circle cx="80.33" cy="39.31" r="1.41"/><circle cx="78.63" cy="37.6" r="1.27"/><circle cx="79.77" cy="37.01" r="1.1"/><circle cx="80.32" cy="38.49" r="1"/><circle cx="81.97" cy="38.33" r="1.29"/><circle cx="61.76" cy="66.01" r="1.15"/><circle cx="60.46" cy="64.99" r="1.1"/><circle cx="59.12" cy="63.96" r="1.34"/><circle cx="57.42" cy="64.11" r="1.22"/><circle cx="56.81" cy="65.45" r="0.97"/><circle cx="70.03" cy="34.89" r="1.18"/><circle cx="68.71" cy="35.64" r="1.44"/><circle cx="-0.07" cy="38.46" r="1.47"/><circle cx="56.33" cy="69.29" r="1.53"/><circle cx="56.95" cy="69.62" r="1.22"/><circle cx="57.86" cy="70.48" r="1.39"/><circle cx="99.47" cy="30.78" r="1.34"/><circle cx="98.64" cy="29.83" r="1.07"/><circle cx="97.45" cy="29.52" r="1.58"/><circle cx="86.91" cy="26.9" r="1.03"/><circle cx="88.39" cy="24.64" r="1.34"/><circle cx="89.81" cy="25.31" r="1.46"/><circle cx="89.73" cy="26.63" r="1"/><circle cx="84.53" cy="31.49" r="0.98"/><circle cx="88.65" cy="33.62" r="1.1"/><circle cx="48.37" cy="-1.01" r="1.02"/><circle cx="45.6" cy="2.17" r="1.45"/><circle cx="48.56" cy="13.23" r="1.06"/><circle cx="49.79" cy="14.07" r="1.08"/><circle cx="73.12" cy="18.12" r="0.96"/><circle cx="70.39" cy="20.55" r="0.96"/><circle cx="73.91" cy="20.61" r="1.06"/><circle cx="73.52" cy="19.18" r="1.3"/><circle cx="77.42" cy="17.31" r="1.42"/><circle cx="58.14" cy="73.97" r="1.54"/><circle cx="58.38" cy="72.69" r="1.58"/><circle cx="37.25" cy="1.32" r="1.55"/><circle cx="38.05" cy="2.65" r="1.1"/><circle cx="38.61" cy="3.93" r="1.25"/><circle cx="37.34" cy="5.11" r="1.19"/><circle cx="0.46" cy="17.76" r="1.02"/><circle cx="-0.43" cy="19.26" r="1.53"/><circle cx="-1.25" cy="20.41" r="1.16"/><circle cx="-0.15" cy="14.42" r="1.41"/><circle cx="62.11" cy="60.78" r="1.6"/><circle cx="62.24" cy="59.53" r="1.57"/><circle cx="89.02" cy="40.15" r="1.58"/><circle cx="90.55" cy="40.98" r="1.45"/><circle cx="90.17" cy="42.56" r="1"/><circle cx="25.96" cy="41.77" r="1.03"/><circle cx="29.88" cy="40.96" r="1.13"/><circle cx="30.94" cy="41.98" r="1.03"/><circle cx="53.07" cy="17.55" r="1.22"/><circle cx="51.67" cy="17.43" r="1.55"/><circle cx="53.51" cy="9.41" r="1.4"/><circle cx="54.84" cy="8.13" r="1.36"/><circle cx="52.28" cy="7.64" r="1.02"/><circle cx="53.41" cy="8.19" r="0.96"/><circle cx="14.45" cy="68.32" r="1.14"/><circle cx="12.78" cy="68.26" r="1.26"/><circle cx="11.17" cy="68.01" r="1.19"/><circle cx="13.86" cy="67.05" r="1.11"/><circle cx="51.67" cy="31.89" r="1.22"/><circle cx="52.33" cy="33.05" r="1.29"/><circle cx="62.72" cy="-2.9" r="1.08"/><circle cx="64.48" cy="-3.74" r="1.41"/><circle cx="65.78" cy="-3.65" r="1.53"/><circle cx="75.51" cy="8.82" r="1.25"/><circle cx="34.11" cy="9.29" r="1.59"/><circle cx="34.68" cy="7.87" r="1.46"/><circle cx="36.81" cy="8.46" r="1.55"/><circle cx="35.94" cy="7.52" r="1.56"/><circle cx="34.9" cy="6.63" r="1.23"/><circle cx="83.98" cy="53.11" r="0.99"/><circle cx="87.13" cy="53.1" r="1.5"/><circle cx="88.24" cy="52.23" r="0.97"/><circle cx="89.66" cy="51.66" r="1.34"/><circle cx="21.98" cy="3.53" r="1.36"/><circle cx="21.77" cy="1.74" r="1.53"/><circle cx="23.62" cy="2.23" r="1.07"/><circle cx="24.59" cy="3.3" r="1.39"/><circle cx="26.17" cy="3.54" r="1.31"/><circle cx="74.61" cy="17.51" r="1.07"/><circle cx="73.37" cy="18.67" r="0.98"/><circle cx="72.29" cy="18.13" r="1.52"/><circle cx="72.87" cy="16.8" r="1.04"/><circle cx="72.98" cy="15.42" r="1.17"/><circle cx="102.34" cy="73.39" r="1.21"/><circle cx="103.96" cy="73.7" r="1.03"/><circle cx="102.43" cy="71.76" r="1.55"/><circle cx="102.69" cy="73.46" r="1.52"/><circle cx="99.26" cy="76.73" r="1.41"/><circle cx="1.1" cy="18.81" r="1"/><circle cx="-0.48" cy="17.71" r="0.97"/><circle cx="0.14" cy="16.19" r="1.3"/><circle cx="97.98" cy="59.63" r="1.01"/><circle cx="99.11" cy="58.52" r="1.08"/><circle cx="99.91" cy="61.91" r="1.44"/><circle cx="87.73" cy="20.4" r="1.56"/><circle cx="90.38" cy="23.08" r="0.99"/><circle cx="91.36" cy="24.52" r="1.17"/><circle cx="91.6" cy="26.15" r="1.11"/><circle cx="84.91" cy="35.92" r="1.55"/><circle cx="83.96" cy="36.82" r="1.57"/><circle cx="90.78" cy="60.48" r="1.09"/><circle cx="87.17" cy="56.03" r="1.16"/><circle cx="87.12" cy="54.49" r="1.36"/><circle cx="65.44" cy="34.75" r="1.42"/><circle cx="77" cy="12.26" r="1.51"/><circle cx="78.34" cy="12.43" r="1.05"/><circle cx="78.31" cy="14.43" r="1.07"/><circle cx="74.27" cy="9.43" r="1.4"/><circle cx="56.06" cy="71.63" r="1.21"/><circle cx="57.89" cy="72.21" r="1"/><circle cx="59.02" cy="73.68" r="1.32"/><circle cx="60.64" cy="74.72" r="1.23"/><circle cx="13.9" cy="60.26" r="1.4"/><circle cx="12.32" cy="60.57" r="1.13"/><circle cx="11.44" cy="58.87" r="0.99"/><circle cx="11.73" cy="57.62" r="1.14"/><circle cx="12.69" cy="60.78" r="1.17"/><circle cx="16.5" cy="22.62" r="1"/><circle cx="73.86" cy="24.63" r="1.03"/><circle cx="72.76" cy="25.2" r="1.23"/><circle cx="72.01" cy="26.77" r="0.95"/><circle cx="16.81" cy="28.44" r="1.03"/><circle cx="15.35" cy="28.43" r="1.11"/><circle cx="14.11" cy="27.91" r="1.56"/><circle cx="12.54" cy="27.37" r="1.16"/><circle cx="10.85" cy="26.73" r="1.4"/><circle cx="18.51" cy="48.81" r="1.47"/><circle cx="19.93" cy="48.93" r="1.08"/><circle cx="21.6" cy="48.93" r="1.33"/><circle cx="99.51" cy="72.62" r="1.3"/><circle cx="99.23" cy="71.22" r="1.28"/><circle cx="99.98" cy="69.7" r="1.5"/><circle cx="99.56" cy="68.08" r="0.98"/><circle cx="97.92" cy="68.02" r="1.21"/><circle cx="9.41" cy="57.52" r="1.07"/><circle cx="9.63" cy="59.93" r="1.16"/><circle cx="8.49" cy="61.1" r="1.41"/><circle cx="7.17" cy="62.32" r="1.31"/><circle cx="92.81" cy="22.57" r="1.56"/><circle cx="18.74" cy="69.4" r="1.49"/><circle cx="78.53" cy="50.61" r="1.48"/><circle cx="80.45" cy="49.53" r="1.51"/><circle cx="80.1" cy="48.35" r="1.38"/><circle cx="85.02" cy="53.58" r="1.47"/><circle cx="86.24" cy="53.59" r="1.55"/><circle cx="85.4" cy="51.24" r="1"/><circle cx="85.98" cy="49.87" r="1.55"/><circle cx="86.2" cy="48.55" r="1.45"/><circle cx="60.23" cy="71.77" r="1.23"/><circle cx="53.32" cy="61.44" r="1.07"/><circle cx="52.31" cy="59.04" r="1.43"/><circle cx="51.48" cy="60.37" r="1.56"/><circle cx="50.03" cy="61.65" r="1.04"/><circle cx="13.94" cy="5.79" r="1"/><circle cx="83.05" cy="65.72" r="1.02"/><circle cx="60.02" cy="73.66" r="1.42"/><circle cx="61.5" cy="74.14" r="1.12"/><circle cx="63.16" cy="73.48" r="1.31"/><circle cx="74.77" cy="-0.83" r="1.01"/><circle cx="74.26" cy="-0.45" r="1.19"/><circle cx="41.92" cy="60.74" r="1.4"/><circle cx="42.85" cy="59.14" r="1.59"/><circle cx="43.09" cy="59.54" r="1.01"/><circle cx="42.5" cy="62.35" r="1.18"/><circle cx="22.25" cy="4.73" r="1.21"/><circle cx="25.7" cy="6.67" r="0.99"/><circle cx="25.32" cy="5.47" r="1.53"/><circle cx="24.22" cy="5.12" r="1.06"/><circle cx="23.17" cy="0.94" r="1.45"/><circle cx="94.38" cy="38.25" r="1.51"/><circle cx="94.9" cy="36.43" r="1.37"/><circle cx="94.43" cy="13.01" r="1.57"/><circle cx="93.69" cy="14.3" r="1.12"/><circle cx="55.82" cy="63.65" r="0.98"/><circle cx="55.59" cy="65.24" r="1.53"/><circle cx="1.92" cy="11.03" r="1.03"/><circle cx="2.84" cy="12.03" r="1.53"/><circle cx="2.75" cy="13.91" r="1.5"/><circle cx="2.69" cy="15.15" r="1.17"/><circle cx="0.9" cy="15.49" r="1.5"/><circle cx="86.5" cy="19.53" r="1.39"/><circle cx="86.91" cy="18.23" r="1.43"/><circle cx="88.38" cy="18.7" r="1.13"/><circle cx="90.08" cy="19.06" r="1.18"/><circle cx="84.16" cy="22.04" r="1.3"/><circle cx="85.63" cy="17.3" r="1.5"/><circle cx="60.07" cy="58.92" r="1.07"/><circle cx="61.31" cy="59.36" r="1.41"/><circle cx="63.13" cy="64.74" r="1.14"/><circle cx="29.7" cy="28.96" r="1.33"/><circle cx="29.23" cy="30.21" r="1.49"/><circle cx="30.02" cy="31.62" r="1.52"/><circle cx="29.24" cy="32.79" r="1.15"/><circle cx="42.88" cy="8.33" r="1.15"/><circle cx="42.15" cy="9.77" r="1.03"/><circle cx="29.14" cy="-1.33" r="0.96"/><circle cx="-2.21" cy="6.43" r="1.11"/><circle cx="-4.83" cy="7.52" r="0.98"/><circle cx="-6.08" cy="7.03" r="1.17"/><circle cx="-5.78" cy="5.15" r="0.98"/><circle cx="-6.08" cy="3.42" r="1.26"/><circle cx="75.98" cy="31.25" r="1.5"/><circle cx="76.46" cy="32.73" r="1.31"/><circle cx="78.04" cy="32.24" r="1.26"/><circle cx="79.61" cy="32.75" r="0.98"/><circle cx="84.18" cy="63.59" r="1.36"/><circle cx="88.92" cy="2.91" r="1.55"/><circle cx="29.13" cy="3.66" r="1.4"/><circle cx="80.6" cy="61.68" r="1.43"/><circle cx="80.45" cy="63.13" r="1.02"/><circle cx="58.73" cy="23.09" r="1.53"/><circle cx="57.44" cy="23.02" r="1.52"/><circle cx="11.99" cy="22.88" r="1.44"/><circle cx="13.77" cy="22.88" r="1.6"/><circle cx="15.19" cy="23.18" r="1.33"/><circle cx="15.36" cy="24.52" r="1.26"/><circle cx="15.47" cy="26.25" r="1.42"/><circle cx="77.12" cy="3.43" r="1.47"/><circle cx="77.25" cy="4.88" r="1.24"/><circle cx="77.38" cy="6.08" r="1.37"/><circle cx="78.68" cy="7.32" r="1"/><circle cx="80.31" cy="7.97" r="1.4"/><circle cx="61.37" cy="57.72" r="1.52"/><circle cx="60.68" cy="56.03" r="1.42"/><circle cx="62.44" cy="59.86" r="1.25"/><circle cx="61.5" cy="60.62" r="1.02"/><circle cx="59.87" cy="61.1" r="1.11"/><circle cx="50.85" cy="20.17" r="1.49"/><circle cx="61.44" cy="13.05" r="1.57"/><circle cx="45.68" cy="50.27" r="1.36"/><circle cx="44.91" cy="45.33" r="1.14"/><circle cx="41.88" cy="41.43" r="1.41"/><circle cx="41.71" cy="41.69" r="1.42"/><circle cx="42.77" cy="43.03" r="1.47"/></g>
<line x1="88.3" y1="69.9" x2="103.8" y2="69.9" stroke="#e0403a" stroke-width="0.9"/>
</svg>
<text x="378.2" y="500.8" font-size="21.5" font-weight="bold">F</text>
<text x="401.6" y="516.25" font-size="8.15" font-weight="bold">SW620+CD8<tspan font-size="5" dy="-3">+</tspan><tspan dy="3"> T+Cholesterol</tspan></text>
<rect x="419.25" y="580.27" width="9.6" height="35.03" fill="#EC4A4E" stroke="#D8303A" stroke-width="0.9"/>
<line x1="424.05" y1="578.32" x2="424.05" y2="581.33" stroke="#D8303A" stroke-width="1"/>
<line x1="421.45" y1="578.32" x2="426.65" y2="578.32" stroke="#D8303A" stroke-width="1"/>
<line x1="421.71" y1="581.33" x2="426.39" y2="581.33" stroke="#D8303A" stroke-width="0.9" stroke-opacity="0.75"/>
<circle cx="424.05" cy="578.7" r="1.05" fill="#D8303A"/>
<circle cx="424.05" cy="580.88" r="1.05" fill="#D8303A"/>
<circle cx="422.85" cy="579.82" r="1.05" fill="#D8303A"/>
<rect x="435.05" y="597.9" width="9.6" height="17.4" fill="#80D92E" stroke="#5DBB17" stroke-width="0.9"/>
<line x1="439.85" y1="594.66" x2="439.85" y2="600.25" stroke="#5DBB17" stroke-width="1"/>
<line x1="437.25" y1="594.66" x2="442.45" y2="594.66" stroke="#5DBB17" stroke-width="1"/>
<line x1="437.51" y1="600.25" x2="442.19" y2="600.25" stroke="#5DBB17" stroke-width="0.9" stroke-opacity="0.75"/>
<circle cx="439.85" cy="595.36" r="1.05" fill="#5DBB17"/>
<circle cx="439.85" cy="599.41" r="1.05" fill="#5DBB17"/>
<circle cx="438.65" cy="597.45" r="1.05" fill="#5DBB17"/>
<rect x="450.85" y="580.49" width="9.6" height="34.81" fill="#5282C8" stroke="#2C4DA8" stroke-width="0.9"/>
<line x1="455.65" y1="578.1" x2="455.65" y2="581.97" stroke="#2C4DA8" stroke-width="1"/>
<line x1="453.05" y1="578.1" x2="458.25" y2="578.1" stroke="#2C4DA8" stroke-width="1"/>
<line x1="453.31" y1="581.97" x2="457.99" y2="581.97" stroke="#2C4DA8" stroke-width="0.9" stroke-opacity="0.75"/>
<circle cx="455.65" cy="578.59" r="1.05" fill="#2C4DA8"/>
<circle cx="455.65" cy="581.39" r="1.05" fill="#2C4DA8"/>
<circle cx="454.45" cy="580.04" r="1.05" fill="#2C4DA8"/>
<rect x="466.65" y="549.53" width="9.6" height="65.77" fill="#C88AEA" stroke="#8638CF" stroke-width="0.9"/>
<line x1="471.45" y1="545.64" x2="471.45" y2="552.52" stroke="#8638CF" stroke-width="1"/>
<line x1="468.85" y1="545.64" x2="474.05" y2="545.64" stroke="#8638CF" stroke-width="1"/>
<line x1="469.11" y1="552.52" x2="473.79" y2="552.52" stroke="#8638CF" stroke-width="0.9" stroke-opacity="0.75"/>
<circle cx="471.45" cy="546.5" r="1.05" fill="#8638CF"/>
<circle cx="471.45" cy="551.49" r="1.05" fill="#8638CF"/>
<circle cx="470.25" cy="549.08" r="1.05" fill="#8638CF"/>
<rect x="482.45" y="581.35" width="9.6" height="33.95" fill="#F2944C" stroke="#E46C28" stroke-width="0.9"/>
<line x1="487.25" y1="579.61" x2="487.25" y2="582.19" stroke="#E46C28" stroke-width="1"/>
<line x1="484.65" y1="579.61" x2="489.85" y2="579.61" stroke="#E46C28" stroke-width="1"/>
<line x1="484.91" y1="582.19" x2="489.59" y2="582.19" stroke="#E46C28" stroke-width="0.9" stroke-opacity="0.75"/>
<circle cx="487.25" cy="579.93" r="1.05" fill="#E46C28"/>
<circle cx="487.25" cy="581.8" r="1.05" fill="#E46C28"/>
<circle cx="486.05" cy="580.9" r="1.05" fill="#E46C28"/>
<line x1="413.3" y1="615.8" x2="413.3" y2="528.8" stroke="#111" stroke-width="1"/>
<line x1="410.2" y1="615.3" x2="497.9" y2="615.3" stroke="#111" stroke-width="1"/>
<line x1="410.5" y1="615.3" x2="413.3" y2="615.3" stroke="#111" stroke-width="0.9"/>
<text x="409.5" y="617.68" font-size="6.9" font-weight="bold" text-anchor="end" fill="#111">0</text>
<line x1="410.5" y1="593.8" x2="413.3" y2="593.8" stroke="#111" stroke-width="0.9"/>
<text x="409.5" y="596.18" font-size="6.9" font-weight="bold" text-anchor="end" fill="#111">100</text>
<line x1="410.5" y1="572.3" x2="413.3" y2="572.3" stroke="#111" stroke-width="0.9"/>
<text x="409.5" y="574.68" font-size="6.9" font-weight="bold" text-anchor="end" fill="#111">200</text>
<line x1="410.5" y1="550.8" x2="413.3" y2="550.8" stroke="#111" stroke-width="0.9"/>
<text x="409.5" y="553.18" font-size="6.9" font-weight="bold" text-anchor="end" fill="#111">300</text>
<line x1="410.5" y1="529.3" x2="413.3" y2="529.3" stroke="#111" stroke-width="0.9"/>
<text x="409.5" y="531.68" font-size="6.9" font-weight="bold" text-anchor="end" fill="#111">400</text>
<line x1="424.05" y1="615.3" x2="424.05" y2="618.8" stroke="#111" stroke-width="0.9"/>
<text transform="translate(426.45 624.2) rotate(-45)" x="0" y="0" font-size="7" font-weight="bold" text-anchor="end" fill="#111">shRNA-NC</text>
<line x1="439.85" y1="615.3" x2="439.85" y2="618.8" stroke="#111" stroke-width="0.9"/>
<text transform="translate(442.25 624.2) rotate(-45)" x="0" y="0" font-size="7" font-weight="bold" text-anchor="end" fill="#111">shRNA-ETS2</text>
<line x1="455.65" y1="615.3" x2="455.65" y2="618.8" stroke="#111" stroke-width="0.9"/>
<text transform="translate(458.05 624.2) rotate(-45)" x="0" y="0" font-size="7" font-weight="bold" text-anchor="end" fill="#111">oe-Vector</text>
<line x1="471.45" y1="615.3" x2="471.45" y2="618.8" stroke="#111" stroke-width="0.9"/>
<text transform="translate(473.85 624.2) rotate(-45)" x="0" y="0" font-size="7" font-weight="bold" text-anchor="end" fill="#111">oe-ETS2</text>
<line x1="487.25" y1="615.3" x2="487.25" y2="618.8" stroke="#111" stroke-width="0.9"/>
<text transform="translate(489.65 624.2) rotate(-45)" x="0" y="0" font-size="7" font-weight="bold" text-anchor="end" fill="#111">oe-ETS2+sh-CYP27A1</text>
<text transform="translate(390.3 570.6) rotate(-90)" x="0" y="2.55" font-size="7.4" font-weight="bold" text-anchor="middle" fill="#111">Number of invaded cells</text>
<path d="M424.2 573.6V569H441.5V573.6" stroke="#2a2a2a" stroke-width="1.15" fill="none"/>
<text x="433" y="569.07" font-size="11.5" font-weight="bold" text-anchor="middle" letter-spacing="0.3">**</text>
<path d="M455.3 540.2V535.6H470.3V540.2" stroke="#2a2a2a" stroke-width="1.15" fill="none"/>
<text x="462.95" y="536.07" font-size="11.5" font-weight="bold" text-anchor="middle" letter-spacing="0.3">**</text>
<path d="M473.3 540.2V535.6H488.5V540.2" stroke="#2a2a2a" stroke-width="1.15" fill="none"/>
<text x="481.05" y="536.07" font-size="11.5" font-weight="bold" text-anchor="middle" letter-spacing="0.3">**</text>
<text x="554.1" y="500.6" font-size="21.5" font-weight="bold">G</text>
<text x="572.5" y="516.85" font-size="8.03" font-weight="bold">SW620+CD8<tspan font-size="5" dy="-3">+</tspan><tspan dy="3"> T+Cholesterol</tspan></text>
<rect x="589.75" y="573.55" width="9.5" height="41.75" fill="#EC4A4E" stroke="#D8303A" stroke-width="0.9"/>
<line x1="594.5" y1="570.15" x2="594.5" y2="576.05" stroke="#D8303A" stroke-width="1"/>
<line x1="591.9" y1="570.15" x2="597.1" y2="570.15" stroke="#D8303A" stroke-width="1"/>
<line x1="592.16" y1="576.05" x2="596.84" y2="576.05" stroke="#D8303A" stroke-width="0.9" stroke-opacity="0.75"/>
<circle cx="594.5" cy="570.88" r="1.05" fill="#D8303A"/>
<circle cx="594.5" cy="575.17" r="1.05" fill="#D8303A"/>
<circle cx="593.3" cy="573.1" r="1.05" fill="#D8303A"/>
<rect x="605.15" y="590.85" width="9.5" height="24.45" fill="#80D92E" stroke="#5DBB17" stroke-width="0.9"/>
<line x1="609.9" y1="585.34" x2="609.9" y2="595.47" stroke="#5DBB17" stroke-width="1"/>
<line x1="607.3" y1="585.34" x2="612.5" y2="585.34" stroke="#5DBB17" stroke-width="1"/>
<line x1="607.56" y1="595.47" x2="612.24" y2="595.47" stroke="#5DBB17" stroke-width="0.9" stroke-opacity="0.75"/>
<circle cx="609.9" cy="586.6" r="1.05" fill="#5DBB17"/>
<circle cx="609.9" cy="593.95" r="1.05" fill="#5DBB17"/>
<circle cx="608.7" cy="590.4" r="1.05" fill="#5DBB17"/>
<rect x="620.55" y="575.24" width="9.5" height="40.06" fill="#5282C8" stroke="#2C4DA8" stroke-width="0.9"/>
<line x1="625.3" y1="569.72" x2="625.3" y2="579.85" stroke="#2C4DA8" stroke-width="1"/>
<line x1="622.7" y1="569.72" x2="627.9" y2="569.72" stroke="#2C4DA8" stroke-width="1"/>
<line x1="622.96" y1="579.85" x2="627.64" y2="579.85" stroke="#2C4DA8" stroke-width="0.9" stroke-opacity="0.75"/>
<circle cx="625.3" cy="570.99" r="1.05" fill="#2C4DA8"/>
<circle cx="625.3" cy="578.33" r="1.05" fill="#2C4DA8"/>
<circle cx="624.1" cy="574.79" r="1.05" fill="#2C4DA8"/>
<rect x="635.95" y="549.92" width="9.5" height="65.38" fill="#C88AEA" stroke="#8638CF" stroke-width="0.9"/>
<line x1="640.7" y1="545.25" x2="640.7" y2="553.69" stroke="#8638CF" stroke-width="1"/>
<line x1="638.1" y1="545.25" x2="643.3" y2="545.25" stroke="#8638CF" stroke-width="1"/>
<line x1="638.36" y1="553.69" x2="643.04" y2="553.69" stroke="#8638CF" stroke-width="0.9" stroke-opacity="0.75"/>
<circle cx="640.7" cy="546.3" r="1.05" fill="#8638CF"/>
<circle cx="640.7" cy="552.42" r="1.05" fill="#8638CF"/>
<circle cx="639.5" cy="549.47" r="1.05" fill="#8638CF"/>
<rect x="651.35" y="570.17" width="9.5" height="45.13" fill="#F2944C" stroke="#E46C28" stroke-width="0.9"/>
<line x1="656.1" y1="567.61" x2="656.1" y2="571.83" stroke="#E46C28" stroke-width="1"/>
<line x1="653.5" y1="567.61" x2="658.7" y2="567.61" stroke="#E46C28" stroke-width="1"/>
<line x1="653.76" y1="571.83" x2="658.44" y2="571.83" stroke="#E46C28" stroke-width="0.9" stroke-opacity="0.75"/>
<circle cx="656.1" cy="568.14" r="1.05" fill="#E46C28"/>
<circle cx="656.1" cy="571.2" r="1.05" fill="#E46C28"/>
<circle cx="654.9" cy="569.72" r="1.05" fill="#E46C28"/>
<line x1="583.6" y1="615.8" x2="583.6" y2="530.4" stroke="#111" stroke-width="1"/>
<line x1="581.4" y1="615.3" x2="667" y2="615.3" stroke="#111" stroke-width="1"/>
<line x1="580.8" y1="615.3" x2="583.6" y2="615.3" stroke="#111" stroke-width="0.9"/>
<text x="579.8" y="617.68" font-size="6.9" font-weight="bold" text-anchor="end" fill="#111">0</text>
<line x1="580.8" y1="594.2" x2="583.6" y2="594.2" stroke="#111" stroke-width="0.9"/>
<text x="579.8" y="596.58" font-size="6.9" font-weight="bold" text-anchor="end" fill="#111">50</text>
<line x1="580.8" y1="573.1" x2="583.6" y2="573.1" stroke="#111" stroke-width="0.9"/>
<text x="579.8" y="575.48" font-size="6.9" font-weight="bold" text-anchor="end" fill="#111">100</text>
<line x1="580.8" y1="552" x2="583.6" y2="552" stroke="#111" stroke-width="0.9"/>
<text x="579.8" y="554.38" font-size="6.9" font-weight="bold" text-anchor="end" fill="#111">150</text>
<line x1="580.8" y1="530.9" x2="583.6" y2="530.9" stroke="#111" stroke-width="0.9"/>
<text x="579.8" y="533.28" font-size="6.9" font-weight="bold" text-anchor="end" fill="#111">200</text>
<line x1="594.5" y1="615.3" x2="594.5" y2="618.8" stroke="#111" stroke-width="0.9"/>
<text transform="translate(596.9 624.2) rotate(-45)" x="0" y="0" font-size="7" font-weight="bold" text-anchor="end" fill="#111">shRNA-NC</text>
<line x1="609.9" y1="615.3" x2="609.9" y2="618.8" stroke="#111" stroke-width="0.9"/>
<text transform="translate(612.3 624.2) rotate(-45)" x="0" y="0" font-size="7" font-weight="bold" text-anchor="end" fill="#111">shRNA-ETS2</text>
<line x1="625.3" y1="615.3" x2="625.3" y2="618.8" stroke="#111" stroke-width="0.9"/>
<text transform="translate(627.7 624.2) rotate(-45)" x="0" y="0" font-size="7" font-weight="bold" text-anchor="end" fill="#111">oe-Vector</text>
<line x1="640.7" y1="615.3" x2="640.7" y2="618.8" stroke="#111" stroke-width="0.9"/>
<text transform="translate(643.1 624.2) rotate(-45)" x="0" y="0" font-size="7" font-weight="bold" text-anchor="end" fill="#111">oe-ETS2</text>
<line x1="656.1" y1="615.3" x2="656.1" y2="618.8" stroke="#111" stroke-width="0.9"/>
<text transform="translate(658.5 624.2) rotate(-45)" x="0" y="0" font-size="7" font-weight="bold" text-anchor="end" fill="#111">oe-ETS2+sh-CYP27A1</text>
<text transform="translate(563.5 572.7) rotate(-90)" x="0" y="2.45" font-size="7.1" font-weight="bold" text-anchor="middle" fill="#111">Cell viability (%)</text>
<path d="M594.5 565.6V561H611V565.6" stroke="#2a2a2a" stroke-width="1.15" fill="none"/>
<text x="602.9" y="561.26" font-size="11.5" font-weight="bold" text-anchor="middle" letter-spacing="0.3">**</text>
<path d="M624.6 541.9V537.3H639.8V541.9" stroke="#2a2a2a" stroke-width="1.15" fill="none"/>
<text x="632.35" y="537.47" font-size="11.5" font-weight="bold" text-anchor="middle" letter-spacing="0.3">**</text>
<path d="M642.5 541.9V537.3H657.2V541.9" stroke="#2a2a2a" stroke-width="1.15" fill="none"/>
<text x="650" y="537.47" font-size="11.5" font-weight="bold" text-anchor="middle" letter-spacing="0.3">**</text>
<text x="0.9" y="723" font-size="21.5" font-weight="bold">H</text>
<line x1="33.4" y1="684.5" x2="33.4" y2="936.5" stroke="#858585" stroke-width="1.2"/>
<line x1="33.4" y1="936.5" x2="363" y2="936.5" stroke="#4a4a4a" stroke-width="1"/>
<path d="M33.4 680.4L30.7 686.4L33.4 685.0L36.1 686.4Z" stroke="none" stroke-width="0" fill="#111"/>
<path d="M367.0 936.5L360.8 933.8L362.2 936.5L360.8 939.2Z" stroke="none" stroke-width="0" fill="#111"/>
<text transform="translate(26.9 808) rotate(-90)" x="0" y="3.1" font-size="9" font-weight="bold" font-style="italic" text-anchor="middle" fill="#111">PI</text>
<text x="199.4" y="944.43" font-size="8.5" font-weight="bold" font-style="italic" text-anchor="middle" fill="#111">Annexin V-FITC</text>
<text x="201.1" y="693.25" font-size="8.2" font-weight="bold" font-style="italic" text-anchor="middle">SW620+CD8<tspan font-size="5" dy="-2.9">+</tspan><tspan dy="2.9"> T</tspan></text>
<line x1="45.1" y1="698.1" x2="358" y2="698.1" stroke="#8f8b88" stroke-width="1.4"/>
<text x="92.25" y="710.6" font-size="8.3" font-weight="bold" font-style="italic" text-anchor="middle" fill="#111">0 μg 27-HC</text>
<svg x="53" y="714.7" width="87" height="87" viewBox="0 0 87 87" preserveAspectRatio="none">
<g transform="translate(0 0.5)" stroke-width="1" filter="url(#blurf)">
<path d="M58 5h1M79 8h1M51 10h1M55 10h1M71 11h1M79 16h1M71 17h2M78 17h1M76 21h1M67 24h1M77 25h1M55 26h1M66 28h1M68 28h2M74 29h1M77 29h1M81 29h1M77 30h1M79 30h1M68 31h1M70 31h1M57 32h1M74 32h1M16 33h1M20 33h1M84 33h1M18 34h1M74 34h1M84 34h1M19 35h1M64 35h2M71 35h1M85 35h1M26 36h1M67 36h1M21 37h1M75 37h1M16 38h1M20 38h1M30 38h1M35 38h1M82 38h1M22 39h1M21 40h1M19 41h3M28 41h2M38 41h1M56 41h1M21 42h1M63 42h1M20 43h1M23 43h1M71 43h1M82 43h1M14 44h1M22 44h1M25 44h1M62 44h1M22 45h1M73 45h1M21 46h2M25 46h1M21 47h1M25 47h1M22 48h1M25 48h1M29 51h1M17 52h1M21 52h3M25 52h1M28 52h1M33 52h1M29 53h3M33 53h2M84 53h1M12 54h2M35 54h1M38 54h1M44 54h1M52 54h1M36 55h1M38 55h1M43 55h1M52 55h1M11 56h1M38 56h2M42 56h2M10 57h1M37 57h1M39 57h1M5 58h1M8 58h2M38 58h2M45 58h1M47 58h2M5 59h1M7 59h1M41 59h2M44 59h1M48 59h1M50 59h1M52 59h1M7 60h2M39 60h1M43 60h1M45 60h1M5 61h4M40 61h1M42 61h1M44 61h2M47 61h1M49 61h2M53 61h1M57 61h1M7 62h2M38 62h1M41 62h2M44 62h1M47 62h2M56 62h1M3 63h1M8 63h3M37 63h1M39 63h1M41 63h4M46 63h4M9 64h1M11 64h1M34 64h1M36 64h1M39 64h1M41 64h1M43 64h2M58 64h1M12 65h1M28 65h2M31 65h2M36 65h1M38 65h3M49 65h2M13 66h1M16 66h1M20 66h1M22 66h2M25 66h3M29 66h2M35 66h1M39 66h1M47 66h1M49 66h1M52 66h1M8 67h1M17 67h3M26 67h1M30 67h1M34 67h2M42 67h1M57 67h1M14 68h1M24 68h1M27 68h1M31 68h1M58 68h1M20 69h1M50 70h1" stroke="#5866e2" stroke-opacity="0.65"/>
<path d="M20 53h1M22 53h1M24 53h4M16 54h4M28 54h4M33 54h1M14 55h2M31 55h5M12 56h2M33 56h3M11 57h1M34 57h3M10 58h2M35 58h3M9 59h3M34 59h4M9 60h3M34 60h2M37 60h2M9 61h3M34 61h5M10 62h1M12 62h1M33 62h5M11 63h3M31 63h4M12 64h4M27 64h5M33 64h1M13 65h8M22 65h5" stroke="#3c4ad4" stroke-opacity="0.9"/>
<path d="M20 54h3M24 54h4M16 55h5M28 55h3M14 56h3M29 56h4M12 57h4M31 57h3M12 58h3M32 58h3M13 59h1M32 59h2M12 60h2M31 60h3M12 61h2M31 61h3M13 62h2M28 62h5M14 63h3M26 63h5M16 64h11" stroke="#2434b4"/>
<path d="M21 55h7M17 56h4M26 56h3M16 57h1M28 57h3M15 58h1M29 58h3M14 59h2M30 59h2M14 60h2M29 60h2M14 61h3M28 61h3M15 62h3M26 62h2M17 63h9" stroke="#1c2e9e"/>
<path d="M21 56h5M17 57h2M26 57h2M16 58h1M28 58h1M16 59h1M29 59h1M16 60h1M28 60h1M17 61h1M27 61h1M18 62h2M25 62h1" stroke="#1d50b4"/>
<path d="M19 57h2M25 57h1M17 58h1M26 58h2M28 59h1M17 60h1M27 60h1M18 61h1M26 61h1M20 62h5" stroke="#1c98c0"/>
<path d="M21 57h4M18 58h2M25 58h1M17 59h1M26 59h2M18 60h1M26 60h1M19 61h2M25 61h1" stroke="#30c090"/>
<path d="M20 58h2M24 58h1M18 59h2M25 59h1M19 60h2M25 60h1M21 61h4" stroke="#90d848"/>
<path d="M22 58h2M20 59h2M24 59h1M21 60h2M24 60h1" stroke="#e0dc38"/>
<path d="M22 59h2M23 60h1" stroke="#f0a030"/>
</g></svg>
<rect x="53" y="714.7" width="87.3" height="87.6" fill="none" stroke="#333" stroke-width="0.75"/>
<line x1="89.3" y1="714.7" x2="89.3" y2="802.3" stroke="#333" stroke-width="0.75"/>
<line x1="53" y1="765.6" x2="140.3" y2="765.6" stroke="#333" stroke-width="0.75"/>
<text x="55.3" y="720.59" font-size="4.6" fill="#111">Q1-UL(1.22%)</text>
<text x="138.7" y="720.59" font-size="4.6" text-anchor="end" fill="#111">Q1-UR(1.42%)</text>
<text x="55.3" y="800.29" font-size="4.6" fill="#111">Q1-LL(95.49%)</text>
<text x="138.7" y="800.29" font-size="4.6" text-anchor="end" fill="#111">Q1-LR(1.87%)</text>
<text x="135" y="736.62" font-size="10.2" font-weight="bold" font-style="italic" text-anchor="end" fill="#E0322E">3.29%</text>
<line x1="51.2" y1="802.3" x2="53" y2="802.3" stroke="#333" stroke-width="0.5"/>
<text transform="translate(49.4 801.1) rotate(-90)" font-size="4.3" text-anchor="middle" fill="#222">10<tspan font-size="2.9" dy="-1.5">2</tspan></text>
<line x1="51.2" y1="780.4" x2="53" y2="780.4" stroke="#333" stroke-width="0.5"/>
<text transform="translate(49.4 780.4) rotate(-90)" font-size="4.3" text-anchor="middle" fill="#222">10<tspan font-size="2.9" dy="-1.5">3</tspan></text>
<line x1="51.2" y1="758.5" x2="53" y2="758.5" stroke="#333" stroke-width="0.5"/>
<text transform="translate(49.4 758.5) rotate(-90)" font-size="4.3" text-anchor="middle" fill="#222">10<tspan font-size="2.9" dy="-1.5">4</tspan></text>
<line x1="51.2" y1="736.6" x2="53" y2="736.6" stroke="#333" stroke-width="0.5"/>
<text transform="translate(49.4 736.6) rotate(-90)" font-size="4.3" text-anchor="middle" fill="#222">10<tspan font-size="2.9" dy="-1.5">5</tspan></text>
<line x1="68.4" y1="802.3" x2="68.4" y2="804.1" stroke="#333" stroke-width="0.5"/>
<text x="69" y="809.2" font-size="4.3" text-anchor="middle" fill="#222">10<tspan font-size="2.9" dy="-1.5">3</tspan></text>
<line x1="89.8" y1="802.3" x2="89.8" y2="804.1" stroke="#333" stroke-width="0.5"/>
<text x="90.4" y="809.2" font-size="4.3" text-anchor="middle" fill="#222">10<tspan font-size="2.9" dy="-1.5">4</tspan></text>
<line x1="111.2" y1="802.3" x2="111.2" y2="804.1" stroke="#333" stroke-width="0.5"/>
<text x="111.8" y="809.2" font-size="4.3" text-anchor="middle" fill="#222">10<tspan font-size="2.9" dy="-1.5">5</tspan></text>
<line x1="132.6" y1="802.3" x2="132.6" y2="804.1" stroke="#333" stroke-width="0.5"/>
<text x="133.2" y="809.2" font-size="4.3" text-anchor="middle" fill="#222">10<tspan font-size="2.9" dy="-1.5">6</tspan></text>
<path d="M53.44 802.3v1M57.21 802.3v1M59.88 802.3v1M61.96 802.3v1M63.65 802.3v1M65.09 802.3v1M66.33 802.3v1M67.42 802.3v1M74.84 802.3v1M53 795.71h-1M78.61 802.3v1M53 791.85h-1M81.28 802.3v1M53 789.11h-1M83.36 802.3v1M53 786.99h-1M85.05 802.3v1M53 785.26h-1M86.49 802.3v1M53 783.79h-1M87.73 802.3v1M53 782.52h-1M88.82 802.3v1M53 781.4h-1M96.24 802.3v1M53 773.81h-1M100.01 802.3v1M53 769.95h-1M102.68 802.3v1M53 767.21h-1M104.76 802.3v1M53 765.09h-1M106.45 802.3v1M53 763.36h-1M107.89 802.3v1M53 761.89h-1M109.13 802.3v1M53 760.62h-1M110.22 802.3v1M53 759.5h-1M117.64 802.3v1M53 751.91h-1M121.41 802.3v1M53 748.05h-1M124.08 802.3v1M53 745.31h-1M126.16 802.3v1M53 743.19h-1M127.85 802.3v1M53 741.46h-1M129.29 802.3v1M53 739.99h-1M130.53 802.3v1M53 738.72h-1M131.62 802.3v1M53 737.6h-1M139.04 802.3v1M53 730.01h-1M53 726.15h-1M53 723.41h-1M53 721.29h-1M53 719.56h-1M53 718.09h-1M53 716.82h-1M53 715.7h-1" stroke="#555" stroke-width="0.4"/>
<text x="200.05" y="710.6" font-size="8.3" font-weight="bold" font-style="italic" text-anchor="middle" fill="#111">1 μg 27-HC</text>
<svg x="160.8" y="714.7" width="87" height="87" viewBox="0 0 87 87" preserveAspectRatio="none">
<g transform="translate(0 0.5)" stroke-width="1" filter="url(#blurf)">
<path d="M76 12h1M63 16h1M69 16h1M47 18h1M55 18h1M71 18h1M56 19h1M63 19h1M70 19h1M49 20h1M53 20h1M72 20h1M76 20h1M81 20h1M53 21h1M56 21h1M67 21h1M72 21h1M54 22h1M61 22h1M64 22h1M72 22h2M75 22h1M81 22h1M62 23h1M64 23h2M72 23h1M54 24h1M63 24h1M65 24h1M67 24h1M69 24h1M78 24h1M34 25h1M57 25h1M60 25h2M64 25h1M66 25h1M13 26h1M62 26h1M66 26h1M68 26h1M78 26h1M80 26h1M58 27h1M64 27h3M69 27h2M75 27h3M83 27h1M50 28h1M55 28h1M60 28h2M67 28h1M69 28h1M74 28h2M77 28h1M82 28h1M31 29h1M52 29h2M59 29h1M61 29h2M65 29h2M72 29h1M78 29h1M59 30h1M62 30h2M65 30h1M67 30h1M74 30h1M78 30h2M56 31h2M63 31h1M65 31h1M68 31h2M76 31h1M57 32h1M63 32h1M66 32h1M68 32h1M70 32h1M77 32h1M23 33h1M38 33h1M47 33h1M51 33h2M63 33h1M65 33h1M67 33h3M73 33h1M77 33h1M24 34h1M30 34h2M51 34h1M63 34h1M72 34h1M77 34h1M79 34h1M15 35h1M22 35h1M45 35h1M68 35h1M71 35h1M23 36h1M27 36h1M30 36h1M58 36h1M62 36h1M64 36h2M23 37h2M36 37h1M53 37h1M61 37h1M74 37h1M14 38h1M56 38h1M70 38h1M72 38h1M81 38h1M21 39h1M24 39h1M31 39h1M33 39h1M64 39h1M67 39h1M78 39h1M21 40h1M25 40h1M29 40h1M44 40h1M58 40h1M10 41h2M14 41h1M21 41h1M25 41h1M44 41h1M54 41h1M61 41h1M67 41h1M20 42h1M22 42h1M25 42h1M28 42h1M13 43h1M18 43h2M22 43h1M24 43h1M27 43h1M29 43h2M19 44h1M21 44h1M23 44h2M31 44h1M54 44h1M64 44h1M14 45h1M18 45h1M21 45h2M24 45h2M28 45h1M30 45h1M33 45h1M43 45h1M17 46h1M23 46h2M17 47h6M27 47h3M17 48h4M22 48h1M24 48h2M21 49h1M28 49h1M15 50h1M19 50h1M24 50h1M29 50h1M60 50h1M76 50h1M17 51h2M21 51h1M25 51h1M9 52h1M21 52h1M25 52h1M28 52h1M59 52h1M14 53h1M20 53h1M23 53h3M15 54h1M28 54h3M33 54h1M37 54h1M52 54h1M58 54h1M8 55h1M34 55h1M42 55h1M68 55h1M33 56h1M37 56h4M43 56h1M46 56h1M54 56h1M62 56h1M70 56h1M8 57h1M35 57h1M37 57h1M43 57h1M48 57h1M50 57h1M52 57h1M59 57h1M64 57h1M66 57h1M35 58h3M40 58h4M49 58h1M61 58h1M65 58h1M73 58h1M35 59h3M39 59h1M42 59h1M46 59h1M53 59h1M60 59h1M63 59h1M66 59h1M7 60h2M35 60h2M38 60h3M43 60h1M49 60h2M60 60h2M6 61h2M36 61h2M42 61h2M49 61h1M51 61h1M55 61h2M62 61h1M70 61h1M1 62h1M3 62h1M7 62h1M37 62h4M47 62h1M49 62h2M52 62h4M61 62h1M64 62h1M66 62h1M35 63h1M37 63h2M40 63h1M43 63h1M47 63h3M55 63h2M60 63h1M64 63h1M5 64h1M8 64h1M35 64h1M37 64h1M39 64h3M49 64h1M52 64h2M62 64h1M68 64h1M8 65h2M32 65h2M39 65h1M42 65h1M44 65h1M49 65h1M53 65h1M9 66h2M12 66h1M26 66h1M28 66h2M35 66h4M49 66h1M58 66h1M15 67h1M17 67h2M20 67h1M23 67h3M27 67h2M31 67h1M41 67h1M49 67h1M58 67h2M15 68h1M28 68h1M57 68h1M25 69h2M40 69h2M22 70h1M51 70h1" stroke="#5866e2" stroke-opacity="0.65"/>
<path d="M16 54h4M21 54h1M23 54h3M27 54h1M13 55h1M15 55h1M29 55h2M10 56h3M30 56h3M9 57h2M31 57h1M33 57h1M9 58h2M32 58h3M9 59h2M32 59h3M9 60h2M32 60h2M9 61h1M32 61h3M8 62h2M31 62h4M9 63h2M31 63h4M39 63h1M9 64h3M28 64h5M34 64h1M10 65h6M25 65h3M29 65h3M13 66h2M16 66h6M24 66h2" stroke="#3c4ad4" stroke-opacity="0.9"/>
<path d="M16 55h12M13 56h4M26 56h4M11 57h4M28 57h3M11 58h2M29 58h3M11 59h2M30 59h2M11 60h1M30 60h2M10 61h2M30 61h2M10 62h2M28 62h3M11 63h3M27 63h4M12 64h5M23 64h5M16 65h9" stroke="#2434b4"/>
<path d="M17 56h9M15 57h3M25 57h3M13 58h2M27 58h2M13 59h1M27 59h3M12 60h2M27 60h3M12 61h2M27 61h3M12 62h3M26 62h2M14 63h3M23 63h4M17 64h6" stroke="#1c2e9e"/>
<path d="M18 57h3M22 57h3M15 58h2M25 58h2M14 59h2M26 59h1M14 60h1M26 60h1M14 61h1M26 61h1M15 62h1M24 62h2M17 63h6" stroke="#1d50b4"/>
<path d="M21 57h1M17 58h2M24 58h1M16 59h1M25 59h1M15 60h1M25 60h1M15 61h1M25 61h1M16 62h2M23 62h1" stroke="#1c98c0"/>
<path d="M19 58h1M23 58h1M17 59h1M16 60h1M16 61h1M24 61h1M18 62h5" stroke="#30c090"/>
<path d="M20 58h3M18 59h1M23 59h2M17 60h1M24 60h1M17 61h2M22 61h2" stroke="#90d848"/>
<path d="M19 59h4M18 60h2M22 60h2M19 61h3" stroke="#e0dc38"/>
<path d="M20 60h2" stroke="#f0a030"/>
</g></svg>
<rect x="160.8" y="714.7" width="87.3" height="87.6" fill="none" stroke="#333" stroke-width="0.75"/>
<line x1="197.1" y1="714.7" x2="197.1" y2="802.3" stroke="#333" stroke-width="0.75"/>
<line x1="160.8" y1="765.6" x2="248.1" y2="765.6" stroke="#333" stroke-width="0.75"/>
<text x="163.1" y="720.59" font-size="4.6" fill="#111">Q1-UL(2.88%)</text>
<text x="246.5" y="720.59" font-size="4.6" text-anchor="end" fill="#111">Q1-UR(4.64%)</text>
<text x="163.1" y="800.29" font-size="4.6" fill="#111">Q1-LL(89.64%)</text>
<text x="246.5" y="800.29" font-size="4.6" text-anchor="end" fill="#111">Q1-LR(2.94%)</text>
<text x="242.8" y="736.62" font-size="10.2" font-weight="bold" font-style="italic" text-anchor="end" fill="#E0322E">7.48%</text>
<line x1="159" y1="802.3" x2="160.8" y2="802.3" stroke="#333" stroke-width="0.5"/>
<text transform="translate(157.2 801.1) rotate(-90)" font-size="4.3" text-anchor="middle" fill="#222">10<tspan font-size="2.9" dy="-1.5">2</tspan></text>
<line x1="159" y1="780.4" x2="160.8" y2="780.4" stroke="#333" stroke-width="0.5"/>
<text transform="translate(157.2 780.4) rotate(-90)" font-size="4.3" text-anchor="middle" fill="#222">10<tspan font-size="2.9" dy="-1.5">3</tspan></text>
<line x1="159" y1="758.5" x2="160.8" y2="758.5" stroke="#333" stroke-width="0.5"/>
<text transform="translate(157.2 758.5) rotate(-90)" font-size="4.3" text-anchor="middle" fill="#222">10<tspan font-size="2.9" dy="-1.5">4</tspan></text>
<line x1="159" y1="736.6" x2="160.8" y2="736.6" stroke="#333" stroke-width="0.5"/>
<text transform="translate(157.2 736.6) rotate(-90)" font-size="4.3" text-anchor="middle" fill="#222">10<tspan font-size="2.9" dy="-1.5">5</tspan></text>
<line x1="176.2" y1="802.3" x2="176.2" y2="804.1" stroke="#333" stroke-width="0.5"/>
<text x="176.8" y="809.2" font-size="4.3" text-anchor="middle" fill="#222">10<tspan font-size="2.9" dy="-1.5">3</tspan></text>
<line x1="197.6" y1="802.3" x2="197.6" y2="804.1" stroke="#333" stroke-width="0.5"/>
<text x="198.2" y="809.2" font-size="4.3" text-anchor="middle" fill="#222">10<tspan font-size="2.9" dy="-1.5">4</tspan></text>
<line x1="219" y1="802.3" x2="219" y2="804.1" stroke="#333" stroke-width="0.5"/>
<text x="219.6" y="809.2" font-size="4.3" text-anchor="middle" fill="#222">10<tspan font-size="2.9" dy="-1.5">5</tspan></text>
<line x1="240.4" y1="802.3" x2="240.4" y2="804.1" stroke="#333" stroke-width="0.5"/>
<text x="241" y="809.2" font-size="4.3" text-anchor="middle" fill="#222">10<tspan font-size="2.9" dy="-1.5">6</tspan></text>
<path d="M161.24 802.3v1M165.01 802.3v1M167.68 802.3v1M169.76 802.3v1M171.45 802.3v1M172.89 802.3v1M174.13 802.3v1M175.22 802.3v1M182.64 802.3v1M160.8 795.71h-1M186.41 802.3v1M160.8 791.85h-1M189.08 802.3v1M160.8 789.11h-1M191.16 802.3v1M160.8 786.99h-1M192.85 802.3v1M160.8 785.26h-1M194.29 802.3v1M160.8 783.79h-1M195.53 802.3v1M160.8 782.52h-1M196.62 802.3v1M160.8 781.4h-1M204.04 802.3v1M160.8 773.81h-1M207.81 802.3v1M160.8 769.95h-1M210.48 802.3v1M160.8 767.21h-1M212.56 802.3v1M160.8 765.09h-1M214.25 802.3v1M160.8 763.36h-1M215.69 802.3v1M160.8 761.89h-1M216.93 802.3v1M160.8 760.62h-1M218.02 802.3v1M160.8 759.5h-1M225.44 802.3v1M160.8 751.91h-1M229.21 802.3v1M160.8 748.05h-1M231.88 802.3v1M160.8 745.31h-1M233.96 802.3v1M160.8 743.19h-1M235.65 802.3v1M160.8 741.46h-1M237.09 802.3v1M160.8 739.99h-1M238.33 802.3v1M160.8 738.72h-1M239.42 802.3v1M160.8 737.6h-1M246.84 802.3v1M160.8 730.01h-1M160.8 726.15h-1M160.8 723.41h-1M160.8 721.29h-1M160.8 719.56h-1M160.8 718.09h-1M160.8 716.82h-1M160.8 715.7h-1" stroke="#555" stroke-width="0.4"/>
<text x="307.75" y="710.6" font-size="8.3" font-weight="bold" font-style="italic" text-anchor="middle" fill="#111">1.5 μg 27-HC</text>
<svg x="268.5" y="714.7" width="87" height="87" viewBox="0 0 87 87" preserveAspectRatio="none">
<g transform="translate(0 0.5)" stroke-width="1" filter="url(#blurf)">
<path d="M44 17h1M70 17h1M64 19h1M54 20h1M60 21h1M59 22h1M62 22h1M66 22h1M52 23h1M38 24h2M47 24h1M51 24h1M57 24h3M38 25h1M47 25h3M51 25h1M53 25h1M56 25h2M60 25h1M68 25h1M83 25h1M15 26h1M31 26h1M39 26h1M42 26h1M45 26h1M53 26h4M65 26h1M44 27h2M53 27h1M56 27h2M61 27h1M64 27h1M35 28h1M37 28h1M45 28h2M55 28h1M57 28h2M62 28h1M64 28h1M23 29h2M35 29h1M39 29h1M41 29h1M44 29h1M55 29h3M59 29h1M78 29h1M41 30h1M43 30h1M56 30h1M59 30h1M61 30h1M71 30h1M14 31h1M26 31h1M37 31h1M40 31h2M44 31h1M47 31h1M54 31h1M56 31h7M73 31h2M39 32h1M43 32h1M54 32h1M56 32h2M59 32h1M61 32h1M79 32h1M25 33h1M36 33h1M47 33h2M54 33h1M57 33h1M68 33h2M20 34h1M39 34h1M42 34h2M45 34h2M49 34h2M65 34h1M77 34h1M17 35h1M22 35h1M24 35h1M34 35h1M41 35h1M45 35h1M47 35h1M54 35h1M56 35h1M58 35h1M63 35h1M11 36h1M19 36h1M24 36h1M27 36h1M30 36h1M34 36h1M38 36h1M48 36h1M51 36h1M54 36h2M57 36h4M20 37h1M23 37h1M25 37h1M27 37h1M43 37h1M51 37h1M54 37h2M59 37h1M17 38h1M24 38h1M28 38h1M30 38h1M37 38h1M42 38h1M45 38h1M24 39h1M30 39h2M35 39h2M44 39h1M47 39h1M55 39h1M62 39h1M18 40h1M26 40h1M28 40h1M31 40h1M34 40h1M44 40h1M48 40h1M16 41h1M22 41h1M25 41h2M30 41h1M51 41h2M12 42h1M21 42h1M32 42h1M37 42h1M43 42h1M47 42h1M61 42h1M69 42h1M14 43h1M17 43h1M19 43h2M24 43h3M42 43h1M47 43h1M59 43h1M67 43h1M73 43h1M8 44h1M15 44h1M19 44h1M31 44h1M53 44h1M60 44h1M19 45h2M24 45h1M26 45h1M29 45h1M50 45h1M60 45h1M14 46h1M20 46h1M24 46h1M28 46h1M62 46h1M70 46h1M8 47h1M12 47h1M27 47h1M48 47h1M61 47h1M72 47h1M4 48h1M19 48h1M28 48h1M34 48h1M44 48h1M61 48h1M6 49h1M17 49h2M24 49h1M26 49h2M13 50h1M25 50h2M29 50h1M31 50h2M62 50h1M9 51h1M18 51h2M25 51h1M32 51h1M56 51h1M59 51h1M10 52h1M14 52h1M18 52h1M21 52h1M28 52h1M35 52h3M22 53h1M24 53h2M34 53h1M13 54h1M29 54h1M31 54h1M34 54h2M48 54h1M53 54h1M70 54h1M9 55h1M12 55h1M32 55h1M34 55h1M53 55h1M57 55h1M9 56h1M33 56h1M38 56h1M40 56h3M46 56h1M52 56h2M9 57h1M35 57h1M39 57h1M41 57h2M44 57h1M48 57h2M61 57h1M76 57h1M3 58h1M7 58h1M37 58h1M39 58h2M44 58h1M46 58h1M49 58h1M52 58h1M56 58h1M62 58h2M4 59h1M6 59h1M37 59h1M40 59h1M42 59h2M47 59h1M50 59h1M52 59h2M56 59h1M60 59h1M2 60h1M37 60h1M39 60h1M42 60h2M47 60h1M49 60h1M55 60h3M63 60h2M69 60h1M36 61h2M39 61h1M41 61h1M44 61h1M46 61h5M53 61h3M57 61h1M59 61h2M65 61h1M6 62h2M36 62h1M40 62h2M54 62h1M56 62h1M58 62h2M72 62h1M5 63h1M7 63h1M34 63h1M37 63h1M43 63h1M45 63h1M48 63h1M50 63h5M58 63h1M61 63h1M70 63h1M4 64h1M8 64h1M33 64h3M38 64h2M43 64h1M47 64h2M4 65h2M7 65h3M33 65h4M40 65h2M46 65h1M48 65h1M51 65h1M54 65h1M61 65h2M72 65h1M8 66h4M13 66h1M26 66h1M30 66h3M34 66h1M36 66h1M44 66h1M46 66h2M52 66h1M54 66h1M57 66h2M64 66h1M14 67h1M17 67h2M20 67h3M24 67h2M28 67h1M31 67h2M34 67h1M38 67h2M45 67h1M48 67h1M53 67h1M58 67h1M11 68h1M28 68h1M37 68h1M45 68h1M50 68h2M53 68h1M12 69h1M39 69h1M42 69h1M45 69h1M60 69h1M62 71h1M16 72h1" stroke="#5866e2" stroke-opacity="0.65"/>
<path d="M48 26h3M48 27h4M54 27h2M47 28h8M45 29h10M44 30h5M50 30h5M49 31h5M49 32h5M49 33h1M51 33h2M18 53h2M16 54h1M18 54h5M24 54h4M13 55h2M16 55h1M29 55h3M11 56h2M32 56h1M11 57h1M32 57h2M10 58h1M33 58h3M8 59h2M32 59h4M7 60h2M32 60h4M8 61h2M32 61h2M8 62h3M31 62h1M33 62h2M8 63h1M10 63h2M30 63h4M11 64h1M29 64h3M10 65h3M25 65h4M30 65h1M15 66h2M19 66h6M28 66h1" stroke="#3c4ad4" stroke-opacity="0.9"/>
<path d="M17 55h10M28 55h1M13 56h5M26 56h5M12 57h3M28 57h4M11 58h2M29 58h3M10 59h2M30 59h2M9 60h3M30 60h2M10 61h2M29 61h3M11 62h2M28 62h3M12 63h2M26 63h4M12 64h4M24 64h5M14 65h5M20 65h5" stroke="#2434b4"/>
<path d="M18 56h8M15 57h3M25 57h3M13 58h3M27 58h2M12 59h2M28 59h2M12 60h2M28 60h2M12 61h2M27 61h2M13 62h2M26 62h2M14 63h4M24 63h2M16 64h8" stroke="#1c2e9e"/>
<path d="M18 57h3M23 57h2M16 58h1M25 58h2M14 59h1M26 59h2M14 60h1M27 60h1M14 61h1M26 61h1M15 62h1M25 62h1M18 63h6" stroke="#1d50b4"/>
<path d="M21 57h2M17 58h1M24 58h1M15 59h1M25 59h1M15 60h1M26 60h1M15 61h1M25 61h1M16 62h2M24 62h1" stroke="#1c98c0"/>
<path d="M18 58h3M23 58h1M16 59h1M24 59h1M16 60h1M25 60h1M16 61h1M24 61h1M18 62h6" stroke="#30c090"/>
<path d="M21 58h2M17 59h2M23 59h1M17 60h1M24 60h1M17 61h2M23 61h1" stroke="#90d848"/>
<path d="M19 59h4M18 60h2M22 60h2M19 61h4" stroke="#e0dc38"/>
<path d="M20 60h2" stroke="#f0a030"/>
</g></svg>
<rect x="268.5" y="714.7" width="87.3" height="87.6" fill="none" stroke="#333" stroke-width="0.75"/>
<line x1="304.8" y1="714.7" x2="304.8" y2="802.3" stroke="#333" stroke-width="0.75"/>
<line x1="268.5" y1="765.6" x2="355.8" y2="765.6" stroke="#333" stroke-width="0.75"/>
<text x="270.8" y="720.59" font-size="4.6" fill="#111">Q1-UL(3.40%)</text>
<text x="354.2" y="720.59" font-size="4.6" text-anchor="end" fill="#111">Q1-UR(8.16%)</text>
<text x="270.8" y="800.29" font-size="4.6" fill="#111">Q1-LL(84.36%)</text>
<text x="354.2" y="800.29" font-size="4.6" text-anchor="end" fill="#111">Q1-LR(4.06%)</text>
<text x="350.5" y="736.62" font-size="10.2" font-weight="bold" font-style="italic" text-anchor="end" fill="#E0322E">12.21%</text>
<line x1="266.7" y1="802.3" x2="268.5" y2="802.3" stroke="#333" stroke-width="0.5"/>
<text transform="translate(264.9 801.1) rotate(-90)" font-size="4.3" text-anchor="middle" fill="#222">10<tspan font-size="2.9" dy="-1.5">2</tspan></text>
<line x1="266.7" y1="780.4" x2="268.5" y2="780.4" stroke="#333" stroke-width="0.5"/>
<text transform="translate(264.9 780.4) rotate(-90)" font-size="4.3" text-anchor="middle" fill="#222">10<tspan font-size="2.9" dy="-1.5">3</tspan></text>
<line x1="266.7" y1="758.5" x2="268.5" y2="758.5" stroke="#333" stroke-width="0.5"/>
<text transform="translate(264.9 758.5) rotate(-90)" font-size="4.3" text-anchor="middle" fill="#222">10<tspan font-size="2.9" dy="-1.5">4</tspan></text>
<line x1="266.7" y1="736.6" x2="268.5" y2="736.6" stroke="#333" stroke-width="0.5"/>
<text transform="translate(264.9 736.6) rotate(-90)" font-size="4.3" text-anchor="middle" fill="#222">10<tspan font-size="2.9" dy="-1.5">5</tspan></text>
<line x1="283.9" y1="802.3" x2="283.9" y2="804.1" stroke="#333" stroke-width="0.5"/>
<text x="284.5" y="809.2" font-size="4.3" text-anchor="middle" fill="#222">10<tspan font-size="2.9" dy="-1.5">3</tspan></text>
<line x1="305.3" y1="802.3" x2="305.3" y2="804.1" stroke="#333" stroke-width="0.5"/>
<text x="305.9" y="809.2" font-size="4.3" text-anchor="middle" fill="#222">10<tspan font-size="2.9" dy="-1.5">4</tspan></text>
<line x1="326.7" y1="802.3" x2="326.7" y2="804.1" stroke="#333" stroke-width="0.5"/>
<text x="327.3" y="809.2" font-size="4.3" text-anchor="middle" fill="#222">10<tspan font-size="2.9" dy="-1.5">5</tspan></text>
<line x1="348.1" y1="802.3" x2="348.1" y2="804.1" stroke="#333" stroke-width="0.5"/>
<text x="348.7" y="809.2" font-size="4.3" text-anchor="middle" fill="#222">10<tspan font-size="2.9" dy="-1.5">6</tspan></text>
<path d="M268.94 802.3v1M272.71 802.3v1M275.38 802.3v1M277.46 802.3v1M279.15 802.3v1M280.59 802.3v1M281.83 802.3v1M282.92 802.3v1M290.34 802.3v1M268.5 795.71h-1M294.11 802.3v1M268.5 791.85h-1M296.78 802.3v1M268.5 789.11h-1M298.86 802.3v1M268.5 786.99h-1M300.55 802.3v1M268.5 785.26h-1M301.99 802.3v1M268.5 783.79h-1M303.23 802.3v1M268.5 782.52h-1M304.32 802.3v1M268.5 781.4h-1M311.74 802.3v1M268.5 773.81h-1M315.51 802.3v1M268.5 769.95h-1M318.18 802.3v1M268.5 767.21h-1M320.26 802.3v1M268.5 765.09h-1M321.95 802.3v1M268.5 763.36h-1M323.39 802.3v1M268.5 761.89h-1M324.63 802.3v1M268.5 760.62h-1M325.72 802.3v1M268.5 759.5h-1M333.14 802.3v1M268.5 751.91h-1M336.91 802.3v1M268.5 748.05h-1M339.58 802.3v1M268.5 745.31h-1M341.66 802.3v1M268.5 743.19h-1M343.35 802.3v1M268.5 741.46h-1M344.79 802.3v1M268.5 739.99h-1M346.03 802.3v1M268.5 738.72h-1M347.12 802.3v1M268.5 737.6h-1M354.54 802.3v1M268.5 730.01h-1M268.5 726.15h-1M268.5 723.41h-1M268.5 721.29h-1M268.5 719.56h-1M268.5 718.09h-1M268.5 716.82h-1M268.5 715.7h-1" stroke="#555" stroke-width="0.4"/>
<text x="92.25" y="829.1" font-size="8.3" font-weight="bold" font-style="italic" text-anchor="middle" fill="#111">2 μg 27-HC</text>
<svg x="53" y="833.2" width="87" height="87" viewBox="0 0 87 87" preserveAspectRatio="none">
<g transform="translate(0 0.5)" stroke-width="1" filter="url(#blurf)">
<path d="M69 10h1M54 16h1M43 18h1M67 18h1M53 19h1M38 21h1M46 21h1M55 21h1M59 21h1M47 22h1M49 22h1M59 22h1M62 22h1M66 22h1M71 22h1M44 23h1M46 23h1M49 23h1M51 23h2M55 23h1M58 23h1M60 23h1M66 23h1M68 23h1M19 24h1M41 24h1M47 24h1M49 24h1M57 24h1M59 24h1M61 24h1M63 24h3M79 24h1M18 25h1M40 25h2M43 25h1M68 25h1M22 26h1M34 26h1M41 26h4M60 26h1M63 26h2M66 26h1M68 26h1M41 27h2M64 27h1M66 27h2M69 27h1M18 28h1M25 28h1M29 28h1M34 28h2M38 28h2M41 28h1M44 28h1M61 28h1M68 28h1M73 28h1M26 29h1M33 29h1M39 29h3M62 29h1M65 29h1M68 29h1M70 29h1M22 30h1M30 30h1M39 30h1M41 30h2M61 30h2M66 30h1M25 31h1M38 31h2M43 31h1M59 31h1M63 31h1M65 31h1M67 31h1M69 31h1M85 31h1M13 32h1M23 32h1M26 32h1M29 32h1M34 32h1M37 32h1M42 32h2M45 32h1M62 32h2M66 32h2M80 32h1M20 33h1M27 33h1M32 33h1M41 33h2M45 33h1M47 33h1M49 33h1M58 33h1M66 33h1M79 33h1M21 34h1M35 34h1M37 34h1M39 34h3M45 34h1M47 34h1M49 34h1M53 34h1M56 34h1M58 34h4M64 34h1M70 34h1M15 35h1M33 35h2M44 35h1M49 35h1M51 35h1M53 35h1M55 35h1M60 35h1M16 36h1M20 36h1M23 36h1M29 36h1M31 36h1M48 36h1M50 36h3M56 36h1M58 36h1M66 36h1M76 36h1M10 37h1M21 37h1M33 37h1M51 37h2M54 37h2M59 37h1M61 37h2M70 37h1M72 37h1M10 38h1M18 38h1M27 38h1M32 38h1M35 38h1M43 38h1M49 38h1M60 38h1M27 39h2M54 39h1M63 39h1M65 39h1M23 40h1M36 40h1M38 40h1M55 40h1M63 40h1M65 40h1M16 41h1M25 41h1M34 41h1M37 41h1M50 41h1M52 41h1M58 41h1M62 41h1M73 41h1M81 41h1M53 42h1M55 42h3M78 42h1M1 43h1M19 43h1M22 43h1M34 43h1M38 43h1M40 43h1M60 43h1M67 43h1M75 43h1M15 44h1M22 44h1M24 44h1M32 44h1M37 44h1M46 44h1M51 44h1M60 44h1M62 44h1M68 44h1M24 45h1M26 45h1M31 45h1M35 45h1M52 45h1M59 45h1M65 45h1M39 46h1M43 46h1M48 46h1M15 47h2M21 47h1M23 47h1M39 47h1M56 47h1M19 48h1M22 48h1M52 48h1M68 48h1M4 49h1M49 49h1M51 49h1M66 49h1M17 50h1M22 50h1M25 50h1M38 50h1M8 51h1M15 51h2M26 51h1M54 51h1M60 51h1M24 52h1M32 52h1M37 52h1M45 52h1M14 53h1M16 53h1M20 53h1M23 53h1M25 53h1M27 53h1M33 53h2M41 53h2M50 53h1M53 53h1M64 53h1M12 54h1M15 54h1M30 54h1M34 54h1M36 54h2M39 54h1M43 54h1M52 54h1M56 54h1M68 54h1M8 55h1M33 55h1M35 55h2M40 55h1M52 55h1M55 55h1M10 56h1M40 56h1M42 56h1M44 56h1M48 56h1M60 56h1M64 56h1M69 56h1M38 57h1M40 57h1M43 57h1M47 57h1M62 57h1M41 58h1M43 58h3M47 58h1M52 58h3M57 58h1M59 58h1M63 58h1M41 59h3M45 59h1M47 59h1M50 59h3M54 59h1M56 59h1M61 59h1M68 59h1M80 59h1M6 60h1M8 60h1M47 60h2M50 60h1M53 60h3M59 60h1M63 60h1M7 61h1M42 61h1M44 61h2M47 61h1M49 61h1M51 61h2M55 61h3M60 61h1M8 62h1M42 62h1M45 62h1M47 62h1M49 62h3M53 62h1M61 62h2M64 62h1M1 63h1M6 63h1M8 63h1M43 63h1M48 63h1M50 63h1M53 63h1M60 63h1M62 63h1M65 63h1M70 63h1M75 63h1M77 63h1M4 64h1M6 64h1M9 64h1M38 64h1M42 64h1M44 64h2M48 64h4M53 64h1M57 64h4M66 64h1M69 64h2M10 65h1M35 65h3M40 65h1M42 65h1M46 65h3M53 65h1M56 65h2M29 66h1M35 66h1M37 66h1M41 66h3M49 66h3M56 66h2M59 66h1M66 66h1M10 67h1M13 67h2M28 67h1M36 67h2M39 67h1M41 67h1M44 67h2M49 67h1M52 67h2M60 67h1M62 67h1M17 68h1M19 68h2M29 68h1M45 68h1M47 68h2M51 68h1M69 68h1M27 69h1M47 69h1M51 69h1M61 69h1M62 70h1M47 71h1M24 72h1M43 72h1" stroke="#5866e2" stroke-opacity="0.65"/>
<path d="M45 23h1M53 23h2M45 24h2M50 24h1M53 24h4M45 25h2M50 25h7M58 25h2M45 26h4M52 26h3M56 26h2M59 26h1M46 27h3M51 27h1M53 27h1M55 27h2M58 27h1M45 28h6M52 28h1M56 28h3M60 28h1M45 29h3M49 29h4M56 29h1M58 29h3M44 30h4M50 30h3M56 30h5M45 31h1M48 31h4M56 31h2M48 32h1M50 32h4M55 32h2M51 33h4M56 33h1M52 34h1M16 54h3M22 54h1M24 54h3M28 54h1M15 55h1M29 55h1M31 55h1M14 56h1M31 56h1M33 56h1M12 57h2M32 57h4M11 58h1M34 58h2M37 58h4M10 59h1M35 59h6M10 60h1M35 60h4M40 60h1M46 60h1M9 61h1M35 61h6M9 62h2M34 62h7M9 63h2M32 63h4M39 63h3M49 63h1M10 64h3M30 64h5M39 64h3M11 65h1M13 65h2M28 65h2M31 65h2M41 65h1M15 66h4M20 66h1M22 66h2M25 66h1M27 66h1M22 67h1" stroke="#3c4ad4" stroke-opacity="0.9"/>
<path d="M49 26h3M49 27h2M53 28h3M53 29h3M48 30h2M53 30h3M53 31h3M17 55h12M16 56h2M28 56h3M15 57h1M29 57h3M12 58h3M31 58h3M11 59h3M31 59h4M11 60h2M31 60h4M10 61h3M31 61h4M11 62h3M31 62h1M33 62h1M11 63h4M29 63h3M13 64h4M26 64h3M15 65h13" stroke="#2434b4"/>
<path d="M18 56h10M16 57h3M27 57h2M15 58h2M28 58h3M14 59h2M29 59h2M13 60h2M29 60h2M13 61h3M29 61h2M14 62h2M28 62h3M15 63h3M26 63h3M17 64h9" stroke="#1c2e9e"/>
<path d="M19 57h8M17 58h1M27 58h1M16 59h1M28 59h1M15 60h1M28 60h1M28 61h1M16 62h1M26 62h2M18 63h5M24 63h2" stroke="#1d50b4"/>
<path d="M18 58h3M26 58h1M17 59h1M27 59h1M16 60h1M27 60h1M16 61h1M27 61h1M17 62h1M25 62h1M23 63h1" stroke="#1c98c0"/>
<path d="M21 58h5M18 59h1M26 59h1M17 60h1M26 60h1M17 61h1M25 61h2M18 62h3M24 62h1" stroke="#30c090"/>
<path d="M19 59h3M24 59h2M18 60h1M25 60h1M18 61h1M24 61h1M21 62h3" stroke="#90d848"/>
<path d="M22 59h2M19 60h3M24 60h1M19 61h5" stroke="#e0dc38"/>
<path d="M22 60h2" stroke="#f0a030"/>
</g></svg>
<rect x="53" y="833.2" width="87.3" height="87.6" fill="none" stroke="#333" stroke-width="0.75"/>
<line x1="89.3" y1="833.2" x2="89.3" y2="920.8" stroke="#333" stroke-width="0.75"/>
<line x1="53" y1="884.1" x2="140.3" y2="884.1" stroke="#333" stroke-width="0.75"/>
<text x="55.3" y="839.09" font-size="4.6" fill="#111">Q1-UL(2.57%)</text>
<text x="138.7" y="839.09" font-size="4.6" text-anchor="end" fill="#111">Q1-UR(15.05%)</text>
<text x="55.3" y="918.79" font-size="4.6" fill="#111">Q1-LL(75.47%)</text>
<text x="138.7" y="918.79" font-size="4.6" text-anchor="end" fill="#111">Q1-LR(6.96%)</text>
<text x="135" y="855.12" font-size="10.2" font-weight="bold" font-style="italic" text-anchor="end" fill="#E0322E">22.01%</text>
<line x1="51.2" y1="920.8" x2="53" y2="920.8" stroke="#333" stroke-width="0.5"/>
<text transform="translate(49.4 919.6) rotate(-90)" font-size="4.3" text-anchor="middle" fill="#222">10<tspan font-size="2.9" dy="-1.5">2</tspan></text>
<line x1="51.2" y1="898.9" x2="53" y2="898.9" stroke="#333" stroke-width="0.5"/>
<text transform="translate(49.4 898.9) rotate(-90)" font-size="4.3" text-anchor="middle" fill="#222">10<tspan font-size="2.9" dy="-1.5">3</tspan></text>
<line x1="51.2" y1="877" x2="53" y2="877" stroke="#333" stroke-width="0.5"/>
<text transform="translate(49.4 877) rotate(-90)" font-size="4.3" text-anchor="middle" fill="#222">10<tspan font-size="2.9" dy="-1.5">4</tspan></text>
<line x1="51.2" y1="855.1" x2="53" y2="855.1" stroke="#333" stroke-width="0.5"/>
<text transform="translate(49.4 855.1) rotate(-90)" font-size="4.3" text-anchor="middle" fill="#222">10<tspan font-size="2.9" dy="-1.5">5</tspan></text>
<line x1="68.4" y1="920.8" x2="68.4" y2="922.6" stroke="#333" stroke-width="0.5"/>
<text x="69" y="927.7" font-size="4.3" text-anchor="middle" fill="#222">10<tspan font-size="2.9" dy="-1.5">3</tspan></text>
<line x1="89.8" y1="920.8" x2="89.8" y2="922.6" stroke="#333" stroke-width="0.5"/>
<text x="90.4" y="927.7" font-size="4.3" text-anchor="middle" fill="#222">10<tspan font-size="2.9" dy="-1.5">4</tspan></text>
<line x1="111.2" y1="920.8" x2="111.2" y2="922.6" stroke="#333" stroke-width="0.5"/>
<text x="111.8" y="927.7" font-size="4.3" text-anchor="middle" fill="#222">10<tspan font-size="2.9" dy="-1.5">5</tspan></text>
<line x1="132.6" y1="920.8" x2="132.6" y2="922.6" stroke="#333" stroke-width="0.5"/>
<text x="133.2" y="927.7" font-size="4.3" text-anchor="middle" fill="#222">10<tspan font-size="2.9" dy="-1.5">6</tspan></text>
<path d="M53.44 920.8v1M57.21 920.8v1M59.88 920.8v1M61.96 920.8v1M63.65 920.8v1M65.09 920.8v1M66.33 920.8v1M67.42 920.8v1M74.84 920.8v1M53 914.21h-1M78.61 920.8v1M53 910.35h-1M81.28 920.8v1M53 907.61h-1M83.36 920.8v1M53 905.49h-1M85.05 920.8v1M53 903.76h-1M86.49 920.8v1M53 902.29h-1M87.73 920.8v1M53 901.02h-1M88.82 920.8v1M53 899.9h-1M96.24 920.8v1M53 892.31h-1M100.01 920.8v1M53 888.45h-1M102.68 920.8v1M53 885.71h-1M104.76 920.8v1M53 883.59h-1M106.45 920.8v1M53 881.86h-1M107.89 920.8v1M53 880.39h-1M109.13 920.8v1M53 879.12h-1M110.22 920.8v1M53 878h-1M117.64 920.8v1M53 870.41h-1M121.41 920.8v1M53 866.55h-1M124.08 920.8v1M53 863.81h-1M126.16 920.8v1M53 861.69h-1M127.85 920.8v1M53 859.96h-1M129.29 920.8v1M53 858.49h-1M130.53 920.8v1M53 857.22h-1M131.62 920.8v1M53 856.1h-1M139.04 920.8v1M53 848.51h-1M53 844.65h-1M53 841.91h-1M53 839.79h-1M53 838.06h-1M53 836.59h-1M53 835.32h-1M53 834.2h-1" stroke="#555" stroke-width="0.4"/>
<text x="200.05" y="829.1" font-size="8.3" font-weight="bold" font-style="italic" text-anchor="middle" fill="#111">2.5 μg 27-HC</text>
<svg x="160.8" y="833.2" width="87" height="87" viewBox="0 0 87 87" preserveAspectRatio="none">
<g transform="translate(0 0.5)" stroke-width="1" filter="url(#blurf)">
<path d="M72 13h1M47 16h1M31 18h1M53 19h1M57 19h1M61 19h1M36 20h1M45 20h1M51 20h1M61 20h1M63 20h1M72 20h1M11 21h1M41 21h1M49 21h1M52 21h1M55 21h1M58 21h1M65 21h1M70 21h1M41 22h2M46 22h3M55 22h1M58 22h1M61 22h1M63 22h1M29 23h1M36 23h2M39 23h1M56 23h1M60 23h1M68 23h1M71 23h1M35 24h1M61 24h1M64 24h2M68 24h1M23 25h1M30 25h1M35 25h1M39 25h2M61 25h1M72 25h1M79 25h1M28 26h1M35 26h1M39 26h1M62 26h1M65 26h1M68 26h1M29 27h1M37 27h1M39 27h1M70 27h2M37 28h1M39 28h1M65 28h1M69 28h1M74 28h1M21 29h1M26 29h1M31 29h1M65 29h1M69 29h1M71 29h2M76 29h1M25 30h1M29 30h1M35 30h1M37 30h1M39 30h1M67 30h1M12 31h1M26 31h2M29 31h1M31 31h1M33 31h1M39 31h2M62 31h1M64 31h2M70 31h1M16 32h1M26 32h1M31 32h1M34 32h1M36 32h2M42 32h1M63 32h2M66 32h1M70 32h1M35 33h2M39 33h1M41 33h2M61 33h2M64 33h4M24 34h1M31 34h1M34 34h2M37 34h1M39 34h1M57 34h1M59 34h2M63 34h2M69 34h2M73 34h1M19 35h1M23 35h1M28 35h1M32 35h1M37 35h2M44 35h4M53 35h1M55 35h1M57 35h1M68 35h1M5 36h1M16 36h2M22 36h2M25 36h1M28 36h1M41 36h1M45 36h1M48 36h1M59 36h1M66 36h1M70 36h1M78 36h1M17 37h1M20 37h2M28 37h1M38 37h1M43 37h1M53 37h1M73 37h1M15 38h1M22 38h1M29 38h2M36 38h1M45 38h2M49 38h1M51 38h1M53 38h3M61 38h2M66 38h1M11 39h1M18 39h2M22 39h1M24 39h2M30 39h1M32 39h1M35 39h1M45 39h1M47 39h1M50 39h1M52 39h1M54 39h1M68 39h1M70 39h1M16 40h1M25 40h2M31 40h1M37 40h3M45 40h1M47 40h1M49 40h1M54 40h3M64 40h1M15 41h1M21 41h1M23 41h1M25 41h1M34 41h1M39 41h1M41 41h2M45 41h1M49 41h1M55 41h1M63 41h2M67 41h1M12 42h1M16 42h1M24 42h1M36 42h2M43 42h1M45 42h1M47 42h2M50 42h2M61 42h1M21 43h2M24 43h1M26 43h1M30 43h1M37 43h2M46 43h1M50 43h1M1 44h1M17 44h1M21 44h2M39 44h1M47 44h1M10 45h1M13 45h1M15 45h1M18 45h1M20 45h2M30 45h1M38 45h1M53 45h1M68 45h1M77 45h1M15 46h2M35 46h1M57 46h2M13 47h1M16 47h1M19 47h1M22 47h1M25 47h1M34 47h1M56 47h1M12 48h1M19 48h1M21 48h1M25 48h1M29 48h1M35 48h1M47 48h1M51 48h1M59 48h1M7 49h1M20 49h1M22 49h1M28 49h1M30 49h1M34 49h1M14 50h1M16 50h2M20 50h1M22 50h1M25 50h2M55 50h1M67 50h1M24 51h1M61 51h1M69 51h1M7 52h1M12 52h2M23 52h1M25 52h1M32 52h1M47 52h1M8 53h1M11 53h1M19 53h1M22 53h1M24 53h3M31 53h1M69 53h1M31 54h1M33 54h1M36 54h1M38 54h1M40 54h1M46 54h1M48 54h1M50 54h1M56 54h1M60 54h1M5 55h1M12 55h1M32 55h1M34 55h3M40 55h1M43 55h2M49 55h2M36 56h1M42 56h1M48 56h1M50 56h1M55 56h1M59 56h2M4 57h1M7 57h1M41 57h1M45 57h1M52 57h2M55 57h1M58 57h2M71 57h1M38 58h1M41 58h1M43 58h1M47 58h1M52 58h1M54 58h1M58 58h1M65 58h1M68 58h1M6 59h1M38 59h1M41 59h1M44 59h1M46 59h1M50 59h1M58 59h1M60 59h1M67 59h1M1 60h1M39 60h3M43 60h1M45 60h4M56 60h3M60 60h1M63 60h1M43 61h2M46 61h1M49 61h1M55 61h1M68 61h1M4 62h1M46 62h1M56 62h2M61 62h1M63 62h1M66 62h1M4 63h1M7 63h1M45 63h2M49 63h2M53 63h2M57 63h1M59 63h1M61 63h2M66 63h1M8 64h1M44 64h1M47 64h2M50 64h1M53 64h1M56 64h1M58 64h1M60 64h3M64 64h1M6 65h1M9 65h1M38 65h1M40 65h2M43 65h1M46 65h1M48 65h1M50 65h3M54 65h1M58 65h3M67 65h1M14 66h1M28 66h1M31 66h1M36 66h3M42 66h1M44 66h1M49 66h2M55 66h4M61 66h1M65 66h1M8 67h1M22 67h1M25 67h2M29 67h1M31 67h1M36 67h2M39 67h1M41 67h2M53 67h1M65 67h2M74 67h1M26 68h1M38 68h2M43 68h1M54 68h1M59 68h2M71 68h1M18 69h1M21 69h1M26 69h1M30 69h1M39 69h1M45 69h1M51 69h1M55 69h1M38 70h1M46 70h1M56 70h1M39 71h1M51 71h1M53 71h1M77 72h1M49 74h1" stroke="#5866e2" stroke-opacity="0.65"/>
<path d="M52 22h1M59 22h1M43 23h2M47 23h7M59 23h1M43 24h4M48 24h6M56 24h4M43 25h3M47 25h1M49 25h11M40 26h3M44 26h6M51 26h8M60 26h2M41 27h3M45 27h2M51 27h3M56 27h2M59 27h2M62 27h1M40 28h6M53 28h1M58 28h2M61 28h1M63 28h2M40 29h6M50 29h1M52 29h1M57 29h8M40 30h3M44 30h6M51 30h1M55 30h6M62 30h1M41 31h1M43 31h1M45 31h9M55 31h4M60 31h1M43 32h2M48 32h6M55 32h3M59 32h1M43 33h3M48 33h4M53 33h3M57 33h2M45 34h1M47 34h1M49 34h4M54 34h2M48 35h4M15 54h3M19 54h6M26 54h1M28 54h1M29 55h1M12 56h1M30 56h4M9 57h1M11 57h1M33 57h1M35 57h2M8 58h2M32 58h4M37 58h1M53 58h1M8 59h1M33 59h3M37 59h1M42 59h1M51 59h1M7 60h3M33 60h4M50 60h5M9 61h1M33 61h2M37 61h3M50 61h5M8 62h2M33 62h1M35 62h5M42 62h2M8 63h3M31 63h2M34 63h11M11 64h1M29 64h3M33 64h3M39 64h2M42 64h2M12 65h4M28 65h1M31 65h2M34 65h1M15 66h1M17 66h1M19 66h9M32 66h2M32 67h3" stroke="#3c4ad4" stroke-opacity="0.9"/>
<path d="M50 26h1M47 27h4M54 27h2M46 28h5M54 28h3M46 29h4M53 29h4M53 30h2M16 55h13M14 56h3M25 56h5M12 57h3M29 57h2M10 58h3M30 58h2M10 59h2M32 59h1M10 60h2M31 60h1M10 61h2M30 61h3M10 62h2M28 62h4M11 63h2M27 63h4M12 64h1M14 64h2M25 64h4M16 65h12" stroke="#2434b4"/>
<path d="M17 56h8M15 57h3M24 57h5M13 58h2M28 58h2M12 59h2M29 59h2M12 60h1M28 60h3M12 61h1M27 61h3M12 62h2M26 62h2M13 63h3M24 63h3M16 64h9" stroke="#1c2e9e"/>
<path d="M18 57h6M15 58h2M26 58h2M14 59h1M27 59h2M13 60h2M27 60h1M13 61h1M26 61h1M14 62h1M25 62h1M16 63h3M23 63h1" stroke="#1d50b4"/>
<path d="M17 58h2M23 58h3M15 59h1M26 59h1M26 60h1M14 61h1M25 61h1M15 62h1M24 62h1M19 63h4" stroke="#1c98c0"/>
<path d="M19 58h4M16 59h2M25 59h1M15 60h1M25 60h1M15 61h1M16 62h3M22 62h2" stroke="#30c090"/>
<path d="M18 59h1M23 59h2M16 60h2M24 60h1M16 61h2M24 61h1M19 62h3" stroke="#90d848"/>
<path d="M19 59h4M18 60h1M23 60h1M18 61h6" stroke="#e0dc38"/>
<path d="M19 60h4" stroke="#f0a030"/>
</g></svg>
<rect x="160.8" y="833.2" width="87.3" height="87.6" fill="none" stroke="#333" stroke-width="0.75"/>
<line x1="197.1" y1="833.2" x2="197.1" y2="920.8" stroke="#333" stroke-width="0.75"/>
<line x1="160.8" y1="884.1" x2="248.1" y2="884.1" stroke="#333" stroke-width="0.75"/>
<text x="163.1" y="839.09" font-size="4.6" fill="#111">Q1-UL(3.96%)</text>
<text x="246.5" y="839.09" font-size="4.6" text-anchor="end" fill="#111">Q1-UR(19.01%)</text>
<text x="163.1" y="918.79" font-size="4.6" fill="#111">Q1-LL(80.69%)</text>
<text x="246.5" y="918.79" font-size="4.6" text-anchor="end" fill="#111">Q1-LR(7.34%)</text>
<text x="242.8" y="855.12" font-size="10.2" font-weight="bold" font-style="italic" text-anchor="end" fill="#E0322E">26.35%</text>
<line x1="159" y1="920.8" x2="160.8" y2="920.8" stroke="#333" stroke-width="0.5"/>
<text transform="translate(157.2 919.6) rotate(-90)" font-size="4.3" text-anchor="middle" fill="#222">10<tspan font-size="2.9" dy="-1.5">2</tspan></text>
<line x1="159" y1="898.9" x2="160.8" y2="898.9" stroke="#333" stroke-width="0.5"/>
<text transform="translate(157.2 898.9) rotate(-90)" font-size="4.3" text-anchor="middle" fill="#222">10<tspan font-size="2.9" dy="-1.5">3</tspan></text>
<line x1="159" y1="877" x2="160.8" y2="877" stroke="#333" stroke-width="0.5"/>
<text transform="translate(157.2 877) rotate(-90)" font-size="4.3" text-anchor="middle" fill="#222">10<tspan font-size="2.9" dy="-1.5">4</tspan></text>
<line x1="159" y1="855.1" x2="160.8" y2="855.1" stroke="#333" stroke-width="0.5"/>
<text transform="translate(157.2 855.1) rotate(-90)" font-size="4.3" text-anchor="middle" fill="#222">10<tspan font-size="2.9" dy="-1.5">5</tspan></text>
<line x1="176.2" y1="920.8" x2="176.2" y2="922.6" stroke="#333" stroke-width="0.5"/>
<text x="176.8" y="927.7" font-size="4.3" text-anchor="middle" fill="#222">10<tspan font-size="2.9" dy="-1.5">3</tspan></text>
<line x1="197.6" y1="920.8" x2="197.6" y2="922.6" stroke="#333" stroke-width="0.5"/>
<text x="198.2" y="927.7" font-size="4.3" text-anchor="middle" fill="#222">10<tspan font-size="2.9" dy="-1.5">4</tspan></text>
<line x1="219" y1="920.8" x2="219" y2="922.6" stroke="#333" stroke-width="0.5"/>
<text x="219.6" y="927.7" font-size="4.3" text-anchor="middle" fill="#222">10<tspan font-size="2.9" dy="-1.5">5</tspan></text>
<line x1="240.4" y1="920.8" x2="240.4" y2="922.6" stroke="#333" stroke-width="0.5"/>
<text x="241" y="927.7" font-size="4.3" text-anchor="middle" fill="#222">10<tspan font-size="2.9" dy="-1.5">6</tspan></text>
<path d="M161.24 920.8v1M165.01 920.8v1M167.68 920.8v1M169.76 920.8v1M171.45 920.8v1M172.89 920.8v1M174.13 920.8v1M175.22 920.8v1M182.64 920.8v1M160.8 914.21h-1M186.41 920.8v1M160.8 910.35h-1M189.08 920.8v1M160.8 907.61h-1M191.16 920.8v1M160.8 905.49h-1M192.85 920.8v1M160.8 903.76h-1M194.29 920.8v1M160.8 902.29h-1M195.53 920.8v1M160.8 901.02h-1M196.62 920.8v1M160.8 899.9h-1M204.04 920.8v1M160.8 892.31h-1M207.81 920.8v1M160.8 888.45h-1M210.48 920.8v1M160.8 885.71h-1M212.56 920.8v1M160.8 883.59h-1M214.25 920.8v1M160.8 881.86h-1M215.69 920.8v1M160.8 880.39h-1M216.93 920.8v1M160.8 879.12h-1M218.02 920.8v1M160.8 878h-1M225.44 920.8v1M160.8 870.41h-1M229.21 920.8v1M160.8 866.55h-1M231.88 920.8v1M160.8 863.81h-1M233.96 920.8v1M160.8 861.69h-1M235.65 920.8v1M160.8 859.96h-1M237.09 920.8v1M160.8 858.49h-1M238.33 920.8v1M160.8 857.22h-1M239.42 920.8v1M160.8 856.1h-1M246.84 920.8v1M160.8 848.51h-1M160.8 844.65h-1M160.8 841.91h-1M160.8 839.79h-1M160.8 838.06h-1M160.8 836.59h-1M160.8 835.32h-1M160.8 834.2h-1" stroke="#555" stroke-width="0.4"/>
<text x="307.75" y="829.1" font-size="8.3" font-weight="bold" font-style="italic" text-anchor="middle" fill="#111">3 μg 27-HC</text>
<svg x="268.5" y="833.2" width="87" height="87" viewBox="0 0 87 87" preserveAspectRatio="none">
<g transform="translate(0 0.5)" stroke-width="1" filter="url(#blurf)">
<path d="M45 12h1M32 16h1M46 16h1M29 18h1M53 19h1M55 19h1M38 20h1M40 21h3M44 21h1M54 21h1M62 21h1M32 22h1M42 22h1M45 22h1M51 22h1M55 22h1M39 23h1M42 23h1M52 23h1M35 24h1M38 24h1M53 24h1M25 25h1M34 25h2M37 25h1M57 25h2M20 26h2M29 26h1M34 26h1M61 26h1M65 26h1M30 27h1M33 27h1M24 28h1M28 28h2M31 28h1M22 29h1M25 29h1M29 29h1M61 29h2M26 30h1M28 30h2M80 30h1M11 31h1M30 31h1M61 31h2M30 32h2M60 32h1M64 32h1M18 33h1M26 33h2M30 33h2M64 33h1M66 33h2M23 34h2M29 34h1M60 34h1M63 34h1M68 34h1M23 35h1M27 35h1M30 35h1M58 35h1M60 35h1M10 36h1M15 36h2M18 36h1M26 36h1M28 36h1M30 36h1M56 36h1M60 36h1M63 36h1M17 37h1M22 37h2M26 37h2M32 37h1M53 37h1M55 37h2M68 37h1M73 37h1M21 38h2M26 38h1M28 38h1M31 38h1M35 38h1M47 38h2M51 38h1M54 38h1M57 38h1M60 38h1M24 39h1M26 39h1M31 39h1M36 39h3M40 39h1M42 39h1M47 39h3M51 39h1M56 39h2M60 39h1M6 40h1M21 40h1M24 40h1M29 40h1M31 40h1M33 40h1M40 40h1M43 40h1M45 40h2M48 40h1M52 40h1M56 40h3M61 40h1M11 41h1M14 41h1M17 41h1M22 41h1M25 41h2M28 41h1M33 41h7M43 41h2M46 41h3M51 41h2M57 41h1M59 41h1M23 42h2M27 42h1M31 42h3M37 42h1M39 42h2M48 42h2M52 42h1M58 42h1M62 42h1M70 42h1M17 43h1M30 43h2M33 43h3M37 43h1M41 43h1M43 43h7M57 43h1M14 44h1M18 44h1M21 44h1M24 44h1M29 44h1M35 44h2M45 44h2M49 44h1M57 44h1M16 45h1M19 45h1M23 45h1M25 45h2M33 45h1M35 45h1M38 45h1M40 45h1M42 45h1M50 45h1M18 46h1M26 46h1M29 46h1M31 46h2M44 46h1M48 46h1M54 46h2M59 46h1M66 46h1M20 47h1M26 47h1M28 47h2M36 47h1M38 47h1M40 47h1M48 47h1M19 48h2M23 48h1M32 48h1M41 48h1M63 48h1M19 49h1M29 49h2M16 50h1M18 50h1M20 50h1M23 50h1M26 50h1M35 50h1M38 50h1M41 50h1M60 50h1M16 51h1M26 51h1M30 51h3M40 51h3M20 52h1M24 52h1M36 52h1M53 52h2M63 52h1M5 53h1M13 53h3M17 53h1M20 53h1M22 53h1M34 53h1M43 53h1M48 53h1M57 53h1M13 54h1M28 54h1M31 54h1M33 54h1M36 54h1M39 54h2M46 54h2M57 54h1M12 55h1M29 55h1M33 55h1M37 55h1M45 55h1M48 55h1M7 56h1M9 56h2M36 56h1M40 56h1M42 56h2M46 56h2M49 56h1M35 57h1M39 57h3M44 57h1M46 57h1M48 57h3M52 57h1M57 57h1M59 57h1M6 58h1M39 58h2M43 58h2M48 58h3M57 58h1M41 59h3M47 59h1M51 59h2M58 59h2M68 59h1M3 60h1M7 60h1M53 60h3M57 60h1M62 60h1M4 61h1M6 61h1M52 61h1M54 61h2M57 61h2M61 61h1M68 61h1M56 62h3M4 63h2M7 63h1M47 63h1M54 63h1M65 63h2M8 64h1M47 64h2M50 64h2M54 64h1M7 65h1M49 65h2M59 65h1M9 66h1M14 66h1M24 66h2M30 66h1M33 66h1M35 66h4M43 66h1M47 66h2M50 66h2M54 66h1M58 66h2M65 66h1M72 66h1M10 67h1M26 67h2M29 67h1M32 67h3M36 67h1M39 67h1M41 67h1M48 67h1M50 67h1M57 67h1M59 67h1M64 67h1M16 68h1M19 68h1M33 68h1M36 68h1M41 68h1M43 68h1M45 68h1M48 68h1M57 68h1M59 68h1M65 68h1M14 69h1M34 69h2M39 69h2M46 69h1M48 69h2M51 69h1M55 69h1M59 69h1M23 70h1M28 70h1M33 70h1M35 70h1M15 71h1M53 71h1" stroke="#5866e2" stroke-opacity="0.65"/>
<path d="M41 23h1M39 24h3M43 24h4M48 24h3M38 25h2M41 25h1M43 25h3M47 25h1M50 25h1M52 25h1M36 26h1M40 26h1M42 26h1M51 26h7M34 27h2M38 27h1M52 27h1M54 27h1M56 27h3M35 28h2M52 28h2M55 28h5M30 29h2M35 29h1M55 29h4M60 29h1M31 30h2M34 30h2M56 30h5M33 31h2M36 31h1M54 31h6M33 32h1M35 32h2M54 32h1M56 32h4M32 33h1M35 33h3M54 33h2M57 33h1M59 33h1M32 34h7M52 34h5M58 34h2M31 35h8M47 35h5M53 35h2M32 36h2M38 36h9M48 36h6M34 37h1M39 37h1M41 37h1M43 37h3M48 37h3M52 37h1M34 38h1M40 38h2M44 38h1M45 39h1M18 47h2M15 54h1M17 54h2M23 54h1M25 54h1M27 54h1M14 55h1M26 55h2M32 55h1M13 56h1M28 56h5M10 57h2M32 57h1M9 58h2M31 58h1M33 58h1M35 58h4M9 59h1M33 59h4M38 59h1M44 59h2M9 60h1M32 60h4M38 60h2M45 60h3M49 60h1M8 61h2M33 61h6M41 61h2M44 61h2M47 61h4M53 61h1M7 62h3M33 62h6M41 62h2M44 62h3M49 62h4M8 63h1M10 63h1M30 63h8M39 63h5M45 63h1M51 63h1M10 64h1M30 64h2M33 64h3M37 64h10M11 65h4M27 65h2M33 65h2M37 65h2M40 65h2M43 65h3M17 66h1M19 66h3M27 66h1M19 67h3" stroke="#3c4ad4" stroke-opacity="0.9"/>
<path d="M48 25h2M43 26h8M39 27h13M37 28h15M36 29h8M46 29h1M49 29h6M36 30h5M42 30h5M49 30h7M37 31h11M49 31h5M37 32h17M38 33h12M51 33h3M39 34h10M50 34h2M39 35h8M16 55h8M25 55h1M14 56h6M24 56h4M12 57h3M26 57h3M12 58h1M27 58h4M10 59h2M28 59h4M10 60h2M29 60h3M10 61h2M29 61h3M11 62h1M28 62h4M11 63h2M27 63h2M11 64h4M24 64h5M15 65h10" stroke="#2434b4"/>
<path d="M44 29h2M47 29h2M41 30h1M47 30h2M48 31h1M20 56h4M15 57h5M22 57h4M13 58h3M25 58h2M12 59h3M27 59h1M12 60h2M27 60h2M12 61h2M27 61h2M12 62h3M25 62h3M13 63h3M23 63h4M15 64h9" stroke="#1c2e9e"/>
<path d="M20 57h2M16 58h2M23 58h2M15 59h1M25 59h2M14 60h2M26 60h1M14 61h1M24 61h3M15 62h1M23 62h2M16 63h2M20 63h3" stroke="#1d50b4"/>
<path d="M18 58h5M16 59h1M23 59h2M24 60h2M15 61h1M23 61h1M16 62h1M22 62h1M18 63h2" stroke="#1c98c0"/>
<path d="M17 59h1M22 59h1M16 60h1M23 60h1M16 61h1M22 61h1M17 62h1M20 62h2" stroke="#30c090"/>
<path d="M18 59h1M20 59h2M17 60h1M22 60h1M17 61h1M21 61h1M18 62h2" stroke="#90d848"/>
<path d="M19 59h1M20 60h2M18 61h3" stroke="#e0dc38"/>
<path d="M18 60h2" stroke="#f0a030"/>
</g></svg>
<rect x="268.5" y="833.2" width="87.3" height="87.6" fill="none" stroke="#333" stroke-width="0.75"/>
<line x1="304.8" y1="833.2" x2="304.8" y2="920.8" stroke="#333" stroke-width="0.75"/>
<line x1="268.5" y1="884.1" x2="355.8" y2="884.1" stroke="#333" stroke-width="0.75"/>
<text x="270.8" y="839.09" font-size="4.6" fill="#111">Q1-UL(5.13%)</text>
<text x="354.2" y="839.09" font-size="4.6" text-anchor="end" fill="#111">Q1-UR(30.34%)</text>
<text x="270.8" y="918.79" font-size="4.6" fill="#111">Q1-LL(55.27%)</text>
<text x="354.2" y="918.79" font-size="4.6" text-anchor="end" fill="#111">Q1-LR(9.26%)</text>
<text x="350.5" y="855.12" font-size="10.2" font-weight="bold" font-style="italic" text-anchor="end" fill="#E0322E">39.60%</text>
<line x1="266.7" y1="920.8" x2="268.5" y2="920.8" stroke="#333" stroke-width="0.5"/>
<text transform="translate(264.9 919.6) rotate(-90)" font-size="4.3" text-anchor="middle" fill="#222">10<tspan font-size="2.9" dy="-1.5">2</tspan></text>
<line x1="266.7" y1="898.9" x2="268.5" y2="898.9" stroke="#333" stroke-width="0.5"/>
<text transform="translate(264.9 898.9) rotate(-90)" font-size="4.3" text-anchor="middle" fill="#222">10<tspan font-size="2.9" dy="-1.5">3</tspan></text>
<line x1="266.7" y1="877" x2="268.5" y2="877" stroke="#333" stroke-width="0.5"/>
<text transform="translate(264.9 877) rotate(-90)" font-size="4.3" text-anchor="middle" fill="#222">10<tspan font-size="2.9" dy="-1.5">4</tspan></text>
<line x1="266.7" y1="855.1" x2="268.5" y2="855.1" stroke="#333" stroke-width="0.5"/>
<text transform="translate(264.9 855.1) rotate(-90)" font-size="4.3" text-anchor="middle" fill="#222">10<tspan font-size="2.9" dy="-1.5">5</tspan></text>
<line x1="283.9" y1="920.8" x2="283.9" y2="922.6" stroke="#333" stroke-width="0.5"/>
<text x="284.5" y="927.7" font-size="4.3" text-anchor="middle" fill="#222">10<tspan font-size="2.9" dy="-1.5">3</tspan></text>
<line x1="305.3" y1="920.8" x2="305.3" y2="922.6" stroke="#333" stroke-width="0.5"/>
<text x="305.9" y="927.7" font-size="4.3" text-anchor="middle" fill="#222">10<tspan font-size="2.9" dy="-1.5">4</tspan></text>
<line x1="326.7" y1="920.8" x2="326.7" y2="922.6" stroke="#333" stroke-width="0.5"/>
<text x="327.3" y="927.7" font-size="4.3" text-anchor="middle" fill="#222">10<tspan font-size="2.9" dy="-1.5">5</tspan></text>
<line x1="348.1" y1="920.8" x2="348.1" y2="922.6" stroke="#333" stroke-width="0.5"/>
<text x="348.7" y="927.7" font-size="4.3" text-anchor="middle" fill="#222">10<tspan font-size="2.9" dy="-1.5">6</tspan></text>
<path d="M268.94 920.8v1M272.71 920.8v1M275.38 920.8v1M277.46 920.8v1M279.15 920.8v1M280.59 920.8v1M281.83 920.8v1M282.92 920.8v1M290.34 920.8v1M268.5 914.21h-1M294.11 920.8v1M268.5 910.35h-1M296.78 920.8v1M268.5 907.61h-1M298.86 920.8v1M268.5 905.49h-1M300.55 920.8v1M268.5 903.76h-1M301.99 920.8v1M268.5 902.29h-1M303.23 920.8v1M268.5 901.02h-1M304.32 920.8v1M268.5 899.9h-1M311.74 920.8v1M268.5 892.31h-1M315.51 920.8v1M268.5 888.45h-1M318.18 920.8v1M268.5 885.71h-1M320.26 920.8v1M268.5 883.59h-1M321.95 920.8v1M268.5 881.86h-1M323.39 920.8v1M268.5 880.39h-1M324.63 920.8v1M268.5 879.12h-1M325.72 920.8v1M268.5 878h-1M333.14 920.8v1M268.5 870.41h-1M336.91 920.8v1M268.5 866.55h-1M339.58 920.8v1M268.5 863.81h-1M341.66 920.8v1M268.5 861.69h-1M343.35 920.8v1M268.5 859.96h-1M344.79 920.8v1M268.5 858.49h-1M346.03 920.8v1M268.5 857.22h-1M347.12 920.8v1M268.5 856.1h-1M354.54 920.8v1M268.5 848.51h-1M268.5 844.65h-1M268.5 841.91h-1M268.5 839.79h-1M268.5 838.06h-1M268.5 836.59h-1M268.5 835.32h-1M268.5 834.2h-1" stroke="#555" stroke-width="0.4"/>
<text x="377.9" y="722.9" font-size="21.5" font-weight="bold">I</text>
<text x="421.2" y="744.25" font-size="8.6" font-weight="bold">SW620+CD8<tspan font-size="5.2" dy="-3">+</tspan><tspan dy="3"> T</tspan></text>
<rect x="417.25" y="857.64" width="9.2" height="5.96" fill="#EC4A4E" stroke="#D8303A" stroke-width="0.9"/>
<line x1="421.85" y1="855.41" x2="421.85" y2="858.97" stroke="#D8303A" stroke-width="1"/>
<line x1="419.35" y1="855.41" x2="424.35" y2="855.41" stroke="#D8303A" stroke-width="1"/>
<line x1="419.6" y1="858.97" x2="424.1" y2="858.97" stroke="#D8303A" stroke-width="0.9" stroke-opacity="0.75"/>
<circle cx="421.85" cy="855.86" r="1" fill="#D8303A"/>
<circle cx="421.85" cy="858.44" r="1" fill="#D8303A"/>
<circle cx="420.85" cy="857.19" r="1" fill="#D8303A"/>
<rect x="431.27" y="852.48" width="9.2" height="11.12" fill="#80D92E" stroke="#5DBB17" stroke-width="0.9"/>
<line x1="435.87" y1="850.25" x2="435.87" y2="853.81" stroke="#5DBB17" stroke-width="1"/>
<line x1="433.37" y1="850.25" x2="438.37" y2="850.25" stroke="#5DBB17" stroke-width="1"/>
<line x1="433.62" y1="853.81" x2="438.12" y2="853.81" stroke="#5DBB17" stroke-width="0.9" stroke-opacity="0.75"/>
<circle cx="435.87" cy="850.7" r="1" fill="#5DBB17"/>
<circle cx="435.87" cy="853.28" r="1" fill="#5DBB17"/>
<circle cx="434.87" cy="852.03" r="1" fill="#5DBB17"/>
<rect x="445.29" y="838.06" width="9.2" height="25.54" fill="#5282C8" stroke="#2C4DA8" stroke-width="0.9"/>
<line x1="449.89" y1="834.05" x2="449.89" y2="841.17" stroke="#2C4DA8" stroke-width="1"/>
<line x1="447.39" y1="834.05" x2="452.39" y2="834.05" stroke="#2C4DA8" stroke-width="1"/>
<line x1="447.64" y1="841.17" x2="452.14" y2="841.17" stroke="#2C4DA8" stroke-width="0.9" stroke-opacity="0.75"/>
<circle cx="449.89" cy="834.94" r="1" fill="#2C4DA8"/>
<circle cx="449.89" cy="840.1" r="1" fill="#2C4DA8"/>
<circle cx="448.89" cy="837.61" r="1" fill="#2C4DA8"/>
<rect x="459.31" y="828.45" width="9.2" height="35.15" fill="#C88AEA" stroke="#8638CF" stroke-width="0.9"/>
<line x1="463.91" y1="824.44" x2="463.91" y2="831.56" stroke="#8638CF" stroke-width="1"/>
<line x1="461.41" y1="824.44" x2="466.41" y2="824.44" stroke="#8638CF" stroke-width="1"/>
<line x1="461.66" y1="831.56" x2="466.16" y2="831.56" stroke="#8638CF" stroke-width="0.9" stroke-opacity="0.75"/>
<circle cx="463.91" cy="825.33" r="1" fill="#8638CF"/>
<circle cx="463.91" cy="830.49" r="1" fill="#8638CF"/>
<circle cx="462.91" cy="828" r="1" fill="#8638CF"/>
<rect x="473.33" y="816.7" width="9.2" height="46.9" fill="#F2944C" stroke="#E46C28" stroke-width="0.9"/>
<line x1="477.93" y1="810.91" x2="477.93" y2="821.59" stroke="#E46C28" stroke-width="1"/>
<line x1="475.43" y1="810.91" x2="480.43" y2="810.91" stroke="#E46C28" stroke-width="1"/>
<line x1="475.68" y1="821.59" x2="480.18" y2="821.59" stroke="#E46C28" stroke-width="0.9" stroke-opacity="0.75"/>
<circle cx="477.93" cy="812.25" r="1" fill="#E46C28"/>
<circle cx="477.93" cy="819.99" r="1" fill="#E46C28"/>
<circle cx="476.93" cy="816.25" r="1" fill="#E46C28"/>
<rect x="487.35" y="801.75" width="9.2" height="61.85" fill="#E6E84E" stroke="#BFC22A" stroke-width="0.9"/>
<line x1="491.95" y1="793.11" x2="491.95" y2="809.49" stroke="#BFC22A" stroke-width="1"/>
<line x1="489.45" y1="793.11" x2="494.45" y2="793.11" stroke="#BFC22A" stroke-width="1"/>
<line x1="489.7" y1="809.49" x2="494.2" y2="809.49" stroke="#BFC22A" stroke-width="0.9" stroke-opacity="0.75"/>
<circle cx="491.95" cy="795.16" r="1" fill="#BFC22A"/>
<circle cx="491.95" cy="807.03" r="1" fill="#BFC22A"/>
<circle cx="490.95" cy="801.3" r="1" fill="#BFC22A"/>
<line x1="412.7" y1="864.1" x2="412.7" y2="774.1" stroke="#111" stroke-width="1"/>
<line x1="410.7" y1="863.6" x2="502" y2="863.6" stroke="#111" stroke-width="1"/>
<line x1="408.4" y1="863.6" x2="412.7" y2="863.6" stroke="#111" stroke-width="0.9"/>
<text x="407.8" y="866.22" font-size="7.6" font-weight="bold" text-anchor="end" fill="#111">0</text>
<line x1="408.4" y1="845.8" x2="412.7" y2="845.8" stroke="#111" stroke-width="0.9"/>
<text x="407.8" y="848.42" font-size="7.6" font-weight="bold" text-anchor="end" fill="#111">10</text>
<line x1="408.4" y1="828" x2="412.7" y2="828" stroke="#111" stroke-width="0.9"/>
<text x="407.8" y="830.62" font-size="7.6" font-weight="bold" text-anchor="end" fill="#111">20</text>
<line x1="408.4" y1="810.2" x2="412.7" y2="810.2" stroke="#111" stroke-width="0.9"/>
<text x="407.8" y="812.82" font-size="7.6" font-weight="bold" text-anchor="end" fill="#111">30</text>
<line x1="408.4" y1="792.4" x2="412.7" y2="792.4" stroke="#111" stroke-width="0.9"/>
<text x="407.8" y="795.02" font-size="7.6" font-weight="bold" text-anchor="end" fill="#111">40</text>
<line x1="408.4" y1="774.6" x2="412.7" y2="774.6" stroke="#111" stroke-width="0.9"/>
<text x="407.8" y="777.22" font-size="7.6" font-weight="bold" text-anchor="end" fill="#111">50</text>
<line x1="421.85" y1="863.6" x2="421.85" y2="867.1" stroke="#111" stroke-width="0.9"/>
<text transform="translate(424.55 874.4) rotate(-44)" x="0" y="0" font-size="7.4" font-weight="bold" text-anchor="end" fill="#111">0 μg 27-HC</text>
<line x1="435.87" y1="863.6" x2="435.87" y2="867.1" stroke="#111" stroke-width="0.9"/>
<text transform="translate(438.57 874.4) rotate(-44)" x="0" y="0" font-size="7.4" font-weight="bold" text-anchor="end" fill="#111">1 μg 27-HC</text>
<line x1="449.89" y1="863.6" x2="449.89" y2="867.1" stroke="#111" stroke-width="0.9"/>
<text transform="translate(452.59 874.4) rotate(-44)" x="0" y="0" font-size="7.4" font-weight="bold" text-anchor="end" fill="#111">1.5 μg 27-HC</text>
<line x1="463.91" y1="863.6" x2="463.91" y2="867.1" stroke="#111" stroke-width="0.9"/>
<text transform="translate(466.61 874.4) rotate(-44)" x="0" y="0" font-size="7.4" font-weight="bold" text-anchor="end" fill="#111">2 μg 27-HC</text>
<line x1="477.93" y1="863.6" x2="477.93" y2="867.1" stroke="#111" stroke-width="0.9"/>
<text transform="translate(480.63 874.4) rotate(-44)" x="0" y="0" font-size="7.4" font-weight="bold" text-anchor="end" fill="#111">2.5 μg 27-HC</text>
<line x1="491.95" y1="863.6" x2="491.95" y2="867.1" stroke="#111" stroke-width="0.9"/>
<text transform="translate(494.65 874.4) rotate(-44)" x="0" y="0" font-size="7.4" font-weight="bold" text-anchor="end" fill="#111">3 μg 27-HC</text>
<text transform="translate(392 817.8) rotate(-90)" x="0" y="2.62" font-size="7.6" font-weight="bold" text-anchor="middle" fill="#111">Apoptosis%</text>
<path d="M421.9 823.3V818.7H449.5V823.3" stroke="#2a2a2a" stroke-width="1.1" fill="none"/>
<text x="435.85" y="819.11" font-size="11" font-weight="bold" text-anchor="middle" letter-spacing="0.3">**</text>
<path d="M421.9 808.9V804.3H463.8V808.9" stroke="#2a2a2a" stroke-width="1.1" fill="none"/>
<text x="443" y="804.41" font-size="11" font-weight="bold" text-anchor="middle" letter-spacing="0.3">**</text>
<path d="M421.9 795.3V790.7H478.1V795.3" stroke="#2a2a2a" stroke-width="1.1" fill="none"/>
<text x="450.15" y="791.11" font-size="11" font-weight="bold" text-anchor="middle" letter-spacing="0.3">**</text>
<path d="M421.9 781.4V776.8H492V781.4" stroke="#2a2a2a" stroke-width="1.1" fill="none"/>
<text x="457.1" y="776.21" font-size="11" font-weight="bold" text-anchor="middle" letter-spacing="0.3">**</text>
<text x="553.8" y="723.3" font-size="21.5" font-weight="bold">J</text>
<text x="597.1" y="744.45" font-size="8.7" font-weight="bold">SW620+CD8<tspan font-size="5.2" dy="-3">+</tspan><tspan dy="3"> T</tspan></text>
<rect x="587.75" y="819.85" width="8.6" height="43.55" fill="#EC4A4E" stroke="#D8303A" stroke-width="0.9"/>
<line x1="592.05" y1="816.76" x2="592.05" y2="822.04" stroke="#D8303A" stroke-width="1"/>
<line x1="589.55" y1="816.76" x2="594.55" y2="816.76" stroke="#D8303A" stroke-width="1"/>
<line x1="589.8" y1="822.04" x2="594.3" y2="822.04" stroke="#D8303A" stroke-width="0.9" stroke-opacity="0.75"/>
<circle cx="592.05" cy="817.42" r="1" fill="#D8303A"/>
<circle cx="592.05" cy="821.25" r="1" fill="#D8303A"/>
<circle cx="591.05" cy="819.4" r="1" fill="#D8303A"/>
<rect x="602.09" y="816.77" width="8.6" height="46.63" fill="#80D92E" stroke="#5DBB17" stroke-width="0.9"/>
<line x1="606.39" y1="815" x2="606.39" y2="817.64" stroke="#5DBB17" stroke-width="1"/>
<line x1="603.89" y1="815" x2="608.89" y2="815" stroke="#5DBB17" stroke-width="1"/>
<line x1="604.14" y1="817.64" x2="608.64" y2="817.64" stroke="#5DBB17" stroke-width="0.9" stroke-opacity="0.75"/>
<circle cx="606.39" cy="815.33" r="1" fill="#5DBB17"/>
<circle cx="606.39" cy="817.24" r="1" fill="#5DBB17"/>
<circle cx="605.39" cy="816.32" r="1" fill="#5DBB17"/>
<rect x="616.43" y="812.81" width="8.6" height="50.59" fill="#5282C8" stroke="#2C4DA8" stroke-width="0.9"/>
<line x1="620.73" y1="809.28" x2="620.73" y2="815.44" stroke="#2C4DA8" stroke-width="1"/>
<line x1="618.23" y1="809.28" x2="623.23" y2="809.28" stroke="#2C4DA8" stroke-width="1"/>
<line x1="618.48" y1="815.44" x2="622.98" y2="815.44" stroke="#2C4DA8" stroke-width="0.9" stroke-opacity="0.75"/>
<circle cx="620.73" cy="810.05" r="1" fill="#2C4DA8"/>
<circle cx="620.73" cy="814.52" r="1" fill="#2C4DA8"/>
<circle cx="619.73" cy="812.36" r="1" fill="#2C4DA8"/>
<rect x="630.77" y="806.65" width="8.6" height="56.75" fill="#C88AEA" stroke="#8638CF" stroke-width="0.9"/>
<line x1="635.07" y1="803.12" x2="635.07" y2="809.28" stroke="#8638CF" stroke-width="1"/>
<line x1="632.57" y1="803.12" x2="637.57" y2="803.12" stroke="#8638CF" stroke-width="1"/>
<line x1="632.82" y1="809.28" x2="637.32" y2="809.28" stroke="#8638CF" stroke-width="0.9" stroke-opacity="0.75"/>
<circle cx="635.07" cy="803.89" r="1" fill="#8638CF"/>
<circle cx="635.07" cy="808.36" r="1" fill="#8638CF"/>
<circle cx="634.07" cy="806.2" r="1" fill="#8638CF"/>
<rect x="645.11" y="802.69" width="8.6" height="60.71" fill="#F2944C" stroke="#E46C28" stroke-width="0.9"/>
<line x1="649.41" y1="799.6" x2="649.41" y2="804.88" stroke="#E46C28" stroke-width="1"/>
<line x1="646.91" y1="799.6" x2="651.91" y2="799.6" stroke="#E46C28" stroke-width="1"/>
<line x1="647.16" y1="804.88" x2="651.66" y2="804.88" stroke="#E46C28" stroke-width="0.9" stroke-opacity="0.75"/>
<circle cx="649.41" cy="800.26" r="1" fill="#E46C28"/>
<circle cx="649.41" cy="804.09" r="1" fill="#E46C28"/>
<circle cx="648.41" cy="802.24" r="1" fill="#E46C28"/>
<rect x="659.45" y="798.73" width="8.6" height="64.67" fill="#E6E84E" stroke="#BFC22A" stroke-width="0.9"/>
<line x1="663.75" y1="796.08" x2="663.75" y2="800.48" stroke="#BFC22A" stroke-width="1"/>
<line x1="661.25" y1="796.08" x2="666.25" y2="796.08" stroke="#BFC22A" stroke-width="1"/>
<line x1="661.5" y1="800.48" x2="666" y2="800.48" stroke="#BFC22A" stroke-width="0.9" stroke-opacity="0.75"/>
<circle cx="663.75" cy="796.63" r="1" fill="#BFC22A"/>
<circle cx="663.75" cy="799.82" r="1" fill="#BFC22A"/>
<circle cx="662.75" cy="798.28" r="1" fill="#BFC22A"/>
<line x1="582.4" y1="863.9" x2="582.4" y2="774.9" stroke="#111" stroke-width="1"/>
<line x1="577.7" y1="863.4" x2="674.8" y2="863.4" stroke="#111" stroke-width="1"/>
<line x1="578.1" y1="863.4" x2="582.4" y2="863.4" stroke="#111" stroke-width="0.9"/>
<text x="577.5" y="866.02" font-size="7.6" font-weight="bold" text-anchor="end" fill="#111">0</text>
<line x1="578.1" y1="841.4" x2="582.4" y2="841.4" stroke="#111" stroke-width="0.9"/>
<text x="577.5" y="844.02" font-size="7.6" font-weight="bold" text-anchor="end" fill="#111">50</text>
<line x1="578.1" y1="819.4" x2="582.4" y2="819.4" stroke="#111" stroke-width="0.9"/>
<text x="577.5" y="822.02" font-size="7.6" font-weight="bold" text-anchor="end" fill="#111">100</text>
<line x1="578.1" y1="797.4" x2="582.4" y2="797.4" stroke="#111" stroke-width="0.9"/>
<text x="577.5" y="800.02" font-size="7.6" font-weight="bold" text-anchor="end" fill="#111">150</text>
<line x1="578.1" y1="775.4" x2="582.4" y2="775.4" stroke="#111" stroke-width="0.9"/>
<text x="577.5" y="778.02" font-size="7.6" font-weight="bold" text-anchor="end" fill="#111">200</text>
<line x1="592.05" y1="863.4" x2="592.05" y2="866.9" stroke="#111" stroke-width="0.9"/>
<text transform="translate(594.75 874.2) rotate(-44)" x="0" y="0" font-size="7.4" font-weight="bold" text-anchor="end" fill="#111">0 μg 27-HC</text>
<line x1="606.39" y1="863.4" x2="606.39" y2="866.9" stroke="#111" stroke-width="0.9"/>
<text transform="translate(609.09 874.2) rotate(-44)" x="0" y="0" font-size="7.4" font-weight="bold" text-anchor="end" fill="#111">1 μg 27-HC</text>
<line x1="620.73" y1="863.4" x2="620.73" y2="866.9" stroke="#111" stroke-width="0.9"/>
<text transform="translate(623.43 874.2) rotate(-44)" x="0" y="0" font-size="7.4" font-weight="bold" text-anchor="end" fill="#111">1.5 μg 27-HC</text>
<line x1="635.07" y1="863.4" x2="635.07" y2="866.9" stroke="#111" stroke-width="0.9"/>
<text transform="translate(637.77 874.2) rotate(-44)" x="0" y="0" font-size="7.4" font-weight="bold" text-anchor="end" fill="#111">2 μg 27-HC</text>
<line x1="649.41" y1="863.4" x2="649.41" y2="866.9" stroke="#111" stroke-width="0.9"/>
<text transform="translate(652.11 874.2) rotate(-44)" x="0" y="0" font-size="7.4" font-weight="bold" text-anchor="end" fill="#111">2.5 μg 27-HC</text>
<line x1="663.75" y1="863.4" x2="663.75" y2="866.9" stroke="#111" stroke-width="0.9"/>
<text transform="translate(666.45 874.2) rotate(-44)" x="0" y="0" font-size="7.4" font-weight="bold" text-anchor="end" fill="#111">3 μg 27-HC</text>
<text transform="translate(557.7 817.8) rotate(-90)" x="0" y="2.62" font-size="7.6" font-weight="bold" text-anchor="middle" fill="#111">Cell viability (%)</text>
<path d="M592 805V800.4H621V805" stroke="#2a2a2a" stroke-width="1.1" fill="none"/>
<text x="606.65" y="800.91" font-size="11" font-weight="bold" text-anchor="middle" letter-spacing="0.3">*</text>
<path d="M592 791.3V786.7H635.5V791.3" stroke="#2a2a2a" stroke-width="1.1" fill="none"/>
<text x="613.9" y="786.71" font-size="11" font-weight="bold" text-anchor="middle" letter-spacing="0.3">**</text>
<path d="M592 777.8V773.2H650.3V777.8" stroke="#2a2a2a" stroke-width="1.1" fill="none"/>
<text x="621.3" y="773.01" font-size="11" font-weight="bold" text-anchor="middle" letter-spacing="0.3">**</text>
<path d="M592 763.9V759.3H664.6V763.9" stroke="#2a2a2a" stroke-width="1.1" fill="none"/>
<text x="628.45" y="758.71" font-size="11" font-weight="bold" text-anchor="middle" letter-spacing="0.3">**</text>
</svg></body></html>
